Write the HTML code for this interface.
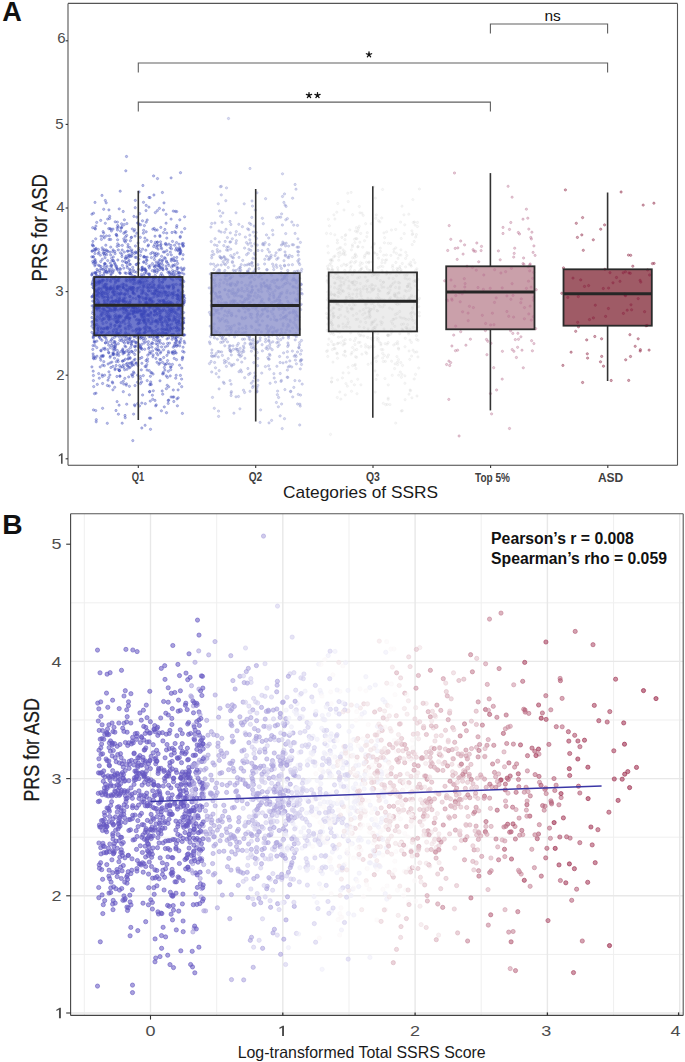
<!DOCTYPE html><html><head><meta charset="utf-8"><style>html,body{margin:0;padding:0;background:#fff;width:685px;height:1062px;overflow:hidden}svg{display:block;font-family:"Liberation Sans",sans-serif}.c0{fill:#685ac3;stroke:#685ac3}.c1{fill:#aca4de;stroke:#aca4de}.c2{fill:#d3cfee;stroke:#d3cfee}.c3{fill:#efeef9;stroke:#efeef9}.c4{fill:#fcf8f9;stroke:#fcf8f9}.c5{fill:#f1e2e6;stroke:#f1e2e6}.c6{fill:#e9cfd6;stroke:#e9cfd6}.c7{fill:#e1bfc9;stroke:#e1bfc9}.c8{fill:#dab0bd;stroke:#dab0bd}.c9{fill:#d4a4b2;stroke:#d4a4b2}.c10{fill:#cf98a8;stroke:#cf98a8}.c11{fill:#ca8d9f;stroke:#ca8d9f}.c12{fill:#c58497;stroke:#c58497}.c13{fill:#c17b8f;stroke:#c17b8f}.c14{fill:#bd7288;stroke:#bd7288}.c15{fill:#ba6a82;stroke:#ba6a82}.c16{fill:#b6637b;stroke:#b6637b}.c17{fill:#b35c75;stroke:#b35c75}.c18{fill:#b05670;stroke:#b05670}.c19{fill:#ad4f6b;stroke:#ad4f6b}.c20{fill:#aa4966;stroke:#aa4966}.c21{fill:#a84461;stroke:#a84461}.c22{fill:#a53e5c;stroke:#a53e5c}.c23{fill:#a33958;stroke:#a33958}.c24{fill:#a03454;stroke:#a03454}.c25{fill:#9e2f50;stroke:#9e2f50}.c26{fill:#9c2b4c;stroke:#9c2b4c}.c27{fill:#9a2648;stroke:#9a2648}.c28{fill:#982244;stroke:#982244}.c29{fill:#961e41;stroke:#961e41}</style></head><body><svg width="685" height="1062" viewBox="0 0 685 1062">
<rect width="685" height="1062" fill="#fff"/>
<rect x="94.2" y="277" width="88.3" height="58.3" fill="#6d77cc"/>
<rect x="211.5" y="273.1" width="88.3" height="61.9" fill="#a4a8d6"/>
<rect x="328.7" y="272.4" width="88.3" height="59" fill="#ececec"/>
<rect x="446.2" y="266.3" width="88.3" height="63" fill="#caa0aa"/>
<rect x="563.5" y="269.3" width="88.3" height="56.4" fill="#9f5b66"/>
<g fill="#3c48b9" stroke="#3c48b9" fill-opacity="0.32" stroke-opacity="0.42" stroke-width=".8">
<circle cx="171.1" cy="366.9" r="1.15"/>
<circle cx="175.7" cy="250" r="1.15"/>
<circle cx="105.5" cy="342.8" r="1.15"/>
<circle cx="134.8" cy="316.2" r="1.15"/>
<circle cx="110.2" cy="308.3" r="1.15"/>
<circle cx="119.3" cy="337.2" r="1.15"/>
<circle cx="126.1" cy="364.4" r="1.15"/>
<circle cx="150.5" cy="276.8" r="1.15"/>
<circle cx="100.7" cy="289.3" r="1.15"/>
<circle cx="178.1" cy="389.9" r="1.15"/>
<circle cx="164" cy="202.9" r="1.15"/>
<circle cx="95.9" cy="262.9" r="1.15"/>
<circle cx="93.3" cy="338" r="1.15"/>
<circle cx="153.9" cy="265.8" r="1.15"/>
<circle cx="146" cy="325.3" r="1.15"/>
<circle cx="137.4" cy="307.6" r="1.15"/>
<circle cx="152.3" cy="270.7" r="1.15"/>
<circle cx="160.8" cy="359.6" r="1.15"/>
<circle cx="159" cy="279.9" r="1.15"/>
<circle cx="179" cy="244.2" r="1.15"/>
<circle cx="129.8" cy="247.5" r="1.15"/>
<circle cx="129.9" cy="318" r="1.15"/>
<circle cx="111.4" cy="265.7" r="1.15"/>
<circle cx="93.4" cy="375.5" r="1.15"/>
<circle cx="174.4" cy="311.9" r="1.15"/>
<circle cx="120.7" cy="285.4" r="1.15"/>
<circle cx="129.3" cy="363.4" r="1.15"/>
<circle cx="158" cy="308.5" r="1.15"/>
<circle cx="117.5" cy="230" r="1.15"/>
<circle cx="120.2" cy="191.2" r="1.15"/>
<circle cx="146" cy="271.2" r="1.15"/>
<circle cx="157" cy="269" r="1.15"/>
<circle cx="157.9" cy="346.7" r="1.15"/>
<circle cx="130.1" cy="357.6" r="1.15"/>
<circle cx="145.1" cy="366.4" r="1.15"/>
<circle cx="94.8" cy="281.4" r="1.15"/>
<circle cx="167.9" cy="272.3" r="1.15"/>
<circle cx="118.9" cy="333.6" r="1.15"/>
<circle cx="95.5" cy="358.4" r="1.15"/>
<circle cx="122.7" cy="293.8" r="1.15"/>
<circle cx="106" cy="291.4" r="1.15"/>
<circle cx="111.9" cy="310.7" r="1.15"/>
<circle cx="177.8" cy="249.8" r="1.15"/>
<circle cx="157.1" cy="309" r="1.15"/>
<circle cx="131.9" cy="307.9" r="1.15"/>
<circle cx="151" cy="353.2" r="1.15"/>
<circle cx="146.2" cy="299.1" r="1.15"/>
<circle cx="117.1" cy="246.4" r="1.15"/>
<circle cx="139.1" cy="302.3" r="1.15"/>
<circle cx="119" cy="301.9" r="1.15"/>
<circle cx="94.1" cy="286.1" r="1.15"/>
<circle cx="180.7" cy="292.9" r="1.15"/>
<circle cx="140.7" cy="281.9" r="1.15"/>
<circle cx="110.8" cy="281.6" r="1.15"/>
<circle cx="142.1" cy="278.1" r="1.15"/>
<circle cx="153.5" cy="339.5" r="1.15"/>
<circle cx="114.4" cy="291.9" r="1.15"/>
<circle cx="131.6" cy="374.6" r="1.15"/>
<circle cx="99.1" cy="293.4" r="1.15"/>
<circle cx="117.8" cy="359.8" r="1.15"/>
<circle cx="135.5" cy="308.1" r="1.15"/>
<circle cx="176.3" cy="284.4" r="1.15"/>
<circle cx="183.7" cy="323" r="1.15"/>
<circle cx="122.3" cy="300.7" r="1.15"/>
<circle cx="120" cy="376.3" r="1.15"/>
<circle cx="94.2" cy="342.2" r="1.15"/>
<circle cx="91.8" cy="275.1" r="1.15"/>
<circle cx="147.7" cy="355.2" r="1.15"/>
<circle cx="173.7" cy="276.7" r="1.15"/>
<circle cx="137.8" cy="365.3" r="1.15"/>
<circle cx="151" cy="344.4" r="1.15"/>
<circle cx="133.2" cy="352.6" r="1.15"/>
<circle cx="107.3" cy="304.7" r="1.15"/>
<circle cx="183.8" cy="281.7" r="1.15"/>
<circle cx="182.6" cy="351.3" r="1.15"/>
<circle cx="126.3" cy="312.9" r="1.15"/>
<circle cx="116.3" cy="234.5" r="1.15"/>
<circle cx="152.3" cy="318.8" r="1.15"/>
<circle cx="119.8" cy="340.4" r="1.15"/>
<circle cx="168.3" cy="288.2" r="1.15"/>
<circle cx="115.8" cy="314.7" r="1.15"/>
<circle cx="115.2" cy="335.5" r="1.15"/>
<circle cx="112.7" cy="383" r="1.15"/>
<circle cx="102.5" cy="269.4" r="1.15"/>
<circle cx="140.1" cy="329.8" r="1.15"/>
<circle cx="173.1" cy="304.9" r="1.15"/>
<circle cx="123" cy="351.2" r="1.15"/>
<circle cx="96.1" cy="248.4" r="1.15"/>
<circle cx="100" cy="272.5" r="1.15"/>
<circle cx="143.6" cy="262.3" r="1.15"/>
<circle cx="113.5" cy="309.8" r="1.15"/>
<circle cx="105.4" cy="284.6" r="1.15"/>
<circle cx="104" cy="266.3" r="1.15"/>
<circle cx="113" cy="260.5" r="1.15"/>
<circle cx="101.7" cy="291.4" r="1.15"/>
<circle cx="181.8" cy="307.7" r="1.15"/>
<circle cx="97" cy="320.6" r="1.15"/>
<circle cx="176.1" cy="337.5" r="1.15"/>
<circle cx="161.6" cy="346.9" r="1.15"/>
<circle cx="109.3" cy="289.3" r="1.15"/>
<circle cx="147.8" cy="315.6" r="1.15"/>
<circle cx="123.3" cy="391.7" r="1.15"/>
<circle cx="128.2" cy="311.7" r="1.15"/>
<circle cx="125.6" cy="258.7" r="1.15"/>
<circle cx="162" cy="316.9" r="1.15"/>
<circle cx="107.4" cy="385.5" r="1.15"/>
<circle cx="160" cy="310.4" r="1.15"/>
<circle cx="110.7" cy="270.9" r="1.15"/>
<circle cx="138.8" cy="296.2" r="1.15"/>
<circle cx="182.3" cy="323.6" r="1.15"/>
<circle cx="139.1" cy="224.6" r="1.15"/>
<circle cx="96.7" cy="222.4" r="1.15"/>
<circle cx="121.1" cy="309.3" r="1.15"/>
<circle cx="144.8" cy="269.6" r="1.15"/>
<circle cx="107" cy="287.9" r="1.15"/>
<circle cx="154.9" cy="271" r="1.15"/>
<circle cx="160.5" cy="241.8" r="1.15"/>
<circle cx="166.8" cy="269.3" r="1.15"/>
<circle cx="160.1" cy="301.2" r="1.15"/>
<circle cx="97" cy="333.4" r="1.15"/>
<circle cx="126.9" cy="340.3" r="1.15"/>
<circle cx="150.9" cy="306.1" r="1.15"/>
<circle cx="167.7" cy="254.6" r="1.15"/>
<circle cx="112.5" cy="291.9" r="1.15"/>
<circle cx="183.9" cy="302.7" r="1.15"/>
<circle cx="152.9" cy="293.8" r="1.15"/>
<circle cx="183" cy="303.4" r="1.15"/>
<circle cx="138.4" cy="281.2" r="1.15"/>
<circle cx="173.7" cy="353.8" r="1.15"/>
<circle cx="153.3" cy="390.8" r="1.15"/>
<circle cx="138.8" cy="323.5" r="1.15"/>
<circle cx="153.2" cy="354.9" r="1.15"/>
<circle cx="116.3" cy="234.8" r="1.15"/>
<circle cx="133.8" cy="311.9" r="1.15"/>
<circle cx="173.8" cy="316" r="1.15"/>
<circle cx="108.9" cy="371.8" r="1.15"/>
<circle cx="143.1" cy="292.7" r="1.15"/>
<circle cx="101.7" cy="332.1" r="1.15"/>
<circle cx="126" cy="256.2" r="1.15"/>
<circle cx="177.3" cy="268.4" r="1.15"/>
<circle cx="181" cy="338.7" r="1.15"/>
<circle cx="151.8" cy="287.1" r="1.15"/>
<circle cx="107.3" cy="423.3" r="1.15"/>
<circle cx="138.2" cy="334.2" r="1.15"/>
<circle cx="94.4" cy="250.8" r="1.15"/>
<circle cx="172.6" cy="270.6" r="1.15"/>
<circle cx="146.4" cy="297.4" r="1.15"/>
<circle cx="168" cy="306.2" r="1.15"/>
<circle cx="122.4" cy="366.7" r="1.15"/>
<circle cx="164.7" cy="364.1" r="1.15"/>
<circle cx="96.2" cy="295.3" r="1.15"/>
<circle cx="94.8" cy="228.4" r="1.15"/>
<circle cx="152.7" cy="399.3" r="1.15"/>
<circle cx="147.9" cy="277.7" r="1.15"/>
<circle cx="171.1" cy="278.8" r="1.15"/>
<circle cx="152.4" cy="263.6" r="1.15"/>
<circle cx="114.7" cy="342.8" r="1.15"/>
<circle cx="176.5" cy="328" r="1.15"/>
<circle cx="167.5" cy="303" r="1.15"/>
<circle cx="128.7" cy="349.6" r="1.15"/>
<circle cx="174.2" cy="358.4" r="1.15"/>
<circle cx="167.6" cy="343.4" r="1.15"/>
<circle cx="97.3" cy="308.1" r="1.15"/>
<circle cx="110.1" cy="288.7" r="1.15"/>
<circle cx="149.9" cy="306" r="1.15"/>
<circle cx="123.1" cy="301.6" r="1.15"/>
<circle cx="141" cy="334.7" r="1.15"/>
<circle cx="126" cy="336.3" r="1.15"/>
<circle cx="161.6" cy="256.3" r="1.15"/>
<circle cx="169.2" cy="307.4" r="1.15"/>
<circle cx="153" cy="308.6" r="1.15"/>
<circle cx="129.6" cy="264.3" r="1.15"/>
<circle cx="181" cy="251.1" r="1.15"/>
<circle cx="104.1" cy="249.6" r="1.15"/>
<circle cx="106.2" cy="287.3" r="1.15"/>
<circle cx="99.4" cy="307.2" r="1.15"/>
<circle cx="168.9" cy="292.4" r="1.15"/>
<circle cx="105.1" cy="297.2" r="1.15"/>
<circle cx="165.3" cy="244.2" r="1.15"/>
<circle cx="158.3" cy="292.3" r="1.15"/>
<circle cx="156.2" cy="277.2" r="1.15"/>
<circle cx="127" cy="306.2" r="1.15"/>
<circle cx="122.3" cy="245.4" r="1.15"/>
<circle cx="162.7" cy="394.2" r="1.15"/>
<circle cx="113.3" cy="288.4" r="1.15"/>
<circle cx="131.4" cy="272.1" r="1.15"/>
<circle cx="118.9" cy="355.4" r="1.15"/>
<circle cx="123.2" cy="211.5" r="1.15"/>
<circle cx="171.3" cy="311.5" r="1.15"/>
<circle cx="135.4" cy="312" r="1.15"/>
<circle cx="139.2" cy="351.9" r="1.15"/>
<circle cx="159.8" cy="266.8" r="1.15"/>
<circle cx="96.9" cy="295.2" r="1.15"/>
<circle cx="116.8" cy="330.7" r="1.15"/>
<circle cx="169.6" cy="295.1" r="1.15"/>
<circle cx="132" cy="275.1" r="1.15"/>
<circle cx="110.1" cy="252.2" r="1.15"/>
<circle cx="97.4" cy="295.6" r="1.15"/>
<circle cx="135.1" cy="346.9" r="1.15"/>
<circle cx="101.5" cy="329.2" r="1.15"/>
<circle cx="156.2" cy="404.9" r="1.15"/>
<circle cx="133.9" cy="336.8" r="1.15"/>
<circle cx="146.2" cy="273" r="1.15"/>
<circle cx="173.7" cy="284.7" r="1.15"/>
<circle cx="103.8" cy="309.7" r="1.15"/>
<circle cx="160.3" cy="319.8" r="1.15"/>
<circle cx="135.1" cy="236.1" r="1.15"/>
<circle cx="97.7" cy="292.7" r="1.15"/>
<circle cx="159.1" cy="265.4" r="1.15"/>
<circle cx="123.2" cy="287.8" r="1.15"/>
<circle cx="164.3" cy="334.1" r="1.15"/>
<circle cx="180.2" cy="237.4" r="1.15"/>
<circle cx="93.8" cy="358.8" r="1.15"/>
<circle cx="94.9" cy="357" r="1.15"/>
<circle cx="145.9" cy="323.6" r="1.15"/>
<circle cx="148.9" cy="336.7" r="1.15"/>
<circle cx="136.7" cy="329.2" r="1.15"/>
<circle cx="169.5" cy="331.1" r="1.15"/>
<circle cx="156.2" cy="262.1" r="1.15"/>
<circle cx="152.1" cy="302.6" r="1.15"/>
<circle cx="130.9" cy="289.7" r="1.15"/>
<circle cx="162.6" cy="374" r="1.15"/>
<circle cx="158.6" cy="341.8" r="1.15"/>
<circle cx="105.1" cy="257.8" r="1.15"/>
<circle cx="110" cy="357.3" r="1.15"/>
<circle cx="150.7" cy="253.7" r="1.15"/>
<circle cx="163.5" cy="349.8" r="1.15"/>
<circle cx="174.3" cy="292" r="1.15"/>
<circle cx="115.1" cy="341.8" r="1.15"/>
<circle cx="157.1" cy="296.4" r="1.15"/>
<circle cx="131.2" cy="344.1" r="1.15"/>
<circle cx="121.5" cy="316.1" r="1.15"/>
<circle cx="125" cy="232.3" r="1.15"/>
<circle cx="165.8" cy="321.3" r="1.15"/>
<circle cx="133.9" cy="216.4" r="1.15"/>
<circle cx="161.8" cy="324.9" r="1.15"/>
<circle cx="93.3" cy="356.1" r="1.15"/>
<circle cx="153.5" cy="301.7" r="1.15"/>
<circle cx="176.1" cy="322.8" r="1.15"/>
<circle cx="184.7" cy="228.6" r="1.15"/>
<circle cx="160.5" cy="267.5" r="1.15"/>
<circle cx="180" cy="253.6" r="1.15"/>
<circle cx="144.5" cy="277.5" r="1.15"/>
<circle cx="150.1" cy="197.6" r="1.15"/>
<circle cx="176.8" cy="270.4" r="1.15"/>
<circle cx="162.6" cy="281.9" r="1.15"/>
<circle cx="180.4" cy="341" r="1.15"/>
<circle cx="148.2" cy="344.5" r="1.15"/>
<circle cx="183.8" cy="297" r="1.15"/>
<circle cx="95.5" cy="261.6" r="1.15"/>
<circle cx="144.1" cy="256.4" r="1.15"/>
<circle cx="124.9" cy="346" r="1.15"/>
<circle cx="96.8" cy="281.9" r="1.15"/>
<circle cx="111.6" cy="296.6" r="1.15"/>
<circle cx="149.3" cy="353.6" r="1.15"/>
<circle cx="94.7" cy="282.7" r="1.15"/>
<circle cx="137.6" cy="403.7" r="1.15"/>
<circle cx="120.8" cy="293.5" r="1.15"/>
<circle cx="149" cy="197.5" r="1.15"/>
<circle cx="115" cy="349.3" r="1.15"/>
<circle cx="110.1" cy="304.2" r="1.15"/>
<circle cx="114.7" cy="387.3" r="1.15"/>
<circle cx="176.1" cy="337.8" r="1.15"/>
<circle cx="108.5" cy="272.1" r="1.15"/>
<circle cx="135.5" cy="350.3" r="1.15"/>
<circle cx="106.5" cy="306.5" r="1.15"/>
<circle cx="155.9" cy="320.4" r="1.15"/>
<circle cx="178.4" cy="321.4" r="1.15"/>
<circle cx="107.4" cy="296.7" r="1.15"/>
<circle cx="122.8" cy="283.9" r="1.15"/>
<circle cx="114.9" cy="251.5" r="1.15"/>
<circle cx="142.1" cy="268.8" r="1.15"/>
<circle cx="98" cy="329.5" r="1.15"/>
<circle cx="165.7" cy="243.5" r="1.15"/>
<circle cx="166.8" cy="250.7" r="1.15"/>
<circle cx="151" cy="372.7" r="1.15"/>
<circle cx="141.7" cy="276.1" r="1.15"/>
<circle cx="109" cy="269.1" r="1.15"/>
<circle cx="126.6" cy="263" r="1.15"/>
<circle cx="147.2" cy="281.2" r="1.15"/>
<circle cx="147.5" cy="361.4" r="1.15"/>
<circle cx="119.5" cy="316.6" r="1.15"/>
<circle cx="142.6" cy="395" r="1.15"/>
<circle cx="137.4" cy="311.8" r="1.15"/>
<circle cx="184.6" cy="216.8" r="1.15"/>
<circle cx="160.6" cy="275.3" r="1.15"/>
<circle cx="120.1" cy="268.6" r="1.15"/>
<circle cx="107.9" cy="327.3" r="1.15"/>
<circle cx="112.9" cy="349.1" r="1.15"/>
<circle cx="168.4" cy="351.5" r="1.15"/>
<circle cx="178.7" cy="299.6" r="1.15"/>
<circle cx="111.4" cy="339.9" r="1.15"/>
<circle cx="136.7" cy="332.7" r="1.15"/>
<circle cx="104.4" cy="255.2" r="1.15"/>
<circle cx="150.4" cy="376.3" r="1.15"/>
<circle cx="111.9" cy="362.1" r="1.15"/>
<circle cx="131.2" cy="327.2" r="1.15"/>
<circle cx="123.9" cy="309.3" r="1.15"/>
<circle cx="162.2" cy="310.6" r="1.15"/>
<circle cx="104.3" cy="365.7" r="1.15"/>
<circle cx="139.4" cy="296.6" r="1.15"/>
<circle cx="155.7" cy="310.6" r="1.15"/>
<circle cx="127.6" cy="289.6" r="1.15"/>
<circle cx="123.5" cy="352.1" r="1.15"/>
<circle cx="93.7" cy="294.3" r="1.15"/>
<circle cx="101.8" cy="295.4" r="1.15"/>
<circle cx="107.3" cy="333.7" r="1.15"/>
<circle cx="106.8" cy="314.5" r="1.15"/>
<circle cx="146" cy="329.1" r="1.15"/>
<circle cx="147.9" cy="246" r="1.15"/>
<circle cx="132.8" cy="440.6" r="1.15"/>
<circle cx="129.2" cy="367.9" r="1.15"/>
<circle cx="181.6" cy="379.1" r="1.15"/>
<circle cx="157.4" cy="321.4" r="1.15"/>
<circle cx="173.7" cy="334.5" r="1.15"/>
<circle cx="143.9" cy="322.9" r="1.15"/>
<circle cx="130.4" cy="273.7" r="1.15"/>
<circle cx="166.3" cy="375.9" r="1.15"/>
<circle cx="148.4" cy="341.7" r="1.15"/>
<circle cx="94.2" cy="314.7" r="1.15"/>
<circle cx="182.6" cy="357.2" r="1.15"/>
<circle cx="134.2" cy="288.9" r="1.15"/>
<circle cx="148.3" cy="290.6" r="1.15"/>
<circle cx="135.2" cy="335.9" r="1.15"/>
<circle cx="141.6" cy="382" r="1.15"/>
<circle cx="126.7" cy="235.4" r="1.15"/>
<circle cx="123.9" cy="284.5" r="1.15"/>
<circle cx="166.9" cy="286.6" r="1.15"/>
<circle cx="159.5" cy="301.8" r="1.15"/>
<circle cx="164.3" cy="305.3" r="1.15"/>
<circle cx="117.4" cy="268.8" r="1.15"/>
<circle cx="160.4" cy="305.7" r="1.15"/>
<circle cx="162.4" cy="332.4" r="1.15"/>
<circle cx="183.9" cy="274.1" r="1.15"/>
<circle cx="163.9" cy="302.4" r="1.15"/>
<circle cx="130" cy="338.6" r="1.15"/>
<circle cx="139.1" cy="344.4" r="1.15"/>
<circle cx="121.9" cy="254.3" r="1.15"/>
<circle cx="94.2" cy="277.5" r="1.15"/>
<circle cx="107.7" cy="219.1" r="1.15"/>
<circle cx="150.1" cy="327.9" r="1.15"/>
<circle cx="141.3" cy="337.3" r="1.15"/>
<circle cx="123.2" cy="287.4" r="1.15"/>
<circle cx="148.5" cy="245" r="1.15"/>
<circle cx="135.1" cy="279" r="1.15"/>
<circle cx="126.8" cy="286.1" r="1.15"/>
<circle cx="137.6" cy="222.9" r="1.15"/>
<circle cx="114.6" cy="337.3" r="1.15"/>
<circle cx="135" cy="359.2" r="1.15"/>
<circle cx="141.6" cy="337.3" r="1.15"/>
<circle cx="104.5" cy="318.8" r="1.15"/>
<circle cx="118.1" cy="288.7" r="1.15"/>
<circle cx="173.8" cy="260.5" r="1.15"/>
<circle cx="146.8" cy="287.3" r="1.15"/>
<circle cx="123.8" cy="238.8" r="1.15"/>
<circle cx="94.3" cy="340.9" r="1.15"/>
<circle cx="117.4" cy="222.1" r="1.15"/>
<circle cx="102" cy="340.3" r="1.15"/>
<circle cx="179.8" cy="254.1" r="1.15"/>
<circle cx="139.3" cy="345.7" r="1.15"/>
<circle cx="96.2" cy="290.1" r="1.15"/>
<circle cx="145.1" cy="302.8" r="1.15"/>
<circle cx="144.3" cy="282.5" r="1.15"/>
<circle cx="129.3" cy="272.3" r="1.15"/>
<circle cx="147.9" cy="314.2" r="1.15"/>
<circle cx="171.9" cy="307.9" r="1.15"/>
<circle cx="108.1" cy="294.6" r="1.15"/>
<circle cx="103.8" cy="361.7" r="1.15"/>
<circle cx="150.3" cy="336.8" r="1.15"/>
<circle cx="143.3" cy="375.6" r="1.15"/>
<circle cx="165" cy="304.7" r="1.15"/>
<circle cx="159.4" cy="208.4" r="1.15"/>
<circle cx="172.9" cy="272.7" r="1.15"/>
<circle cx="175.8" cy="342.6" r="1.15"/>
<circle cx="156.9" cy="335.7" r="1.15"/>
<circle cx="126.3" cy="262.6" r="1.15"/>
<circle cx="120.2" cy="325.6" r="1.15"/>
<circle cx="102.1" cy="374.9" r="1.15"/>
<circle cx="104.8" cy="349.4" r="1.15"/>
<circle cx="174.7" cy="350.8" r="1.15"/>
<circle cx="92.8" cy="349.4" r="1.15"/>
<circle cx="162.7" cy="275.6" r="1.15"/>
<circle cx="145.9" cy="301.9" r="1.15"/>
<circle cx="115" cy="369.7" r="1.15"/>
<circle cx="97.6" cy="328.4" r="1.15"/>
<circle cx="134.8" cy="354.5" r="1.15"/>
<circle cx="163.7" cy="357.5" r="1.15"/>
<circle cx="119.3" cy="370.5" r="1.15"/>
<circle cx="95.4" cy="229" r="1.15"/>
<circle cx="129.7" cy="318.3" r="1.15"/>
<circle cx="164.5" cy="279.9" r="1.15"/>
<circle cx="142.3" cy="267.2" r="1.15"/>
<circle cx="176.2" cy="321.7" r="1.15"/>
<circle cx="130.5" cy="281.7" r="1.15"/>
<circle cx="135" cy="281.5" r="1.15"/>
<circle cx="184.1" cy="295.3" r="1.15"/>
<circle cx="157.3" cy="210.7" r="1.15"/>
<circle cx="117.1" cy="292.6" r="1.15"/>
<circle cx="180.1" cy="314.9" r="1.15"/>
<circle cx="115.9" cy="276.9" r="1.15"/>
<circle cx="92.7" cy="227.7" r="1.15"/>
<circle cx="143.9" cy="261.8" r="1.15"/>
<circle cx="118.8" cy="325.8" r="1.15"/>
<circle cx="136.3" cy="342.3" r="1.15"/>
<circle cx="115.7" cy="345.4" r="1.15"/>
<circle cx="152.5" cy="333.8" r="1.15"/>
<circle cx="138.1" cy="288.2" r="1.15"/>
<circle cx="123.8" cy="268.2" r="1.15"/>
<circle cx="145.3" cy="403.7" r="1.15"/>
<circle cx="151.2" cy="305.8" r="1.15"/>
<circle cx="168.5" cy="353" r="1.15"/>
<circle cx="143.9" cy="275.3" r="1.15"/>
<circle cx="98.4" cy="265.2" r="1.15"/>
<circle cx="145.4" cy="338.8" r="1.15"/>
<circle cx="96.7" cy="324.5" r="1.15"/>
<circle cx="134.4" cy="346.3" r="1.15"/>
<circle cx="160.7" cy="288" r="1.15"/>
<circle cx="109.9" cy="375" r="1.15"/>
<circle cx="123" cy="353.9" r="1.15"/>
<circle cx="171.7" cy="334.7" r="1.15"/>
<circle cx="112.8" cy="251.7" r="1.15"/>
<circle cx="105.3" cy="200.5" r="1.15"/>
<circle cx="157.2" cy="304.1" r="1.15"/>
<circle cx="139.9" cy="358.5" r="1.15"/>
<circle cx="125.7" cy="301.8" r="1.15"/>
<circle cx="136.3" cy="342.8" r="1.15"/>
<circle cx="126.1" cy="285" r="1.15"/>
<circle cx="113.2" cy="353.4" r="1.15"/>
<circle cx="143.6" cy="321" r="1.15"/>
<circle cx="93.4" cy="305.6" r="1.15"/>
<circle cx="143" cy="282.4" r="1.15"/>
<circle cx="115.3" cy="308.3" r="1.15"/>
<circle cx="106.1" cy="249.9" r="1.15"/>
<circle cx="149.8" cy="299.6" r="1.15"/>
<circle cx="126.4" cy="383.8" r="1.15"/>
<circle cx="115.3" cy="264.8" r="1.15"/>
<circle cx="165.2" cy="317.6" r="1.15"/>
<circle cx="128.6" cy="334.1" r="1.15"/>
<circle cx="101.4" cy="239.4" r="1.15"/>
<circle cx="104.9" cy="348.2" r="1.15"/>
<circle cx="117.9" cy="301.8" r="1.15"/>
<circle cx="134.3" cy="336" r="1.15"/>
<circle cx="157.2" cy="246.2" r="1.15"/>
<circle cx="156.6" cy="320.8" r="1.15"/>
<circle cx="119.9" cy="294.7" r="1.15"/>
<circle cx="116.1" cy="365.5" r="1.15"/>
<circle cx="176.5" cy="242.6" r="1.15"/>
<circle cx="131.3" cy="351.5" r="1.15"/>
<circle cx="122.4" cy="265.4" r="1.15"/>
<circle cx="154.6" cy="256.6" r="1.15"/>
<circle cx="108" cy="251.4" r="1.15"/>
<circle cx="95.9" cy="226.1" r="1.15"/>
<circle cx="101.3" cy="355.9" r="1.15"/>
<circle cx="92.9" cy="287.5" r="1.15"/>
<circle cx="150.4" cy="299" r="1.15"/>
<circle cx="182.7" cy="286.7" r="1.15"/>
<circle cx="128.5" cy="257.2" r="1.15"/>
<circle cx="163.9" cy="300.2" r="1.15"/>
<circle cx="143.5" cy="340.5" r="1.15"/>
<circle cx="136.9" cy="309.2" r="1.15"/>
<circle cx="166.8" cy="238.1" r="1.15"/>
<circle cx="97" cy="356.2" r="1.15"/>
<circle cx="113" cy="301.5" r="1.15"/>
<circle cx="96.8" cy="347.6" r="1.15"/>
<circle cx="93.4" cy="256.8" r="1.15"/>
<circle cx="132.7" cy="376.6" r="1.15"/>
<circle cx="144" cy="319.8" r="1.15"/>
<circle cx="173.2" cy="310.4" r="1.15"/>
<circle cx="107.9" cy="299.9" r="1.15"/>
<circle cx="143.5" cy="202.3" r="1.15"/>
<circle cx="140.3" cy="237.4" r="1.15"/>
<circle cx="156.8" cy="349.7" r="1.15"/>
<circle cx="173.3" cy="211.1" r="1.15"/>
<circle cx="152.9" cy="356.8" r="1.15"/>
<circle cx="129.4" cy="386.3" r="1.15"/>
<circle cx="147.1" cy="370.1" r="1.15"/>
<circle cx="167.5" cy="296.1" r="1.15"/>
<circle cx="99.6" cy="281.7" r="1.15"/>
<circle cx="150.3" cy="401.1" r="1.15"/>
<circle cx="118.3" cy="286" r="1.15"/>
<circle cx="141.9" cy="316.6" r="1.15"/>
<circle cx="141.5" cy="274.3" r="1.15"/>
<circle cx="151.8" cy="321.7" r="1.15"/>
<circle cx="127.1" cy="265.8" r="1.15"/>
<circle cx="110" cy="280.4" r="1.15"/>
<circle cx="102.4" cy="356" r="1.15"/>
<circle cx="125.4" cy="242.1" r="1.15"/>
<circle cx="183.2" cy="295.7" r="1.15"/>
<circle cx="179.7" cy="273.2" r="1.15"/>
<circle cx="180.3" cy="250.1" r="1.15"/>
<circle cx="149.3" cy="347.4" r="1.15"/>
<circle cx="125.6" cy="308.7" r="1.15"/>
<circle cx="155.9" cy="340.7" r="1.15"/>
<circle cx="135.9" cy="345.9" r="1.15"/>
<circle cx="98.4" cy="293.4" r="1.15"/>
<circle cx="98.3" cy="290.2" r="1.15"/>
<circle cx="110.7" cy="247.1" r="1.15"/>
<circle cx="92.5" cy="244.7" r="1.15"/>
<circle cx="137.8" cy="305.9" r="1.15"/>
<circle cx="132" cy="341.4" r="1.15"/>
<circle cx="176.7" cy="211.6" r="1.15"/>
<circle cx="125.9" cy="309.6" r="1.15"/>
<circle cx="111.3" cy="345.4" r="1.15"/>
<circle cx="162" cy="323.4" r="1.15"/>
<circle cx="112.9" cy="292.8" r="1.15"/>
<circle cx="132" cy="255.8" r="1.15"/>
<circle cx="158" cy="262.8" r="1.15"/>
<circle cx="157.9" cy="286" r="1.15"/>
<circle cx="100.7" cy="315.7" r="1.15"/>
<circle cx="94.7" cy="297.7" r="1.15"/>
<circle cx="103.4" cy="318.5" r="1.15"/>
<circle cx="111.3" cy="301.9" r="1.15"/>
<circle cx="171" cy="309.5" r="1.15"/>
<circle cx="139.1" cy="282.1" r="1.15"/>
<circle cx="168.7" cy="386.8" r="1.15"/>
<circle cx="136.3" cy="320" r="1.15"/>
<circle cx="144.4" cy="317.6" r="1.15"/>
<circle cx="114.1" cy="354.1" r="1.15"/>
<circle cx="135.5" cy="312.5" r="1.15"/>
<circle cx="126.6" cy="350.8" r="1.15"/>
<circle cx="178.4" cy="333.9" r="1.15"/>
<circle cx="175.2" cy="317.6" r="1.15"/>
<circle cx="127.8" cy="316" r="1.15"/>
<circle cx="166.5" cy="329.9" r="1.15"/>
<circle cx="113.3" cy="257" r="1.15"/>
<circle cx="138.1" cy="296.2" r="1.15"/>
<circle cx="178.2" cy="291" r="1.15"/>
<circle cx="177.8" cy="294.8" r="1.15"/>
<circle cx="117.5" cy="334" r="1.15"/>
<circle cx="152.8" cy="343.4" r="1.15"/>
<circle cx="111.7" cy="268.5" r="1.15"/>
<circle cx="169.7" cy="320.3" r="1.15"/>
<circle cx="150.7" cy="382" r="1.15"/>
<circle cx="168.2" cy="400.6" r="1.15"/>
<circle cx="176" cy="295.3" r="1.15"/>
<circle cx="139.8" cy="337" r="1.15"/>
<circle cx="95.5" cy="307.9" r="1.15"/>
<circle cx="172.2" cy="328.8" r="1.15"/>
<circle cx="182.7" cy="322.7" r="1.15"/>
<circle cx="175" cy="312.5" r="1.15"/>
<circle cx="125.4" cy="359.2" r="1.15"/>
<circle cx="131.5" cy="305.8" r="1.15"/>
<circle cx="166.6" cy="262.1" r="1.15"/>
<circle cx="149.2" cy="274.7" r="1.15"/>
<circle cx="147.2" cy="380.6" r="1.15"/>
<circle cx="141.9" cy="363.3" r="1.15"/>
<circle cx="110.2" cy="362.9" r="1.15"/>
<circle cx="114.5" cy="315.8" r="1.15"/>
<circle cx="161.3" cy="267.8" r="1.15"/>
<circle cx="164" cy="290.9" r="1.15"/>
<circle cx="123.3" cy="381.2" r="1.15"/>
<circle cx="129.6" cy="302.6" r="1.15"/>
<circle cx="163.1" cy="269.9" r="1.15"/>
<circle cx="179.8" cy="324.5" r="1.15"/>
<circle cx="146.2" cy="222.2" r="1.15"/>
<circle cx="94.9" cy="333.3" r="1.15"/>
<circle cx="158.2" cy="254" r="1.15"/>
<circle cx="106.2" cy="202.8" r="1.15"/>
<circle cx="146" cy="360.5" r="1.15"/>
<circle cx="108.5" cy="319" r="1.15"/>
<circle cx="103.4" cy="280" r="1.15"/>
<circle cx="121.1" cy="382.7" r="1.15"/>
<circle cx="182.9" cy="280.4" r="1.15"/>
<circle cx="102.5" cy="292.6" r="1.15"/>
<circle cx="166.7" cy="323.3" r="1.15"/>
<circle cx="184.1" cy="341.3" r="1.15"/>
<circle cx="176.6" cy="327.8" r="1.15"/>
<circle cx="182" cy="318.2" r="1.15"/>
<circle cx="100.8" cy="360.2" r="1.15"/>
<circle cx="180.3" cy="236.5" r="1.15"/>
<circle cx="172.3" cy="353.2" r="1.15"/>
<circle cx="103" cy="323.6" r="1.15"/>
<circle cx="166.1" cy="333.7" r="1.15"/>
<circle cx="140.4" cy="322.9" r="1.15"/>
<circle cx="119.2" cy="300.9" r="1.15"/>
<circle cx="168.6" cy="337.9" r="1.15"/>
<circle cx="156.5" cy="315.2" r="1.15"/>
<circle cx="157.2" cy="230" r="1.15"/>
<circle cx="172.2" cy="259.1" r="1.15"/>
<circle cx="179.8" cy="317.5" r="1.15"/>
<circle cx="158.3" cy="265.5" r="1.15"/>
<circle cx="112.4" cy="338.4" r="1.15"/>
<circle cx="147.7" cy="295.2" r="1.15"/>
<circle cx="170.5" cy="367.1" r="1.15"/>
<circle cx="112.9" cy="354.7" r="1.15"/>
<circle cx="127.8" cy="342.6" r="1.15"/>
<circle cx="92" cy="251.2" r="1.15"/>
<circle cx="124.9" cy="294.9" r="1.15"/>
<circle cx="92.8" cy="281.2" r="1.15"/>
<circle cx="184.6" cy="298.4" r="1.15"/>
<circle cx="131.3" cy="289" r="1.15"/>
<circle cx="117.9" cy="286.7" r="1.15"/>
<circle cx="134.4" cy="271.7" r="1.15"/>
<circle cx="149.3" cy="298" r="1.15"/>
<circle cx="131.5" cy="344.8" r="1.15"/>
<circle cx="175.7" cy="339.4" r="1.15"/>
<circle cx="170.3" cy="252.2" r="1.15"/>
<circle cx="182.2" cy="243.6" r="1.15"/>
<circle cx="118.8" cy="280.7" r="1.15"/>
<circle cx="116.9" cy="376.5" r="1.15"/>
<circle cx="160" cy="236.5" r="1.15"/>
<circle cx="132.9" cy="290.9" r="1.15"/>
<circle cx="123.1" cy="308.2" r="1.15"/>
<circle cx="157.4" cy="304.1" r="1.15"/>
<circle cx="118.4" cy="321.2" r="1.15"/>
<circle cx="154.2" cy="228.5" r="1.15"/>
<circle cx="146.2" cy="231.8" r="1.15"/>
<circle cx="131.9" cy="351.3" r="1.15"/>
<circle cx="123.8" cy="313.2" r="1.15"/>
<circle cx="113.4" cy="291.8" r="1.15"/>
<circle cx="94.2" cy="249.5" r="1.15"/>
<circle cx="95.7" cy="410.6" r="1.15"/>
<circle cx="95.2" cy="264.5" r="1.15"/>
<circle cx="172" cy="232.5" r="1.15"/>
<circle cx="161.2" cy="319.5" r="1.15"/>
<circle cx="94" cy="307.2" r="1.15"/>
<circle cx="107.2" cy="250.9" r="1.15"/>
<circle cx="106.4" cy="289" r="1.15"/>
<circle cx="166.8" cy="363.5" r="1.15"/>
<circle cx="103.1" cy="356.4" r="1.15"/>
<circle cx="100.8" cy="350.4" r="1.15"/>
<circle cx="130.2" cy="367.2" r="1.15"/>
<circle cx="154.7" cy="305.8" r="1.15"/>
<circle cx="149.7" cy="328.2" r="1.15"/>
<circle cx="166.4" cy="303.8" r="1.15"/>
<circle cx="171.7" cy="274.9" r="1.15"/>
<circle cx="121.5" cy="227.8" r="1.15"/>
<circle cx="161.6" cy="296.2" r="1.15"/>
<circle cx="181.7" cy="386.7" r="1.15"/>
<circle cx="157.7" cy="245" r="1.15"/>
<circle cx="169.4" cy="310.8" r="1.15"/>
<circle cx="171.3" cy="254.9" r="1.15"/>
<circle cx="95.1" cy="325.3" r="1.15"/>
<circle cx="164.9" cy="292.4" r="1.15"/>
<circle cx="114.4" cy="311.5" r="1.15"/>
<circle cx="107.2" cy="306.8" r="1.15"/>
<circle cx="102.7" cy="250.1" r="1.15"/>
<circle cx="138.2" cy="334.2" r="1.15"/>
<circle cx="146.1" cy="298.6" r="1.15"/>
<circle cx="183.1" cy="296.1" r="1.15"/>
<circle cx="178.8" cy="322.6" r="1.15"/>
<circle cx="117.1" cy="401.6" r="1.15"/>
<circle cx="157.5" cy="290.6" r="1.15"/>
<circle cx="150.5" cy="429.3" r="1.15"/>
<circle cx="93.2" cy="371.2" r="1.15"/>
<circle cx="177.2" cy="325.8" r="1.15"/>
<circle cx="120.1" cy="287" r="1.15"/>
<circle cx="116.9" cy="268.2" r="1.15"/>
<circle cx="183.5" cy="269.7" r="1.15"/>
<circle cx="180.8" cy="279.7" r="1.15"/>
<circle cx="160" cy="321.5" r="1.15"/>
<circle cx="120.4" cy="252.8" r="1.15"/>
<circle cx="109.9" cy="317.3" r="1.15"/>
<circle cx="91.8" cy="256.8" r="1.15"/>
<circle cx="141.8" cy="403.1" r="1.15"/>
<circle cx="173.2" cy="347.2" r="1.15"/>
<circle cx="132.8" cy="330.8" r="1.15"/>
<circle cx="181.1" cy="305.8" r="1.15"/>
<circle cx="93.5" cy="409.9" r="1.15"/>
<circle cx="142.2" cy="270.2" r="1.15"/>
<circle cx="114.3" cy="262.5" r="1.15"/>
<circle cx="118.7" cy="271.4" r="1.15"/>
<circle cx="178.3" cy="328.2" r="1.15"/>
<circle cx="155.4" cy="242.3" r="1.15"/>
<circle cx="161.6" cy="329.5" r="1.15"/>
<circle cx="107.1" cy="266.1" r="1.15"/>
<circle cx="96.4" cy="308.2" r="1.15"/>
<circle cx="112.8" cy="306.5" r="1.15"/>
<circle cx="137.4" cy="312.4" r="1.15"/>
<circle cx="114.3" cy="306.6" r="1.15"/>
<circle cx="147.2" cy="257.2" r="1.15"/>
<circle cx="138.1" cy="243" r="1.15"/>
<circle cx="183.4" cy="243.5" r="1.15"/>
<circle cx="166" cy="266.1" r="1.15"/>
<circle cx="134.4" cy="276.6" r="1.15"/>
<circle cx="123.1" cy="286" r="1.15"/>
<circle cx="111" cy="229.1" r="1.15"/>
<circle cx="167.3" cy="324.8" r="1.15"/>
<circle cx="143.8" cy="333.2" r="1.15"/>
<circle cx="169.9" cy="303.5" r="1.15"/>
<circle cx="99.3" cy="378.2" r="1.15"/>
<circle cx="159.9" cy="316" r="1.15"/>
<circle cx="103.6" cy="308.2" r="1.15"/>
<circle cx="114.3" cy="350.4" r="1.15"/>
<circle cx="138.7" cy="330.7" r="1.15"/>
<circle cx="96.1" cy="275.4" r="1.15"/>
<circle cx="149" cy="315.7" r="1.15"/>
<circle cx="147.4" cy="302.3" r="1.15"/>
<circle cx="107.7" cy="260.6" r="1.15"/>
<circle cx="109.2" cy="332.4" r="1.15"/>
<circle cx="166.9" cy="355.4" r="1.15"/>
<circle cx="178.6" cy="307.4" r="1.15"/>
<circle cx="173.4" cy="287.2" r="1.15"/>
<circle cx="151.3" cy="384.5" r="1.15"/>
<circle cx="153" cy="277.1" r="1.15"/>
<circle cx="175.1" cy="319.3" r="1.15"/>
<circle cx="150.1" cy="323.6" r="1.15"/>
<circle cx="144.1" cy="343.1" r="1.15"/>
<circle cx="104.5" cy="313.7" r="1.15"/>
<circle cx="104.9" cy="263.7" r="1.15"/>
<circle cx="99.3" cy="282.6" r="1.15"/>
<circle cx="113.8" cy="270.3" r="1.15"/>
<circle cx="153.1" cy="321.4" r="1.15"/>
<circle cx="155" cy="236.2" r="1.15"/>
<circle cx="122.2" cy="250" r="1.15"/>
<circle cx="132.4" cy="306.3" r="1.15"/>
<circle cx="96.3" cy="419.7" r="1.15"/>
<circle cx="104.8" cy="302.8" r="1.15"/>
<circle cx="142.9" cy="185.5" r="1.15"/>
<circle cx="99.1" cy="307.8" r="1.15"/>
<circle cx="158.6" cy="349.8" r="1.15"/>
<circle cx="134" cy="231.1" r="1.15"/>
<circle cx="103.2" cy="332.1" r="1.15"/>
<circle cx="149.8" cy="283.8" r="1.15"/>
<circle cx="154.5" cy="272" r="1.15"/>
<circle cx="118.3" cy="369.3" r="1.15"/>
<circle cx="143.6" cy="299.7" r="1.15"/>
<circle cx="156.3" cy="253.3" r="1.15"/>
<circle cx="102.7" cy="319.5" r="1.15"/>
<circle cx="177.6" cy="276.8" r="1.15"/>
<circle cx="129.8" cy="306.1" r="1.15"/>
<circle cx="147" cy="260.4" r="1.15"/>
<circle cx="124.2" cy="224.6" r="1.15"/>
<circle cx="108.8" cy="352.9" r="1.15"/>
<circle cx="115.7" cy="317.6" r="1.15"/>
<circle cx="163.7" cy="288" r="1.15"/>
<circle cx="163" cy="332.6" r="1.15"/>
<circle cx="96.9" cy="341.1" r="1.15"/>
<circle cx="124.9" cy="320.2" r="1.15"/>
<circle cx="118.6" cy="316.8" r="1.15"/>
<circle cx="117.9" cy="333.6" r="1.15"/>
<circle cx="133.1" cy="290.8" r="1.15"/>
<circle cx="133.3" cy="269.9" r="1.15"/>
<circle cx="94.6" cy="272.6" r="1.15"/>
<circle cx="155.2" cy="275.4" r="1.15"/>
<circle cx="103.1" cy="253.1" r="1.15"/>
<circle cx="172.4" cy="364.4" r="1.15"/>
<circle cx="97.2" cy="310" r="1.15"/>
<circle cx="178.4" cy="296.8" r="1.15"/>
<circle cx="99.2" cy="282.1" r="1.15"/>
<circle cx="104.6" cy="375.2" r="1.15"/>
<circle cx="166.1" cy="223.2" r="1.15"/>
<circle cx="118.3" cy="343.7" r="1.15"/>
<circle cx="159.9" cy="293.5" r="1.15"/>
<circle cx="181.8" cy="272.9" r="1.15"/>
<circle cx="174" cy="257.7" r="1.15"/>
<circle cx="111.3" cy="334.8" r="1.15"/>
<circle cx="107.4" cy="328.5" r="1.15"/>
<circle cx="129" cy="288.8" r="1.15"/>
<circle cx="128.7" cy="279.4" r="1.15"/>
<circle cx="111.8" cy="265.3" r="1.15"/>
<circle cx="97.4" cy="307.4" r="1.15"/>
<circle cx="172.3" cy="335.1" r="1.15"/>
<circle cx="159.7" cy="363" r="1.15"/>
<circle cx="113" cy="229.1" r="1.15"/>
<circle cx="132.4" cy="364.7" r="1.15"/>
<circle cx="92" cy="274.5" r="1.15"/>
<circle cx="163.4" cy="292.8" r="1.15"/>
<circle cx="105" cy="271.7" r="1.15"/>
<circle cx="138.1" cy="263.4" r="1.15"/>
<circle cx="183" cy="246.2" r="1.15"/>
<circle cx="133.2" cy="307.4" r="1.15"/>
<circle cx="133" cy="287.6" r="1.15"/>
<circle cx="112.9" cy="389.8" r="1.15"/>
<circle cx="118.5" cy="302.9" r="1.15"/>
<circle cx="141.8" cy="344.3" r="1.15"/>
<circle cx="154.2" cy="311.5" r="1.15"/>
<circle cx="92.3" cy="251" r="1.15"/>
<circle cx="97.7" cy="300.2" r="1.15"/>
<circle cx="176.8" cy="257.4" r="1.15"/>
<circle cx="171.4" cy="313.5" r="1.15"/>
<circle cx="153.9" cy="287.4" r="1.15"/>
<circle cx="183.3" cy="322.8" r="1.15"/>
<circle cx="125" cy="415.5" r="1.15"/>
<circle cx="116.7" cy="335.8" r="1.15"/>
<circle cx="143.2" cy="316.3" r="1.15"/>
<circle cx="111.7" cy="297.9" r="1.15"/>
<circle cx="168.4" cy="304.6" r="1.15"/>
<circle cx="126.3" cy="310.2" r="1.15"/>
<circle cx="146.2" cy="263.5" r="1.15"/>
<circle cx="159.1" cy="277.5" r="1.15"/>
<circle cx="92" cy="322" r="1.15"/>
<circle cx="115.9" cy="266.8" r="1.15"/>
<circle cx="162.2" cy="391" r="1.15"/>
<circle cx="167.5" cy="317" r="1.15"/>
<circle cx="144.1" cy="311.1" r="1.15"/>
<circle cx="176.4" cy="248" r="1.15"/>
<circle cx="170.9" cy="328" r="1.15"/>
<circle cx="115.2" cy="368.6" r="1.15"/>
<circle cx="103.7" cy="296.9" r="1.15"/>
<circle cx="111.4" cy="231" r="1.15"/>
<circle cx="129.6" cy="313.7" r="1.15"/>
<circle cx="143.8" cy="308.8" r="1.15"/>
<circle cx="176.1" cy="313.4" r="1.15"/>
<circle cx="171" cy="302.2" r="1.15"/>
<circle cx="102.2" cy="247.8" r="1.15"/>
<circle cx="171.1" cy="219.1" r="1.15"/>
<circle cx="181.5" cy="284" r="1.15"/>
<circle cx="179.4" cy="309" r="1.15"/>
<circle cx="121.6" cy="223.8" r="1.15"/>
<circle cx="149.6" cy="300.1" r="1.15"/>
<circle cx="116" cy="301.5" r="1.15"/>
<circle cx="109.1" cy="319.9" r="1.15"/>
<circle cx="173.8" cy="318.1" r="1.15"/>
<circle cx="172.8" cy="293.9" r="1.15"/>
<circle cx="97.4" cy="316.8" r="1.15"/>
<circle cx="104.5" cy="286.1" r="1.15"/>
<circle cx="107.5" cy="300.3" r="1.15"/>
<circle cx="139.9" cy="280.1" r="1.15"/>
<circle cx="101.9" cy="320.9" r="1.15"/>
<circle cx="150.7" cy="313" r="1.15"/>
<circle cx="118.7" cy="293.7" r="1.15"/>
<circle cx="104.1" cy="301.3" r="1.15"/>
<circle cx="122.7" cy="299.9" r="1.15"/>
<circle cx="103.9" cy="253.4" r="1.15"/>
<circle cx="152.6" cy="350.9" r="1.15"/>
<circle cx="166.4" cy="388.7" r="1.15"/>
<circle cx="112.8" cy="272.8" r="1.15"/>
<circle cx="148.7" cy="314.8" r="1.15"/>
<circle cx="92.6" cy="245.6" r="1.15"/>
<circle cx="115.8" cy="308" r="1.15"/>
<circle cx="116.9" cy="355.1" r="1.15"/>
<circle cx="119.2" cy="208.9" r="1.15"/>
<circle cx="139.9" cy="286.9" r="1.15"/>
<circle cx="157.8" cy="323.9" r="1.15"/>
<circle cx="172.5" cy="337" r="1.15"/>
<circle cx="133.6" cy="279.9" r="1.15"/>
<circle cx="126.2" cy="333.7" r="1.15"/>
<circle cx="104.3" cy="287.4" r="1.15"/>
<circle cx="115.1" cy="253.7" r="1.15"/>
<circle cx="146.8" cy="364.7" r="1.15"/>
<circle cx="178.6" cy="319.9" r="1.15"/>
<circle cx="133" cy="283.5" r="1.15"/>
<circle cx="181.6" cy="232.2" r="1.15"/>
<circle cx="105.2" cy="264" r="1.15"/>
<circle cx="94" cy="324.2" r="1.15"/>
<circle cx="124.3" cy="240.9" r="1.15"/>
<circle cx="165.3" cy="320" r="1.15"/>
<circle cx="134" cy="311.5" r="1.15"/>
<circle cx="142.8" cy="288" r="1.15"/>
<circle cx="128.6" cy="352.1" r="1.15"/>
<circle cx="125.8" cy="170.8" r="1.15"/>
<circle cx="99" cy="252.4" r="1.15"/>
<circle cx="114" cy="295" r="1.15"/>
<circle cx="164.2" cy="329.2" r="1.15"/>
<circle cx="157.8" cy="354.9" r="1.15"/>
<circle cx="137.3" cy="288.4" r="1.15"/>
<circle cx="175.5" cy="274.4" r="1.15"/>
<circle cx="155.3" cy="321.9" r="1.15"/>
<circle cx="102" cy="313" r="1.15"/>
<circle cx="145.6" cy="280.4" r="1.15"/>
<circle cx="128.3" cy="307.2" r="1.15"/>
<circle cx="126.2" cy="385.2" r="1.15"/>
<circle cx="101.7" cy="275.6" r="1.15"/>
<circle cx="134.8" cy="294" r="1.15"/>
<circle cx="125.1" cy="272.9" r="1.15"/>
<circle cx="136.5" cy="337.5" r="1.15"/>
<circle cx="173.8" cy="397" r="1.15"/>
<circle cx="147.5" cy="358.9" r="1.15"/>
<circle cx="161" cy="291.7" r="1.15"/>
<circle cx="166.1" cy="214.3" r="1.15"/>
<circle cx="95" cy="202.4" r="1.15"/>
<circle cx="182.9" cy="291.5" r="1.15"/>
<circle cx="181.7" cy="368.1" r="1.15"/>
<circle cx="118.3" cy="319.3" r="1.15"/>
<circle cx="143.9" cy="285.3" r="1.15"/>
<circle cx="114.1" cy="285.7" r="1.15"/>
<circle cx="123.6" cy="300.6" r="1.15"/>
<circle cx="153.7" cy="246.5" r="1.15"/>
<circle cx="156.1" cy="343.8" r="1.15"/>
<circle cx="177" cy="398.9" r="1.15"/>
<circle cx="105.4" cy="342.9" r="1.15"/>
<circle cx="128.2" cy="355.3" r="1.15"/>
<circle cx="135.2" cy="207.7" r="1.15"/>
<circle cx="160.7" cy="312.8" r="1.15"/>
<circle cx="91.9" cy="366.9" r="1.15"/>
<circle cx="114.5" cy="277.9" r="1.15"/>
<circle cx="162.1" cy="261" r="1.15"/>
<circle cx="166.1" cy="302.5" r="1.15"/>
<circle cx="116.9" cy="296.4" r="1.15"/>
<circle cx="129.1" cy="260.3" r="1.15"/>
<circle cx="162.3" cy="282.4" r="1.15"/>
<circle cx="161.4" cy="335.2" r="1.15"/>
<circle cx="130.5" cy="279.2" r="1.15"/>
<circle cx="130.3" cy="264.4" r="1.15"/>
<circle cx="106.9" cy="289.9" r="1.15"/>
<circle cx="176.8" cy="266.8" r="1.15"/>
<circle cx="153.4" cy="279.4" r="1.15"/>
<circle cx="169" cy="315.1" r="1.15"/>
<circle cx="106" cy="311.2" r="1.15"/>
<circle cx="119.3" cy="278.1" r="1.15"/>
<circle cx="166.7" cy="328.9" r="1.15"/>
<circle cx="129.7" cy="254.8" r="1.15"/>
<circle cx="132.2" cy="251.8" r="1.15"/>
<circle cx="96" cy="393.2" r="1.15"/>
<circle cx="159.2" cy="307.9" r="1.15"/>
<circle cx="157.5" cy="337.5" r="1.15"/>
<circle cx="116.2" cy="332.4" r="1.15"/>
<circle cx="135.9" cy="298.6" r="1.15"/>
<circle cx="150.9" cy="312.2" r="1.15"/>
<circle cx="130.9" cy="280.3" r="1.15"/>
<circle cx="150.5" cy="290.9" r="1.15"/>
<circle cx="98.3" cy="288.8" r="1.15"/>
<circle cx="121.9" cy="338.9" r="1.15"/>
<circle cx="139.7" cy="320" r="1.15"/>
<circle cx="151.2" cy="241.5" r="1.15"/>
<circle cx="166.5" cy="412.7" r="1.15"/>
<circle cx="155.3" cy="230.2" r="1.15"/>
<circle cx="150.2" cy="329.3" r="1.15"/>
<circle cx="98.1" cy="253.6" r="1.15"/>
<circle cx="125.2" cy="417.7" r="1.15"/>
<circle cx="138.5" cy="323.1" r="1.15"/>
<circle cx="149.3" cy="268" r="1.15"/>
<circle cx="181.6" cy="298.4" r="1.15"/>
<circle cx="158.9" cy="260.8" r="1.15"/>
<circle cx="128.2" cy="343" r="1.15"/>
<circle cx="125.7" cy="329.2" r="1.15"/>
<circle cx="100.8" cy="333.4" r="1.15"/>
<circle cx="92.4" cy="282.9" r="1.15"/>
<circle cx="154.2" cy="284.8" r="1.15"/>
<circle cx="164.6" cy="310.3" r="1.15"/>
<circle cx="177.4" cy="316.4" r="1.15"/>
<circle cx="126.5" cy="317.6" r="1.15"/>
<circle cx="92.7" cy="301.1" r="1.15"/>
<circle cx="174.7" cy="346.2" r="1.15"/>
<circle cx="133.5" cy="307.4" r="1.15"/>
<circle cx="131.2" cy="311.2" r="1.15"/>
<circle cx="93.3" cy="328.4" r="1.15"/>
<circle cx="167.7" cy="329.7" r="1.15"/>
<circle cx="130.4" cy="240.7" r="1.15"/>
<circle cx="146.5" cy="331.6" r="1.15"/>
<circle cx="169.1" cy="287" r="1.15"/>
<circle cx="160.4" cy="245.5" r="1.15"/>
<circle cx="179.2" cy="272.7" r="1.15"/>
<circle cx="114.1" cy="304.1" r="1.15"/>
<circle cx="176.7" cy="260.9" r="1.15"/>
<circle cx="100.2" cy="366.9" r="1.15"/>
<circle cx="155.9" cy="358.4" r="1.15"/>
<circle cx="161.7" cy="322.2" r="1.15"/>
<circle cx="141.2" cy="314.5" r="1.15"/>
<circle cx="115.1" cy="309.1" r="1.15"/>
<circle cx="138.3" cy="223.2" r="1.15"/>
<circle cx="126.1" cy="231.6" r="1.15"/>
<circle cx="166.8" cy="306.6" r="1.15"/>
<circle cx="106.9" cy="293.8" r="1.15"/>
<circle cx="115.6" cy="344.4" r="1.15"/>
<circle cx="156.2" cy="291.1" r="1.15"/>
<circle cx="127.2" cy="363.3" r="1.15"/>
<circle cx="169" cy="244.1" r="1.15"/>
<circle cx="144.7" cy="327.5" r="1.15"/>
<circle cx="106.8" cy="280.7" r="1.15"/>
<circle cx="116.3" cy="361.7" r="1.15"/>
<circle cx="154.7" cy="244.5" r="1.15"/>
<circle cx="93.6" cy="278.4" r="1.15"/>
<circle cx="124.4" cy="219.8" r="1.15"/>
<circle cx="114.5" cy="302" r="1.15"/>
<circle cx="180.4" cy="375.4" r="1.15"/>
<circle cx="100.6" cy="339" r="1.15"/>
<circle cx="159.8" cy="359.5" r="1.15"/>
<circle cx="103.4" cy="236.3" r="1.15"/>
<circle cx="113" cy="332.1" r="1.15"/>
<circle cx="174.5" cy="337.7" r="1.15"/>
<circle cx="107.3" cy="279.1" r="1.15"/>
<circle cx="145.5" cy="293.4" r="1.15"/>
<circle cx="139.2" cy="283.5" r="1.15"/>
<circle cx="146.5" cy="326.8" r="1.15"/>
<circle cx="149.5" cy="391.8" r="1.15"/>
<circle cx="108.1" cy="364" r="1.15"/>
<circle cx="155" cy="400.4" r="1.15"/>
<circle cx="179.9" cy="249.3" r="1.15"/>
<circle cx="168.9" cy="265.4" r="1.15"/>
<circle cx="92.9" cy="321.2" r="1.15"/>
<circle cx="154.8" cy="277.8" r="1.15"/>
<circle cx="97.1" cy="275.7" r="1.15"/>
<circle cx="140.5" cy="277.3" r="1.15"/>
<circle cx="159.5" cy="281.8" r="1.15"/>
<circle cx="100.8" cy="266.5" r="1.15"/>
<circle cx="168.5" cy="301.4" r="1.15"/>
<circle cx="173.8" cy="401.5" r="1.15"/>
<circle cx="145.1" cy="425.3" r="1.15"/>
<circle cx="113.1" cy="249.9" r="1.15"/>
<circle cx="111.6" cy="279" r="1.15"/>
<circle cx="118.4" cy="414.2" r="1.15"/>
<circle cx="107.9" cy="297.3" r="1.15"/>
<circle cx="180.1" cy="343.1" r="1.15"/>
<circle cx="114.8" cy="328.8" r="1.15"/>
<circle cx="150.6" cy="418.2" r="1.15"/>
<circle cx="112.6" cy="271.4" r="1.15"/>
<circle cx="93.3" cy="308.6" r="1.15"/>
<circle cx="117.1" cy="269.4" r="1.15"/>
<circle cx="146" cy="257.6" r="1.15"/>
<circle cx="161.7" cy="248.8" r="1.15"/>
<circle cx="136.8" cy="233.2" r="1.15"/>
<circle cx="103.5" cy="292.2" r="1.15"/>
<circle cx="102.2" cy="295.5" r="1.15"/>
<circle cx="144.9" cy="332.7" r="1.15"/>
<circle cx="115.6" cy="281.9" r="1.15"/>
<circle cx="141" cy="315.3" r="1.15"/>
<circle cx="110.4" cy="356.1" r="1.15"/>
<circle cx="136.1" cy="252.6" r="1.15"/>
<circle cx="129.6" cy="273.8" r="1.15"/>
<circle cx="96.2" cy="421.8" r="1.15"/>
<circle cx="109.3" cy="386.1" r="1.15"/>
<circle cx="159.9" cy="314.4" r="1.15"/>
<circle cx="130.6" cy="363.3" r="1.15"/>
<circle cx="127.5" cy="251.2" r="1.15"/>
<circle cx="153.9" cy="296.7" r="1.15"/>
<circle cx="117" cy="279.8" r="1.15"/>
<circle cx="158.7" cy="263.6" r="1.15"/>
<circle cx="93.6" cy="246" r="1.15"/>
<circle cx="108.8" cy="316.5" r="1.15"/>
<circle cx="170.4" cy="277.1" r="1.15"/>
<circle cx="151.9" cy="293.3" r="1.15"/>
<circle cx="143" cy="269.4" r="1.15"/>
<circle cx="93.4" cy="280" r="1.15"/>
<circle cx="157.4" cy="242" r="1.15"/>
<circle cx="127.3" cy="280.8" r="1.15"/>
<circle cx="94.9" cy="325.2" r="1.15"/>
<circle cx="96.6" cy="299" r="1.15"/>
<circle cx="93.1" cy="353.9" r="1.15"/>
<circle cx="125.8" cy="290.2" r="1.15"/>
<circle cx="144.9" cy="238.1" r="1.15"/>
<circle cx="135.6" cy="330.7" r="1.15"/>
<circle cx="140.4" cy="376.5" r="1.15"/>
<circle cx="149.9" cy="307.7" r="1.15"/>
<circle cx="120.2" cy="326.3" r="1.15"/>
<circle cx="147.4" cy="304.3" r="1.15"/>
<circle cx="120.8" cy="330.1" r="1.15"/>
<circle cx="115.7" cy="300.8" r="1.15"/>
<circle cx="103.1" cy="348.7" r="1.15"/>
<circle cx="101" cy="236.2" r="1.15"/>
<circle cx="142" cy="314.1" r="1.15"/>
<circle cx="153.2" cy="281.7" r="1.15"/>
<circle cx="109.3" cy="270.9" r="1.15"/>
<circle cx="133.8" cy="310.9" r="1.15"/>
<circle cx="159.7" cy="284.3" r="1.15"/>
<circle cx="127.6" cy="315" r="1.15"/>
<circle cx="151.7" cy="323.7" r="1.15"/>
<circle cx="157.4" cy="313.9" r="1.15"/>
<circle cx="101.6" cy="282.8" r="1.15"/>
<circle cx="182.2" cy="359.6" r="1.15"/>
<circle cx="163.4" cy="343.8" r="1.15"/>
<circle cx="172.2" cy="339.3" r="1.15"/>
<circle cx="104.2" cy="328.9" r="1.15"/>
<circle cx="132.1" cy="253.5" r="1.15"/>
<circle cx="156" cy="305.5" r="1.15"/>
<circle cx="115.7" cy="317.5" r="1.15"/>
<circle cx="102.7" cy="297.8" r="1.15"/>
<circle cx="164.5" cy="257.7" r="1.15"/>
<circle cx="178.2" cy="336.8" r="1.15"/>
<circle cx="102.3" cy="259.3" r="1.15"/>
<circle cx="177.4" cy="405.8" r="1.15"/>
<circle cx="152" cy="342.7" r="1.15"/>
<circle cx="110.7" cy="239.5" r="1.15"/>
<circle cx="116.9" cy="235.9" r="1.15"/>
<circle cx="167.8" cy="295.3" r="1.15"/>
<circle cx="157.6" cy="322.2" r="1.15"/>
<circle cx="106.1" cy="267.6" r="1.15"/>
<circle cx="148.9" cy="321.4" r="1.15"/>
<circle cx="106.4" cy="235.9" r="1.15"/>
<circle cx="140.9" cy="251.7" r="1.15"/>
<circle cx="130.3" cy="269.8" r="1.15"/>
<circle cx="124.9" cy="340.1" r="1.15"/>
<circle cx="111.8" cy="260.8" r="1.15"/>
<circle cx="142.4" cy="314.1" r="1.15"/>
<circle cx="181.8" cy="313.3" r="1.15"/>
<circle cx="144.6" cy="321.5" r="1.15"/>
<circle cx="123.4" cy="308.2" r="1.15"/>
<circle cx="101.7" cy="281.1" r="1.15"/>
<circle cx="173.5" cy="265.9" r="1.15"/>
<circle cx="99.6" cy="265.8" r="1.15"/>
<circle cx="127.8" cy="317.6" r="1.15"/>
<circle cx="135.5" cy="251.9" r="1.15"/>
<circle cx="98.1" cy="331.4" r="1.15"/>
<circle cx="126.3" cy="310.9" r="1.15"/>
<circle cx="156.6" cy="353.1" r="1.15"/>
<circle cx="98.4" cy="249.4" r="1.15"/>
<circle cx="127.3" cy="290.8" r="1.15"/>
<circle cx="92.2" cy="296.4" r="1.15"/>
<circle cx="128.7" cy="307.2" r="1.15"/>
<circle cx="124.8" cy="261.7" r="1.15"/>
<circle cx="177.3" cy="323.7" r="1.15"/>
<circle cx="92.8" cy="284.4" r="1.15"/>
<circle cx="139.1" cy="191.9" r="1.15"/>
<circle cx="143.9" cy="308" r="1.15"/>
<circle cx="140.6" cy="329" r="1.15"/>
<circle cx="179.7" cy="345.9" r="1.15"/>
<circle cx="158.4" cy="266.1" r="1.15"/>
<circle cx="151.9" cy="298.6" r="1.15"/>
<circle cx="97.1" cy="334.4" r="1.15"/>
<circle cx="106" cy="337.9" r="1.15"/>
<circle cx="158.5" cy="300.2" r="1.15"/>
<circle cx="174.3" cy="345.2" r="1.15"/>
<circle cx="108.9" cy="209.9" r="1.15"/>
<circle cx="148.7" cy="309.9" r="1.15"/>
<circle cx="178.3" cy="309.3" r="1.15"/>
<circle cx="116.2" cy="305.5" r="1.15"/>
<circle cx="93.4" cy="380.6" r="1.15"/>
<circle cx="134.1" cy="364.8" r="1.15"/>
<circle cx="120.5" cy="317.3" r="1.15"/>
<circle cx="125" cy="302.5" r="1.15"/>
<circle cx="103.3" cy="355.5" r="1.15"/>
<circle cx="160.8" cy="227.4" r="1.15"/>
<circle cx="100.1" cy="281.5" r="1.15"/>
<circle cx="166.7" cy="244.9" r="1.15"/>
<circle cx="145.8" cy="250.2" r="1.15"/>
<circle cx="108.9" cy="311.2" r="1.15"/>
<circle cx="153.9" cy="195" r="1.15"/>
<circle cx="92.9" cy="296" r="1.15"/>
<circle cx="179.4" cy="383.7" r="1.15"/>
<circle cx="168.2" cy="403.4" r="1.15"/>
<circle cx="180.5" cy="301.2" r="1.15"/>
<circle cx="93.3" cy="263.3" r="1.15"/>
<circle cx="108.5" cy="298.3" r="1.15"/>
<circle cx="176.8" cy="225.6" r="1.15"/>
<circle cx="108.9" cy="314.4" r="1.15"/>
<circle cx="134.5" cy="276.7" r="1.15"/>
<circle cx="103.5" cy="269.2" r="1.15"/>
<circle cx="176.6" cy="346.3" r="1.15"/>
<circle cx="123.1" cy="287.9" r="1.15"/>
<circle cx="150.6" cy="285.4" r="1.15"/>
<circle cx="94.9" cy="253.6" r="1.15"/>
<circle cx="139.1" cy="248.5" r="1.15"/>
<circle cx="165.3" cy="258.4" r="1.15"/>
<circle cx="113.3" cy="334.6" r="1.15"/>
<circle cx="120.5" cy="269.4" r="1.15"/>
<circle cx="106.7" cy="254.7" r="1.15"/>
<circle cx="139.1" cy="299.9" r="1.15"/>
<circle cx="101.1" cy="268.7" r="1.15"/>
<circle cx="181.1" cy="267.9" r="1.15"/>
<circle cx="118.3" cy="249.9" r="1.15"/>
<circle cx="133" cy="298.2" r="1.15"/>
<circle cx="117.8" cy="280.8" r="1.15"/>
<circle cx="133.1" cy="293" r="1.15"/>
<circle cx="119.3" cy="298.7" r="1.15"/>
<circle cx="183.3" cy="328.4" r="1.15"/>
<circle cx="117.6" cy="316.2" r="1.15"/>
<circle cx="117.3" cy="350.5" r="1.15"/>
<circle cx="176.7" cy="310.3" r="1.15"/>
<circle cx="169.2" cy="271.8" r="1.15"/>
<circle cx="111" cy="274.9" r="1.15"/>
<circle cx="162.6" cy="269.3" r="1.15"/>
<circle cx="107.9" cy="306.7" r="1.15"/>
<circle cx="92.9" cy="241.4" r="1.15"/>
<circle cx="167.8" cy="321.8" r="1.15"/>
<circle cx="166.5" cy="268.6" r="1.15"/>
<circle cx="134.6" cy="283.8" r="1.15"/>
<circle cx="157.7" cy="334.4" r="1.15"/>
<circle cx="125.6" cy="332.6" r="1.15"/>
<circle cx="97" cy="269.4" r="1.15"/>
<circle cx="130.5" cy="300.3" r="1.15"/>
<circle cx="155.9" cy="290.1" r="1.15"/>
<circle cx="163.8" cy="277.3" r="1.15"/>
<circle cx="129.6" cy="296.6" r="1.15"/>
<circle cx="182.1" cy="269.8" r="1.15"/>
<circle cx="138.8" cy="327.9" r="1.15"/>
<circle cx="110.4" cy="309.4" r="1.15"/>
<circle cx="98.2" cy="282.4" r="1.15"/>
<circle cx="93.3" cy="337.2" r="1.15"/>
<circle cx="150" cy="303.1" r="1.15"/>
<circle cx="104.8" cy="309.8" r="1.15"/>
<circle cx="139.1" cy="297" r="1.15"/>
<circle cx="124.8" cy="378.4" r="1.15"/>
<circle cx="140.6" cy="224.7" r="1.15"/>
<circle cx="173" cy="305.5" r="1.15"/>
<circle cx="164.9" cy="277.8" r="1.15"/>
<circle cx="113.5" cy="346.6" r="1.15"/>
<circle cx="130.1" cy="358.4" r="1.15"/>
<circle cx="149.6" cy="300.5" r="1.15"/>
<circle cx="143.8" cy="315.6" r="1.15"/>
<circle cx="126.3" cy="273.4" r="1.15"/>
<circle cx="123.3" cy="341.7" r="1.15"/>
<circle cx="157.6" cy="344.4" r="1.15"/>
<circle cx="148" cy="287.1" r="1.15"/>
<circle cx="97.4" cy="271.2" r="1.15"/>
<circle cx="92.7" cy="261.5" r="1.15"/>
<circle cx="146.5" cy="302.9" r="1.15"/>
<circle cx="120.5" cy="290.2" r="1.15"/>
<circle cx="121.7" cy="336.2" r="1.15"/>
<circle cx="161" cy="244.4" r="1.15"/>
<circle cx="180.2" cy="252.1" r="1.15"/>
<circle cx="134.5" cy="253.5" r="1.15"/>
<circle cx="168.3" cy="371.3" r="1.15"/>
<circle cx="177.6" cy="263.5" r="1.15"/>
<circle cx="156.5" cy="333.4" r="1.15"/>
<circle cx="180.7" cy="280.3" r="1.15"/>
<circle cx="115.3" cy="283.1" r="1.15"/>
<circle cx="179.5" cy="248.8" r="1.15"/>
<circle cx="139" cy="310.1" r="1.15"/>
<circle cx="119.4" cy="316.7" r="1.15"/>
<circle cx="94.8" cy="345.6" r="1.15"/>
<circle cx="117.1" cy="353.4" r="1.15"/>
<circle cx="169.4" cy="276.7" r="1.15"/>
<circle cx="114.1" cy="341.4" r="1.15"/>
<circle cx="104.2" cy="272.9" r="1.15"/>
<circle cx="99.8" cy="318.6" r="1.15"/>
<circle cx="98.4" cy="326.7" r="1.15"/>
<circle cx="94.8" cy="260.5" r="1.15"/>
<circle cx="162.7" cy="264.9" r="1.15"/>
<circle cx="108.7" cy="345.2" r="1.15"/>
<circle cx="116.1" cy="309.6" r="1.15"/>
<circle cx="184.1" cy="302.7" r="1.15"/>
<circle cx="130.1" cy="273.5" r="1.15"/>
<circle cx="138.1" cy="334.3" r="1.15"/>
<circle cx="129.2" cy="320.5" r="1.15"/>
<circle cx="134" cy="307.4" r="1.15"/>
<circle cx="156.8" cy="272.4" r="1.15"/>
<circle cx="114.9" cy="263.7" r="1.15"/>
<circle cx="182.2" cy="326" r="1.15"/>
<circle cx="122.1" cy="226.4" r="1.15"/>
<circle cx="105.1" cy="284.1" r="1.15"/>
<circle cx="124.2" cy="337.1" r="1.15"/>
<circle cx="141.3" cy="369.9" r="1.15"/>
<circle cx="171.6" cy="324.2" r="1.15"/>
<circle cx="134.9" cy="405.8" r="1.15"/>
<circle cx="174" cy="294.7" r="1.15"/>
<circle cx="113.6" cy="278.5" r="1.15"/>
<circle cx="179.4" cy="247.6" r="1.15"/>
<circle cx="126" cy="281.1" r="1.15"/>
<circle cx="128.7" cy="376.9" r="1.15"/>
<circle cx="154.1" cy="315" r="1.15"/>
<circle cx="178.2" cy="272.5" r="1.15"/>
<circle cx="171.1" cy="397" r="1.15"/>
<circle cx="140.4" cy="338.5" r="1.15"/>
<circle cx="99.8" cy="275.7" r="1.15"/>
<circle cx="161.5" cy="300.4" r="1.15"/>
<circle cx="173.3" cy="390" r="1.15"/>
<circle cx="130.3" cy="324.8" r="1.15"/>
<circle cx="98.6" cy="301.9" r="1.15"/>
<circle cx="155.3" cy="212.6" r="1.15"/>
<circle cx="117.5" cy="321.9" r="1.15"/>
<circle cx="95" cy="342.2" r="1.15"/>
<circle cx="159.3" cy="292.2" r="1.15"/>
<circle cx="148.2" cy="288.3" r="1.15"/>
<circle cx="133.4" cy="278.1" r="1.15"/>
<circle cx="147.1" cy="240.2" r="1.15"/>
<circle cx="111.5" cy="305.6" r="1.15"/>
<circle cx="157" cy="362.3" r="1.15"/>
<circle cx="124.3" cy="300.9" r="1.15"/>
<circle cx="109.9" cy="302" r="1.15"/>
<circle cx="174.8" cy="260.7" r="1.15"/>
<circle cx="116.5" cy="266.2" r="1.15"/>
<circle cx="161" cy="334.6" r="1.15"/>
<circle cx="129.5" cy="269.3" r="1.15"/>
<circle cx="171.3" cy="259.2" r="1.15"/>
<circle cx="162.6" cy="310.8" r="1.15"/>
<circle cx="100.7" cy="261.5" r="1.15"/>
<circle cx="158" cy="295.4" r="1.15"/>
<circle cx="177.8" cy="294.9" r="1.15"/>
<circle cx="173.9" cy="309" r="1.15"/>
<circle cx="127.4" cy="267.7" r="1.15"/>
<circle cx="171.1" cy="177.9" r="1.15"/>
<circle cx="100.6" cy="292.7" r="1.15"/>
<circle cx="176.2" cy="353" r="1.15"/>
<circle cx="183.6" cy="312.6" r="1.15"/>
<circle cx="125.2" cy="327.8" r="1.15"/>
<circle cx="157.6" cy="288.5" r="1.15"/>
<circle cx="120.2" cy="308.6" r="1.15"/>
<circle cx="162.4" cy="192.5" r="1.15"/>
<circle cx="99.5" cy="270.2" r="1.15"/>
<circle cx="115.2" cy="221.8" r="1.15"/>
<circle cx="165.2" cy="333.2" r="1.15"/>
<circle cx="145.6" cy="311.7" r="1.15"/>
<circle cx="93.5" cy="213.2" r="1.15"/>
<circle cx="176.2" cy="375.3" r="1.15"/>
<circle cx="178.9" cy="296.4" r="1.15"/>
<circle cx="124.7" cy="369.8" r="1.15"/>
<circle cx="109.3" cy="235.8" r="1.15"/>
<circle cx="169.4" cy="364" r="1.15"/>
<circle cx="107.5" cy="315.8" r="1.15"/>
<circle cx="145.8" cy="310.4" r="1.15"/>
<circle cx="170.2" cy="375.9" r="1.15"/>
<circle cx="102" cy="195.4" r="1.15"/>
<circle cx="171.5" cy="310" r="1.15"/>
<circle cx="120.6" cy="231.2" r="1.15"/>
<circle cx="167.5" cy="332.9" r="1.15"/>
<circle cx="112.9" cy="366.4" r="1.15"/>
<circle cx="133.3" cy="293.4" r="1.15"/>
<circle cx="146.4" cy="294.6" r="1.15"/>
<circle cx="153.6" cy="175.9" r="1.15"/>
<circle cx="140.7" cy="348.7" r="1.15"/>
<circle cx="149.3" cy="370.7" r="1.15"/>
<circle cx="115.9" cy="333.6" r="1.15"/>
<circle cx="112.9" cy="289.7" r="1.15"/>
<circle cx="176.7" cy="278.4" r="1.15"/>
<circle cx="96.3" cy="335.4" r="1.15"/>
<circle cx="183.9" cy="318.1" r="1.15"/>
<circle cx="162.9" cy="279.3" r="1.15"/>
<circle cx="156.5" cy="255.7" r="1.15"/>
<circle cx="128.9" cy="328.9" r="1.15"/>
<circle cx="141.9" cy="297.4" r="1.15"/>
<circle cx="122.2" cy="423.2" r="1.15"/>
<circle cx="177.6" cy="345.3" r="1.15"/>
<circle cx="96.6" cy="284.6" r="1.15"/>
<circle cx="182.3" cy="303.8" r="1.15"/>
<circle cx="172.2" cy="311.3" r="1.15"/>
<circle cx="143.4" cy="233.2" r="1.15"/>
<circle cx="166.4" cy="315.8" r="1.15"/>
<circle cx="101.1" cy="350.9" r="1.15"/>
<circle cx="141.6" cy="294.2" r="1.15"/>
<circle cx="155" cy="294.3" r="1.15"/>
<circle cx="160.3" cy="353.1" r="1.15"/>
<circle cx="160.1" cy="259.7" r="1.15"/>
<circle cx="152.8" cy="229.2" r="1.15"/>
<circle cx="117.1" cy="328.9" r="1.15"/>
<circle cx="110.5" cy="341.3" r="1.15"/>
<circle cx="148.5" cy="306.9" r="1.15"/>
<circle cx="95.6" cy="249.1" r="1.15"/>
<circle cx="94.1" cy="327.8" r="1.15"/>
<circle cx="105.3" cy="335" r="1.15"/>
<circle cx="107.5" cy="329" r="1.15"/>
<circle cx="120.9" cy="292.8" r="1.15"/>
<circle cx="127.7" cy="294" r="1.15"/>
<circle cx="140.4" cy="310.7" r="1.15"/>
<circle cx="128" cy="251" r="1.15"/>
<circle cx="146.2" cy="205.4" r="1.15"/>
<circle cx="182.8" cy="328.4" r="1.15"/>
<circle cx="125.3" cy="258" r="1.15"/>
<circle cx="142.9" cy="291.4" r="1.15"/>
<circle cx="180.5" cy="172.7" r="1.15"/>
<circle cx="130.2" cy="341.5" r="1.15"/>
<circle cx="125.8" cy="318.2" r="1.15"/>
<circle cx="146.1" cy="298.6" r="1.15"/>
<circle cx="179.6" cy="365.2" r="1.15"/>
<circle cx="107.3" cy="312.3" r="1.15"/>
<circle cx="136.4" cy="272.2" r="1.15"/>
<circle cx="128.1" cy="366.1" r="1.15"/>
<circle cx="139.7" cy="297.6" r="1.15"/>
<circle cx="117.6" cy="225.5" r="1.15"/>
<circle cx="158.1" cy="329.2" r="1.15"/>
<circle cx="179.1" cy="342.3" r="1.15"/>
<circle cx="182.4" cy="413.4" r="1.15"/>
<circle cx="108.9" cy="308" r="1.15"/>
<circle cx="153.1" cy="374.1" r="1.15"/>
<circle cx="133.1" cy="279" r="1.15"/>
<circle cx="174.8" cy="231.7" r="1.15"/>
<circle cx="94.1" cy="279" r="1.15"/>
<circle cx="126.5" cy="337.7" r="1.15"/>
<circle cx="174.1" cy="274.8" r="1.15"/>
<circle cx="125.1" cy="323.8" r="1.15"/>
<circle cx="124.9" cy="352.4" r="1.15"/>
<circle cx="167.7" cy="325.1" r="1.15"/>
<circle cx="141.7" cy="292.9" r="1.15"/>
<circle cx="137.5" cy="319.2" r="1.15"/>
<circle cx="115.2" cy="280.4" r="1.15"/>
<circle cx="163.4" cy="210" r="1.15"/>
<circle cx="135.6" cy="276.7" r="1.15"/>
<circle cx="146" cy="270.5" r="1.15"/>
<circle cx="91.9" cy="332.4" r="1.15"/>
<circle cx="119.1" cy="245.5" r="1.15"/>
<circle cx="117.1" cy="288.1" r="1.15"/>
<circle cx="154.4" cy="259.5" r="1.15"/>
<circle cx="158.1" cy="337.3" r="1.15"/>
<circle cx="125.3" cy="293.3" r="1.15"/>
<circle cx="139.5" cy="405.9" r="1.15"/>
<circle cx="158.8" cy="319.1" r="1.15"/>
<circle cx="106.5" cy="340.3" r="1.15"/>
<circle cx="140.6" cy="347.4" r="1.15"/>
<circle cx="121" cy="228.2" r="1.15"/>
<circle cx="119.4" cy="370.5" r="1.15"/>
<circle cx="118.3" cy="310.2" r="1.15"/>
<circle cx="169.1" cy="309.9" r="1.15"/>
<circle cx="103.2" cy="280.7" r="1.15"/>
<circle cx="162.8" cy="259.9" r="1.15"/>
<circle cx="98.7" cy="373.6" r="1.15"/>
<circle cx="148.2" cy="327.4" r="1.15"/>
<circle cx="153.7" cy="334.5" r="1.15"/>
<circle cx="111" cy="273.6" r="1.15"/>
<circle cx="138.6" cy="263.2" r="1.15"/>
<circle cx="163.7" cy="321.8" r="1.15"/>
<circle cx="174.3" cy="327.6" r="1.15"/>
<circle cx="141.3" cy="348.1" r="1.15"/>
<circle cx="99.2" cy="288.2" r="1.15"/>
<circle cx="103.1" cy="231.6" r="1.15"/>
<circle cx="93.5" cy="287.7" r="1.15"/>
<circle cx="173.6" cy="334.8" r="1.15"/>
<circle cx="159.9" cy="340.4" r="1.15"/>
<circle cx="170.1" cy="335.2" r="1.15"/>
<circle cx="119.8" cy="376" r="1.15"/>
<circle cx="132.3" cy="228.9" r="1.15"/>
<circle cx="112.3" cy="301.1" r="1.15"/>
<circle cx="183.2" cy="318.7" r="1.15"/>
<circle cx="148.9" cy="207.1" r="1.15"/>
<circle cx="166.6" cy="294.7" r="1.15"/>
<circle cx="117.6" cy="239.8" r="1.15"/>
<circle cx="166.3" cy="292.6" r="1.15"/>
<circle cx="130.9" cy="256.5" r="1.15"/>
<circle cx="94.1" cy="301.3" r="1.15"/>
<circle cx="139.8" cy="320.4" r="1.15"/>
<circle cx="110.9" cy="286.6" r="1.15"/>
<circle cx="120.1" cy="273.3" r="1.15"/>
<circle cx="143.7" cy="257.1" r="1.15"/>
<circle cx="159.1" cy="295.7" r="1.15"/>
<circle cx="102" cy="315.3" r="1.15"/>
<circle cx="123.2" cy="320.6" r="1.15"/>
<circle cx="148.7" cy="291.1" r="1.15"/>
<circle cx="114.6" cy="325.7" r="1.15"/>
<circle cx="110.7" cy="318.7" r="1.15"/>
<circle cx="98.9" cy="280.9" r="1.15"/>
<circle cx="179.5" cy="279" r="1.15"/>
<circle cx="151.9" cy="282.6" r="1.15"/>
<circle cx="99.1" cy="337" r="1.15"/>
<circle cx="120.8" cy="367.2" r="1.15"/>
<circle cx="133" cy="292.6" r="1.15"/>
<circle cx="117.2" cy="299.5" r="1.15"/>
<circle cx="138.7" cy="321" r="1.15"/>
<circle cx="181.1" cy="295.5" r="1.15"/>
<circle cx="142.1" cy="267.6" r="1.15"/>
<circle cx="92.6" cy="313.3" r="1.15"/>
<circle cx="133.3" cy="287.2" r="1.15"/>
<circle cx="115.3" cy="347.1" r="1.15"/>
<circle cx="101.2" cy="314.1" r="1.15"/>
<circle cx="133.9" cy="340.7" r="1.15"/>
<circle cx="164.3" cy="367.5" r="1.15"/>
<circle cx="159.5" cy="285.7" r="1.15"/>
<circle cx="141.8" cy="428" r="1.15"/>
<circle cx="179" cy="307.3" r="1.15"/>
<circle cx="157.9" cy="270.8" r="1.15"/>
<circle cx="173.6" cy="287.3" r="1.15"/>
<circle cx="133.4" cy="372" r="1.15"/>
<circle cx="101.2" cy="294.2" r="1.15"/>
<circle cx="150.3" cy="384.3" r="1.15"/>
<circle cx="169.5" cy="343.2" r="1.15"/>
<circle cx="157.2" cy="242.5" r="1.15"/>
<circle cx="125.3" cy="297.8" r="1.15"/>
<circle cx="105.5" cy="253.6" r="1.15"/>
<circle cx="175.2" cy="352.5" r="1.15"/>
<circle cx="152.4" cy="395.2" r="1.15"/>
<circle cx="99.5" cy="337.4" r="1.15"/>
<circle cx="158.1" cy="249.1" r="1.15"/>
<circle cx="174.9" cy="264.7" r="1.15"/>
<circle cx="111.6" cy="258.3" r="1.15"/>
<circle cx="137.4" cy="311.2" r="1.15"/>
<circle cx="114.1" cy="308.7" r="1.15"/>
<circle cx="157" cy="313.5" r="1.15"/>
<circle cx="157.5" cy="178.6" r="1.15"/>
<circle cx="119.9" cy="300.9" r="1.15"/>
<circle cx="117.2" cy="227.9" r="1.15"/>
<circle cx="139.2" cy="312.3" r="1.15"/>
<circle cx="182.4" cy="244.6" r="1.15"/>
<circle cx="149.8" cy="351.7" r="1.15"/>
<circle cx="155.9" cy="326.4" r="1.15"/>
<circle cx="94.2" cy="289" r="1.15"/>
<circle cx="136.4" cy="329.4" r="1.15"/>
<circle cx="117" cy="322.3" r="1.15"/>
<circle cx="92.9" cy="311.4" r="1.15"/>
<circle cx="100.9" cy="327.9" r="1.15"/>
<circle cx="125.5" cy="236.8" r="1.15"/>
<circle cx="128.4" cy="255.1" r="1.15"/>
<circle cx="102.6" cy="365.2" r="1.15"/>
<circle cx="134.7" cy="229.7" r="1.15"/>
<circle cx="161.5" cy="305.9" r="1.15"/>
<circle cx="136.2" cy="305.5" r="1.15"/>
<circle cx="123.4" cy="311.4" r="1.15"/>
<circle cx="110.7" cy="266.1" r="1.15"/>
<circle cx="95.3" cy="273.2" r="1.15"/>
<circle cx="166.8" cy="326.9" r="1.15"/>
<circle cx="164.4" cy="301.9" r="1.15"/>
<circle cx="122.8" cy="361" r="1.15"/>
<circle cx="105.3" cy="223.3" r="1.15"/>
<circle cx="176.8" cy="341.1" r="1.15"/>
<circle cx="108" cy="342.6" r="1.15"/>
<circle cx="183.5" cy="335.2" r="1.15"/>
<circle cx="143.7" cy="297.9" r="1.15"/>
<circle cx="106.4" cy="271.3" r="1.15"/>
<circle cx="147.1" cy="319.3" r="1.15"/>
<circle cx="170.2" cy="302.7" r="1.15"/>
<circle cx="128.6" cy="318.6" r="1.15"/>
<circle cx="156.3" cy="247.7" r="1.15"/>
<circle cx="162" cy="293.8" r="1.15"/>
<circle cx="108.8" cy="377.6" r="1.15"/>
<circle cx="109.1" cy="239.5" r="1.15"/>
<circle cx="107" cy="289.1" r="1.15"/>
<circle cx="179.8" cy="219.8" r="1.15"/>
<circle cx="179" cy="330.3" r="1.15"/>
<circle cx="110.8" cy="325.2" r="1.15"/>
<circle cx="166.4" cy="311.2" r="1.15"/>
<circle cx="165.3" cy="364.8" r="1.15"/>
<circle cx="96.1" cy="319.7" r="1.15"/>
<circle cx="171.5" cy="248.8" r="1.15"/>
<circle cx="95.9" cy="273" r="1.15"/>
<circle cx="102.6" cy="408.3" r="1.15"/>
<circle cx="161.1" cy="247.4" r="1.15"/>
<circle cx="110.9" cy="287.8" r="1.15"/>
<circle cx="162.8" cy="267.8" r="1.15"/>
<circle cx="117.4" cy="301.6" r="1.15"/>
<circle cx="164.9" cy="295.1" r="1.15"/>
<circle cx="163.1" cy="300.9" r="1.15"/>
<circle cx="151.9" cy="301.2" r="1.15"/>
<circle cx="148.6" cy="348.5" r="1.15"/>
<circle cx="127" cy="258" r="1.15"/>
<circle cx="156.5" cy="293.9" r="1.15"/>
<circle cx="117" cy="286.6" r="1.15"/>
<circle cx="155.2" cy="288.3" r="1.15"/>
<circle cx="160.2" cy="316.7" r="1.15"/>
<circle cx="153.9" cy="306" r="1.15"/>
<circle cx="118.2" cy="361.6" r="1.15"/>
<circle cx="165.8" cy="292" r="1.15"/>
<circle cx="128" cy="291.3" r="1.15"/>
<circle cx="128.5" cy="313.9" r="1.15"/>
<circle cx="175.7" cy="378.2" r="1.15"/>
<circle cx="105.8" cy="245.2" r="1.15"/>
<circle cx="100.1" cy="310.9" r="1.15"/>
<circle cx="112.1" cy="304.3" r="1.15"/>
<circle cx="134.5" cy="316.9" r="1.15"/>
<circle cx="179.3" cy="329.3" r="1.15"/>
<circle cx="172.6" cy="321" r="1.15"/>
<circle cx="173" cy="351.8" r="1.15"/>
<circle cx="162.1" cy="328.8" r="1.15"/>
<circle cx="139.7" cy="213.6" r="1.15"/>
<circle cx="163.4" cy="252" r="1.15"/>
<circle cx="109.7" cy="216.3" r="1.15"/>
<circle cx="152.1" cy="330.4" r="1.15"/>
<circle cx="135" cy="385.6" r="1.15"/>
<circle cx="132" cy="362.7" r="1.15"/>
<circle cx="149.5" cy="418.1" r="1.15"/>
<circle cx="129.5" cy="256.2" r="1.15"/>
<circle cx="95.8" cy="250" r="1.15"/>
<circle cx="177.3" cy="298.7" r="1.15"/>
<circle cx="131" cy="286.9" r="1.15"/>
<circle cx="152.3" cy="287.3" r="1.15"/>
<circle cx="99.1" cy="308.4" r="1.15"/>
<circle cx="106.3" cy="271.6" r="1.15"/>
<circle cx="130.6" cy="347.5" r="1.15"/>
<circle cx="121.7" cy="322.6" r="1.15"/>
<circle cx="135.6" cy="309.8" r="1.15"/>
<circle cx="167.5" cy="377.4" r="1.15"/>
<circle cx="152" cy="347.2" r="1.15"/>
<circle cx="92.1" cy="284.4" r="1.15"/>
<circle cx="101.9" cy="288.3" r="1.15"/>
<circle cx="161.4" cy="410.8" r="1.15"/>
<circle cx="167.9" cy="263.5" r="1.15"/>
<circle cx="113.5" cy="288.1" r="1.15"/>
<circle cx="154.5" cy="269.9" r="1.15"/>
<circle cx="155.7" cy="306.2" r="1.15"/>
<circle cx="146.6" cy="277.8" r="1.15"/>
<circle cx="176.5" cy="359.7" r="1.15"/>
<circle cx="133.4" cy="312.7" r="1.15"/>
<circle cx="107.8" cy="349.7" r="1.15"/>
<circle cx="129.1" cy="325.9" r="1.15"/>
<circle cx="152.4" cy="252.4" r="1.15"/>
<circle cx="163.6" cy="232.6" r="1.15"/>
<circle cx="127.3" cy="301.9" r="1.15"/>
<circle cx="119.9" cy="322.6" r="1.15"/>
<circle cx="138.6" cy="269.4" r="1.15"/>
<circle cx="95.2" cy="283.4" r="1.15"/>
<circle cx="147.2" cy="220" r="1.15"/>
<circle cx="180" cy="276" r="1.15"/>
<circle cx="119.1" cy="405.2" r="1.15"/>
<circle cx="163.7" cy="300.8" r="1.15"/>
<circle cx="168.5" cy="317.4" r="1.15"/>
<circle cx="128.6" cy="338.4" r="1.15"/>
<circle cx="181.9" cy="297.5" r="1.15"/>
<circle cx="184.6" cy="300.9" r="1.15"/>
<circle cx="94.3" cy="318.8" r="1.15"/>
<circle cx="104.3" cy="237.9" r="1.15"/>
<circle cx="104.3" cy="287.1" r="1.15"/>
<circle cx="169.3" cy="285.8" r="1.15"/>
<circle cx="130.2" cy="296.5" r="1.15"/>
<circle cx="138.7" cy="250.4" r="1.15"/>
<circle cx="160.9" cy="351.8" r="1.15"/>
<circle cx="130.3" cy="250.8" r="1.15"/>
<circle cx="132.9" cy="313.7" r="1.15"/>
<circle cx="95.7" cy="238.8" r="1.15"/>
<circle cx="144.6" cy="241.6" r="1.15"/>
<circle cx="140.1" cy="281.7" r="1.15"/>
<circle cx="128.8" cy="323.1" r="1.15"/>
<circle cx="97.3" cy="291.1" r="1.15"/>
<circle cx="162.6" cy="288" r="1.15"/>
<circle cx="146.1" cy="366.8" r="1.15"/>
<circle cx="141.8" cy="317.5" r="1.15"/>
<circle cx="94.1" cy="333.7" r="1.15"/>
<circle cx="117.7" cy="243.8" r="1.15"/>
<circle cx="164.9" cy="229.5" r="1.15"/>
<circle cx="184.7" cy="334.9" r="1.15"/>
<circle cx="91.9" cy="326.2" r="1.15"/>
<circle cx="167.6" cy="360.6" r="1.15"/>
<circle cx="95.8" cy="292" r="1.15"/>
<circle cx="184.1" cy="268.2" r="1.15"/>
<circle cx="144.4" cy="225.6" r="1.15"/>
<circle cx="128" cy="359.1" r="1.15"/>
<circle cx="110.2" cy="263.1" r="1.15"/>
<circle cx="115" cy="309.9" r="1.15"/>
<circle cx="166.8" cy="334.6" r="1.15"/>
<circle cx="144.4" cy="318.5" r="1.15"/>
<circle cx="144.4" cy="336.6" r="1.15"/>
<circle cx="106.7" cy="284.1" r="1.15"/>
<circle cx="172.5" cy="303.5" r="1.15"/>
<circle cx="124.3" cy="252.1" r="1.15"/>
<circle cx="128" cy="326.5" r="1.15"/>
<circle cx="149.8" cy="384.7" r="1.15"/>
<circle cx="114" cy="346.6" r="1.15"/>
<circle cx="117.1" cy="288.8" r="1.15"/>
<circle cx="124" cy="367.6" r="1.15"/>
<circle cx="93.3" cy="336.2" r="1.15"/>
<circle cx="133.5" cy="280.5" r="1.15"/>
<circle cx="136.3" cy="363.2" r="1.15"/>
<circle cx="171.5" cy="267.2" r="1.15"/>
<circle cx="110.6" cy="289.1" r="1.15"/>
<circle cx="170.3" cy="329.1" r="1.15"/>
<circle cx="156.7" cy="305.7" r="1.15"/>
<circle cx="115.2" cy="325.4" r="1.15"/>
<circle cx="155.6" cy="321" r="1.15"/>
<circle cx="162.2" cy="318" r="1.15"/>
<circle cx="98.9" cy="303.1" r="1.15"/>
<circle cx="123" cy="307.8" r="1.15"/>
<circle cx="103.4" cy="336.1" r="1.15"/>
<circle cx="140.3" cy="346.4" r="1.15"/>
<circle cx="91.9" cy="214.2" r="1.15"/>
<circle cx="121" cy="351.6" r="1.15"/>
<circle cx="159.6" cy="310.5" r="1.15"/>
<circle cx="164.7" cy="252" r="1.15"/>
<circle cx="166.4" cy="261" r="1.15"/>
<circle cx="95.4" cy="335.4" r="1.15"/>
<circle cx="136.8" cy="217.1" r="1.15"/>
<circle cx="176.6" cy="227.4" r="1.15"/>
<circle cx="125.5" cy="317.6" r="1.15"/>
<circle cx="141.8" cy="357.5" r="1.15"/>
<circle cx="99.3" cy="276.6" r="1.15"/>
<circle cx="103" cy="311.8" r="1.15"/>
<circle cx="150.8" cy="316.6" r="1.15"/>
<circle cx="167" cy="339" r="1.15"/>
<circle cx="145.1" cy="329.9" r="1.15"/>
<circle cx="99.1" cy="296.9" r="1.15"/>
<circle cx="155.9" cy="265" r="1.15"/>
<circle cx="94.5" cy="393.7" r="1.15"/>
<circle cx="164.3" cy="406.9" r="1.15"/>
<circle cx="94" cy="262.2" r="1.15"/>
<circle cx="121.5" cy="340.6" r="1.15"/>
<circle cx="149.4" cy="274" r="1.15"/>
<circle cx="179.2" cy="299.3" r="1.15"/>
<circle cx="131.8" cy="249.9" r="1.15"/>
<circle cx="136.1" cy="264.6" r="1.15"/>
<circle cx="170.4" cy="316" r="1.15"/>
<circle cx="154.4" cy="310.9" r="1.15"/>
<circle cx="178.3" cy="290.1" r="1.15"/>
<circle cx="174.6" cy="271.7" r="1.15"/>
<circle cx="148.9" cy="331.1" r="1.15"/>
<circle cx="170.7" cy="369.7" r="1.15"/>
<circle cx="124.1" cy="299.5" r="1.15"/>
<circle cx="92.1" cy="305.9" r="1.15"/>
<circle cx="139.5" cy="310.7" r="1.15"/>
<circle cx="183.1" cy="347.2" r="1.15"/>
<circle cx="118.4" cy="277.7" r="1.15"/>
<circle cx="140.5" cy="378.8" r="1.15"/>
<circle cx="169.7" cy="324.9" r="1.15"/>
<circle cx="170.1" cy="247.9" r="1.15"/>
<circle cx="172" cy="352.1" r="1.15"/>
<circle cx="166.7" cy="285.9" r="1.15"/>
<circle cx="146.6" cy="284.3" r="1.15"/>
<circle cx="94.8" cy="285.4" r="1.15"/>
<circle cx="102.5" cy="376.5" r="1.15"/>
<circle cx="146.3" cy="260.1" r="1.15"/>
<circle cx="119.8" cy="297.6" r="1.15"/>
<circle cx="141" cy="282.4" r="1.15"/>
<circle cx="143.2" cy="290.5" r="1.15"/>
<circle cx="151.9" cy="301.1" r="1.15"/>
<circle cx="178" cy="250.8" r="1.15"/>
<circle cx="172.5" cy="241.4" r="1.15"/>
<circle cx="97.3" cy="384.4" r="1.15"/>
<circle cx="130.3" cy="337.5" r="1.15"/>
<circle cx="140.7" cy="311" r="1.15"/>
<circle cx="178.2" cy="397.8" r="1.15"/>
<circle cx="126.2" cy="240.2" r="1.15"/>
<circle cx="104.8" cy="337.2" r="1.15"/>
<circle cx="126.1" cy="279.2" r="1.15"/>
<circle cx="115.4" cy="294.2" r="1.15"/>
<circle cx="143.4" cy="313" r="1.15"/>
<circle cx="138.8" cy="347.3" r="1.15"/>
<circle cx="168.1" cy="319.3" r="1.15"/>
<circle cx="119.6" cy="299.6" r="1.15"/>
<circle cx="159.7" cy="269.5" r="1.15"/>
<circle cx="169.7" cy="312.4" r="1.15"/>
<circle cx="115.8" cy="320.7" r="1.15"/>
<circle cx="141.3" cy="314.2" r="1.15"/>
<circle cx="127.9" cy="247" r="1.15"/>
<circle cx="154.5" cy="290.9" r="1.15"/>
<circle cx="139.9" cy="332.7" r="1.15"/>
<circle cx="182.5" cy="358.1" r="1.15"/>
<circle cx="179" cy="321.3" r="1.15"/>
<circle cx="124.5" cy="343" r="1.15"/>
<circle cx="123.4" cy="321.7" r="1.15"/>
<circle cx="128" cy="244.6" r="1.15"/>
<circle cx="161.4" cy="273.5" r="1.15"/>
<circle cx="154.4" cy="293.6" r="1.15"/>
<circle cx="143.5" cy="285.9" r="1.15"/>
<circle cx="110" cy="228.7" r="1.15"/>
<circle cx="112.9" cy="352.8" r="1.15"/>
<circle cx="141.4" cy="284.2" r="1.15"/>
<circle cx="155.4" cy="312.3" r="1.15"/>
<circle cx="182.2" cy="297.4" r="1.15"/>
<circle cx="115.4" cy="300.3" r="1.15"/>
<circle cx="108.6" cy="317.2" r="1.15"/>
<circle cx="172.9" cy="280" r="1.15"/>
<circle cx="172.8" cy="397.1" r="1.15"/>
<circle cx="137" cy="291" r="1.15"/>
<circle cx="169.6" cy="274.1" r="1.15"/>
<circle cx="176.7" cy="344.8" r="1.15"/>
<circle cx="167.6" cy="345.8" r="1.15"/>
<circle cx="142.5" cy="220.8" r="1.15"/>
<circle cx="135.2" cy="342.3" r="1.15"/>
<circle cx="173.8" cy="319.8" r="1.15"/>
<circle cx="152.3" cy="336.9" r="1.15"/>
<circle cx="164.6" cy="329.9" r="1.15"/>
<circle cx="120.5" cy="332.5" r="1.15"/>
<circle cx="129.4" cy="394.8" r="1.15"/>
<circle cx="135.3" cy="200.4" r="1.15"/>
<circle cx="183.9" cy="334.9" r="1.15"/>
<circle cx="118.7" cy="287.1" r="1.15"/>
<circle cx="143.9" cy="307" r="1.15"/>
<circle cx="174.6" cy="245.2" r="1.15"/>
<circle cx="178.1" cy="273.6" r="1.15"/>
<circle cx="154.9" cy="254.7" r="1.15"/>
<circle cx="154.3" cy="253.1" r="1.15"/>
<circle cx="132.7" cy="267.3" r="1.15"/>
<circle cx="140.5" cy="302.1" r="1.15"/>
<circle cx="160.1" cy="264.2" r="1.15"/>
<circle cx="163.2" cy="372.4" r="1.15"/>
<circle cx="172.8" cy="265.2" r="1.15"/>
<circle cx="92.3" cy="273.3" r="1.15"/>
<circle cx="115.1" cy="290.5" r="1.15"/>
<circle cx="122.3" cy="361.2" r="1.15"/>
<circle cx="135.4" cy="246" r="1.15"/>
<circle cx="144.7" cy="332.7" r="1.15"/>
<circle cx="149.2" cy="276.6" r="1.15"/>
<circle cx="102.6" cy="383.5" r="1.15"/>
<circle cx="107.8" cy="311.4" r="1.15"/>
<circle cx="151.7" cy="331.6" r="1.15"/>
<circle cx="154.1" cy="337.3" r="1.15"/>
<circle cx="101.7" cy="332.4" r="1.15"/>
<circle cx="118.3" cy="226.9" r="1.15"/>
<circle cx="183.3" cy="305.2" r="1.15"/>
<circle cx="173.2" cy="289" r="1.15"/>
<circle cx="175.3" cy="211.4" r="1.15"/>
<circle cx="119.6" cy="365.6" r="1.15"/>
<circle cx="131.2" cy="237.6" r="1.15"/>
<circle cx="142.6" cy="319.8" r="1.15"/>
<circle cx="176.8" cy="330.9" r="1.15"/>
<circle cx="116.2" cy="321.5" r="1.15"/>
<circle cx="112.3" cy="382" r="1.15"/>
<circle cx="164.9" cy="370.1" r="1.15"/>
<circle cx="123.9" cy="352.8" r="1.15"/>
<circle cx="105.7" cy="328.1" r="1.15"/>
<circle cx="120" cy="273" r="1.15"/>
<circle cx="93.2" cy="256.9" r="1.15"/>
<circle cx="175.9" cy="319.8" r="1.15"/>
<circle cx="132.8" cy="287.8" r="1.15"/>
<circle cx="172.1" cy="285.1" r="1.15"/>
<circle cx="168.5" cy="313.8" r="1.15"/>
<circle cx="119" cy="294.1" r="1.15"/>
<circle cx="139.4" cy="329.4" r="1.15"/>
<circle cx="102.1" cy="279.9" r="1.15"/>
<circle cx="143.8" cy="313.7" r="1.15"/>
<circle cx="130.1" cy="302.3" r="1.15"/>
<circle cx="172.4" cy="292.9" r="1.15"/>
<circle cx="172.7" cy="297.7" r="1.15"/>
<circle cx="172" cy="334.9" r="1.15"/>
<circle cx="131.8" cy="362.3" r="1.15"/>
<circle cx="149.9" cy="306.9" r="1.15"/>
<circle cx="103.6" cy="328.5" r="1.15"/>
<circle cx="169.6" cy="327" r="1.15"/>
<circle cx="96.9" cy="308.6" r="1.15"/>
<circle cx="124.2" cy="334.8" r="1.15"/>
<circle cx="180" cy="284.7" r="1.15"/>
<circle cx="169" cy="286.8" r="1.15"/>
<circle cx="175" cy="343" r="1.15"/>
<circle cx="108.8" cy="288.2" r="1.15"/>
<circle cx="93" cy="345.6" r="1.15"/>
<circle cx="106.9" cy="272.9" r="1.15"/>
<circle cx="152.7" cy="277.4" r="1.15"/>
<circle cx="160.8" cy="304.7" r="1.15"/>
<circle cx="150.2" cy="265.7" r="1.15"/>
<circle cx="117.8" cy="260" r="1.15"/>
<circle cx="153.7" cy="285" r="1.15"/>
<circle cx="140.4" cy="383.6" r="1.15"/>
<circle cx="177.2" cy="298.6" r="1.15"/>
<circle cx="172.8" cy="295.6" r="1.15"/>
<circle cx="145" cy="269.4" r="1.15"/>
<circle cx="165.3" cy="346.9" r="1.15"/>
<circle cx="148.4" cy="273.9" r="1.15"/>
<circle cx="125.4" cy="289.1" r="1.15"/>
<circle cx="144.1" cy="286.8" r="1.15"/>
<circle cx="93.4" cy="358" r="1.15"/>
<circle cx="145.8" cy="341.8" r="1.15"/>
<circle cx="140.4" cy="255.5" r="1.15"/>
<circle cx="144.9" cy="268.7" r="1.15"/>
<circle cx="139.5" cy="308.1" r="1.15"/>
<circle cx="136.4" cy="257.5" r="1.15"/>
<circle cx="154.2" cy="293.1" r="1.15"/>
<circle cx="116.5" cy="322.5" r="1.15"/>
<circle cx="151.8" cy="372.8" r="1.15"/>
<circle cx="113.5" cy="260.7" r="1.15"/>
<circle cx="155.3" cy="310.7" r="1.15"/>
<circle cx="114.1" cy="294.5" r="1.15"/>
<circle cx="137.5" cy="382.3" r="1.15"/>
<circle cx="143.8" cy="328.1" r="1.15"/>
<circle cx="108.6" cy="291.9" r="1.15"/>
<circle cx="119.5" cy="315.4" r="1.15"/>
<circle cx="156.2" cy="336.5" r="1.15"/>
<circle cx="118.6" cy="352.8" r="1.15"/>
<circle cx="177.1" cy="295.8" r="1.15"/>
<circle cx="148.1" cy="320.7" r="1.15"/>
<circle cx="169.8" cy="319.5" r="1.15"/>
<circle cx="92" cy="317.5" r="1.15"/>
<circle cx="139" cy="332.9" r="1.15"/>
<circle cx="169" cy="319.2" r="1.15"/>
<circle cx="154.2" cy="331.5" r="1.15"/>
<circle cx="97.6" cy="303.8" r="1.15"/>
<circle cx="158.9" cy="364.3" r="1.15"/>
<circle cx="108.6" cy="352.4" r="1.15"/>
<circle cx="104.2" cy="303.9" r="1.15"/>
<circle cx="159.3" cy="312.2" r="1.15"/>
<circle cx="166.3" cy="298.4" r="1.15"/>
<circle cx="109.6" cy="218.5" r="1.15"/>
<circle cx="95.6" cy="272.9" r="1.15"/>
<circle cx="121.9" cy="256.5" r="1.15"/>
<circle cx="159" cy="287.2" r="1.15"/>
<circle cx="131.4" cy="310.3" r="1.15"/>
<circle cx="129.3" cy="339.5" r="1.15"/>
<circle cx="167.2" cy="385.3" r="1.15"/>
<circle cx="127.6" cy="366.1" r="1.15"/>
<circle cx="155.7" cy="405.9" r="1.15"/>
<circle cx="129.2" cy="353.5" r="1.15"/>
<circle cx="163.5" cy="373.6" r="1.15"/>
<circle cx="125.8" cy="346.9" r="1.15"/>
<circle cx="117.4" cy="306.1" r="1.15"/>
<circle cx="146.2" cy="322.8" r="1.15"/>
<circle cx="154.5" cy="267.1" r="1.15"/>
<circle cx="155.5" cy="266.4" r="1.15"/>
<circle cx="122.5" cy="261.2" r="1.15"/>
<circle cx="178.3" cy="268.2" r="1.15"/>
<circle cx="171.2" cy="293.7" r="1.15"/>
<circle cx="107" cy="327.3" r="1.15"/>
<circle cx="103.1" cy="285.7" r="1.15"/>
<circle cx="126.8" cy="315.9" r="1.15"/>
<circle cx="151.1" cy="313.8" r="1.15"/>
<circle cx="129.4" cy="287.5" r="1.15"/>
<circle cx="184.1" cy="352.2" r="1.15"/>
<circle cx="137.6" cy="375.2" r="1.15"/>
<circle cx="155.5" cy="291.2" r="1.15"/>
<circle cx="108.7" cy="228.6" r="1.15"/>
<circle cx="144.5" cy="256.9" r="1.15"/>
<circle cx="132.1" cy="365.5" r="1.15"/>
<circle cx="159.4" cy="332.9" r="1.15"/>
<circle cx="126.7" cy="404.2" r="1.15"/>
<circle cx="131.9" cy="342.2" r="1.15"/>
<circle cx="126.9" cy="223.6" r="1.15"/>
<circle cx="159.8" cy="235.6" r="1.15"/>
<circle cx="155.8" cy="348.8" r="1.15"/>
<circle cx="117.7" cy="318.9" r="1.15"/>
<circle cx="157.9" cy="340.5" r="1.15"/>
<circle cx="136" cy="363" r="1.15"/>
<circle cx="146" cy="315.6" r="1.15"/>
<circle cx="113.7" cy="319.2" r="1.15"/>
<circle cx="112.8" cy="301" r="1.15"/>
<circle cx="103.9" cy="293.8" r="1.15"/>
<circle cx="103.7" cy="275" r="1.15"/>
<circle cx="183.5" cy="245.9" r="1.15"/>
<circle cx="163.7" cy="308.4" r="1.15"/>
<circle cx="177.6" cy="314" r="1.15"/>
<circle cx="156.4" cy="304.7" r="1.15"/>
<circle cx="162.4" cy="285.9" r="1.15"/>
<circle cx="110.5" cy="310.7" r="1.15"/>
<circle cx="110.3" cy="347.6" r="1.15"/>
<circle cx="110.5" cy="327.4" r="1.15"/>
<circle cx="144.5" cy="273.2" r="1.15"/>
<circle cx="144.7" cy="349.3" r="1.15"/>
<circle cx="105.5" cy="270" r="1.15"/>
<circle cx="123.3" cy="365" r="1.15"/>
<circle cx="165.6" cy="278.8" r="1.15"/>
<circle cx="142.6" cy="279.6" r="1.15"/>
<circle cx="130" cy="314.1" r="1.15"/>
<circle cx="179.1" cy="306" r="1.15"/>
<circle cx="154.2" cy="315" r="1.15"/>
<circle cx="175.9" cy="232.7" r="1.15"/>
<circle cx="92.7" cy="323.9" r="1.15"/>
<circle cx="162.4" cy="336.4" r="1.15"/>
<circle cx="131.6" cy="288.8" r="1.15"/>
<circle cx="135.2" cy="257.3" r="1.15"/>
<circle cx="95.1" cy="290.6" r="1.15"/>
<circle cx="141.7" cy="311.3" r="1.15"/>
<circle cx="171.3" cy="261" r="1.15"/>
<circle cx="156.7" cy="337.7" r="1.15"/>
<circle cx="143.1" cy="338.5" r="1.15"/>
<circle cx="114.5" cy="358.2" r="1.15"/>
<circle cx="137.7" cy="253" r="1.15"/>
<circle cx="168.7" cy="400.1" r="1.15"/>
<circle cx="124" cy="360.4" r="1.15"/>
<circle cx="124.8" cy="294.4" r="1.15"/>
<circle cx="116.9" cy="287.4" r="1.15"/>
<circle cx="143.6" cy="230.3" r="1.15"/>
<circle cx="106.5" cy="286.7" r="1.15"/>
<circle cx="162.8" cy="326.3" r="1.15"/>
<circle cx="171" cy="245.5" r="1.15"/>
<circle cx="138.9" cy="259.2" r="1.15"/>
<circle cx="100.3" cy="255.2" r="1.15"/>
<circle cx="182.6" cy="259.1" r="1.15"/>
<circle cx="137.2" cy="283.1" r="1.15"/>
<circle cx="110.9" cy="367.5" r="1.15"/>
<circle cx="158.3" cy="350.3" r="1.15"/>
<circle cx="100.7" cy="220.4" r="1.15"/>
<circle cx="163.3" cy="303.2" r="1.15"/>
<circle cx="123.7" cy="384" r="1.15"/>
<circle cx="107" cy="302.7" r="1.15"/>
<circle cx="104.5" cy="263.7" r="1.15"/>
<circle cx="130.8" cy="288.1" r="1.15"/>
<circle cx="128.4" cy="304.5" r="1.15"/>
<circle cx="134.5" cy="404.8" r="1.15"/>
<circle cx="177.4" cy="302.5" r="1.15"/>
<circle cx="181.3" cy="311" r="1.15"/>
<circle cx="166.7" cy="233.1" r="1.15"/>
<circle cx="127.5" cy="305" r="1.15"/>
<circle cx="156.1" cy="307.4" r="1.15"/>
<circle cx="137.7" cy="324.1" r="1.15"/>
<circle cx="133.7" cy="310.4" r="1.15"/>
<circle cx="105.4" cy="293.5" r="1.15"/>
<circle cx="119" cy="327.2" r="1.15"/>
<circle cx="184.7" cy="343.1" r="1.15"/>
<circle cx="128.4" cy="358.4" r="1.15"/>
<circle cx="104.5" cy="300.2" r="1.15"/>
<circle cx="144.9" cy="320.5" r="1.15"/>
<circle cx="149.2" cy="319" r="1.15"/>
<circle cx="119.5" cy="370.5" r="1.15"/>
<circle cx="176.3" cy="340.1" r="1.15"/>
<circle cx="93.7" cy="386.6" r="1.15"/>
<circle cx="136.6" cy="264.4" r="1.15"/>
<circle cx="183.1" cy="254.7" r="1.15"/>
<circle cx="150" cy="287.9" r="1.15"/>
<circle cx="142.8" cy="310.3" r="1.15"/>
<circle cx="182.3" cy="285.4" r="1.15"/>
<circle cx="127" cy="369.3" r="1.15"/>
<circle cx="162.5" cy="362.4" r="1.15"/>
<circle cx="110.7" cy="255" r="1.15"/>
<circle cx="122.4" cy="350.1" r="1.15"/>
<circle cx="133.6" cy="307.8" r="1.15"/>
<circle cx="93.6" cy="334.4" r="1.15"/>
<circle cx="116" cy="410.5" r="1.15"/>
<circle cx="118.2" cy="334.6" r="1.15"/>
<circle cx="141.7" cy="270.2" r="1.15"/>
<circle cx="142.6" cy="249.2" r="1.15"/>
<circle cx="133.6" cy="414.1" r="1.15"/>
<circle cx="134.1" cy="373.1" r="1.15"/>
<circle cx="156.4" cy="330.5" r="1.15"/>
<circle cx="161.6" cy="262.8" r="1.15"/>
<circle cx="180.6" cy="253" r="1.15"/>
<circle cx="131.5" cy="237.3" r="1.15"/>
<circle cx="103.7" cy="233.1" r="1.15"/>
<circle cx="110.7" cy="323.8" r="1.15"/>
<circle cx="115.1" cy="348.1" r="1.15"/>
<circle cx="94.8" cy="265.8" r="1.15"/>
<circle cx="106.5" cy="316.5" r="1.15"/>
<circle cx="146.7" cy="304.2" r="1.15"/>
<circle cx="183.5" cy="320.9" r="1.15"/>
<circle cx="106.4" cy="322.4" r="1.15"/>
<circle cx="148.7" cy="266.2" r="1.15"/>
<circle cx="122.9" cy="349" r="1.15"/>
<circle cx="160" cy="380.8" r="1.15"/>
<circle cx="99.4" cy="335.7" r="1.15"/>
<circle cx="123" cy="301.3" r="1.15"/>
<circle cx="160" cy="318.9" r="1.15"/>
<circle cx="144.5" cy="311.8" r="1.15"/>
<circle cx="149.8" cy="391.5" r="1.15"/>
<circle cx="112.3" cy="343.6" r="1.15"/>
<circle cx="95.1" cy="259.5" r="1.15"/>
<circle cx="144.8" cy="313.3" r="1.15"/>
<circle cx="158.2" cy="335.3" r="1.15"/>
<circle cx="151.4" cy="257.6" r="1.15"/>
<circle cx="113.4" cy="330.4" r="1.15"/>
<circle cx="171.9" cy="273.8" r="1.15"/>
<circle cx="91.9" cy="297" r="1.15"/>
<circle cx="110.7" cy="288.9" r="1.15"/>
<circle cx="128.5" cy="261.7" r="1.15"/>
<circle cx="103.7" cy="209.3" r="1.15"/>
<circle cx="104.8" cy="251.5" r="1.15"/>
<circle cx="160.5" cy="343.1" r="1.15"/>
<circle cx="113.3" cy="354.5" r="1.15"/>
<circle cx="143.7" cy="320.6" r="1.15"/>
<circle cx="132.9" cy="314.1" r="1.15"/>
<circle cx="178.9" cy="276.6" r="1.15"/>
<circle cx="158.2" cy="305.4" r="1.15"/>
<circle cx="123.7" cy="298.1" r="1.15"/>
<circle cx="108" cy="380.2" r="1.15"/>
<circle cx="102.3" cy="308.9" r="1.15"/>
<circle cx="99" cy="283.9" r="1.15"/>
<circle cx="123.8" cy="233.3" r="1.15"/>
<circle cx="169.9" cy="272.8" r="1.15"/>
<circle cx="95.3" cy="302.8" r="1.15"/>
<circle cx="100.3" cy="357.9" r="1.15"/>
<circle cx="125.3" cy="307.2" r="1.15"/>
<circle cx="134.8" cy="306.7" r="1.15"/>
<circle cx="166.7" cy="313" r="1.15"/>
<circle cx="183.5" cy="300.2" r="1.15"/>
<circle cx="148.6" cy="285.1" r="1.15"/>
<circle cx="110.4" cy="287.7" r="1.15"/>
<circle cx="146" cy="210.6" r="1.15"/>
<circle cx="142.1" cy="349.3" r="1.15"/>
<circle cx="132.5" cy="374.9" r="1.15"/>
<circle cx="140.9" cy="290.2" r="1.15"/>
<circle cx="133.9" cy="360.3" r="1.15"/>
<circle cx="110.4" cy="316.2" r="1.15"/>
</g>
<g fill="#8c92ce" stroke="#8c92ce" fill-opacity="0.32" stroke-opacity="0.42" stroke-width=".8">
<circle cx="285.6" cy="283.5" r="1.15"/>
<circle cx="299.5" cy="345.1" r="1.15"/>
<circle cx="268.7" cy="238" r="1.15"/>
<circle cx="254.4" cy="272.9" r="1.15"/>
<circle cx="267.7" cy="349.3" r="1.15"/>
<circle cx="211.7" cy="257.8" r="1.15"/>
<circle cx="222.5" cy="318.7" r="1.15"/>
<circle cx="284.6" cy="277.8" r="1.15"/>
<circle cx="248.8" cy="285.3" r="1.15"/>
<circle cx="260.2" cy="275.7" r="1.15"/>
<circle cx="285.7" cy="233.6" r="1.15"/>
<circle cx="220.4" cy="186.7" r="1.15"/>
<circle cx="230.5" cy="283.7" r="1.15"/>
<circle cx="240" cy="295.9" r="1.15"/>
<circle cx="279.8" cy="303.1" r="1.15"/>
<circle cx="294.5" cy="280" r="1.15"/>
<circle cx="227.3" cy="273.4" r="1.15"/>
<circle cx="300.7" cy="360.5" r="1.15"/>
<circle cx="254.3" cy="296" r="1.15"/>
<circle cx="221.3" cy="194.9" r="1.15"/>
<circle cx="241.2" cy="264.7" r="1.15"/>
<circle cx="228" cy="250.3" r="1.15"/>
<circle cx="250.2" cy="302.1" r="1.15"/>
<circle cx="225.8" cy="200.7" r="1.15"/>
<circle cx="248" cy="272.6" r="1.15"/>
<circle cx="250" cy="314" r="1.15"/>
<circle cx="228" cy="333.9" r="1.15"/>
<circle cx="230.7" cy="277.8" r="1.15"/>
<circle cx="262.4" cy="218.3" r="1.15"/>
<circle cx="286.7" cy="329.8" r="1.15"/>
<circle cx="279.3" cy="344.8" r="1.15"/>
<circle cx="300.2" cy="406.1" r="1.15"/>
<circle cx="239.9" cy="267.4" r="1.15"/>
<circle cx="272.2" cy="349.7" r="1.15"/>
<circle cx="279.8" cy="334.2" r="1.15"/>
<circle cx="233.4" cy="349.4" r="1.15"/>
<circle cx="253.2" cy="341.3" r="1.15"/>
<circle cx="244.7" cy="265.2" r="1.15"/>
<circle cx="210.5" cy="336.6" r="1.15"/>
<circle cx="233.1" cy="293.7" r="1.15"/>
<circle cx="268.4" cy="335" r="1.15"/>
<circle cx="242.3" cy="318.6" r="1.15"/>
<circle cx="239.8" cy="271.5" r="1.15"/>
<circle cx="216.9" cy="271.9" r="1.15"/>
<circle cx="241.5" cy="355.6" r="1.15"/>
<circle cx="211.4" cy="300.9" r="1.15"/>
<circle cx="237.2" cy="345.5" r="1.15"/>
<circle cx="273.8" cy="269.6" r="1.15"/>
<circle cx="268.6" cy="330.8" r="1.15"/>
<circle cx="288.4" cy="345.1" r="1.15"/>
<circle cx="249.9" cy="264.5" r="1.15"/>
<circle cx="246.1" cy="328.6" r="1.15"/>
<circle cx="260" cy="296.8" r="1.15"/>
<circle cx="218.6" cy="269.9" r="1.15"/>
<circle cx="213.2" cy="327.5" r="1.15"/>
<circle cx="245.9" cy="317.6" r="1.15"/>
<circle cx="251.3" cy="275.4" r="1.15"/>
<circle cx="265.6" cy="198.7" r="1.15"/>
<circle cx="226.7" cy="275.7" r="1.15"/>
<circle cx="249.3" cy="269" r="1.15"/>
<circle cx="232.7" cy="301.6" r="1.15"/>
<circle cx="282.3" cy="304.8" r="1.15"/>
<circle cx="239.6" cy="234.3" r="1.15"/>
<circle cx="268.9" cy="337.1" r="1.15"/>
<circle cx="279.7" cy="335.3" r="1.15"/>
<circle cx="235.6" cy="234.9" r="1.15"/>
<circle cx="222" cy="338.8" r="1.15"/>
<circle cx="224.4" cy="360.5" r="1.15"/>
<circle cx="297.4" cy="280.9" r="1.15"/>
<circle cx="224.2" cy="257" r="1.15"/>
<circle cx="291.8" cy="222" r="1.15"/>
<circle cx="252" cy="201" r="1.15"/>
<circle cx="278.4" cy="406.8" r="1.15"/>
<circle cx="293.6" cy="311.9" r="1.15"/>
<circle cx="283.8" cy="317.5" r="1.15"/>
<circle cx="235.6" cy="285.6" r="1.15"/>
<circle cx="257.8" cy="342" r="1.15"/>
<circle cx="280.1" cy="300.9" r="1.15"/>
<circle cx="224.9" cy="289.7" r="1.15"/>
<circle cx="269.6" cy="293.6" r="1.15"/>
<circle cx="227.5" cy="341.9" r="1.15"/>
<circle cx="212.7" cy="291.6" r="1.15"/>
<circle cx="287.9" cy="343" r="1.15"/>
<circle cx="209.5" cy="342" r="1.15"/>
<circle cx="295.4" cy="314.6" r="1.15"/>
<circle cx="234" cy="265.8" r="1.15"/>
<circle cx="231.1" cy="395.5" r="1.15"/>
<circle cx="288.6" cy="305.6" r="1.15"/>
<circle cx="232.3" cy="238.8" r="1.15"/>
<circle cx="248.1" cy="295.6" r="1.15"/>
<circle cx="251.9" cy="327.6" r="1.15"/>
<circle cx="231" cy="291.1" r="1.15"/>
<circle cx="248.8" cy="229.7" r="1.15"/>
<circle cx="238.6" cy="310.6" r="1.15"/>
<circle cx="276.8" cy="335.5" r="1.15"/>
<circle cx="240.3" cy="267.6" r="1.15"/>
<circle cx="280.6" cy="315.3" r="1.15"/>
<circle cx="264.8" cy="335.5" r="1.15"/>
<circle cx="217.7" cy="265" r="1.15"/>
<circle cx="222.6" cy="342.2" r="1.15"/>
<circle cx="241.9" cy="317.3" r="1.15"/>
<circle cx="225.2" cy="241.5" r="1.15"/>
<circle cx="273.7" cy="296.3" r="1.15"/>
<circle cx="262.7" cy="244.5" r="1.15"/>
<circle cx="253.2" cy="386.1" r="1.15"/>
<circle cx="250.1" cy="373.3" r="1.15"/>
<circle cx="295.2" cy="339.9" r="1.15"/>
<circle cx="285.8" cy="309.8" r="1.15"/>
<circle cx="244.6" cy="392.5" r="1.15"/>
<circle cx="280.1" cy="293.7" r="1.15"/>
<circle cx="281.4" cy="329.3" r="1.15"/>
<circle cx="292.5" cy="328.1" r="1.15"/>
<circle cx="271.6" cy="302.7" r="1.15"/>
<circle cx="296.9" cy="316" r="1.15"/>
<circle cx="295.4" cy="360.1" r="1.15"/>
<circle cx="211.6" cy="315.1" r="1.15"/>
<circle cx="301.7" cy="359.8" r="1.15"/>
<circle cx="236" cy="243.3" r="1.15"/>
<circle cx="267.6" cy="325.8" r="1.15"/>
<circle cx="285.4" cy="316.7" r="1.15"/>
<circle cx="293.2" cy="335" r="1.15"/>
<circle cx="226.7" cy="303.2" r="1.15"/>
<circle cx="215.6" cy="293.7" r="1.15"/>
<circle cx="215.6" cy="310.6" r="1.15"/>
<circle cx="211.7" cy="353" r="1.15"/>
<circle cx="276.1" cy="252.8" r="1.15"/>
<circle cx="239.7" cy="305.7" r="1.15"/>
<circle cx="257.1" cy="391.7" r="1.15"/>
<circle cx="239.9" cy="408.8" r="1.15"/>
<circle cx="218.3" cy="357" r="1.15"/>
<circle cx="269.2" cy="359.2" r="1.15"/>
<circle cx="223.4" cy="382.2" r="1.15"/>
<circle cx="211.9" cy="349.9" r="1.15"/>
<circle cx="258.1" cy="289.9" r="1.15"/>
<circle cx="298.6" cy="247.2" r="1.15"/>
<circle cx="273.8" cy="294.7" r="1.15"/>
<circle cx="232.9" cy="289.5" r="1.15"/>
<circle cx="269.4" cy="252" r="1.15"/>
<circle cx="218.3" cy="203.8" r="1.15"/>
<circle cx="285" cy="251.9" r="1.15"/>
<circle cx="258.6" cy="277.1" r="1.15"/>
<circle cx="267.5" cy="311.3" r="1.15"/>
<circle cx="287.4" cy="351.7" r="1.15"/>
<circle cx="299.1" cy="285.3" r="1.15"/>
<circle cx="280.5" cy="249.5" r="1.15"/>
<circle cx="228.9" cy="290.5" r="1.15"/>
<circle cx="277.7" cy="330.1" r="1.15"/>
<circle cx="249.6" cy="277.8" r="1.15"/>
<circle cx="264.9" cy="309" r="1.15"/>
<circle cx="243.9" cy="332.8" r="1.15"/>
<circle cx="292.7" cy="396.9" r="1.15"/>
<circle cx="220.4" cy="279.9" r="1.15"/>
<circle cx="295.6" cy="335.8" r="1.15"/>
<circle cx="220" cy="251.2" r="1.15"/>
<circle cx="211.4" cy="334.5" r="1.15"/>
<circle cx="261.1" cy="301.1" r="1.15"/>
<circle cx="276.3" cy="331.1" r="1.15"/>
<circle cx="249.4" cy="223.2" r="1.15"/>
<circle cx="230.6" cy="241.8" r="1.15"/>
<circle cx="274.8" cy="305.3" r="1.15"/>
<circle cx="256.5" cy="238.4" r="1.15"/>
<circle cx="253.8" cy="362.6" r="1.15"/>
<circle cx="262.1" cy="274.4" r="1.15"/>
<circle cx="231.4" cy="330.5" r="1.15"/>
<circle cx="225.1" cy="311" r="1.15"/>
<circle cx="267" cy="326" r="1.15"/>
<circle cx="252.1" cy="277" r="1.15"/>
<circle cx="257" cy="387.7" r="1.15"/>
<circle cx="245.9" cy="326.1" r="1.15"/>
<circle cx="236.4" cy="240.7" r="1.15"/>
<circle cx="260.6" cy="409.9" r="1.15"/>
<circle cx="251.6" cy="314.3" r="1.15"/>
<circle cx="265.4" cy="366.6" r="1.15"/>
<circle cx="282.2" cy="428.6" r="1.15"/>
<circle cx="266.9" cy="285.9" r="1.15"/>
<circle cx="287.3" cy="326.8" r="1.15"/>
<circle cx="257.3" cy="245.1" r="1.15"/>
<circle cx="277.6" cy="391.1" r="1.15"/>
<circle cx="252.1" cy="286.8" r="1.15"/>
<circle cx="272.5" cy="230.3" r="1.15"/>
<circle cx="256.8" cy="390.3" r="1.15"/>
<circle cx="210.3" cy="274" r="1.15"/>
<circle cx="301.2" cy="271.6" r="1.15"/>
<circle cx="281.2" cy="294.2" r="1.15"/>
<circle cx="215.1" cy="238.7" r="1.15"/>
<circle cx="219.7" cy="272.3" r="1.15"/>
<circle cx="296.4" cy="336.7" r="1.15"/>
<circle cx="244.5" cy="339.2" r="1.15"/>
<circle cx="273.3" cy="309.7" r="1.15"/>
<circle cx="242.4" cy="226.7" r="1.15"/>
<circle cx="279.1" cy="309.4" r="1.15"/>
<circle cx="232.4" cy="261.6" r="1.15"/>
<circle cx="262.1" cy="309.7" r="1.15"/>
<circle cx="287.2" cy="273.8" r="1.15"/>
<circle cx="211.7" cy="277.9" r="1.15"/>
<circle cx="223.8" cy="245.6" r="1.15"/>
<circle cx="251.8" cy="217.4" r="1.15"/>
<circle cx="288.9" cy="325.8" r="1.15"/>
<circle cx="215.2" cy="356" r="1.15"/>
<circle cx="296" cy="306.1" r="1.15"/>
<circle cx="233.7" cy="304" r="1.15"/>
<circle cx="224.9" cy="289.8" r="1.15"/>
<circle cx="211.8" cy="255.4" r="1.15"/>
<circle cx="290.3" cy="321.6" r="1.15"/>
<circle cx="274" cy="301.7" r="1.15"/>
<circle cx="287.8" cy="301.2" r="1.15"/>
<circle cx="226.6" cy="250.1" r="1.15"/>
<circle cx="255.9" cy="321.6" r="1.15"/>
<circle cx="217.1" cy="245.6" r="1.15"/>
<circle cx="219.5" cy="210.9" r="1.15"/>
<circle cx="257.8" cy="311.5" r="1.15"/>
<circle cx="272.9" cy="234.7" r="1.15"/>
<circle cx="240.1" cy="275.3" r="1.15"/>
<circle cx="217.9" cy="303.8" r="1.15"/>
<circle cx="286.1" cy="206.4" r="1.15"/>
<circle cx="300.4" cy="242.4" r="1.15"/>
<circle cx="210.5" cy="314.7" r="1.15"/>
<circle cx="243.6" cy="273.7" r="1.15"/>
<circle cx="268.6" cy="331.4" r="1.15"/>
<circle cx="301.5" cy="364.5" r="1.15"/>
<circle cx="258" cy="250.5" r="1.15"/>
<circle cx="262.2" cy="299.3" r="1.15"/>
<circle cx="222.1" cy="222.3" r="1.15"/>
<circle cx="261.8" cy="291.8" r="1.15"/>
<circle cx="219.4" cy="286.4" r="1.15"/>
<circle cx="301.3" cy="304.3" r="1.15"/>
<circle cx="298.3" cy="291.3" r="1.15"/>
<circle cx="221.4" cy="336.1" r="1.15"/>
<circle cx="218.1" cy="310" r="1.15"/>
<circle cx="299.5" cy="380.8" r="1.15"/>
<circle cx="231.1" cy="384.2" r="1.15"/>
<circle cx="229.2" cy="363.3" r="1.15"/>
<circle cx="270.2" cy="328.8" r="1.15"/>
<circle cx="281.8" cy="303.9" r="1.15"/>
<circle cx="288.5" cy="308.3" r="1.15"/>
<circle cx="281.4" cy="245" r="1.15"/>
<circle cx="295.1" cy="184.5" r="1.15"/>
<circle cx="233.9" cy="413.2" r="1.15"/>
<circle cx="256.1" cy="232.4" r="1.15"/>
<circle cx="292.2" cy="256.5" r="1.15"/>
<circle cx="296.8" cy="327.3" r="1.15"/>
<circle cx="290.4" cy="293.3" r="1.15"/>
<circle cx="231.4" cy="391.6" r="1.15"/>
<circle cx="295.3" cy="311.3" r="1.15"/>
<circle cx="210.9" cy="227.1" r="1.15"/>
<circle cx="212.6" cy="356.5" r="1.15"/>
<circle cx="211.8" cy="328.9" r="1.15"/>
<circle cx="242" cy="296.3" r="1.15"/>
<circle cx="213.9" cy="269.6" r="1.15"/>
<circle cx="221.6" cy="299.1" r="1.15"/>
<circle cx="283.1" cy="325.9" r="1.15"/>
<circle cx="247.5" cy="270.9" r="1.15"/>
<circle cx="230.7" cy="328.5" r="1.15"/>
<circle cx="296" cy="189.2" r="1.15"/>
<circle cx="286.2" cy="243.2" r="1.15"/>
<circle cx="217.3" cy="296.3" r="1.15"/>
<circle cx="265.7" cy="339.1" r="1.15"/>
<circle cx="273.8" cy="327.9" r="1.15"/>
<circle cx="288.6" cy="335.8" r="1.15"/>
<circle cx="299.2" cy="317.2" r="1.15"/>
<circle cx="237.4" cy="281.8" r="1.15"/>
<circle cx="241.7" cy="362.1" r="1.15"/>
<circle cx="297.9" cy="294.1" r="1.15"/>
<circle cx="234.3" cy="301.5" r="1.15"/>
<circle cx="287.7" cy="346.5" r="1.15"/>
<circle cx="282.8" cy="242.1" r="1.15"/>
<circle cx="254.5" cy="279.6" r="1.15"/>
<circle cx="293" cy="287.1" r="1.15"/>
<circle cx="266.7" cy="328.7" r="1.15"/>
<circle cx="249.3" cy="336.5" r="1.15"/>
<circle cx="277.2" cy="300.5" r="1.15"/>
<circle cx="219.2" cy="370.6" r="1.15"/>
<circle cx="261.1" cy="285.7" r="1.15"/>
<circle cx="222.4" cy="355.4" r="1.15"/>
<circle cx="226.2" cy="303.6" r="1.15"/>
<circle cx="294.3" cy="271.7" r="1.15"/>
<circle cx="231.7" cy="315.2" r="1.15"/>
<circle cx="235.3" cy="333" r="1.15"/>
<circle cx="283.1" cy="337.9" r="1.15"/>
<circle cx="299.5" cy="296.5" r="1.15"/>
<circle cx="295.4" cy="355.1" r="1.15"/>
<circle cx="292.6" cy="305.7" r="1.15"/>
<circle cx="221.4" cy="258.3" r="1.15"/>
<circle cx="250" cy="391.3" r="1.15"/>
<circle cx="301.5" cy="340.5" r="1.15"/>
<circle cx="267.6" cy="291.1" r="1.15"/>
<circle cx="255.5" cy="355.6" r="1.15"/>
<circle cx="257.3" cy="352.5" r="1.15"/>
<circle cx="300.4" cy="361.3" r="1.15"/>
<circle cx="257.9" cy="264.7" r="1.15"/>
<circle cx="297.6" cy="404" r="1.15"/>
<circle cx="229" cy="310.7" r="1.15"/>
<circle cx="257.6" cy="314.6" r="1.15"/>
<circle cx="215.1" cy="304.7" r="1.15"/>
<circle cx="278.3" cy="341.9" r="1.15"/>
<circle cx="243.2" cy="302.2" r="1.15"/>
<circle cx="258.6" cy="329.9" r="1.15"/>
<circle cx="230.4" cy="345.8" r="1.15"/>
<circle cx="221.3" cy="186.4" r="1.15"/>
<circle cx="299.1" cy="259.3" r="1.15"/>
<circle cx="296.2" cy="356.5" r="1.15"/>
<circle cx="217.3" cy="339.1" r="1.15"/>
<circle cx="214.8" cy="286.2" r="1.15"/>
<circle cx="249.8" cy="239.8" r="1.15"/>
<circle cx="286.7" cy="315.4" r="1.15"/>
<circle cx="294.8" cy="273.4" r="1.15"/>
<circle cx="279.3" cy="297" r="1.15"/>
<circle cx="298.6" cy="251.9" r="1.15"/>
<circle cx="289.9" cy="331.2" r="1.15"/>
<circle cx="257.5" cy="341.8" r="1.15"/>
<circle cx="301.4" cy="293.3" r="1.15"/>
<circle cx="231.8" cy="293.4" r="1.15"/>
<circle cx="291.6" cy="303.9" r="1.15"/>
<circle cx="248.9" cy="249.3" r="1.15"/>
<circle cx="270.5" cy="273.8" r="1.15"/>
<circle cx="296.5" cy="300.7" r="1.15"/>
<circle cx="301" cy="359.8" r="1.15"/>
<circle cx="286.4" cy="273.9" r="1.15"/>
<circle cx="280.3" cy="265.8" r="1.15"/>
<circle cx="229.2" cy="335.3" r="1.15"/>
<circle cx="249.1" cy="309.4" r="1.15"/>
<circle cx="240.3" cy="356.6" r="1.15"/>
<circle cx="244.6" cy="299.8" r="1.15"/>
<circle cx="231.5" cy="315.6" r="1.15"/>
<circle cx="293.8" cy="387.4" r="1.15"/>
<circle cx="211.3" cy="305.2" r="1.15"/>
<circle cx="276.6" cy="320.5" r="1.15"/>
<circle cx="262.4" cy="320.9" r="1.15"/>
<circle cx="232.3" cy="257.2" r="1.15"/>
<circle cx="214.5" cy="282.8" r="1.15"/>
<circle cx="225.5" cy="264.7" r="1.15"/>
<circle cx="299" cy="319.9" r="1.15"/>
<circle cx="246.5" cy="242.6" r="1.15"/>
<circle cx="260" cy="340.3" r="1.15"/>
<circle cx="254.7" cy="270.8" r="1.15"/>
<circle cx="273.9" cy="373.7" r="1.15"/>
<circle cx="248.3" cy="294.6" r="1.15"/>
<circle cx="219.6" cy="351.8" r="1.15"/>
<circle cx="241.5" cy="371.8" r="1.15"/>
<circle cx="217.9" cy="273.8" r="1.15"/>
<circle cx="234.6" cy="295.9" r="1.15"/>
<circle cx="271.8" cy="281.6" r="1.15"/>
<circle cx="288.7" cy="302.9" r="1.15"/>
<circle cx="233.9" cy="292.3" r="1.15"/>
<circle cx="254.6" cy="306.2" r="1.15"/>
<circle cx="245.1" cy="312" r="1.15"/>
<circle cx="295.5" cy="299" r="1.15"/>
<circle cx="292.6" cy="198.2" r="1.15"/>
<circle cx="262.4" cy="350.9" r="1.15"/>
<circle cx="280.2" cy="373.5" r="1.15"/>
<circle cx="277.9" cy="346.6" r="1.15"/>
<circle cx="282.6" cy="334.9" r="1.15"/>
<circle cx="282.5" cy="279.1" r="1.15"/>
<circle cx="237.2" cy="252.8" r="1.15"/>
<circle cx="262.1" cy="250.6" r="1.15"/>
<circle cx="289.2" cy="313.2" r="1.15"/>
<circle cx="266.7" cy="269.7" r="1.15"/>
<circle cx="278.7" cy="217.1" r="1.15"/>
<circle cx="223.4" cy="272.9" r="1.15"/>
<circle cx="219.3" cy="242" r="1.15"/>
<circle cx="267.2" cy="346.7" r="1.15"/>
<circle cx="297.8" cy="260.9" r="1.15"/>
<circle cx="292.4" cy="264.7" r="1.15"/>
<circle cx="244.9" cy="358.3" r="1.15"/>
<circle cx="253.1" cy="300" r="1.15"/>
<circle cx="288.1" cy="273" r="1.15"/>
<circle cx="270.4" cy="342.9" r="1.15"/>
<circle cx="227.9" cy="260" r="1.15"/>
<circle cx="223.9" cy="256.8" r="1.15"/>
<circle cx="212.7" cy="287.9" r="1.15"/>
<circle cx="222.6" cy="306.9" r="1.15"/>
<circle cx="267.6" cy="310.8" r="1.15"/>
<circle cx="300.8" cy="284.6" r="1.15"/>
<circle cx="278.8" cy="250" r="1.15"/>
<circle cx="231.6" cy="364.8" r="1.15"/>
<circle cx="211.2" cy="293.4" r="1.15"/>
<circle cx="287.2" cy="290.7" r="1.15"/>
<circle cx="299.6" cy="342.6" r="1.15"/>
<circle cx="286.2" cy="362.1" r="1.15"/>
<circle cx="292.9" cy="312.8" r="1.15"/>
<circle cx="230" cy="380.6" r="1.15"/>
<circle cx="293.8" cy="292.7" r="1.15"/>
<circle cx="268" cy="316.2" r="1.15"/>
<circle cx="269.4" cy="354.3" r="1.15"/>
<circle cx="248.8" cy="302.9" r="1.15"/>
<circle cx="256.4" cy="342.9" r="1.15"/>
<circle cx="249.4" cy="337.1" r="1.15"/>
<circle cx="267.9" cy="249.4" r="1.15"/>
<circle cx="280.7" cy="339.7" r="1.15"/>
<circle cx="260.1" cy="422.4" r="1.15"/>
<circle cx="252.4" cy="290.2" r="1.15"/>
<circle cx="241.9" cy="352.5" r="1.15"/>
<circle cx="224.8" cy="345.8" r="1.15"/>
<circle cx="230.3" cy="232.9" r="1.15"/>
<circle cx="252.7" cy="307.8" r="1.15"/>
<circle cx="273.5" cy="266.6" r="1.15"/>
<circle cx="300.3" cy="368.9" r="1.15"/>
<circle cx="283.6" cy="352.9" r="1.15"/>
<circle cx="251.1" cy="343.6" r="1.15"/>
<circle cx="248.2" cy="271.5" r="1.15"/>
<circle cx="288.5" cy="336.2" r="1.15"/>
<circle cx="277.4" cy="394.7" r="1.15"/>
<circle cx="287.7" cy="270.5" r="1.15"/>
<circle cx="298.9" cy="329.7" r="1.15"/>
<circle cx="240.2" cy="301.4" r="1.15"/>
<circle cx="240.8" cy="270.2" r="1.15"/>
<circle cx="285.1" cy="205.1" r="1.15"/>
<circle cx="278.5" cy="307.2" r="1.15"/>
<circle cx="253.3" cy="232.1" r="1.15"/>
<circle cx="269.6" cy="369.2" r="1.15"/>
<circle cx="273.9" cy="297.8" r="1.15"/>
<circle cx="237.7" cy="291.5" r="1.15"/>
<circle cx="214.3" cy="408.3" r="1.15"/>
<circle cx="251.4" cy="351.2" r="1.15"/>
<circle cx="253.1" cy="339.3" r="1.15"/>
<circle cx="287.6" cy="282.6" r="1.15"/>
<circle cx="218.6" cy="328.3" r="1.15"/>
<circle cx="260" cy="325" r="1.15"/>
<circle cx="234.6" cy="337" r="1.15"/>
<circle cx="234.6" cy="284.3" r="1.15"/>
<circle cx="243.6" cy="308.3" r="1.15"/>
<circle cx="221.3" cy="309" r="1.15"/>
<circle cx="285.4" cy="316.3" r="1.15"/>
<circle cx="279" cy="273.6" r="1.15"/>
<circle cx="214.4" cy="337.9" r="1.15"/>
<circle cx="244.7" cy="306.1" r="1.15"/>
<circle cx="278.8" cy="304" r="1.15"/>
<circle cx="294.9" cy="287" r="1.15"/>
<circle cx="288.7" cy="257.7" r="1.15"/>
<circle cx="278.7" cy="288.2" r="1.15"/>
<circle cx="257.6" cy="365.7" r="1.15"/>
<circle cx="220.4" cy="257.5" r="1.15"/>
<circle cx="297.2" cy="247.2" r="1.15"/>
<circle cx="248" cy="244.3" r="1.15"/>
<circle cx="251.9" cy="262.7" r="1.15"/>
<circle cx="248.6" cy="374.5" r="1.15"/>
<circle cx="284" cy="307.9" r="1.15"/>
<circle cx="284.5" cy="265.3" r="1.15"/>
<circle cx="210.7" cy="264" r="1.15"/>
<circle cx="265.9" cy="305.9" r="1.15"/>
<circle cx="270.1" cy="295.4" r="1.15"/>
<circle cx="243.8" cy="351.7" r="1.15"/>
<circle cx="264.1" cy="282.7" r="1.15"/>
<circle cx="236" cy="396.8" r="1.15"/>
<circle cx="239.3" cy="311.1" r="1.15"/>
<circle cx="219.8" cy="256.5" r="1.15"/>
<circle cx="211.5" cy="356" r="1.15"/>
<circle cx="229.9" cy="242.1" r="1.15"/>
<circle cx="255.3" cy="210.1" r="1.15"/>
<circle cx="241.2" cy="276.4" r="1.15"/>
<circle cx="239.7" cy="324.3" r="1.15"/>
<circle cx="293.7" cy="322.6" r="1.15"/>
<circle cx="214" cy="355.9" r="1.15"/>
<circle cx="215.5" cy="266.5" r="1.15"/>
<circle cx="230.9" cy="351.3" r="1.15"/>
<circle cx="258.8" cy="291.4" r="1.15"/>
<circle cx="229.8" cy="350.5" r="1.15"/>
<circle cx="281.6" cy="275.2" r="1.15"/>
<circle cx="209.5" cy="363.6" r="1.15"/>
<circle cx="244.1" cy="305.7" r="1.15"/>
<circle cx="231" cy="333.3" r="1.15"/>
<circle cx="248.3" cy="253.2" r="1.15"/>
<circle cx="244.6" cy="318.6" r="1.15"/>
<circle cx="256.2" cy="307.6" r="1.15"/>
<circle cx="244.6" cy="248.1" r="1.15"/>
<circle cx="239.5" cy="351.5" r="1.15"/>
<circle cx="267.8" cy="357.5" r="1.15"/>
<circle cx="233.4" cy="303.5" r="1.15"/>
<circle cx="244" cy="347.9" r="1.15"/>
<circle cx="263.3" cy="223.7" r="1.15"/>
<circle cx="299.3" cy="294.5" r="1.15"/>
<circle cx="301" cy="289.4" r="1.15"/>
<circle cx="250.5" cy="316.4" r="1.15"/>
<circle cx="265.2" cy="242.7" r="1.15"/>
<circle cx="267.8" cy="307" r="1.15"/>
<circle cx="300.5" cy="395.1" r="1.15"/>
<circle cx="230.8" cy="351.5" r="1.15"/>
<circle cx="221.1" cy="303" r="1.15"/>
<circle cx="293.5" cy="244.8" r="1.15"/>
<circle cx="276" cy="286.2" r="1.15"/>
<circle cx="229.9" cy="285" r="1.15"/>
<circle cx="251.9" cy="286.7" r="1.15"/>
<circle cx="244.9" cy="343.3" r="1.15"/>
<circle cx="257.1" cy="332.6" r="1.15"/>
<circle cx="230.8" cy="301.2" r="1.15"/>
<circle cx="296.4" cy="363.8" r="1.15"/>
<circle cx="297.2" cy="300.4" r="1.15"/>
<circle cx="234.5" cy="271.3" r="1.15"/>
<circle cx="218.5" cy="411.1" r="1.15"/>
<circle cx="296.2" cy="312.6" r="1.15"/>
<circle cx="261.6" cy="314.8" r="1.15"/>
<circle cx="256.7" cy="297.8" r="1.15"/>
<circle cx="230" cy="221.5" r="1.15"/>
<circle cx="289.7" cy="366.1" r="1.15"/>
<circle cx="222.8" cy="212.9" r="1.15"/>
<circle cx="298.2" cy="270.9" r="1.15"/>
<circle cx="226.5" cy="187.9" r="1.15"/>
<circle cx="258.1" cy="319.6" r="1.15"/>
<circle cx="231.1" cy="285.5" r="1.15"/>
<circle cx="221.9" cy="307.9" r="1.15"/>
<circle cx="225.1" cy="279" r="1.15"/>
<circle cx="238.4" cy="343.5" r="1.15"/>
<circle cx="277.6" cy="338.6" r="1.15"/>
<circle cx="262.8" cy="310.3" r="1.15"/>
<circle cx="246.9" cy="272.9" r="1.15"/>
<circle cx="224.5" cy="362.9" r="1.15"/>
<circle cx="251.8" cy="318.1" r="1.15"/>
<circle cx="217.3" cy="331.6" r="1.15"/>
<circle cx="270.9" cy="289.2" r="1.15"/>
<circle cx="299.7" cy="264.5" r="1.15"/>
<circle cx="239" cy="371.7" r="1.15"/>
<circle cx="237.6" cy="349.5" r="1.15"/>
<circle cx="286.5" cy="319.2" r="1.15"/>
<circle cx="230.4" cy="349.9" r="1.15"/>
<circle cx="227.4" cy="237.6" r="1.15"/>
<circle cx="293.7" cy="225.1" r="1.15"/>
<circle cx="281.4" cy="268.5" r="1.15"/>
<circle cx="293.6" cy="279.5" r="1.15"/>
<circle cx="239.3" cy="354.5" r="1.15"/>
<circle cx="299" cy="348" r="1.15"/>
<circle cx="301.1" cy="284" r="1.15"/>
<circle cx="266.5" cy="234.9" r="1.15"/>
<circle cx="290" cy="320" r="1.15"/>
<circle cx="247.3" cy="290.5" r="1.15"/>
<circle cx="226" cy="229.3" r="1.15"/>
<circle cx="211.7" cy="223.5" r="1.15"/>
<circle cx="243" cy="350.2" r="1.15"/>
<circle cx="228.7" cy="291.1" r="1.15"/>
<circle cx="255.3" cy="269.2" r="1.15"/>
<circle cx="258" cy="380.3" r="1.15"/>
<circle cx="226.6" cy="326.2" r="1.15"/>
<circle cx="257.9" cy="295.4" r="1.15"/>
<circle cx="238.9" cy="328.7" r="1.15"/>
<circle cx="276.6" cy="280.2" r="1.15"/>
<circle cx="227.9" cy="322.3" r="1.15"/>
<circle cx="302.2" cy="384.1" r="1.15"/>
<circle cx="283" cy="362.9" r="1.15"/>
<circle cx="281.6" cy="404" r="1.15"/>
<circle cx="288.3" cy="367" r="1.15"/>
<circle cx="229.5" cy="278.9" r="1.15"/>
<circle cx="286.7" cy="292.7" r="1.15"/>
<circle cx="296.3" cy="282.8" r="1.15"/>
<circle cx="288.6" cy="246.1" r="1.15"/>
<circle cx="268.6" cy="359.1" r="1.15"/>
<circle cx="229.2" cy="329" r="1.15"/>
<circle cx="279.6" cy="300.3" r="1.15"/>
<circle cx="247.7" cy="228.8" r="1.15"/>
<circle cx="236.3" cy="293.1" r="1.15"/>
<circle cx="227.6" cy="312.5" r="1.15"/>
<circle cx="272.7" cy="292.4" r="1.15"/>
<circle cx="253.2" cy="348.2" r="1.15"/>
<circle cx="212.5" cy="397.4" r="1.15"/>
<circle cx="284.1" cy="284.4" r="1.15"/>
<circle cx="210.2" cy="326.2" r="1.15"/>
<circle cx="265.3" cy="285.8" r="1.15"/>
<circle cx="226.3" cy="361.5" r="1.15"/>
<circle cx="266" cy="348.3" r="1.15"/>
<circle cx="296.6" cy="271.4" r="1.15"/>
<circle cx="241.7" cy="297.1" r="1.15"/>
<circle cx="251.9" cy="262.8" r="1.15"/>
<circle cx="222.5" cy="337.8" r="1.15"/>
<circle cx="263.9" cy="303.2" r="1.15"/>
<circle cx="246.3" cy="274.6" r="1.15"/>
<circle cx="288.6" cy="264.9" r="1.15"/>
<circle cx="273.5" cy="308.6" r="1.15"/>
<circle cx="255.3" cy="293.1" r="1.15"/>
<circle cx="293.4" cy="310.5" r="1.15"/>
<circle cx="231.8" cy="313.3" r="1.15"/>
<circle cx="255.8" cy="309.2" r="1.15"/>
<circle cx="266.9" cy="285.6" r="1.15"/>
<circle cx="247.9" cy="368.5" r="1.15"/>
<circle cx="281.8" cy="308.7" r="1.15"/>
<circle cx="300.5" cy="354.2" r="1.15"/>
<circle cx="256.9" cy="306.6" r="1.15"/>
<circle cx="270.8" cy="319.3" r="1.15"/>
<circle cx="247.1" cy="299.7" r="1.15"/>
<circle cx="295.2" cy="319.8" r="1.15"/>
<circle cx="224.4" cy="315.4" r="1.15"/>
<circle cx="254.9" cy="372.9" r="1.15"/>
<circle cx="269.2" cy="244.6" r="1.15"/>
<circle cx="211.7" cy="372" r="1.15"/>
<circle cx="238.5" cy="396.5" r="1.15"/>
<circle cx="215.2" cy="293.4" r="1.15"/>
<circle cx="241.7" cy="282.5" r="1.15"/>
<circle cx="262.8" cy="313.8" r="1.15"/>
<circle cx="258.9" cy="325" r="1.15"/>
<circle cx="280.1" cy="362.5" r="1.15"/>
<circle cx="238.8" cy="224.3" r="1.15"/>
<circle cx="219.1" cy="388.9" r="1.15"/>
<circle cx="283.9" cy="202.4" r="1.15"/>
<circle cx="251.3" cy="383.2" r="1.15"/>
<circle cx="287.4" cy="357.2" r="1.15"/>
<circle cx="224.8" cy="321.3" r="1.15"/>
<circle cx="214.9" cy="330.7" r="1.15"/>
<circle cx="277.2" cy="287.5" r="1.15"/>
<circle cx="255.9" cy="349.5" r="1.15"/>
<circle cx="251.2" cy="326.1" r="1.15"/>
<circle cx="270.1" cy="383.3" r="1.15"/>
<circle cx="271.2" cy="255.3" r="1.15"/>
<circle cx="283.1" cy="323.8" r="1.15"/>
<circle cx="262.1" cy="344.7" r="1.15"/>
<circle cx="246.6" cy="308.6" r="1.15"/>
<circle cx="228.3" cy="267.5" r="1.15"/>
<circle cx="251.2" cy="292.3" r="1.15"/>
<circle cx="272.8" cy="341.8" r="1.15"/>
<circle cx="218.5" cy="301.6" r="1.15"/>
<circle cx="282" cy="292.7" r="1.15"/>
<circle cx="269" cy="288.7" r="1.15"/>
<circle cx="257.3" cy="322.1" r="1.15"/>
<circle cx="232.5" cy="276.3" r="1.15"/>
<circle cx="257.7" cy="358.5" r="1.15"/>
<circle cx="234" cy="301.5" r="1.15"/>
<circle cx="250.4" cy="344.7" r="1.15"/>
<circle cx="278.1" cy="304.1" r="1.15"/>
<circle cx="241.8" cy="333.7" r="1.15"/>
<circle cx="285.2" cy="275.3" r="1.15"/>
<circle cx="295.7" cy="325" r="1.15"/>
<circle cx="297.7" cy="251.5" r="1.15"/>
<circle cx="236.8" cy="349.3" r="1.15"/>
<circle cx="225.9" cy="258.8" r="1.15"/>
<circle cx="269.6" cy="345.3" r="1.15"/>
<circle cx="271.6" cy="420.4" r="1.15"/>
<circle cx="297.5" cy="352" r="1.15"/>
<circle cx="284.6" cy="265.9" r="1.15"/>
<circle cx="220.3" cy="296.7" r="1.15"/>
<circle cx="219.6" cy="283.6" r="1.15"/>
<circle cx="214.2" cy="324" r="1.15"/>
<circle cx="238.6" cy="290.3" r="1.15"/>
<circle cx="221.6" cy="351.9" r="1.15"/>
<circle cx="254.1" cy="226.1" r="1.15"/>
<circle cx="224.6" cy="232.3" r="1.15"/>
<circle cx="301.3" cy="284.6" r="1.15"/>
<circle cx="261.4" cy="332" r="1.15"/>
<circle cx="272.3" cy="335.1" r="1.15"/>
<circle cx="287" cy="276.3" r="1.15"/>
<circle cx="296.6" cy="288.2" r="1.15"/>
<circle cx="243.4" cy="346.1" r="1.15"/>
<circle cx="233.3" cy="270.2" r="1.15"/>
<circle cx="272.6" cy="264.1" r="1.15"/>
<circle cx="230.6" cy="278" r="1.15"/>
<circle cx="270.1" cy="285.2" r="1.15"/>
<circle cx="219.5" cy="292.3" r="1.15"/>
<circle cx="242.1" cy="302.9" r="1.15"/>
<circle cx="267.5" cy="316.7" r="1.15"/>
<circle cx="274.7" cy="330.8" r="1.15"/>
<circle cx="285.6" cy="245.9" r="1.15"/>
<circle cx="216.2" cy="373.7" r="1.15"/>
<circle cx="219.8" cy="297.1" r="1.15"/>
<circle cx="298.8" cy="262.8" r="1.15"/>
<circle cx="282.5" cy="196.5" r="1.15"/>
<circle cx="218.2" cy="318" r="1.15"/>
<circle cx="297.9" cy="238.8" r="1.15"/>
<circle cx="250.4" cy="243" r="1.15"/>
<circle cx="233.4" cy="257.8" r="1.15"/>
<circle cx="220.6" cy="216.2" r="1.15"/>
<circle cx="218.8" cy="377.1" r="1.15"/>
<circle cx="298.2" cy="255.2" r="1.15"/>
<circle cx="254.5" cy="304.6" r="1.15"/>
<circle cx="286.8" cy="279.5" r="1.15"/>
<circle cx="260.4" cy="305.9" r="1.15"/>
<circle cx="288.5" cy="338.1" r="1.15"/>
<circle cx="257.9" cy="385.4" r="1.15"/>
<circle cx="292.3" cy="280.2" r="1.15"/>
<circle cx="216.5" cy="310.6" r="1.15"/>
<circle cx="289.8" cy="360.9" r="1.15"/>
<circle cx="226.6" cy="305.7" r="1.15"/>
<circle cx="292.4" cy="351.1" r="1.15"/>
<circle cx="224.2" cy="340.6" r="1.15"/>
<circle cx="251.3" cy="292.2" r="1.15"/>
<circle cx="247" cy="264.9" r="1.15"/>
<circle cx="243.5" cy="390.2" r="1.15"/>
<circle cx="235.1" cy="305.2" r="1.15"/>
<circle cx="229.9" cy="273.9" r="1.15"/>
<circle cx="237.6" cy="359.9" r="1.15"/>
<circle cx="260.3" cy="316.4" r="1.15"/>
<circle cx="279.5" cy="287.4" r="1.15"/>
<circle cx="276.7" cy="259.3" r="1.15"/>
<circle cx="270" cy="355.3" r="1.15"/>
<circle cx="244.7" cy="377.7" r="1.15"/>
<circle cx="236.1" cy="331.6" r="1.15"/>
<circle cx="229.1" cy="326.5" r="1.15"/>
<circle cx="249.7" cy="304.9" r="1.15"/>
<circle cx="298.4" cy="301.3" r="1.15"/>
<circle cx="231.1" cy="392.9" r="1.15"/>
<circle cx="224.9" cy="270.5" r="1.15"/>
<circle cx="281.4" cy="380.5" r="1.15"/>
<circle cx="209.2" cy="287.9" r="1.15"/>
<circle cx="227.1" cy="280.7" r="1.15"/>
<circle cx="236.7" cy="284.6" r="1.15"/>
<circle cx="252.2" cy="290" r="1.15"/>
<circle cx="268.2" cy="287.5" r="1.15"/>
<circle cx="268.9" cy="340.3" r="1.15"/>
<circle cx="220.7" cy="342.4" r="1.15"/>
<circle cx="252.5" cy="206.1" r="1.15"/>
<circle cx="219" cy="231" r="1.15"/>
<circle cx="211.2" cy="241.6" r="1.15"/>
<circle cx="252.4" cy="265.7" r="1.15"/>
<circle cx="287.2" cy="377.2" r="1.15"/>
<circle cx="280.7" cy="217.2" r="1.15"/>
<circle cx="272.8" cy="313.9" r="1.15"/>
<circle cx="216.1" cy="305.1" r="1.15"/>
<circle cx="258.8" cy="268.5" r="1.15"/>
<circle cx="237.5" cy="335" r="1.15"/>
<circle cx="263" cy="243.4" r="1.15"/>
<circle cx="280.2" cy="415.8" r="1.15"/>
<circle cx="226.8" cy="247.3" r="1.15"/>
<circle cx="273.7" cy="280.2" r="1.15"/>
<circle cx="210.1" cy="343.7" r="1.15"/>
<circle cx="221.2" cy="265" r="1.15"/>
<circle cx="250.8" cy="250.4" r="1.15"/>
<circle cx="276.8" cy="267.3" r="1.15"/>
<circle cx="284" cy="260.7" r="1.15"/>
<circle cx="227.3" cy="315.9" r="1.15"/>
<circle cx="275.1" cy="255.6" r="1.15"/>
<circle cx="289.6" cy="255.5" r="1.15"/>
<circle cx="264" cy="244.9" r="1.15"/>
<circle cx="264.5" cy="273.8" r="1.15"/>
<circle cx="275.5" cy="382.1" r="1.15"/>
<circle cx="267" cy="280.2" r="1.15"/>
<circle cx="268.6" cy="365.8" r="1.15"/>
<circle cx="268.6" cy="341.1" r="1.15"/>
<circle cx="271.1" cy="311.6" r="1.15"/>
<circle cx="269.1" cy="298.1" r="1.15"/>
<circle cx="220.6" cy="319.9" r="1.15"/>
<circle cx="244.4" cy="291.4" r="1.15"/>
<circle cx="250.3" cy="283.1" r="1.15"/>
<circle cx="299.9" cy="298.5" r="1.15"/>
<circle cx="259.7" cy="303.7" r="1.15"/>
<circle cx="211.9" cy="291.2" r="1.15"/>
<circle cx="215.6" cy="275.6" r="1.15"/>
<circle cx="301.4" cy="350.6" r="1.15"/>
<circle cx="287.8" cy="377.4" r="1.15"/>
<circle cx="264.8" cy="259.3" r="1.15"/>
<circle cx="225.7" cy="302.6" r="1.15"/>
<circle cx="218.6" cy="416.4" r="1.15"/>
<circle cx="287.8" cy="257.2" r="1.15"/>
<circle cx="266.5" cy="256.1" r="1.15"/>
<circle cx="298.3" cy="394.4" r="1.15"/>
<circle cx="233.8" cy="364.4" r="1.15"/>
<circle cx="295.9" cy="333.6" r="1.15"/>
<circle cx="276.9" cy="366.3" r="1.15"/>
<circle cx="249.1" cy="339" r="1.15"/>
<circle cx="283.1" cy="312.7" r="1.15"/>
<circle cx="224.3" cy="263.8" r="1.15"/>
<circle cx="299.7" cy="425" r="1.15"/>
<circle cx="234.9" cy="305.4" r="1.15"/>
<circle cx="255.3" cy="258.7" r="1.15"/>
<circle cx="269" cy="422.9" r="1.15"/>
<circle cx="227.4" cy="294.4" r="1.15"/>
<circle cx="290.3" cy="312.3" r="1.15"/>
<circle cx="247.2" cy="335.6" r="1.15"/>
<circle cx="260" cy="273.3" r="1.15"/>
<circle cx="228.3" cy="246.9" r="1.15"/>
<circle cx="269.3" cy="257.1" r="1.15"/>
<circle cx="236" cy="212.8" r="1.15"/>
<circle cx="265.5" cy="341.7" r="1.15"/>
<circle cx="299.9" cy="404.2" r="1.15"/>
<circle cx="285.3" cy="332.8" r="1.15"/>
<circle cx="269.5" cy="300.2" r="1.15"/>
<circle cx="254.3" cy="253.3" r="1.15"/>
<circle cx="237.9" cy="282.6" r="1.15"/>
<circle cx="219.7" cy="335.7" r="1.15"/>
<circle cx="284.1" cy="243.7" r="1.15"/>
<circle cx="292.9" cy="286.3" r="1.15"/>
<circle cx="279.5" cy="296.4" r="1.15"/>
<circle cx="274.2" cy="316.6" r="1.15"/>
<circle cx="268" cy="288.1" r="1.15"/>
<circle cx="295.4" cy="280.2" r="1.15"/>
<circle cx="246.8" cy="305.7" r="1.15"/>
<circle cx="284.5" cy="418.7" r="1.15"/>
<circle cx="270.2" cy="348" r="1.15"/>
<circle cx="282.5" cy="286.5" r="1.15"/>
<circle cx="295.1" cy="233.4" r="1.15"/>
<circle cx="212.5" cy="251.5" r="1.15"/>
<circle cx="246.6" cy="254.7" r="1.15"/>
<circle cx="282.4" cy="225" r="1.15"/>
<circle cx="229.2" cy="274.3" r="1.15"/>
<circle cx="254.8" cy="243.8" r="1.15"/>
<circle cx="221.4" cy="257.9" r="1.15"/>
<circle cx="302.2" cy="294" r="1.15"/>
<circle cx="254" cy="346.7" r="1.15"/>
<circle cx="281" cy="381.4" r="1.15"/>
<circle cx="227.1" cy="284.2" r="1.15"/>
<circle cx="214.6" cy="362.5" r="1.15"/>
<circle cx="300.7" cy="309.6" r="1.15"/>
<circle cx="236" cy="270.4" r="1.15"/>
<circle cx="260.2" cy="337.8" r="1.15"/>
<circle cx="223.1" cy="261.7" r="1.15"/>
<circle cx="275.6" cy="301" r="1.15"/>
<circle cx="229.4" cy="345.8" r="1.15"/>
<circle cx="284.6" cy="276.7" r="1.15"/>
<circle cx="219.6" cy="270.1" r="1.15"/>
<circle cx="231.6" cy="326.6" r="1.15"/>
<circle cx="281.6" cy="280.1" r="1.15"/>
<circle cx="279.6" cy="356.5" r="1.15"/>
<circle cx="217.9" cy="297.9" r="1.15"/>
<circle cx="238.2" cy="289.3" r="1.15"/>
<circle cx="218.1" cy="351.5" r="1.15"/>
<circle cx="249.1" cy="298.4" r="1.15"/>
<circle cx="249.8" cy="235.2" r="1.15"/>
<circle cx="213.3" cy="333.1" r="1.15"/>
<circle cx="294.2" cy="356.2" r="1.15"/>
<circle cx="240.7" cy="370" r="1.15"/>
<circle cx="242.5" cy="339.3" r="1.15"/>
<circle cx="238.7" cy="354.8" r="1.15"/>
<circle cx="294.9" cy="380.6" r="1.15"/>
<circle cx="298.7" cy="297.9" r="1.15"/>
<circle cx="269.9" cy="287.1" r="1.15"/>
<circle cx="229.2" cy="348.2" r="1.15"/>
<circle cx="268.9" cy="299.4" r="1.15"/>
<circle cx="252.9" cy="258.3" r="1.15"/>
<circle cx="216.1" cy="285.2" r="1.15"/>
<circle cx="300.3" cy="293.2" r="1.15"/>
<circle cx="267.2" cy="269.8" r="1.15"/>
<circle cx="216.2" cy="332.5" r="1.15"/>
<circle cx="225.1" cy="259.7" r="1.15"/>
<circle cx="281.6" cy="213.9" r="1.15"/>
<circle cx="276.7" cy="332.1" r="1.15"/>
<circle cx="284.9" cy="389.6" r="1.15"/>
<circle cx="214.3" cy="335.4" r="1.15"/>
<circle cx="240.2" cy="348.3" r="1.15"/>
<circle cx="275.1" cy="290.7" r="1.15"/>
<circle cx="282.8" cy="244.1" r="1.15"/>
<circle cx="219.5" cy="274.1" r="1.15"/>
<circle cx="285.8" cy="219.8" r="1.15"/>
<circle cx="262" cy="279.1" r="1.15"/>
<circle cx="220.1" cy="296.5" r="1.15"/>
<circle cx="290.8" cy="391.3" r="1.15"/>
<circle cx="250.9" cy="281.9" r="1.15"/>
<circle cx="255.6" cy="330" r="1.15"/>
<circle cx="234.3" cy="325.2" r="1.15"/>
<circle cx="229.5" cy="312.8" r="1.15"/>
<circle cx="250.9" cy="224.4" r="1.15"/>
<circle cx="268.5" cy="259.4" r="1.15"/>
<circle cx="214.1" cy="298.9" r="1.15"/>
<circle cx="291.7" cy="366.9" r="1.15"/>
<circle cx="277" cy="320" r="1.15"/>
<circle cx="216.2" cy="312.4" r="1.15"/>
<circle cx="269.4" cy="259.1" r="1.15"/>
<circle cx="294.1" cy="274.4" r="1.15"/>
<circle cx="225.6" cy="275.4" r="1.15"/>
<circle cx="252.6" cy="344.2" r="1.15"/>
<circle cx="230.7" cy="255.6" r="1.15"/>
<circle cx="282.5" cy="173.8" r="1.15"/>
<circle cx="231.7" cy="365.8" r="1.15"/>
<circle cx="235.8" cy="348.9" r="1.15"/>
<circle cx="286.5" cy="297.5" r="1.15"/>
<circle cx="285.6" cy="254.9" r="1.15"/>
<circle cx="260.9" cy="288.7" r="1.15"/>
<circle cx="249.6" cy="296.1" r="1.15"/>
<circle cx="236.3" cy="231.6" r="1.15"/>
<circle cx="237.9" cy="351.5" r="1.15"/>
<circle cx="278.6" cy="397.5" r="1.15"/>
<circle cx="261.7" cy="373.1" r="1.15"/>
<circle cx="213.5" cy="264.2" r="1.15"/>
<circle cx="271" cy="257.4" r="1.15"/>
<circle cx="226.4" cy="320.4" r="1.15"/>
<circle cx="287.4" cy="370.1" r="1.15"/>
<circle cx="250" cy="343.6" r="1.15"/>
<circle cx="245.5" cy="285.3" r="1.15"/>
<circle cx="278.1" cy="258" r="1.15"/>
<circle cx="273.2" cy="332.9" r="1.15"/>
<circle cx="276.8" cy="342.8" r="1.15"/>
<circle cx="298.8" cy="347.4" r="1.15"/>
<circle cx="220.1" cy="333.1" r="1.15"/>
<circle cx="218.4" cy="273.3" r="1.15"/>
<circle cx="216.2" cy="296.1" r="1.15"/>
<circle cx="241.9" cy="288.2" r="1.15"/>
<circle cx="298.2" cy="300.2" r="1.15"/>
<circle cx="250.8" cy="296" r="1.15"/>
<circle cx="226.4" cy="366.4" r="1.15"/>
<circle cx="231.3" cy="355" r="1.15"/>
<circle cx="212.9" cy="289" r="1.15"/>
<circle cx="261.8" cy="286.4" r="1.15"/>
<circle cx="234.3" cy="254.4" r="1.15"/>
<circle cx="213.7" cy="308.6" r="1.15"/>
<circle cx="233" cy="345.8" r="1.15"/>
<circle cx="213.9" cy="314.4" r="1.15"/>
<circle cx="236.2" cy="316.2" r="1.15"/>
<circle cx="277.6" cy="279.7" r="1.15"/>
<circle cx="209.5" cy="312.4" r="1.15"/>
<circle cx="212.8" cy="280.1" r="1.15"/>
<circle cx="283.7" cy="278.4" r="1.15"/>
<circle cx="299.6" cy="278.4" r="1.15"/>
<circle cx="225.2" cy="275.8" r="1.15"/>
<circle cx="255.3" cy="349.4" r="1.15"/>
<circle cx="230.7" cy="249.2" r="1.15"/>
<circle cx="230.9" cy="224.5" r="1.15"/>
<circle cx="227.4" cy="262.3" r="1.15"/>
<circle cx="297.5" cy="225.4" r="1.15"/>
<circle cx="214.5" cy="279.7" r="1.15"/>
<circle cx="288" cy="324.4" r="1.15"/>
<circle cx="248.8" cy="273.5" r="1.15"/>
<circle cx="233.2" cy="300.1" r="1.15"/>
<circle cx="237.3" cy="304.1" r="1.15"/>
<circle cx="214.9" cy="223" r="1.15"/>
<circle cx="225.9" cy="339.1" r="1.15"/>
<circle cx="214.6" cy="244.9" r="1.15"/>
<circle cx="238.8" cy="323.6" r="1.15"/>
<circle cx="274.2" cy="378" r="1.15"/>
<circle cx="232.5" cy="262.6" r="1.15"/>
<circle cx="212.7" cy="291.5" r="1.15"/>
<circle cx="256.1" cy="286.1" r="1.15"/>
<circle cx="290.1" cy="284" r="1.15"/>
<circle cx="292.3" cy="244.7" r="1.15"/>
<circle cx="293.7" cy="278" r="1.15"/>
<circle cx="277.3" cy="306.3" r="1.15"/>
<circle cx="247.8" cy="298.3" r="1.15"/>
<circle cx="281.1" cy="272.7" r="1.15"/>
<circle cx="280.7" cy="319.1" r="1.15"/>
<circle cx="271.8" cy="275.2" r="1.15"/>
<circle cx="252.6" cy="387.5" r="1.15"/>
<circle cx="245.5" cy="298.7" r="1.15"/>
<circle cx="235.3" cy="294" r="1.15"/>
<circle cx="242.7" cy="260.4" r="1.15"/>
<circle cx="255.9" cy="343.4" r="1.15"/>
<circle cx="231" cy="302.8" r="1.15"/>
<circle cx="252.8" cy="272.3" r="1.15"/>
<circle cx="230.5" cy="284.7" r="1.15"/>
<circle cx="276.2" cy="264.9" r="1.15"/>
<circle cx="283.1" cy="317.9" r="1.15"/>
<circle cx="284.5" cy="193.9" r="1.15"/>
<circle cx="236.8" cy="303.5" r="1.15"/>
<circle cx="238.5" cy="304.2" r="1.15"/>
<circle cx="265" cy="286.5" r="1.15"/>
<circle cx="216.2" cy="353.6" r="1.15"/>
<circle cx="250.5" cy="340.2" r="1.15"/>
<circle cx="248.4" cy="310.4" r="1.15"/>
<circle cx="238.6" cy="331.7" r="1.15"/>
<circle cx="217.3" cy="249.6" r="1.15"/>
<circle cx="294.8" cy="317.8" r="1.15"/>
<circle cx="257" cy="192.8" r="1.15"/>
<circle cx="274.5" cy="282.9" r="1.15"/>
<circle cx="299.6" cy="329.1" r="1.15"/>
<circle cx="247.1" cy="288.3" r="1.15"/>
<circle cx="264.6" cy="264" r="1.15"/>
<circle cx="237.4" cy="295.9" r="1.15"/>
<circle cx="284.5" cy="276.1" r="1.15"/>
<circle cx="242.7" cy="306.9" r="1.15"/>
<circle cx="281.6" cy="332.6" r="1.15"/>
<circle cx="261.8" cy="301.6" r="1.15"/>
<circle cx="276.6" cy="217.6" r="1.15"/>
<circle cx="297.1" cy="315.9" r="1.15"/>
<circle cx="235.3" cy="300.8" r="1.15"/>
<circle cx="215.5" cy="367.8" r="1.15"/>
<circle cx="242.5" cy="328.2" r="1.15"/>
<circle cx="263.9" cy="283.5" r="1.15"/>
<circle cx="257.3" cy="314.4" r="1.15"/>
<circle cx="251.7" cy="246.1" r="1.15"/>
<circle cx="255" cy="254.7" r="1.15"/>
<circle cx="274.7" cy="319.7" r="1.15"/>
<circle cx="229.9" cy="304.2" r="1.15"/>
<circle cx="301.7" cy="269.3" r="1.15"/>
<circle cx="232.1" cy="283.1" r="1.15"/>
<circle cx="219" cy="313.4" r="1.15"/>
<circle cx="224.2" cy="383.4" r="1.15"/>
<circle cx="245.4" cy="237.1" r="1.15"/>
<circle cx="277.7" cy="298.6" r="1.15"/>
<circle cx="219.5" cy="292.1" r="1.15"/>
<circle cx="272.2" cy="332.1" r="1.15"/>
<circle cx="221.1" cy="232.1" r="1.15"/>
<circle cx="300.4" cy="304.8" r="1.15"/>
<circle cx="249.4" cy="291.8" r="1.15"/>
<circle cx="290.5" cy="391.6" r="1.15"/>
<circle cx="219.6" cy="321.1" r="1.15"/>
<circle cx="223.8" cy="303" r="1.15"/>
<circle cx="223.8" cy="282.7" r="1.15"/>
<circle cx="238.5" cy="269.2" r="1.15"/>
<circle cx="284.2" cy="309.8" r="1.15"/>
<circle cx="213.8" cy="254.3" r="1.15"/>
<circle cx="211.6" cy="306.7" r="1.15"/>
<circle cx="265.3" cy="308.8" r="1.15"/>
<circle cx="244.6" cy="301.6" r="1.15"/>
<circle cx="254.4" cy="377.7" r="1.15"/>
<circle cx="276.4" cy="402.5" r="1.15"/>
<circle cx="287.4" cy="218.6" r="1.15"/>
<circle cx="253" cy="381.2" r="1.15"/>
<circle cx="226.6" cy="330" r="1.15"/>
<circle cx="243.7" cy="276" r="1.15"/>
<circle cx="267.3" cy="333.1" r="1.15"/>
<circle cx="217.5" cy="252.1" r="1.15"/>
<circle cx="256.4" cy="392.1" r="1.15"/>
<circle cx="228.8" cy="297" r="1.15"/>
<circle cx="255.5" cy="275" r="1.15"/>
<circle cx="244.2" cy="203.8" r="1.15"/>
<circle cx="255.1" cy="236.2" r="1.15"/>
<circle cx="223.4" cy="336.2" r="1.15"/>
<circle cx="248.8" cy="264" r="1.15"/>
<circle cx="241.7" cy="290.6" r="1.15"/>
<circle cx="228.2" cy="358.6" r="1.15"/>
<circle cx="271.6" cy="326.9" r="1.15"/>
<circle cx="285.3" cy="255.8" r="1.15"/>
<circle cx="256.9" cy="317.1" r="1.15"/>
<circle cx="251.4" cy="347.4" r="1.15"/>
<circle cx="246" cy="332.5" r="1.15"/>
<circle cx="211.1" cy="361.5" r="1.15"/>
<circle cx="255.3" cy="375.9" r="1.15"/>
<circle cx="298.8" cy="287.8" r="1.15"/>
<circle cx="260.9" cy="283.7" r="1.15"/>
<circle cx="239" cy="257.4" r="1.15"/>
</g>
<g fill="#c8c8c8" stroke="#c8c8c8" fill-opacity="0.15" stroke-opacity="0.2" stroke-width=".8">
<circle cx="383.4" cy="361.5" r="1.15"/>
<circle cx="351.2" cy="266.1" r="1.15"/>
<circle cx="414.3" cy="275" r="1.15"/>
<circle cx="398.1" cy="258.3" r="1.15"/>
<circle cx="413.4" cy="222.5" r="1.15"/>
<circle cx="399.3" cy="303.8" r="1.15"/>
<circle cx="397.7" cy="343.9" r="1.15"/>
<circle cx="337.7" cy="288.9" r="1.15"/>
<circle cx="375.3" cy="327.4" r="1.15"/>
<circle cx="416.8" cy="282" r="1.15"/>
<circle cx="331.9" cy="266.4" r="1.15"/>
<circle cx="360.2" cy="293.9" r="1.15"/>
<circle cx="390.2" cy="273.6" r="1.15"/>
<circle cx="390.5" cy="297.7" r="1.15"/>
<circle cx="409.5" cy="286.6" r="1.15"/>
<circle cx="368.9" cy="348" r="1.15"/>
<circle cx="415.1" cy="225.1" r="1.15"/>
<circle cx="349.9" cy="327.5" r="1.15"/>
<circle cx="334.2" cy="316.3" r="1.15"/>
<circle cx="407.1" cy="329.3" r="1.15"/>
<circle cx="371.1" cy="309.5" r="1.15"/>
<circle cx="338.3" cy="317.4" r="1.15"/>
<circle cx="360.9" cy="384.8" r="1.15"/>
<circle cx="355.5" cy="231.2" r="1.15"/>
<circle cx="398.4" cy="282.5" r="1.15"/>
<circle cx="369.2" cy="311" r="1.15"/>
<circle cx="327.5" cy="299.9" r="1.15"/>
<circle cx="343.5" cy="254.3" r="1.15"/>
<circle cx="395.9" cy="262.5" r="1.15"/>
<circle cx="365.7" cy="285.9" r="1.15"/>
<circle cx="386.6" cy="259.9" r="1.15"/>
<circle cx="402.2" cy="410.6" r="1.15"/>
<circle cx="372.2" cy="262.1" r="1.15"/>
<circle cx="370.6" cy="309.3" r="1.15"/>
<circle cx="332.6" cy="332.8" r="1.15"/>
<circle cx="355" cy="344.6" r="1.15"/>
<circle cx="396.7" cy="296.6" r="1.15"/>
<circle cx="392.3" cy="375.3" r="1.15"/>
<circle cx="407.8" cy="286.1" r="1.15"/>
<circle cx="408.6" cy="334.1" r="1.15"/>
<circle cx="367.4" cy="269.1" r="1.15"/>
<circle cx="401.4" cy="377.3" r="1.15"/>
<circle cx="409.8" cy="283.9" r="1.15"/>
<circle cx="412.9" cy="320.4" r="1.15"/>
<circle cx="414.7" cy="352.2" r="1.15"/>
<circle cx="340.7" cy="247.6" r="1.15"/>
<circle cx="368.8" cy="253.7" r="1.15"/>
<circle cx="360" cy="342.3" r="1.15"/>
<circle cx="362.7" cy="314.7" r="1.15"/>
<circle cx="401.2" cy="238.5" r="1.15"/>
<circle cx="346.5" cy="297.7" r="1.15"/>
<circle cx="409.9" cy="329.3" r="1.15"/>
<circle cx="344.1" cy="343.6" r="1.15"/>
<circle cx="363.8" cy="336" r="1.15"/>
<circle cx="333.6" cy="277.5" r="1.15"/>
<circle cx="415" cy="262.7" r="1.15"/>
<circle cx="406" cy="319.3" r="1.15"/>
<circle cx="334.1" cy="348.3" r="1.15"/>
<circle cx="405.3" cy="338.3" r="1.15"/>
<circle cx="331.5" cy="382" r="1.15"/>
<circle cx="343.9" cy="284.2" r="1.15"/>
<circle cx="384.4" cy="304.9" r="1.15"/>
<circle cx="364.5" cy="257.5" r="1.15"/>
<circle cx="359.3" cy="206.5" r="1.15"/>
<circle cx="327.8" cy="246.2" r="1.15"/>
<circle cx="365.8" cy="322.5" r="1.15"/>
<circle cx="356" cy="319.5" r="1.15"/>
<circle cx="333" cy="362.1" r="1.15"/>
<circle cx="417" cy="396" r="1.15"/>
<circle cx="371.3" cy="223.7" r="1.15"/>
<circle cx="378" cy="294.5" r="1.15"/>
<circle cx="348.7" cy="372.8" r="1.15"/>
<circle cx="327.4" cy="276" r="1.15"/>
<circle cx="388.2" cy="398.1" r="1.15"/>
<circle cx="411.8" cy="316.4" r="1.15"/>
<circle cx="413.8" cy="302.1" r="1.15"/>
<circle cx="387.9" cy="335.5" r="1.15"/>
<circle cx="402.8" cy="330.2" r="1.15"/>
<circle cx="387.1" cy="273.2" r="1.15"/>
<circle cx="402.8" cy="330.6" r="1.15"/>
<circle cx="354.5" cy="257.7" r="1.15"/>
<circle cx="347.4" cy="386.2" r="1.15"/>
<circle cx="338.6" cy="325.7" r="1.15"/>
<circle cx="383.9" cy="232.9" r="1.15"/>
<circle cx="352" cy="352.5" r="1.15"/>
<circle cx="416.8" cy="351.9" r="1.15"/>
<circle cx="417.3" cy="307" r="1.15"/>
<circle cx="407" cy="328" r="1.15"/>
<circle cx="409.7" cy="297.5" r="1.15"/>
<circle cx="343.9" cy="264.2" r="1.15"/>
<circle cx="360.3" cy="283.5" r="1.15"/>
<circle cx="408.4" cy="299" r="1.15"/>
<circle cx="331.9" cy="325.4" r="1.15"/>
<circle cx="403.6" cy="298.7" r="1.15"/>
<circle cx="337.6" cy="267.7" r="1.15"/>
<circle cx="370.8" cy="346.7" r="1.15"/>
<circle cx="338.5" cy="326.7" r="1.15"/>
<circle cx="356.6" cy="357.3" r="1.15"/>
<circle cx="389.5" cy="308.1" r="1.15"/>
<circle cx="392.9" cy="300.8" r="1.15"/>
<circle cx="411.3" cy="331.7" r="1.15"/>
<circle cx="377.8" cy="356" r="1.15"/>
<circle cx="343.3" cy="340.9" r="1.15"/>
<circle cx="393.1" cy="278.6" r="1.15"/>
<circle cx="391.9" cy="332.1" r="1.15"/>
<circle cx="354.6" cy="270.6" r="1.15"/>
<circle cx="399.8" cy="333.8" r="1.15"/>
<circle cx="418.1" cy="340.3" r="1.15"/>
<circle cx="348.7" cy="272.7" r="1.15"/>
<circle cx="379.3" cy="341.8" r="1.15"/>
<circle cx="333.7" cy="256.9" r="1.15"/>
<circle cx="383.3" cy="403.3" r="1.15"/>
<circle cx="341.6" cy="306.4" r="1.15"/>
<circle cx="372.3" cy="330.1" r="1.15"/>
<circle cx="403.7" cy="324" r="1.15"/>
<circle cx="334.2" cy="295" r="1.15"/>
<circle cx="357" cy="393.7" r="1.15"/>
<circle cx="362" cy="213.1" r="1.15"/>
<circle cx="345.7" cy="325.7" r="1.15"/>
<circle cx="375.4" cy="198.1" r="1.15"/>
<circle cx="401" cy="269.7" r="1.15"/>
<circle cx="415.4" cy="296.6" r="1.15"/>
<circle cx="415.5" cy="374.4" r="1.15"/>
<circle cx="349.8" cy="229.9" r="1.15"/>
<circle cx="338.3" cy="276.7" r="1.15"/>
<circle cx="374.8" cy="252.9" r="1.15"/>
<circle cx="401.9" cy="374.3" r="1.15"/>
<circle cx="346" cy="383.6" r="1.15"/>
<circle cx="331.5" cy="323" r="1.15"/>
<circle cx="351.6" cy="282.4" r="1.15"/>
<circle cx="332.1" cy="270.6" r="1.15"/>
<circle cx="344.8" cy="251.7" r="1.15"/>
<circle cx="328.2" cy="344.6" r="1.15"/>
<circle cx="402.5" cy="365.4" r="1.15"/>
<circle cx="368.5" cy="272.9" r="1.15"/>
<circle cx="413" cy="350.2" r="1.15"/>
<circle cx="368.9" cy="308.2" r="1.15"/>
<circle cx="352.6" cy="214.7" r="1.15"/>
<circle cx="381.3" cy="324.4" r="1.15"/>
<circle cx="349.9" cy="288.8" r="1.15"/>
<circle cx="396.4" cy="293.8" r="1.15"/>
<circle cx="353.7" cy="305.1" r="1.15"/>
<circle cx="411" cy="288.3" r="1.15"/>
<circle cx="328.1" cy="282.9" r="1.15"/>
<circle cx="352.8" cy="302.4" r="1.15"/>
<circle cx="384.6" cy="237.7" r="1.15"/>
<circle cx="330.8" cy="263.2" r="1.15"/>
<circle cx="356.8" cy="349.5" r="1.15"/>
<circle cx="364.5" cy="240.7" r="1.15"/>
<circle cx="419.5" cy="298.5" r="1.15"/>
<circle cx="412.7" cy="311.9" r="1.15"/>
<circle cx="328.9" cy="339" r="1.15"/>
<circle cx="350.2" cy="270.4" r="1.15"/>
<circle cx="374.3" cy="306.4" r="1.15"/>
<circle cx="416.5" cy="339.4" r="1.15"/>
<circle cx="397.5" cy="341.7" r="1.15"/>
<circle cx="355.4" cy="254.2" r="1.15"/>
<circle cx="347.6" cy="318.9" r="1.15"/>
<circle cx="371.8" cy="322.1" r="1.15"/>
<circle cx="347.8" cy="193.2" r="1.15"/>
<circle cx="360.2" cy="289.2" r="1.15"/>
<circle cx="378.4" cy="275.2" r="1.15"/>
<circle cx="397.8" cy="298.2" r="1.15"/>
<circle cx="339" cy="305.1" r="1.15"/>
<circle cx="405" cy="346.7" r="1.15"/>
<circle cx="386.9" cy="272.7" r="1.15"/>
<circle cx="406.4" cy="291.3" r="1.15"/>
<circle cx="377.2" cy="339.9" r="1.15"/>
<circle cx="351.6" cy="308" r="1.15"/>
<circle cx="359.3" cy="226.3" r="1.15"/>
<circle cx="379.8" cy="291.1" r="1.15"/>
<circle cx="397" cy="301.2" r="1.15"/>
<circle cx="337.3" cy="331.4" r="1.15"/>
<circle cx="401.9" cy="328.9" r="1.15"/>
<circle cx="345.7" cy="279.8" r="1.15"/>
<circle cx="341.5" cy="265.8" r="1.15"/>
<circle cx="331.1" cy="294.7" r="1.15"/>
<circle cx="362.3" cy="263.4" r="1.15"/>
<circle cx="345.3" cy="339.7" r="1.15"/>
<circle cx="374.2" cy="321.3" r="1.15"/>
<circle cx="371.5" cy="288.2" r="1.15"/>
<circle cx="328.3" cy="252.8" r="1.15"/>
<circle cx="327.8" cy="324.1" r="1.15"/>
<circle cx="369.1" cy="261.9" r="1.15"/>
<circle cx="327.5" cy="350.6" r="1.15"/>
<circle cx="399.2" cy="255" r="1.15"/>
<circle cx="357.8" cy="247" r="1.15"/>
<circle cx="383.1" cy="317.3" r="1.15"/>
<circle cx="387.9" cy="288.1" r="1.15"/>
<circle cx="369.6" cy="270.7" r="1.15"/>
<circle cx="374.4" cy="332.6" r="1.15"/>
<circle cx="331.4" cy="320.6" r="1.15"/>
<circle cx="373" cy="322" r="1.15"/>
<circle cx="407.2" cy="279.1" r="1.15"/>
<circle cx="350" cy="262.8" r="1.15"/>
<circle cx="358.4" cy="342.6" r="1.15"/>
<circle cx="333.7" cy="334.6" r="1.15"/>
<circle cx="374" cy="274.6" r="1.15"/>
<circle cx="327.1" cy="330.4" r="1.15"/>
<circle cx="359.9" cy="311.1" r="1.15"/>
<circle cx="405.6" cy="266.9" r="1.15"/>
<circle cx="330.6" cy="300.2" r="1.15"/>
<circle cx="338.8" cy="256.6" r="1.15"/>
<circle cx="376.5" cy="298" r="1.15"/>
<circle cx="412.6" cy="307.2" r="1.15"/>
<circle cx="390.8" cy="334.2" r="1.15"/>
<circle cx="340.8" cy="399.1" r="1.15"/>
<circle cx="394" cy="319.1" r="1.15"/>
<circle cx="331.6" cy="381.8" r="1.15"/>
<circle cx="378.3" cy="267.6" r="1.15"/>
<circle cx="332.1" cy="269.1" r="1.15"/>
<circle cx="352.2" cy="282.4" r="1.15"/>
<circle cx="374.1" cy="253" r="1.15"/>
<circle cx="344" cy="210" r="1.15"/>
<circle cx="331.8" cy="378.1" r="1.15"/>
<circle cx="328" cy="308" r="1.15"/>
<circle cx="382.9" cy="266.6" r="1.15"/>
<circle cx="419.2" cy="312.4" r="1.15"/>
<circle cx="382.7" cy="307.1" r="1.15"/>
<circle cx="377.2" cy="254.5" r="1.15"/>
<circle cx="417.9" cy="279.4" r="1.15"/>
<circle cx="397.5" cy="362.2" r="1.15"/>
<circle cx="355.9" cy="238.6" r="1.15"/>
<circle cx="377.1" cy="337.6" r="1.15"/>
<circle cx="338.8" cy="292.3" r="1.15"/>
<circle cx="365.3" cy="277.1" r="1.15"/>
<circle cx="398.7" cy="375.2" r="1.15"/>
<circle cx="356.4" cy="227.7" r="1.15"/>
<circle cx="376" cy="272.8" r="1.15"/>
<circle cx="372.4" cy="285.1" r="1.15"/>
<circle cx="350.5" cy="267.6" r="1.15"/>
<circle cx="369.8" cy="312" r="1.15"/>
<circle cx="359.2" cy="271.3" r="1.15"/>
<circle cx="329.3" cy="273.7" r="1.15"/>
<circle cx="337.3" cy="397.5" r="1.15"/>
<circle cx="351.1" cy="354.2" r="1.15"/>
<circle cx="332.4" cy="260.9" r="1.15"/>
<circle cx="352.6" cy="347.5" r="1.15"/>
<circle cx="343" cy="278.2" r="1.15"/>
<circle cx="363.3" cy="309.6" r="1.15"/>
<circle cx="415.7" cy="270.4" r="1.15"/>
<circle cx="357.7" cy="379.3" r="1.15"/>
<circle cx="338.3" cy="296.7" r="1.15"/>
<circle cx="344.8" cy="301.6" r="1.15"/>
<circle cx="339.2" cy="289.8" r="1.15"/>
<circle cx="360.7" cy="291.8" r="1.15"/>
<circle cx="409.6" cy="298.7" r="1.15"/>
<circle cx="375.3" cy="285.9" r="1.15"/>
<circle cx="327" cy="281.1" r="1.15"/>
<circle cx="359.3" cy="326.7" r="1.15"/>
<circle cx="345" cy="239.6" r="1.15"/>
<circle cx="371.8" cy="301.4" r="1.15"/>
<circle cx="332.7" cy="328.6" r="1.15"/>
<circle cx="399.4" cy="273.1" r="1.15"/>
<circle cx="355" cy="365.4" r="1.15"/>
<circle cx="364.6" cy="255.7" r="1.15"/>
<circle cx="338.5" cy="317.6" r="1.15"/>
<circle cx="384.2" cy="300" r="1.15"/>
<circle cx="373.9" cy="301.4" r="1.15"/>
<circle cx="352.9" cy="282.3" r="1.15"/>
<circle cx="418" cy="331.2" r="1.15"/>
<circle cx="392.6" cy="323.8" r="1.15"/>
<circle cx="340.6" cy="288.3" r="1.15"/>
<circle cx="368.3" cy="330.8" r="1.15"/>
<circle cx="380.1" cy="306.5" r="1.15"/>
<circle cx="347.2" cy="310.7" r="1.15"/>
<circle cx="415.9" cy="320.6" r="1.15"/>
<circle cx="416.4" cy="335.6" r="1.15"/>
<circle cx="331.5" cy="341.6" r="1.15"/>
<circle cx="342.9" cy="323.9" r="1.15"/>
<circle cx="337.5" cy="358.3" r="1.15"/>
<circle cx="388.5" cy="355" r="1.15"/>
<circle cx="419.4" cy="189" r="1.15"/>
<circle cx="337.3" cy="304.1" r="1.15"/>
<circle cx="392.7" cy="265.4" r="1.15"/>
<circle cx="399" cy="292.6" r="1.15"/>
<circle cx="336.7" cy="273.5" r="1.15"/>
<circle cx="332.3" cy="299.1" r="1.15"/>
<circle cx="355.9" cy="261.4" r="1.15"/>
<circle cx="349.3" cy="295.6" r="1.15"/>
<circle cx="327.7" cy="292" r="1.15"/>
<circle cx="397" cy="356.6" r="1.15"/>
<circle cx="410.8" cy="262.2" r="1.15"/>
<circle cx="411.3" cy="312.8" r="1.15"/>
<circle cx="349.4" cy="305.1" r="1.15"/>
<circle cx="390.5" cy="286.2" r="1.15"/>
<circle cx="398.7" cy="293.2" r="1.15"/>
<circle cx="397.5" cy="304.5" r="1.15"/>
<circle cx="351.4" cy="249.9" r="1.15"/>
<circle cx="372.8" cy="340.6" r="1.15"/>
<circle cx="410.1" cy="390" r="1.15"/>
<circle cx="400" cy="317.1" r="1.15"/>
<circle cx="388.2" cy="399.4" r="1.15"/>
<circle cx="330" cy="311.3" r="1.15"/>
<circle cx="394" cy="249.3" r="1.15"/>
<circle cx="341.9" cy="237.4" r="1.15"/>
<circle cx="382.9" cy="349.7" r="1.15"/>
<circle cx="407.1" cy="286.4" r="1.15"/>
<circle cx="343.4" cy="354.9" r="1.15"/>
<circle cx="367.1" cy="289" r="1.15"/>
<circle cx="374" cy="244.2" r="1.15"/>
<circle cx="391.4" cy="329.3" r="1.15"/>
<circle cx="415.7" cy="237.1" r="1.15"/>
<circle cx="341.8" cy="290.9" r="1.15"/>
<circle cx="382.6" cy="189.5" r="1.15"/>
<circle cx="413.1" cy="327.5" r="1.15"/>
<circle cx="350.2" cy="339.6" r="1.15"/>
<circle cx="352.4" cy="244.9" r="1.15"/>
<circle cx="366.5" cy="262.3" r="1.15"/>
<circle cx="376.1" cy="275.1" r="1.15"/>
<circle cx="358.6" cy="333.6" r="1.15"/>
<circle cx="394.5" cy="293.7" r="1.15"/>
<circle cx="331" cy="322.5" r="1.15"/>
<circle cx="330.7" cy="233.7" r="1.15"/>
<circle cx="365.7" cy="272.6" r="1.15"/>
<circle cx="364" cy="327.7" r="1.15"/>
<circle cx="388.2" cy="334.8" r="1.15"/>
<circle cx="385.4" cy="361.4" r="1.15"/>
<circle cx="401.5" cy="324.4" r="1.15"/>
<circle cx="382" cy="299.6" r="1.15"/>
<circle cx="367.8" cy="280.5" r="1.15"/>
<circle cx="367" cy="252.4" r="1.15"/>
<circle cx="328.5" cy="319" r="1.15"/>
<circle cx="345.3" cy="244.3" r="1.15"/>
<circle cx="354.4" cy="384.8" r="1.15"/>
<circle cx="368.9" cy="302" r="1.15"/>
<circle cx="338" cy="270.1" r="1.15"/>
<circle cx="393" cy="319.5" r="1.15"/>
<circle cx="395.6" cy="287.5" r="1.15"/>
<circle cx="360.5" cy="262.6" r="1.15"/>
<circle cx="391.3" cy="321.5" r="1.15"/>
<circle cx="399.3" cy="288.7" r="1.15"/>
<circle cx="400.9" cy="249.8" r="1.15"/>
<circle cx="335.1" cy="348.8" r="1.15"/>
<circle cx="337.5" cy="249.3" r="1.15"/>
<circle cx="417.8" cy="302.5" r="1.15"/>
<circle cx="398.5" cy="359.6" r="1.15"/>
<circle cx="349" cy="281" r="1.15"/>
<circle cx="361.9" cy="268.1" r="1.15"/>
<circle cx="365" cy="304.4" r="1.15"/>
<circle cx="341.1" cy="281.9" r="1.15"/>
<circle cx="406.5" cy="275.6" r="1.15"/>
<circle cx="387.7" cy="293.6" r="1.15"/>
<circle cx="372.3" cy="290.5" r="1.15"/>
<circle cx="382.4" cy="259.9" r="1.15"/>
<circle cx="385" cy="262.8" r="1.15"/>
<circle cx="404.2" cy="296.2" r="1.15"/>
<circle cx="377.4" cy="375.2" r="1.15"/>
<circle cx="409.1" cy="351" r="1.15"/>
<circle cx="348.2" cy="312.2" r="1.15"/>
<circle cx="358.2" cy="246.5" r="1.15"/>
<circle cx="386.1" cy="274.2" r="1.15"/>
<circle cx="328.4" cy="219.3" r="1.15"/>
<circle cx="396.4" cy="275.6" r="1.15"/>
<circle cx="359.6" cy="277.3" r="1.15"/>
<circle cx="351.7" cy="309.3" r="1.15"/>
<circle cx="337.4" cy="242.8" r="1.15"/>
<circle cx="337.3" cy="353.7" r="1.15"/>
<circle cx="380.3" cy="280.6" r="1.15"/>
<circle cx="373.8" cy="301.5" r="1.15"/>
<circle cx="396.1" cy="318.1" r="1.15"/>
<circle cx="345.2" cy="254.7" r="1.15"/>
<circle cx="400" cy="266.4" r="1.15"/>
<circle cx="357.7" cy="278.1" r="1.15"/>
<circle cx="373.8" cy="308.9" r="1.15"/>
<circle cx="375.9" cy="357.7" r="1.15"/>
<circle cx="336.8" cy="353.1" r="1.15"/>
<circle cx="385.6" cy="404.7" r="1.15"/>
<circle cx="366.7" cy="353.5" r="1.15"/>
<circle cx="343.9" cy="282.4" r="1.15"/>
<circle cx="345.3" cy="235.6" r="1.15"/>
<circle cx="385.1" cy="343.7" r="1.15"/>
<circle cx="354.9" cy="242.6" r="1.15"/>
<circle cx="408.8" cy="214.2" r="1.15"/>
<circle cx="380.3" cy="248.1" r="1.15"/>
<circle cx="400.6" cy="222.1" r="1.15"/>
<circle cx="356.6" cy="296.7" r="1.15"/>
<circle cx="370.3" cy="316.6" r="1.15"/>
<circle cx="335" cy="283.2" r="1.15"/>
<circle cx="396.4" cy="253.3" r="1.15"/>
<circle cx="352.4" cy="274.8" r="1.15"/>
<circle cx="369.4" cy="286.5" r="1.15"/>
<circle cx="413.5" cy="259.9" r="1.15"/>
<circle cx="339.8" cy="332.2" r="1.15"/>
<circle cx="338.7" cy="260.2" r="1.15"/>
<circle cx="337.6" cy="379.9" r="1.15"/>
<circle cx="357.2" cy="232.1" r="1.15"/>
<circle cx="360.7" cy="233.4" r="1.15"/>
<circle cx="351.1" cy="192.4" r="1.15"/>
<circle cx="350.8" cy="333" r="1.15"/>
<circle cx="411.5" cy="318.6" r="1.15"/>
<circle cx="371.1" cy="338.5" r="1.15"/>
<circle cx="387.4" cy="357.1" r="1.15"/>
<circle cx="345.3" cy="394.9" r="1.15"/>
<circle cx="330.3" cy="259.9" r="1.15"/>
<circle cx="371.2" cy="303.7" r="1.15"/>
<circle cx="334.4" cy="299.9" r="1.15"/>
<circle cx="400.3" cy="372" r="1.15"/>
<circle cx="334.5" cy="287.7" r="1.15"/>
<circle cx="402" cy="206.2" r="1.15"/>
<circle cx="399.4" cy="287.2" r="1.15"/>
<circle cx="352.5" cy="257.7" r="1.15"/>
<circle cx="380.9" cy="344.9" r="1.15"/>
<circle cx="372" cy="247.2" r="1.15"/>
<circle cx="394.3" cy="295.4" r="1.15"/>
<circle cx="363.4" cy="288.9" r="1.15"/>
<circle cx="405" cy="278.3" r="1.15"/>
<circle cx="355.2" cy="304.8" r="1.15"/>
<circle cx="409" cy="264.2" r="1.15"/>
<circle cx="379.5" cy="298.7" r="1.15"/>
<circle cx="333.2" cy="312.8" r="1.15"/>
<circle cx="354.4" cy="340.8" r="1.15"/>
<circle cx="387.1" cy="344.2" r="1.15"/>
<circle cx="356.5" cy="256.4" r="1.15"/>
<circle cx="352.4" cy="246.7" r="1.15"/>
<circle cx="367.9" cy="298.2" r="1.15"/>
<circle cx="416" cy="301.9" r="1.15"/>
<circle cx="364.9" cy="318.6" r="1.15"/>
<circle cx="341.2" cy="285.7" r="1.15"/>
<circle cx="367.3" cy="232.7" r="1.15"/>
<circle cx="395.1" cy="281.9" r="1.15"/>
<circle cx="345" cy="316.8" r="1.15"/>
<circle cx="362.7" cy="247.2" r="1.15"/>
<circle cx="331" cy="260.2" r="1.15"/>
<circle cx="375" cy="370.9" r="1.15"/>
<circle cx="326.6" cy="313.5" r="1.15"/>
<circle cx="356.8" cy="238.7" r="1.15"/>
<circle cx="372.2" cy="275.8" r="1.15"/>
<circle cx="394.7" cy="295.3" r="1.15"/>
<circle cx="407.2" cy="274.4" r="1.15"/>
<circle cx="395.6" cy="343.7" r="1.15"/>
<circle cx="381" cy="343.4" r="1.15"/>
<circle cx="328.2" cy="297.7" r="1.15"/>
<circle cx="381.9" cy="287.3" r="1.15"/>
<circle cx="414.4" cy="222" r="1.15"/>
<circle cx="346.1" cy="297.1" r="1.15"/>
<circle cx="409.6" cy="279.1" r="1.15"/>
<circle cx="404.7" cy="224.8" r="1.15"/>
<circle cx="404.1" cy="318.2" r="1.15"/>
<circle cx="365.9" cy="304.2" r="1.15"/>
<circle cx="342.9" cy="290.6" r="1.15"/>
<circle cx="415.1" cy="280.4" r="1.15"/>
<circle cx="355" cy="285" r="1.15"/>
<circle cx="351.4" cy="261.7" r="1.15"/>
<circle cx="334.3" cy="344.6" r="1.15"/>
<circle cx="354.5" cy="350.1" r="1.15"/>
<circle cx="395" cy="296.5" r="1.15"/>
<circle cx="395.1" cy="363.8" r="1.15"/>
<circle cx="365.6" cy="223.7" r="1.15"/>
<circle cx="417" cy="327.7" r="1.15"/>
<circle cx="401.9" cy="318.1" r="1.15"/>
<circle cx="392.5" cy="267.3" r="1.15"/>
<circle cx="339.6" cy="279.6" r="1.15"/>
<circle cx="327.9" cy="268.9" r="1.15"/>
<circle cx="328.5" cy="295.1" r="1.15"/>
<circle cx="326.7" cy="351.4" r="1.15"/>
<circle cx="407.2" cy="301.3" r="1.15"/>
<circle cx="372.1" cy="323.3" r="1.15"/>
<circle cx="418.7" cy="368" r="1.15"/>
<circle cx="366" cy="307.7" r="1.15"/>
<circle cx="338.1" cy="253.4" r="1.15"/>
<circle cx="359.8" cy="335.6" r="1.15"/>
<circle cx="405.9" cy="327.5" r="1.15"/>
<circle cx="373" cy="328.4" r="1.15"/>
<circle cx="381.9" cy="262.7" r="1.15"/>
<circle cx="388.3" cy="384.9" r="1.15"/>
<circle cx="330.7" cy="275.5" r="1.15"/>
<circle cx="343.4" cy="291.4" r="1.15"/>
<circle cx="346.6" cy="300.4" r="1.15"/>
<circle cx="341.6" cy="336.9" r="1.15"/>
<circle cx="333.1" cy="307.8" r="1.15"/>
<circle cx="336.8" cy="212.2" r="1.15"/>
<circle cx="390.6" cy="287" r="1.15"/>
<circle cx="332.9" cy="314" r="1.15"/>
<circle cx="385.5" cy="260.3" r="1.15"/>
<circle cx="345" cy="351.2" r="1.15"/>
<circle cx="395.7" cy="247.8" r="1.15"/>
<circle cx="344" cy="301.4" r="1.15"/>
<circle cx="373.7" cy="186.8" r="1.15"/>
<circle cx="412.9" cy="199.6" r="1.15"/>
<circle cx="329.5" cy="270.6" r="1.15"/>
<circle cx="339.5" cy="277.5" r="1.15"/>
<circle cx="414.9" cy="314" r="1.15"/>
<circle cx="401.1" cy="271.1" r="1.15"/>
<circle cx="347.1" cy="264.6" r="1.15"/>
<circle cx="345.5" cy="356.1" r="1.15"/>
<circle cx="400.7" cy="362.5" r="1.15"/>
<circle cx="335.9" cy="273.1" r="1.15"/>
<circle cx="380.8" cy="321.7" r="1.15"/>
<circle cx="417.7" cy="290.1" r="1.15"/>
<circle cx="367.5" cy="292" r="1.15"/>
<circle cx="356.9" cy="290.2" r="1.15"/>
<circle cx="334" cy="308" r="1.15"/>
<circle cx="344.8" cy="270.5" r="1.15"/>
<circle cx="345.7" cy="234.7" r="1.15"/>
<circle cx="417.4" cy="226.5" r="1.15"/>
<circle cx="397.3" cy="313.4" r="1.15"/>
<circle cx="388.9" cy="292.6" r="1.15"/>
<circle cx="329.2" cy="294.1" r="1.15"/>
<circle cx="371.6" cy="363.2" r="1.15"/>
<circle cx="352.7" cy="365.6" r="1.15"/>
<circle cx="345.3" cy="303.6" r="1.15"/>
<circle cx="389" cy="278.2" r="1.15"/>
<circle cx="329.5" cy="264.7" r="1.15"/>
<circle cx="374.4" cy="327.2" r="1.15"/>
<circle cx="370.6" cy="270.3" r="1.15"/>
<circle cx="366.8" cy="304" r="1.15"/>
<circle cx="328.8" cy="318.2" r="1.15"/>
<circle cx="335" cy="256" r="1.15"/>
<circle cx="343.1" cy="372.9" r="1.15"/>
<circle cx="405.1" cy="399.7" r="1.15"/>
<circle cx="376.3" cy="214.9" r="1.15"/>
<circle cx="379.9" cy="300.9" r="1.15"/>
<circle cx="410.7" cy="264.9" r="1.15"/>
<circle cx="395.9" cy="303.5" r="1.15"/>
<circle cx="374.8" cy="329.4" r="1.15"/>
<circle cx="381.3" cy="349.5" r="1.15"/>
<circle cx="342.4" cy="377.9" r="1.15"/>
<circle cx="378.6" cy="290.7" r="1.15"/>
<circle cx="393.7" cy="345" r="1.15"/>
<circle cx="378.4" cy="304.4" r="1.15"/>
<circle cx="384" cy="287.1" r="1.15"/>
<circle cx="333.8" cy="302.3" r="1.15"/>
<circle cx="335.1" cy="295.5" r="1.15"/>
<circle cx="412.3" cy="234.6" r="1.15"/>
<circle cx="363.5" cy="286.8" r="1.15"/>
<circle cx="378.1" cy="288.8" r="1.15"/>
<circle cx="418.8" cy="306.6" r="1.15"/>
<circle cx="366.8" cy="236.7" r="1.15"/>
<circle cx="390.7" cy="243.4" r="1.15"/>
<circle cx="376.9" cy="324.9" r="1.15"/>
<circle cx="356.8" cy="282.5" r="1.15"/>
<circle cx="329.4" cy="305.3" r="1.15"/>
<circle cx="328" cy="318.4" r="1.15"/>
<circle cx="378.5" cy="338.6" r="1.15"/>
<circle cx="378.5" cy="220.7" r="1.15"/>
<circle cx="404.6" cy="275.1" r="1.15"/>
<circle cx="351.5" cy="391.3" r="1.15"/>
<circle cx="343.4" cy="252.8" r="1.15"/>
<circle cx="379.9" cy="221.9" r="1.15"/>
<circle cx="340.4" cy="293.6" r="1.15"/>
<circle cx="377.3" cy="301.4" r="1.15"/>
<circle cx="330.4" cy="292" r="1.15"/>
<circle cx="378.5" cy="258.2" r="1.15"/>
<circle cx="329.2" cy="322.8" r="1.15"/>
<circle cx="366.8" cy="281.3" r="1.15"/>
<circle cx="355.3" cy="364.5" r="1.15"/>
<circle cx="339.7" cy="247.9" r="1.15"/>
<circle cx="398.5" cy="348.2" r="1.15"/>
<circle cx="353.1" cy="315.4" r="1.15"/>
<circle cx="413.8" cy="281.4" r="1.15"/>
<circle cx="400.9" cy="255.1" r="1.15"/>
<circle cx="415.8" cy="330.5" r="1.15"/>
<circle cx="384" cy="329" r="1.15"/>
<circle cx="412.7" cy="233.7" r="1.15"/>
<circle cx="346.8" cy="327.1" r="1.15"/>
<circle cx="361.1" cy="335.2" r="1.15"/>
<circle cx="360.5" cy="321.7" r="1.15"/>
<circle cx="332.8" cy="269.9" r="1.15"/>
<circle cx="328.4" cy="269" r="1.15"/>
<circle cx="406.9" cy="255.5" r="1.15"/>
<circle cx="415.6" cy="280.9" r="1.15"/>
<circle cx="333.1" cy="317.6" r="1.15"/>
<circle cx="327.8" cy="279.8" r="1.15"/>
<circle cx="327.5" cy="266.4" r="1.15"/>
<circle cx="332.4" cy="349.6" r="1.15"/>
<circle cx="394.8" cy="326.3" r="1.15"/>
<circle cx="363.6" cy="300.6" r="1.15"/>
<circle cx="358.6" cy="228.1" r="1.15"/>
<circle cx="365" cy="313" r="1.15"/>
<circle cx="411.9" cy="296.6" r="1.15"/>
<circle cx="378.5" cy="297.5" r="1.15"/>
<circle cx="399.7" cy="283.1" r="1.15"/>
<circle cx="396.9" cy="271.1" r="1.15"/>
<circle cx="337.4" cy="343.7" r="1.15"/>
<circle cx="395.7" cy="423.1" r="1.15"/>
<circle cx="359.9" cy="265.3" r="1.15"/>
<circle cx="410.5" cy="390.7" r="1.15"/>
<circle cx="349" cy="285.9" r="1.15"/>
<circle cx="354.4" cy="281.1" r="1.15"/>
<circle cx="397" cy="268.3" r="1.15"/>
<circle cx="365.5" cy="344.6" r="1.15"/>
<circle cx="392" cy="284.7" r="1.15"/>
<circle cx="397.8" cy="269.6" r="1.15"/>
<circle cx="416.9" cy="268.8" r="1.15"/>
<circle cx="412.2" cy="244.6" r="1.15"/>
<circle cx="388.2" cy="342.5" r="1.15"/>
<circle cx="348.3" cy="321.8" r="1.15"/>
<circle cx="377.7" cy="311.1" r="1.15"/>
<circle cx="344.3" cy="301.1" r="1.15"/>
<circle cx="340.9" cy="254.5" r="1.15"/>
<circle cx="368.8" cy="262.7" r="1.15"/>
<circle cx="334.3" cy="294.3" r="1.15"/>
<circle cx="417.5" cy="222.5" r="1.15"/>
<circle cx="382.6" cy="272.3" r="1.15"/>
<circle cx="398.6" cy="349.2" r="1.15"/>
<circle cx="359.8" cy="242.2" r="1.15"/>
<circle cx="384.4" cy="355.5" r="1.15"/>
<circle cx="361.9" cy="354.2" r="1.15"/>
<circle cx="367" cy="317.2" r="1.15"/>
<circle cx="375.5" cy="319.6" r="1.15"/>
<circle cx="336.1" cy="303.9" r="1.15"/>
<circle cx="389.6" cy="299" r="1.15"/>
<circle cx="377.8" cy="333.8" r="1.15"/>
<circle cx="362" cy="331.6" r="1.15"/>
<circle cx="393.2" cy="270.1" r="1.15"/>
<circle cx="330.5" cy="286.6" r="1.15"/>
<circle cx="339" cy="309.5" r="1.15"/>
<circle cx="387.6" cy="335.2" r="1.15"/>
<circle cx="352.8" cy="298.4" r="1.15"/>
<circle cx="340.5" cy="342.8" r="1.15"/>
<circle cx="327.8" cy="356.4" r="1.15"/>
<circle cx="390.9" cy="255.4" r="1.15"/>
<circle cx="361" cy="269.3" r="1.15"/>
<circle cx="328.3" cy="314.3" r="1.15"/>
<circle cx="395.7" cy="229.4" r="1.15"/>
<circle cx="337.5" cy="303.7" r="1.15"/>
<circle cx="382" cy="270.6" r="1.15"/>
<circle cx="347.7" cy="277.4" r="1.15"/>
<circle cx="348.9" cy="293.6" r="1.15"/>
<circle cx="388.7" cy="293" r="1.15"/>
<circle cx="386.6" cy="231.8" r="1.15"/>
<circle cx="405.6" cy="258.4" r="1.15"/>
<circle cx="376.1" cy="379.4" r="1.15"/>
<circle cx="354" cy="272.2" r="1.15"/>
<circle cx="409" cy="394.2" r="1.15"/>
<circle cx="338.1" cy="343.2" r="1.15"/>
<circle cx="336.8" cy="278.5" r="1.15"/>
<circle cx="342.9" cy="345.2" r="1.15"/>
<circle cx="374.3" cy="243.5" r="1.15"/>
<circle cx="356.6" cy="313.7" r="1.15"/>
<circle cx="363.9" cy="271.9" r="1.15"/>
<circle cx="381.3" cy="284.8" r="1.15"/>
<circle cx="354.5" cy="262.7" r="1.15"/>
<circle cx="337.4" cy="240.1" r="1.15"/>
<circle cx="391.6" cy="361.2" r="1.15"/>
<circle cx="418.2" cy="299.8" r="1.15"/>
<circle cx="374" cy="288.7" r="1.15"/>
<circle cx="393.9" cy="252" r="1.15"/>
<circle cx="338.2" cy="273.3" r="1.15"/>
<circle cx="340.3" cy="309.3" r="1.15"/>
<circle cx="417.9" cy="356.9" r="1.15"/>
<circle cx="348.1" cy="367.3" r="1.15"/>
<circle cx="367.7" cy="337.4" r="1.15"/>
<circle cx="371.9" cy="289.6" r="1.15"/>
<circle cx="405.1" cy="290.6" r="1.15"/>
<circle cx="416.4" cy="234.6" r="1.15"/>
<circle cx="371.7" cy="284.6" r="1.15"/>
<circle cx="402.3" cy="263.5" r="1.15"/>
<circle cx="382.6" cy="358.1" r="1.15"/>
<circle cx="407.5" cy="286.7" r="1.15"/>
<circle cx="408.6" cy="319.4" r="1.15"/>
<circle cx="347.8" cy="323.6" r="1.15"/>
<circle cx="388.3" cy="243.3" r="1.15"/>
<circle cx="351.6" cy="298.3" r="1.15"/>
<circle cx="409.5" cy="301.2" r="1.15"/>
<circle cx="349.8" cy="297.6" r="1.15"/>
<circle cx="355.5" cy="356.7" r="1.15"/>
<circle cx="394.6" cy="368.6" r="1.15"/>
<circle cx="403.9" cy="214.8" r="1.15"/>
<circle cx="411.4" cy="295.3" r="1.15"/>
<circle cx="400.7" cy="298.2" r="1.15"/>
<circle cx="347.9" cy="288.1" r="1.15"/>
<circle cx="327.4" cy="317.6" r="1.15"/>
<circle cx="331.5" cy="310.1" r="1.15"/>
<circle cx="388.6" cy="335.6" r="1.15"/>
<circle cx="393.3" cy="283.2" r="1.15"/>
<circle cx="414.5" cy="304.7" r="1.15"/>
<circle cx="368.8" cy="252.8" r="1.15"/>
<circle cx="391.5" cy="230" r="1.15"/>
<circle cx="333.1" cy="344.6" r="1.15"/>
<circle cx="399.5" cy="268.2" r="1.15"/>
<circle cx="419.2" cy="316" r="1.15"/>
<circle cx="337.8" cy="203.5" r="1.15"/>
<circle cx="357.3" cy="288.8" r="1.15"/>
<circle cx="383.7" cy="255.2" r="1.15"/>
<circle cx="357.8" cy="319.2" r="1.15"/>
<circle cx="384.4" cy="242.8" r="1.15"/>
<circle cx="335.3" cy="330" r="1.15"/>
<circle cx="365.7" cy="352.3" r="1.15"/>
<circle cx="390" cy="404.6" r="1.15"/>
<circle cx="335.7" cy="300.5" r="1.15"/>
<circle cx="333.5" cy="315.9" r="1.15"/>
<circle cx="409.1" cy="290.6" r="1.15"/>
<circle cx="355.6" cy="338.4" r="1.15"/>
<circle cx="359.6" cy="299.8" r="1.15"/>
<circle cx="345.5" cy="300.2" r="1.15"/>
<circle cx="361.1" cy="346.3" r="1.15"/>
<circle cx="333.9" cy="214.8" r="1.15"/>
<circle cx="348.2" cy="201.6" r="1.15"/>
<circle cx="339" cy="286.1" r="1.15"/>
<circle cx="335.3" cy="274.2" r="1.15"/>
<circle cx="361" cy="269.2" r="1.15"/>
<circle cx="380.6" cy="266.3" r="1.15"/>
<circle cx="408.6" cy="332.6" r="1.15"/>
<circle cx="340.7" cy="285.1" r="1.15"/>
<circle cx="334.9" cy="219" r="1.15"/>
<circle cx="329.3" cy="304.9" r="1.15"/>
<circle cx="412.3" cy="308.5" r="1.15"/>
<circle cx="338.5" cy="337.2" r="1.15"/>
<circle cx="369.3" cy="315.6" r="1.15"/>
<circle cx="339.8" cy="392" r="1.15"/>
<circle cx="371.2" cy="298.8" r="1.15"/>
<circle cx="343.1" cy="249.9" r="1.15"/>
<circle cx="383.5" cy="282.5" r="1.15"/>
<circle cx="373.3" cy="289.4" r="1.15"/>
<circle cx="352.8" cy="294.1" r="1.15"/>
<circle cx="356.9" cy="293.9" r="1.15"/>
<circle cx="411.5" cy="342.5" r="1.15"/>
<circle cx="414.2" cy="379" r="1.15"/>
<circle cx="363.2" cy="215.4" r="1.15"/>
<circle cx="345.3" cy="274.1" r="1.15"/>
<circle cx="375.2" cy="392.1" r="1.15"/>
<circle cx="329.4" cy="225.8" r="1.15"/>
<circle cx="395.4" cy="314.5" r="1.15"/>
<circle cx="366.2" cy="253.8" r="1.15"/>
<circle cx="385.8" cy="301.4" r="1.15"/>
<circle cx="407.6" cy="324.6" r="1.15"/>
<circle cx="332" cy="259.5" r="1.15"/>
<circle cx="399.8" cy="311.5" r="1.15"/>
<circle cx="387.3" cy="404.4" r="1.15"/>
<circle cx="386.8" cy="271.9" r="1.15"/>
<circle cx="410.5" cy="300.2" r="1.15"/>
<circle cx="362.2" cy="299.5" r="1.15"/>
<circle cx="377" cy="310.5" r="1.15"/>
<circle cx="341.5" cy="277.9" r="1.15"/>
<circle cx="357.9" cy="230.3" r="1.15"/>
<circle cx="405.7" cy="252.3" r="1.15"/>
<circle cx="334.7" cy="282.8" r="1.15"/>
<circle cx="370.1" cy="292.1" r="1.15"/>
<circle cx="368.1" cy="328.8" r="1.15"/>
<circle cx="381.7" cy="218" r="1.15"/>
<circle cx="351.5" cy="381.5" r="1.15"/>
<circle cx="410" cy="340.1" r="1.15"/>
<circle cx="373.1" cy="303.5" r="1.15"/>
<circle cx="390.2" cy="290.3" r="1.15"/>
<circle cx="353.1" cy="284.3" r="1.15"/>
<circle cx="369.7" cy="314" r="1.15"/>
<circle cx="360" cy="212.8" r="1.15"/>
<circle cx="414.2" cy="241.5" r="1.15"/>
<circle cx="385" cy="378.6" r="1.15"/>
<circle cx="373.2" cy="338" r="1.15"/>
<circle cx="411.6" cy="356.1" r="1.15"/>
<circle cx="404.2" cy="233.6" r="1.15"/>
<circle cx="340.7" cy="315.3" r="1.15"/>
<circle cx="397.6" cy="364.6" r="1.15"/>
<circle cx="352.9" cy="309" r="1.15"/>
<circle cx="382.7" cy="353.4" r="1.15"/>
<circle cx="331.7" cy="294.1" r="1.15"/>
<circle cx="346.1" cy="265.5" r="1.15"/>
<circle cx="368" cy="346.4" r="1.15"/>
<circle cx="415.6" cy="285.8" r="1.15"/>
<circle cx="383.4" cy="282.1" r="1.15"/>
<circle cx="343.3" cy="327.4" r="1.15"/>
<circle cx="373.8" cy="274.3" r="1.15"/>
<circle cx="332.6" cy="324.7" r="1.15"/>
<circle cx="366.2" cy="266.8" r="1.15"/>
<circle cx="378" cy="301.7" r="1.15"/>
<circle cx="330" cy="315.2" r="1.15"/>
<circle cx="326.5" cy="233.4" r="1.15"/>
<circle cx="339.8" cy="252.1" r="1.15"/>
<circle cx="351" cy="308.9" r="1.15"/>
<circle cx="330.5" cy="434.4" r="1.15"/>
<circle cx="408.3" cy="284" r="1.15"/>
<circle cx="369.6" cy="318" r="1.15"/>
<circle cx="376.9" cy="278.4" r="1.15"/>
<circle cx="361.2" cy="296.1" r="1.15"/>
<circle cx="392.2" cy="309.1" r="1.15"/>
<circle cx="368.8" cy="312" r="1.15"/>
<circle cx="334.8" cy="234.8" r="1.15"/>
<circle cx="411.9" cy="230.8" r="1.15"/>
<circle cx="354.5" cy="239.3" r="1.15"/>
<circle cx="365.6" cy="347.1" r="1.15"/>
<circle cx="410.6" cy="313.7" r="1.15"/>
<circle cx="354.6" cy="289.9" r="1.15"/>
<circle cx="404.9" cy="383.3" r="1.15"/>
<circle cx="380.4" cy="251.4" r="1.15"/>
<circle cx="373.9" cy="346.7" r="1.15"/>
<circle cx="386.4" cy="254.9" r="1.15"/>
<circle cx="415.5" cy="323.2" r="1.15"/>
<circle cx="415.6" cy="281.2" r="1.15"/>
<circle cx="404.9" cy="375.8" r="1.15"/>
<circle cx="401.3" cy="411.1" r="1.15"/>
<circle cx="330.7" cy="333.5" r="1.15"/>
<circle cx="376.3" cy="361.4" r="1.15"/>
<circle cx="409.8" cy="359.4" r="1.15"/>
<circle cx="382.2" cy="322.6" r="1.15"/>
<circle cx="366.8" cy="289.3" r="1.15"/>
<circle cx="411.3" cy="266.2" r="1.15"/>
<circle cx="345.1" cy="343.7" r="1.15"/>
<circle cx="356" cy="368.6" r="1.15"/>
<circle cx="347" cy="308" r="1.15"/>
<circle cx="344.9" cy="351.7" r="1.15"/>
<circle cx="373.6" cy="358.3" r="1.15"/>
<circle cx="371.2" cy="324.8" r="1.15"/>
<circle cx="354.9" cy="255.4" r="1.15"/>
<circle cx="337.9" cy="292.6" r="1.15"/>
<circle cx="411.9" cy="397.8" r="1.15"/>
<circle cx="375.8" cy="218.3" r="1.15"/>
<circle cx="368.1" cy="364.3" r="1.15"/>
</g>
<g fill="#b97292" stroke="#b97292" fill-opacity="0.34" stroke-opacity="0.45" stroke-width=".8">
<circle cx="450.7" cy="362.6" r="1.15"/>
<circle cx="455.5" cy="350.7" r="1.15"/>
<circle cx="521.3" cy="298.9" r="1.15"/>
<circle cx="510.8" cy="222.5" r="1.15"/>
<circle cx="481.1" cy="250.6" r="1.15"/>
<circle cx="516.4" cy="357.5" r="1.15"/>
<circle cx="496.6" cy="390" r="1.15"/>
<circle cx="444.7" cy="280.8" r="1.15"/>
<circle cx="493.7" cy="367.7" r="1.15"/>
<circle cx="517.6" cy="347.3" r="1.15"/>
<circle cx="490.7" cy="325" r="1.15"/>
<circle cx="487.8" cy="341.3" r="1.15"/>
<circle cx="453.7" cy="335.1" r="1.15"/>
<circle cx="530.1" cy="306.1" r="1.15"/>
<circle cx="447.7" cy="250.5" r="1.15"/>
<circle cx="455.7" cy="326.1" r="1.15"/>
<circle cx="462.2" cy="293.8" r="1.15"/>
<circle cx="483.8" cy="275" r="1.15"/>
<circle cx="533.6" cy="272.4" r="1.15"/>
<circle cx="452.1" cy="300.2" r="1.15"/>
<circle cx="510.6" cy="330.8" r="1.15"/>
<circle cx="510.9" cy="299.3" r="1.15"/>
<circle cx="446.6" cy="364.5" r="1.15"/>
<circle cx="446.9" cy="299.8" r="1.15"/>
<circle cx="530.8" cy="237.4" r="1.15"/>
<circle cx="511.4" cy="268.3" r="1.15"/>
<circle cx="459.1" cy="436" r="1.15"/>
<circle cx="476.3" cy="270.2" r="1.15"/>
<circle cx="494.6" cy="269.7" r="1.15"/>
<circle cx="462.6" cy="311.8" r="1.15"/>
<circle cx="523" cy="263.6" r="1.15"/>
<circle cx="529.8" cy="264.9" r="1.15"/>
<circle cx="520.8" cy="302.7" r="1.15"/>
<circle cx="473.4" cy="307.6" r="1.15"/>
<circle cx="457.6" cy="350.2" r="1.15"/>
<circle cx="457.8" cy="247.9" r="1.15"/>
<circle cx="448.8" cy="399.4" r="1.15"/>
<circle cx="464.3" cy="278.7" r="1.15"/>
<circle cx="468.1" cy="313.1" r="1.15"/>
<circle cx="459.3" cy="292.9" r="1.15"/>
<circle cx="482.3" cy="315.3" r="1.15"/>
<circle cx="451.7" cy="299" r="1.15"/>
<circle cx="520.9" cy="336.8" r="1.15"/>
<circle cx="518.5" cy="339.3" r="1.15"/>
<circle cx="527.8" cy="218.2" r="1.15"/>
<circle cx="506.9" cy="311.5" r="1.15"/>
<circle cx="518.3" cy="232.5" r="1.15"/>
<circle cx="500.2" cy="259.8" r="1.15"/>
<circle cx="454.8" cy="286.3" r="1.15"/>
<circle cx="528.5" cy="281.2" r="1.15"/>
<circle cx="533.5" cy="297.4" r="1.15"/>
<circle cx="498.4" cy="250.9" r="1.15"/>
<circle cx="533.4" cy="300.3" r="1.15"/>
<circle cx="492.4" cy="313.2" r="1.15"/>
<circle cx="523.9" cy="264.3" r="1.15"/>
<circle cx="506.9" cy="295.9" r="1.15"/>
<circle cx="529.7" cy="270.9" r="1.15"/>
<circle cx="494" cy="324.7" r="1.15"/>
<circle cx="496.2" cy="297.9" r="1.15"/>
<circle cx="473.9" cy="251.1" r="1.15"/>
<circle cx="475.5" cy="251.4" r="1.15"/>
<circle cx="451.9" cy="346" r="1.15"/>
<circle cx="447.7" cy="300.7" r="1.15"/>
<circle cx="465.9" cy="345.2" r="1.15"/>
<circle cx="457.2" cy="259.4" r="1.15"/>
<circle cx="515.3" cy="339.6" r="1.15"/>
<circle cx="502.2" cy="379.1" r="1.15"/>
<circle cx="512.2" cy="349.6" r="1.15"/>
<circle cx="502.4" cy="351.3" r="1.15"/>
<circle cx="508.1" cy="186.3" r="1.15"/>
<circle cx="485.6" cy="323.5" r="1.15"/>
<circle cx="478.7" cy="261.8" r="1.15"/>
<circle cx="485.4" cy="330.6" r="1.15"/>
<circle cx="532.7" cy="278.3" r="1.15"/>
<circle cx="531.4" cy="239" r="1.15"/>
<circle cx="514.2" cy="253.4" r="1.15"/>
<circle cx="519.5" cy="234" r="1.15"/>
<circle cx="533.1" cy="252.4" r="1.15"/>
<circle cx="469.4" cy="306.3" r="1.15"/>
<circle cx="500.9" cy="273" r="1.15"/>
<circle cx="483.3" cy="289.3" r="1.15"/>
<circle cx="524.4" cy="318.8" r="1.15"/>
<circle cx="512.1" cy="197.2" r="1.15"/>
<circle cx="531.6" cy="340.7" r="1.15"/>
<circle cx="486.9" cy="354.7" r="1.15"/>
<circle cx="531.3" cy="320.1" r="1.15"/>
<circle cx="464.6" cy="244.9" r="1.15"/>
<circle cx="528.8" cy="313.9" r="1.15"/>
<circle cx="512.1" cy="283.7" r="1.15"/>
<circle cx="535.7" cy="328.6" r="1.15"/>
<circle cx="450.8" cy="239.3" r="1.15"/>
<circle cx="451" cy="280" r="1.15"/>
<circle cx="452.8" cy="291.2" r="1.15"/>
<circle cx="509.5" cy="229.4" r="1.15"/>
<circle cx="512.8" cy="333.4" r="1.15"/>
<circle cx="503" cy="227.4" r="1.15"/>
<circle cx="535.1" cy="255.4" r="1.15"/>
<circle cx="522" cy="350.2" r="1.15"/>
<circle cx="494.5" cy="302.4" r="1.15"/>
<circle cx="505.6" cy="271.7" r="1.15"/>
<circle cx="533.9" cy="343.6" r="1.15"/>
<circle cx="517.9" cy="333.3" r="1.15"/>
<circle cx="528.8" cy="229.1" r="1.15"/>
<circle cx="523" cy="219.2" r="1.15"/>
<circle cx="467" cy="266.3" r="1.15"/>
<circle cx="526.4" cy="288.3" r="1.15"/>
<circle cx="470.4" cy="339.2" r="1.15"/>
<circle cx="523.6" cy="258" r="1.15"/>
<circle cx="513.6" cy="317.1" r="1.15"/>
<circle cx="464.5" cy="291.3" r="1.15"/>
<circle cx="531.1" cy="287.1" r="1.15"/>
<circle cx="463.1" cy="254.1" r="1.15"/>
<circle cx="472.4" cy="267.4" r="1.15"/>
<circle cx="490.5" cy="393.6" r="1.15"/>
<circle cx="468.2" cy="320.7" r="1.15"/>
<circle cx="514.7" cy="248.2" r="1.15"/>
<circle cx="503" cy="233.5" r="1.15"/>
<circle cx="513.7" cy="257.1" r="1.15"/>
<circle cx="481.5" cy="246.4" r="1.15"/>
<circle cx="491" cy="343.3" r="1.15"/>
<circle cx="513" cy="295.4" r="1.15"/>
<circle cx="490.2" cy="288.3" r="1.15"/>
<circle cx="473.1" cy="249.7" r="1.15"/>
<circle cx="478" cy="287.5" r="1.15"/>
<circle cx="508.7" cy="316.3" r="1.15"/>
<circle cx="455.2" cy="248.4" r="1.15"/>
<circle cx="536.2" cy="289.7" r="1.15"/>
<circle cx="530.2" cy="264" r="1.15"/>
<circle cx="523.3" cy="367.8" r="1.15"/>
<circle cx="464.8" cy="287" r="1.15"/>
<circle cx="528.3" cy="266.9" r="1.15"/>
<circle cx="449.2" cy="225.6" r="1.15"/>
<circle cx="502.2" cy="287.9" r="1.15"/>
<circle cx="449.7" cy="365.5" r="1.15"/>
<circle cx="513.9" cy="351.3" r="1.15"/>
<circle cx="460.7" cy="241" r="1.15"/>
<circle cx="533.9" cy="245.9" r="1.15"/>
<circle cx="460.2" cy="301.8" r="1.15"/>
<circle cx="460.7" cy="331.7" r="1.15"/>
<circle cx="476.8" cy="243" r="1.15"/>
<circle cx="533.3" cy="316.7" r="1.15"/>
<circle cx="455.8" cy="295.5" r="1.15"/>
<circle cx="448.9" cy="361.1" r="1.15"/>
<circle cx="491.6" cy="413.9" r="1.15"/>
<circle cx="465.1" cy="283.6" r="1.15"/>
<circle cx="526.4" cy="209.2" r="1.15"/>
<circle cx="524.5" cy="307.6" r="1.15"/>
<circle cx="532.4" cy="350.8" r="1.15"/>
<circle cx="531.9" cy="232.2" r="1.15"/>
<circle cx="486.5" cy="339.5" r="1.15"/>
</g>
<g fill="#8c2341" stroke="#8c2341" fill-opacity="0.38" stroke-opacity="0.5" stroke-width=".8">
<circle cx="630.3" cy="273.3" r="1.15"/>
<circle cx="628.5" cy="255.1" r="1.15"/>
<circle cx="578.5" cy="326.8" r="1.15"/>
<circle cx="565.4" cy="189.9" r="1.15"/>
<circle cx="640.1" cy="280.3" r="1.15"/>
<circle cx="638.2" cy="338.8" r="1.15"/>
<circle cx="625.7" cy="359.8" r="1.15"/>
<circle cx="584.5" cy="286.4" r="1.15"/>
<circle cx="624.8" cy="294" r="1.15"/>
<circle cx="652.4" cy="263.6" r="1.15"/>
<circle cx="630.5" cy="356.5" r="1.15"/>
<circle cx="561.8" cy="293.3" r="1.15"/>
<circle cx="629" cy="272.9" r="1.15"/>
<circle cx="583.3" cy="250.3" r="1.15"/>
<circle cx="562.9" cy="365.4" r="1.15"/>
<circle cx="593.4" cy="317.9" r="1.15"/>
<circle cx="647.1" cy="325.4" r="1.15"/>
<circle cx="567.8" cy="297.4" r="1.15"/>
<circle cx="631" cy="304.8" r="1.15"/>
<circle cx="603.3" cy="288.5" r="1.15"/>
<circle cx="575.7" cy="331.3" r="1.15"/>
<circle cx="649.6" cy="275" r="1.15"/>
<circle cx="587.6" cy="358.1" r="1.15"/>
<circle cx="625.1" cy="295.2" r="1.15"/>
<circle cx="653.9" cy="203.2" r="1.15"/>
<circle cx="594.8" cy="336.5" r="1.15"/>
<circle cx="582.6" cy="217.6" r="1.15"/>
<circle cx="577.4" cy="237.4" r="1.15"/>
<circle cx="623.4" cy="313.4" r="1.15"/>
<circle cx="610" cy="272.7" r="1.15"/>
<circle cx="563.5" cy="267.9" r="1.15"/>
<circle cx="629.9" cy="334.7" r="1.15"/>
<circle cx="582.6" cy="382.5" r="1.15"/>
<circle cx="595.3" cy="305.2" r="1.15"/>
<circle cx="640.4" cy="349.7" r="1.15"/>
<circle cx="647.6" cy="269.9" r="1.15"/>
<circle cx="603.5" cy="366.2" r="1.15"/>
<circle cx="643.2" cy="205.1" r="1.15"/>
<circle cx="621.1" cy="192" r="1.15"/>
<circle cx="646" cy="325.8" r="1.15"/>
<circle cx="628.7" cy="380.4" r="1.15"/>
<circle cx="580.7" cy="279.9" r="1.15"/>
<circle cx="605.6" cy="316.4" r="1.15"/>
<circle cx="638.2" cy="298.6" r="1.15"/>
<circle cx="600.5" cy="361.8" r="1.15"/>
<circle cx="601.7" cy="356.4" r="1.15"/>
<circle cx="625.4" cy="271.8" r="1.15"/>
<circle cx="640.2" cy="351.1" r="1.15"/>
<circle cx="611.2" cy="380.5" r="1.15"/>
<circle cx="623.2" cy="272.8" r="1.15"/>
<circle cx="604.9" cy="269.3" r="1.15"/>
<circle cx="608.4" cy="308.5" r="1.15"/>
<circle cx="586.7" cy="339.9" r="1.15"/>
<circle cx="604.6" cy="224.9" r="1.15"/>
<circle cx="627.2" cy="310.2" r="1.15"/>
<circle cx="632.8" cy="266.2" r="1.15"/>
<circle cx="571.1" cy="352.2" r="1.15"/>
<circle cx="587.3" cy="353.8" r="1.15"/>
<circle cx="588.6" cy="285.6" r="1.15"/>
<circle cx="600.7" cy="229.2" r="1.15"/>
<circle cx="601.6" cy="338.8" r="1.15"/>
<circle cx="589.5" cy="319.6" r="1.15"/>
<circle cx="644.6" cy="311.7" r="1.15"/>
<circle cx="581.8" cy="234.9" r="1.15"/>
<circle cx="625.6" cy="295.7" r="1.15"/>
<circle cx="616.5" cy="277.5" r="1.15"/>
<circle cx="630.7" cy="255.3" r="1.15"/>
<circle cx="654.1" cy="263.4" r="1.15"/>
<circle cx="576.3" cy="223.3" r="1.15"/>
<circle cx="649.1" cy="350.1" r="1.15"/>
<circle cx="620" cy="281.3" r="1.15"/>
<circle cx="573" cy="278.1" r="1.15"/>
<circle cx="635.2" cy="346.3" r="1.15"/>
<circle cx="608.6" cy="288.1" r="1.15"/>
<circle cx="613" cy="282.8" r="1.15"/>
<circle cx="631.6" cy="309.8" r="1.15"/>
<circle cx="577.7" cy="322.3" r="1.15"/>
<circle cx="593.3" cy="239.8" r="1.15"/>
<circle cx="640.8" cy="282.1" r="1.15"/>
<circle cx="578.3" cy="296.6" r="1.15"/>
</g>
<circle cx="126.5" cy="156.5" r="1.15" fill="#3c48b9" stroke="#3c48b9" fill-opacity="0.32" stroke-opacity="0.42" stroke-width=".8"/>
<circle cx="228.5" cy="118.5" r="1.15" fill="#8c92ce" stroke="#8c92ce" fill-opacity="0.32" stroke-opacity="0.42" stroke-width=".8"/>
<circle cx="250" cy="168.5" r="1.15" fill="#8c92ce" stroke="#8c92ce" fill-opacity="0.32" stroke-opacity="0.42" stroke-width=".8"/>
<circle cx="454.5" cy="173" r="1.15" fill="#b97292" stroke="#b97292" fill-opacity="0.34" stroke-opacity="0.45" stroke-width=".8"/>
<circle cx="509.5" cy="428.5" r="1.15" fill="#b97292" stroke="#b97292" fill-opacity="0.34" stroke-opacity="0.45" stroke-width=".8"/>
<line x1="138.3" y1="190.8" x2="138.3" y2="277" stroke="#333" stroke-width="1.6"/>
<line x1="138.3" y1="335.3" x2="138.3" y2="420" stroke="#333" stroke-width="1.6"/>
<rect x="94.2" y="277" width="88.3" height="58.3" fill="none" stroke="#2a2a2a" stroke-width="1.8"/>
<line x1="94.2" y1="305.2" x2="182.5" y2="305.2" stroke="#262626" stroke-width="3"/>
<line x1="255.7" y1="189" x2="255.7" y2="273.1" stroke="#333" stroke-width="1.6"/>
<line x1="255.7" y1="335" x2="255.7" y2="421.5" stroke="#333" stroke-width="1.6"/>
<rect x="211.5" y="273.1" width="88.3" height="61.9" fill="none" stroke="#2a2a2a" stroke-width="1.8"/>
<line x1="211.5" y1="305.5" x2="299.8" y2="305.5" stroke="#262626" stroke-width="3"/>
<line x1="372.8" y1="186.2" x2="372.8" y2="272.4" stroke="#333" stroke-width="1.6"/>
<line x1="372.8" y1="331.4" x2="372.8" y2="417.8" stroke="#333" stroke-width="1.6"/>
<rect x="328.7" y="272.4" width="88.3" height="59" fill="none" stroke="#2a2a2a" stroke-width="1.8"/>
<line x1="328.7" y1="301.3" x2="416.9" y2="301.3" stroke="#262626" stroke-width="3"/>
<line x1="490.4" y1="173.1" x2="490.4" y2="266.3" stroke="#333" stroke-width="1.6"/>
<line x1="490.4" y1="329.3" x2="490.4" y2="410.4" stroke="#333" stroke-width="1.6"/>
<rect x="446.2" y="266.3" width="88.3" height="63" fill="none" stroke="#2a2a2a" stroke-width="1.8"/>
<line x1="446.2" y1="292" x2="534.5" y2="292" stroke="#262626" stroke-width="3"/>
<line x1="607.6" y1="192.5" x2="607.6" y2="269.3" stroke="#333" stroke-width="1.6"/>
<line x1="607.6" y1="325.7" x2="607.6" y2="381" stroke="#333" stroke-width="1.6"/>
<rect x="563.5" y="269.3" width="88.3" height="56.4" fill="none" stroke="#2a2a2a" stroke-width="1.8"/>
<line x1="563.5" y1="293.8" x2="651.8" y2="293.8" stroke="#262626" stroke-width="3"/>
<path d="M490.4 33.6V24.0H607.6V33.6" fill="none" stroke="#606060" stroke-width="1.1"/>
<path d="M138.3 72.4V63.0H607.6V72.4" fill="none" stroke="#606060" stroke-width="1.1"/>
<path d="M138.3 111.6V102.1H490.4V111.6" fill="none" stroke="#606060" stroke-width="1.1"/>
<path d="M369.00 54.60L369.00 51.85M369.00 54.60L371.62 53.75M369.00 54.60L370.62 56.82M369.00 54.60L367.38 56.82M369.00 54.60L366.38 53.75" stroke="#111" stroke-width="1.3" stroke-linecap="round" fill="none"/><circle cx="369.0" cy="54.6" r="1.0" fill="#111"/>
<path d="M309.00 95.30L309.00 92.55M309.00 95.30L311.62 94.45M309.00 95.30L310.62 97.52M309.00 95.30L307.38 97.52M309.00 95.30L306.38 94.45" stroke="#111" stroke-width="1.3" stroke-linecap="round" fill="none"/><circle cx="309.0" cy="95.3" r="1.0" fill="#111"/>
<path d="M317.50 95.30L317.50 92.55M317.50 95.30L320.12 94.45M317.50 95.30L319.12 97.52M317.50 95.30L315.88 97.52M317.50 95.30L314.88 94.45" stroke="#111" stroke-width="1.3" stroke-linecap="round" fill="none"/><circle cx="317.5" cy="95.3" r="1.0" fill="#111"/>
<text x="552.7" y="21" font-family="Liberation Sans" font-size="15.5" fill="#111" text-anchor="middle">ns</text>
<line x1="68.0" y1="3.4" x2="677.5" y2="3.4" stroke="#555" stroke-width="1.1"/>
<line x1="677.5" y1="3.4" x2="677.5" y2="465.3" stroke="#555" stroke-width="1.1"/>
<line x1="68.0" y1="3.4" x2="68.0" y2="465.3" stroke="#555" stroke-width="1.1"/>
<line x1="68.0" y1="465.3" x2="677.5" y2="465.3" stroke="#444" stroke-width="1.1"/>
<line x1="65.6" y1="458.8" x2="68.0" y2="458.8" stroke="#333" stroke-width="1.1"/>
<polygon points="62.60,463.70 62.60,453.35 61.58,453.35 58.80,455.16 58.80,456.55 60.99,455.31 60.99,463.70" fill="#4d4d4d"/>
<line x1="65.6" y1="375.2" x2="68.0" y2="375.2" stroke="#333" stroke-width="1.1"/>
<text x="64.6" y="379.6" font-family="Liberation Sans" font-size="15" fill="#4d4d4d" text-anchor="end">2</text>
<line x1="65.6" y1="291.6" x2="68.0" y2="291.6" stroke="#333" stroke-width="1.1"/>
<text x="63.6" y="295.5" font-family="Liberation Sans" font-size="15" fill="#4d4d4d" text-anchor="end">3</text>
<line x1="65.6" y1="208" x2="68.0" y2="208" stroke="#333" stroke-width="1.1"/>
<text x="64.6" y="211.6" font-family="Liberation Sans" font-size="15" fill="#4d4d4d" text-anchor="end">4</text>
<line x1="65.6" y1="124.4" x2="68.0" y2="124.4" stroke="#333" stroke-width="1.1"/>
<text x="63.6" y="129.3" font-family="Liberation Sans" font-size="15" fill="#4d4d4d" text-anchor="end">5</text>
<line x1="65.6" y1="40.8" x2="68.0" y2="40.8" stroke="#333" stroke-width="1.1"/>
<text x="65.6" y="43.4" font-family="Liberation Sans" font-size="15" fill="#4d4d4d" text-anchor="end">6</text>
<line x1="138.3" y1="465.3" x2="138.3" y2="468" stroke="#333" stroke-width="1.1"/>
<text x="131.8" y="481" font-family="Liberation Sans" font-weight="bold" font-size="13.5" fill="#404040" textLength="12.5" lengthAdjust="spacingAndGlyphs">Q1</text>
<line x1="255.7" y1="465.3" x2="255.7" y2="468" stroke="#333" stroke-width="1.1"/>
<text x="248.7" y="481" font-family="Liberation Sans" font-weight="bold" font-size="13.5" fill="#404040" textLength="13.5" lengthAdjust="spacingAndGlyphs">Q2</text>
<line x1="373" y1="465.3" x2="373" y2="468" stroke="#333" stroke-width="1.1"/>
<text x="365.9" y="481" font-family="Liberation Sans" font-weight="bold" font-size="13.5" fill="#404040" textLength="13.9" lengthAdjust="spacingAndGlyphs">Q3</text>
<line x1="490.6" y1="465.3" x2="490.6" y2="468" stroke="#333" stroke-width="1.1"/>
<text x="475.1" y="482.2" font-family="Liberation Sans" font-weight="bold" font-size="12.5" fill="#404040" textLength="34.9" lengthAdjust="spacingAndGlyphs">Top 5%</text>
<line x1="607.8" y1="465.3" x2="607.8" y2="468" stroke="#333" stroke-width="1.1"/>
<text x="597.9" y="482.3" font-family="Liberation Sans" font-weight="bold" font-size="13.5" fill="#404040" textLength="25.3" lengthAdjust="spacingAndGlyphs">ASD</text>
<text x="283.1" y="498.4" font-family="Liberation Sans" font-size="17" fill="#1a1a1a" textLength="155" lengthAdjust="spacingAndGlyphs">Categories of SSRS</text>
<text transform="translate(47,227.7) rotate(-90) scale(1,1.15)" font-family="Liberation Sans" font-size="18.6" fill="#1a1a1a" stroke="#1a1a1a" stroke-width="0.2" text-anchor="middle">PRS for ASD</text>
<text transform="translate(2.2,20.7) scale(0.96,1)" font-family="Liberation Sans" font-weight="bold" font-size="28.2" fill="#111">A</text>
<line x1="84.3" y1="513.8" x2="84.3" y2="1015.4" stroke="#efefef" stroke-width="1"/>
<line x1="216.7" y1="513.8" x2="216.7" y2="1015.4" stroke="#efefef" stroke-width="1"/>
<line x1="349" y1="513.8" x2="349" y2="1015.4" stroke="#efefef" stroke-width="1"/>
<line x1="481.2" y1="513.8" x2="481.2" y2="1015.4" stroke="#efefef" stroke-width="1"/>
<line x1="613.6" y1="513.8" x2="613.6" y2="1015.4" stroke="#efefef" stroke-width="1"/>
<line x1="70.6" y1="954.4" x2="683.2" y2="954.4" stroke="#efefef" stroke-width="1"/>
<line x1="70.6" y1="837.2" x2="683.2" y2="837.2" stroke="#efefef" stroke-width="1"/>
<line x1="70.6" y1="720" x2="683.2" y2="720" stroke="#efefef" stroke-width="1"/>
<line x1="70.6" y1="602.8" x2="683.2" y2="602.8" stroke="#efefef" stroke-width="1"/>
<line x1="150.5" y1="513.8" x2="150.5" y2="1015.4" stroke="#e8e8e8" stroke-width="1.4"/>
<line x1="282.8" y1="513.8" x2="282.8" y2="1015.4" stroke="#e8e8e8" stroke-width="1.4"/>
<line x1="415.1" y1="513.8" x2="415.1" y2="1015.4" stroke="#e8e8e8" stroke-width="1.4"/>
<line x1="547.4" y1="513.8" x2="547.4" y2="1015.4" stroke="#e8e8e8" stroke-width="1.4"/>
<line x1="679.7" y1="513.8" x2="679.7" y2="1015.4" stroke="#e8e8e8" stroke-width="1.4"/>
<line x1="70.6" y1="1013" x2="683.2" y2="1013" stroke="#e8e8e8" stroke-width="1.4"/>
<line x1="70.6" y1="895.8" x2="683.2" y2="895.8" stroke="#e8e8e8" stroke-width="1.4"/>
<line x1="70.6" y1="778.6" x2="683.2" y2="778.6" stroke="#e8e8e8" stroke-width="1.4"/>
<line x1="70.6" y1="661.4" x2="683.2" y2="661.4" stroke="#e8e8e8" stroke-width="1.4"/>
<g fill-opacity=".57" stroke-opacity=".6" stroke-width="1">
<circle class="c9" cx="473.5" cy="813.6" r="2.1"/>
<circle class="c3" cx="362" cy="784" r="2.1"/>
<circle class="c7" cx="376.9" cy="759.5" r="2.1"/>
<circle class="c1" cx="275.5" cy="881.7" r="2.1"/>
<circle class="c2" cx="305.1" cy="837.9" r="2.1"/>
<circle class="c0" cx="112.2" cy="742.9" r="2.1"/>
<circle class="c3" cx="327.8" cy="802.3" r="2.1"/>
<circle class="c3" cx="323.8" cy="719.2" r="2.1"/>
<circle class="c0" cx="132.4" cy="741.1" r="2.1"/>
<circle class="c1" cx="200.2" cy="878.5" r="2.1"/>
<circle class="c0" cx="109.4" cy="811.4" r="2.1"/>
<circle class="c3" cx="321.1" cy="693.2" r="2.1"/>
<circle class="c2" cx="320.9" cy="871" r="2.1"/>
<circle class="c0" cx="134" cy="753.7" r="2.1"/>
<circle class="c3" cx="286.1" cy="860.7" r="2.1"/>
<circle class="c24" cx="574.4" cy="868.7" r="2.1"/>
<circle class="c15" cx="561.1" cy="797.6" r="2.1"/>
<circle class="c1" cx="221.7" cy="772.7" r="2.1"/>
<circle class="c0" cx="177.8" cy="826.5" r="2.1"/>
<circle class="c0" cx="193.5" cy="852.2" r="2.1"/>
<circle class="c24" cx="559" cy="864.9" r="2.1"/>
<circle class="c0" cx="169.2" cy="733.5" r="2.1"/>
<circle class="c8" cx="402.7" cy="782.8" r="2.1"/>
<circle class="c5" cx="347.9" cy="710.9" r="2.1"/>
<circle class="c6" cx="357.4" cy="811.2" r="2.1"/>
<circle class="c1" cx="283.5" cy="839.3" r="2.1"/>
<circle class="c0" cx="140.3" cy="863.9" r="2.1"/>
<circle class="c0" cx="154.3" cy="729.7" r="2.1"/>
<circle class="c3" cx="364.2" cy="788.9" r="2.1"/>
<circle class="c3" cx="322.5" cy="831.8" r="2.1"/>
<circle class="c2" cx="297.8" cy="813.8" r="2.1"/>
<circle class="c2" cx="251.1" cy="682.4" r="2.1"/>
<circle class="c1" cx="266.8" cy="759" r="2.1"/>
<circle class="c10" cx="510.3" cy="726.3" r="2.1"/>
<circle class="c14" cx="465.1" cy="771.9" r="2.1"/>
<circle class="c0" cx="101.4" cy="772.6" r="2.1"/>
<circle class="c7" cx="453.1" cy="784" r="2.1"/>
<circle class="c0" cx="121.2" cy="810.7" r="2.1"/>
<circle class="c1" cx="250.3" cy="940.3" r="2.1"/>
<circle class="c3" cx="354.1" cy="807.6" r="2.1"/>
<circle class="c9" cx="421.2" cy="787.6" r="2.1"/>
<circle class="c0" cx="187.7" cy="724" r="2.1"/>
<circle class="c0" cx="102.1" cy="794.8" r="2.1"/>
<circle class="c0" cx="194.3" cy="818.5" r="2.1"/>
<circle class="c4" cx="371.2" cy="749.7" r="2.1"/>
<circle class="c6" cx="376.7" cy="735.2" r="2.1"/>
<circle class="c3" cx="324.3" cy="842.2" r="2.1"/>
<circle class="c5" cx="388.6" cy="839.1" r="2.1"/>
<circle class="c6" cx="411" cy="776.4" r="2.1"/>
<circle class="c4" cx="349.4" cy="824.4" r="2.1"/>
<circle class="c0" cx="187.4" cy="854.6" r="2.1"/>
<circle class="c1" cx="249.4" cy="734.7" r="2.1"/>
<circle class="c0" cx="163.1" cy="927.3" r="2.1"/>
<circle class="c17" cx="485.5" cy="709.5" r="2.1"/>
<circle class="c1" cx="274.7" cy="807.9" r="2.1"/>
<circle class="c2" cx="262.3" cy="781.7" r="2.1"/>
<circle class="c0" cx="128.3" cy="907.8" r="2.1"/>
<circle class="c6" cx="453.5" cy="672.8" r="2.1"/>
<circle class="c1" cx="287.5" cy="779.3" r="2.1"/>
<circle class="c5" cx="384.6" cy="711.1" r="2.1"/>
<circle class="c7" cx="448.6" cy="816.8" r="2.1"/>
<circle class="c1" cx="222.3" cy="821.8" r="2.1"/>
<circle class="c3" cx="328.2" cy="655.6" r="2.1"/>
<circle class="c1" cx="191.5" cy="685.7" r="2.1"/>
<circle class="c9" cx="440.8" cy="710.4" r="2.1"/>
<circle class="c2" cx="274.4" cy="849.8" r="2.1"/>
<circle class="c3" cx="359.8" cy="777.6" r="2.1"/>
<circle class="c0" cx="121.7" cy="888.5" r="2.1"/>
<circle class="c1" cx="196.7" cy="826.1" r="2.1"/>
<circle class="c1" cx="252.8" cy="709.9" r="2.1"/>
<circle class="c0" cx="150.6" cy="829.2" r="2.1"/>
<circle class="c0" cx="144.2" cy="750.1" r="2.1"/>
<circle class="c0" cx="177.3" cy="806.6" r="2.1"/>
<circle class="c6" cx="422.4" cy="803" r="2.1"/>
<circle class="c4" cx="397.1" cy="777.8" r="2.1"/>
<circle class="c3" cx="373.8" cy="854" r="2.1"/>
<circle class="c3" cx="288.5" cy="947.6" r="2.1"/>
<circle class="c5" cx="391.9" cy="787.1" r="2.1"/>
<circle class="c1" cx="282.2" cy="801.9" r="2.1"/>
<circle class="c0" cx="100.8" cy="747.8" r="2.1"/>
<circle class="c0" cx="121.7" cy="844.1" r="2.1"/>
<circle class="c0" cx="109.3" cy="742.9" r="2.1"/>
<circle class="c0" cx="110.7" cy="892.5" r="2.1"/>
<circle class="c6" cx="427.1" cy="850" r="2.1"/>
<circle class="c2" cx="348.2" cy="959.1" r="2.1"/>
<circle class="c7" cx="397.1" cy="826.3" r="2.1"/>
<circle class="c0" cx="190.7" cy="822.1" r="2.1"/>
<circle class="c1" cx="236.7" cy="841.8" r="2.1"/>
<circle class="c4" cx="394.4" cy="740.3" r="2.1"/>
<circle class="c6" cx="369.1" cy="767.4" r="2.1"/>
<circle class="c2" cx="306.8" cy="790.7" r="2.1"/>
<circle class="c9" cx="498.6" cy="773.9" r="2.1"/>
<circle class="c8" cx="484.7" cy="756.8" r="2.1"/>
<circle class="c3" cx="313.4" cy="835.6" r="2.1"/>
<circle class="c2" cx="290.5" cy="745.6" r="2.1"/>
<circle class="c0" cx="188.6" cy="722.5" r="2.1"/>
<circle class="c2" cx="254.2" cy="740.8" r="2.1"/>
<circle class="c0" cx="165.1" cy="757.8" r="2.1"/>
<circle class="c0" cx="106.8" cy="864.6" r="2.1"/>
<circle class="c0" cx="115.5" cy="816.9" r="2.1"/>
<circle class="c3" cx="386.1" cy="815.3" r="2.1"/>
<circle class="c6" cx="401.2" cy="800.9" r="2.1"/>
<circle class="c0" cx="106.5" cy="826.7" r="2.1"/>
<circle class="c0" cx="131.4" cy="743.9" r="2.1"/>
<circle class="c3" cx="347.4" cy="764.5" r="2.1"/>
<circle class="c10" cx="429.4" cy="798.7" r="2.1"/>
<circle class="c0" cx="118.2" cy="781.1" r="2.1"/>
<circle class="c2" cx="332.3" cy="819.4" r="2.1"/>
<circle class="c0" cx="153.6" cy="819.3" r="2.1"/>
<circle class="c0" cx="103.2" cy="845.9" r="2.1"/>
<circle class="c6" cx="410.2" cy="799.4" r="2.1"/>
<circle class="c0" cx="168.2" cy="772.6" r="2.1"/>
<circle class="c1" cx="242.6" cy="724.9" r="2.1"/>
<circle class="c5" cx="348.7" cy="890.4" r="2.1"/>
<circle class="c0" cx="141.3" cy="795" r="2.1"/>
<circle class="c2" cx="268.3" cy="771.7" r="2.1"/>
<circle class="c0" cx="143.8" cy="824.9" r="2.1"/>
<circle class="c1" cx="248.4" cy="786.3" r="2.1"/>
<circle class="c14" cx="499.1" cy="668.6" r="2.1"/>
<circle class="c0" cx="123.9" cy="731.4" r="2.1"/>
<circle class="c6" cx="391.7" cy="767.6" r="2.1"/>
<circle class="c0" cx="150.3" cy="803.5" r="2.1"/>
<circle class="c3" cx="354.8" cy="789.3" r="2.1"/>
<circle class="c4" cx="368.3" cy="724.7" r="2.1"/>
<circle class="c5" cx="350.1" cy="826.9" r="2.1"/>
<circle class="c8" cx="393.3" cy="962.7" r="2.1"/>
<circle class="c0" cx="121.1" cy="757.6" r="2.1"/>
<circle class="c1" cx="231.2" cy="721" r="2.1"/>
<circle class="c19" cx="511.5" cy="859" r="2.1"/>
<circle class="c3" cx="346.2" cy="786.3" r="2.1"/>
<circle class="c8" cx="410.9" cy="808.8" r="2.1"/>
<circle class="c0" cx="164.1" cy="890" r="2.1"/>
<circle class="c29" cx="554.1" cy="822.6" r="2.1"/>
<circle class="c10" cx="418.8" cy="846.4" r="2.1"/>
<circle class="c0" cx="149.3" cy="862" r="2.1"/>
<circle class="c1" cx="293.6" cy="774.9" r="2.1"/>
<circle class="c2" cx="328.9" cy="812.9" r="2.1"/>
<circle class="c2" cx="348.4" cy="840.9" r="2.1"/>
<circle class="c0" cx="202.8" cy="688.1" r="2.1"/>
<circle class="c5" cx="436.4" cy="847.3" r="2.1"/>
<circle class="c0" cx="186" cy="673.1" r="2.1"/>
<circle class="c2" cx="272.4" cy="849" r="2.1"/>
<circle class="c0" cx="127.5" cy="910.5" r="2.1"/>
<circle class="c5" cx="340.7" cy="758.5" r="2.1"/>
<circle class="c5" cx="365.5" cy="771.2" r="2.1"/>
<circle class="c4" cx="319.4" cy="869.5" r="2.1"/>
<circle class="c8" cx="438.9" cy="794" r="2.1"/>
<circle class="c0" cx="128.5" cy="701.8" r="2.1"/>
<circle class="c4" cx="312.6" cy="846.4" r="2.1"/>
<circle class="c0" cx="107.1" cy="674.2" r="2.1"/>
<circle class="c5" cx="402.7" cy="790.3" r="2.1"/>
<circle class="c3" cx="354.5" cy="817.9" r="2.1"/>
<circle class="c7" cx="421.4" cy="758.6" r="2.1"/>
<circle class="c0" cx="125.2" cy="822.4" r="2.1"/>
<circle class="c3" cx="366.5" cy="741.8" r="2.1"/>
<circle class="c0" cx="114.8" cy="791" r="2.1"/>
<circle class="c3" cx="288.1" cy="788.2" r="2.1"/>
<circle class="c18" cx="534.8" cy="751.3" r="2.1"/>
<circle class="c0" cx="156.6" cy="750.3" r="2.1"/>
<circle class="c1" cx="201.8" cy="789.5" r="2.1"/>
<circle class="c18" cx="538.5" cy="834" r="2.1"/>
<circle class="c0" cx="99.6" cy="801.1" r="2.1"/>
<circle class="c0" cx="145.2" cy="762.5" r="2.1"/>
<circle class="c4" cx="355.8" cy="765.3" r="2.1"/>
<circle class="c1" cx="200.9" cy="784.6" r="2.1"/>
<circle class="c3" cx="377.4" cy="726.3" r="2.1"/>
<circle class="c3" cx="300" cy="694.9" r="2.1"/>
<circle class="c0" cx="153.2" cy="835.8" r="2.1"/>
<circle class="c2" cx="313.8" cy="751.2" r="2.1"/>
<circle class="c0" cx="109.5" cy="851.8" r="2.1"/>
<circle class="c4" cx="414.7" cy="816.4" r="2.1"/>
<circle class="c6" cx="435.3" cy="829.5" r="2.1"/>
<circle class="c2" cx="295.1" cy="839.2" r="2.1"/>
<circle class="c1" cx="285.7" cy="744.2" r="2.1"/>
<circle class="c4" cx="376.4" cy="710.8" r="2.1"/>
<circle class="c2" cx="318.8" cy="838.4" r="2.1"/>
<circle class="c1" cx="267.2" cy="886.3" r="2.1"/>
<circle class="c1" cx="253.1" cy="799.5" r="2.1"/>
<circle class="c1" cx="214" cy="825.5" r="2.1"/>
<circle class="c2" cx="320.1" cy="793" r="2.1"/>
<circle class="c0" cx="139" cy="798.5" r="2.1"/>
<circle class="c12" cx="467.6" cy="941" r="2.1"/>
<circle class="c2" cx="315.5" cy="714.9" r="2.1"/>
<circle class="c3" cx="342" cy="870.3" r="2.1"/>
<circle class="c1" cx="278.8" cy="740.3" r="2.1"/>
<circle class="c1" cx="273.4" cy="777.1" r="2.1"/>
<circle class="c2" cx="296.7" cy="805.5" r="2.1"/>
<circle class="c0" cx="121.3" cy="849.7" r="2.1"/>
<circle class="c5" cx="438" cy="904.2" r="2.1"/>
<circle class="c4" cx="342.9" cy="665.9" r="2.1"/>
<circle class="c0" cx="155.1" cy="877.9" r="2.1"/>
<circle class="c1" cx="256.4" cy="665.6" r="2.1"/>
<circle class="c0" cx="144.2" cy="775.4" r="2.1"/>
<circle class="c5" cx="353.4" cy="768.7" r="2.1"/>
<circle class="c0" cx="167.8" cy="793" r="2.1"/>
<circle class="c1" cx="217.2" cy="735.6" r="2.1"/>
<circle class="c0" cx="136.2" cy="830.7" r="2.1"/>
<circle class="c9" cx="497.7" cy="846.9" r="2.1"/>
<circle class="c4" cx="358.1" cy="838.4" r="2.1"/>
<circle class="c0" cx="117.3" cy="848.3" r="2.1"/>
<circle class="c22" cx="613.8" cy="750.8" r="2.1"/>
<circle class="c5" cx="376.8" cy="860.7" r="2.1"/>
<circle class="c0" cx="108.5" cy="848.3" r="2.1"/>
<circle class="c0" cx="154.7" cy="725.6" r="2.1"/>
<circle class="c3" cx="293.1" cy="823.7" r="2.1"/>
<circle class="c6" cx="397.4" cy="792.7" r="2.1"/>
<circle class="c2" cx="249.3" cy="816.8" r="2.1"/>
<circle class="c0" cx="185.7" cy="784.8" r="2.1"/>
<circle class="c0" cx="128.4" cy="705.7" r="2.1"/>
<circle class="c0" cx="126.6" cy="721.9" r="2.1"/>
<circle class="c7" cx="424.7" cy="884.9" r="2.1"/>
<circle class="c2" cx="328.8" cy="819.1" r="2.1"/>
<circle class="c0" cx="199.6" cy="826.7" r="2.1"/>
<circle class="c1" cx="215.2" cy="805.8" r="2.1"/>
<circle class="c4" cx="373.5" cy="842.8" r="2.1"/>
<circle class="c2" cx="261.9" cy="695.3" r="2.1"/>
<circle class="c3" cx="345.7" cy="662.6" r="2.1"/>
<circle class="c5" cx="377.4" cy="779.2" r="2.1"/>
<circle class="c0" cx="188.4" cy="773.7" r="2.1"/>
<circle class="c2" cx="259.3" cy="786.8" r="2.1"/>
<circle class="c5" cx="337.4" cy="765.4" r="2.1"/>
<circle class="c0" cx="121.1" cy="808" r="2.1"/>
<circle class="c1" cx="217.4" cy="830.1" r="2.1"/>
<circle class="c2" cx="323.7" cy="819.5" r="2.1"/>
<circle class="c0" cx="148.4" cy="904.8" r="2.1"/>
<circle class="c0" cx="106.7" cy="787.1" r="2.1"/>
<circle class="c0" cx="143.7" cy="726.4" r="2.1"/>
<circle class="c1" cx="193.2" cy="819.5" r="2.1"/>
<circle class="c17" cx="548.9" cy="744.4" r="2.1"/>
<circle class="c4" cx="365.4" cy="815.6" r="2.1"/>
<circle class="c5" cx="409.6" cy="869.5" r="2.1"/>
<circle class="c7" cx="451.2" cy="698.8" r="2.1"/>
<circle class="c3" cx="328.9" cy="822" r="2.1"/>
<circle class="c0" cx="190.2" cy="830.6" r="2.1"/>
<circle class="c13" cx="516.6" cy="763.9" r="2.1"/>
<circle class="c5" cx="372.9" cy="833.3" r="2.1"/>
<circle class="c1" cx="243.1" cy="702.1" r="2.1"/>
<circle class="c5" cx="435.6" cy="716.6" r="2.1"/>
<circle class="c2" cx="302.2" cy="746" r="2.1"/>
<circle class="c0" cx="139.9" cy="755.6" r="2.1"/>
<circle class="c0" cx="109.2" cy="821.6" r="2.1"/>
<circle class="c1" cx="264.4" cy="838.4" r="2.1"/>
<circle class="c3" cx="286.8" cy="787.8" r="2.1"/>
<circle class="c12" cx="478.2" cy="701.9" r="2.1"/>
<circle class="c1" cx="293.7" cy="857.8" r="2.1"/>
<circle class="c0" cx="147.1" cy="730.9" r="2.1"/>
<circle class="c2" cx="270.3" cy="879.2" r="2.1"/>
<circle class="c1" cx="259.5" cy="752.1" r="2.1"/>
<circle class="c12" cx="440" cy="754.7" r="2.1"/>
<circle class="c6" cx="451.9" cy="764.3" r="2.1"/>
<circle class="c8" cx="431.7" cy="782.2" r="2.1"/>
<circle class="c4" cx="319.8" cy="805.9" r="2.1"/>
<circle class="c2" cx="271.5" cy="697" r="2.1"/>
<circle class="c2" cx="309.2" cy="736.5" r="2.1"/>
<circle class="c2" cx="313.6" cy="793.9" r="2.1"/>
<circle class="c0" cx="171.8" cy="872.8" r="2.1"/>
<circle class="c10" cx="428.8" cy="864.8" r="2.1"/>
<circle class="c0" cx="187.9" cy="867.3" r="2.1"/>
<circle class="c13" cx="515" cy="826.5" r="2.1"/>
<circle class="c1" cx="259.4" cy="831.7" r="2.1"/>
<circle class="c2" cx="328.3" cy="771.4" r="2.1"/>
<circle class="c7" cx="412.5" cy="799.3" r="2.1"/>
<circle class="c1" cx="199.5" cy="832.4" r="2.1"/>
<circle class="c0" cx="132.7" cy="815.3" r="2.1"/>
<circle class="c1" cx="272.5" cy="760.6" r="2.1"/>
<circle class="c7" cx="476.2" cy="862.9" r="2.1"/>
<circle class="c11" cx="437.7" cy="770.1" r="2.1"/>
<circle class="c11" cx="508.1" cy="727.1" r="2.1"/>
<circle class="c1" cx="262.6" cy="855.1" r="2.1"/>
<circle class="c3" cx="325" cy="719.9" r="2.1"/>
<circle class="c14" cx="464.5" cy="723.9" r="2.1"/>
<circle class="c5" cx="390.1" cy="728.5" r="2.1"/>
<circle class="c2" cx="314.9" cy="798.1" r="2.1"/>
<circle class="c6" cx="357.6" cy="791.3" r="2.1"/>
<circle class="c0" cx="143.1" cy="759.9" r="2.1"/>
<circle class="c20" cx="507.2" cy="778.1" r="2.1"/>
<circle class="c4" cx="328" cy="771.9" r="2.1"/>
<circle class="c0" cx="125.4" cy="795.8" r="2.1"/>
<circle class="c4" cx="371.5" cy="812.5" r="2.1"/>
<circle class="c3" cx="309.6" cy="759.1" r="2.1"/>
<circle class="c8" cx="478.8" cy="810.8" r="2.1"/>
<circle class="c5" cx="379" cy="732" r="2.1"/>
<circle class="c3" cx="347.9" cy="839.6" r="2.1"/>
<circle class="c2" cx="320.7" cy="777.7" r="2.1"/>
<circle class="c0" cx="121.5" cy="670.3" r="2.1"/>
<circle class="c7" cx="456.6" cy="885.6" r="2.1"/>
<circle class="c0" cx="203.2" cy="885" r="2.1"/>
<circle class="c4" cx="320.9" cy="836.9" r="2.1"/>
<circle class="c2" cx="296.4" cy="933.4" r="2.1"/>
<circle class="c0" cx="162.9" cy="740.9" r="2.1"/>
<circle class="c1" cx="230.2" cy="844.1" r="2.1"/>
<circle class="c15" cx="562.1" cy="698.4" r="2.1"/>
<circle class="c3" cx="286.1" cy="710.2" r="2.1"/>
<circle class="c1" cx="245" cy="825.6" r="2.1"/>
<circle class="c0" cx="148.4" cy="851.6" r="2.1"/>
<circle class="c0" cx="142.4" cy="852.5" r="2.1"/>
<circle class="c2" cx="245.5" cy="648" r="2.1"/>
<circle class="c0" cx="130.8" cy="927.4" r="2.1"/>
<circle class="c3" cx="375.3" cy="808.9" r="2.1"/>
<circle class="c0" cx="203.1" cy="744.1" r="2.1"/>
<circle class="c6" cx="400.6" cy="937.4" r="2.1"/>
<circle class="c0" cx="100" cy="672.8" r="2.1"/>
<circle class="c27" cx="541.2" cy="718.2" r="2.1"/>
<circle class="c1" cx="211.4" cy="731.7" r="2.1"/>
<circle class="c1" cx="213.2" cy="795.9" r="2.1"/>
<circle class="c1" cx="203.6" cy="783.5" r="2.1"/>
<circle class="c2" cx="293.9" cy="672.7" r="2.1"/>
<circle class="c12" cx="519.1" cy="818.1" r="2.1"/>
<circle class="c2" cx="262.5" cy="918.8" r="2.1"/>
<circle class="c0" cx="128.7" cy="742.8" r="2.1"/>
<circle class="c0" cx="99.3" cy="765.8" r="2.1"/>
<circle class="c1" cx="280" cy="845" r="2.1"/>
<circle class="c0" cx="131.8" cy="870.2" r="2.1"/>
<circle class="c1" cx="254.5" cy="728.7" r="2.1"/>
<circle class="c0" cx="104.4" cy="812.6" r="2.1"/>
<circle class="c1" cx="194" cy="783.5" r="2.1"/>
<circle class="c1" cx="280" cy="794.3" r="2.1"/>
<circle class="c6" cx="428.6" cy="790.3" r="2.1"/>
<circle class="c2" cx="293.6" cy="836.8" r="2.1"/>
<circle class="c4" cx="377.1" cy="739.6" r="2.1"/>
<circle class="c2" cx="301.6" cy="789" r="2.1"/>
<circle class="c27" cx="577.8" cy="759" r="2.1"/>
<circle class="c1" cx="269.8" cy="804.4" r="2.1"/>
<circle class="c2" cx="315.5" cy="714.2" r="2.1"/>
<circle class="c3" cx="364.8" cy="774.6" r="2.1"/>
<circle class="c1" cx="232.3" cy="742" r="2.1"/>
<circle class="c23" cx="595.2" cy="862.7" r="2.1"/>
<circle class="c0" cx="130.1" cy="935.8" r="2.1"/>
<circle class="c12" cx="539" cy="754.1" r="2.1"/>
<circle class="c3" cx="317.1" cy="739.3" r="2.1"/>
<circle class="c5" cx="438.6" cy="761.7" r="2.1"/>
<circle class="c9" cx="476.5" cy="747.3" r="2.1"/>
<circle class="c5" cx="426.2" cy="703.5" r="2.1"/>
<circle class="c1" cx="269.1" cy="778.3" r="2.1"/>
<circle class="c1" cx="265.6" cy="816" r="2.1"/>
<circle class="c3" cx="355.9" cy="879.3" r="2.1"/>
<circle class="c4" cx="314.2" cy="798.7" r="2.1"/>
<circle class="c0" cx="139.1" cy="863.9" r="2.1"/>
<circle class="c2" cx="273.6" cy="804.8" r="2.1"/>
<circle class="c1" cx="274.4" cy="929.3" r="2.1"/>
<circle class="c2" cx="282" cy="739.6" r="2.1"/>
<circle class="c9" cx="505" cy="909.7" r="2.1"/>
<circle class="c0" cx="105.6" cy="830.1" r="2.1"/>
<circle class="c0" cx="98.3" cy="801.6" r="2.1"/>
<circle class="c5" cx="389.2" cy="817.1" r="2.1"/>
<circle class="c8" cx="434.5" cy="798.9" r="2.1"/>
<circle class="c3" cx="326.4" cy="795" r="2.1"/>
<circle class="c2" cx="261.5" cy="780" r="2.1"/>
<circle class="c0" cx="153.7" cy="785.1" r="2.1"/>
<circle class="c3" cx="358.2" cy="803.9" r="2.1"/>
<circle class="c3" cx="375.9" cy="745.8" r="2.1"/>
<circle class="c0" cx="171.1" cy="873.6" r="2.1"/>
<circle class="c2" cx="300.2" cy="800.1" r="2.1"/>
<circle class="c2" cx="274.4" cy="768.8" r="2.1"/>
<circle class="c0" cx="98.8" cy="897.7" r="2.1"/>
<circle class="c5" cx="370.8" cy="778.4" r="2.1"/>
<circle class="c0" cx="105.5" cy="784.2" r="2.1"/>
<circle class="c1" cx="287.5" cy="778.9" r="2.1"/>
<circle class="c0" cx="172.3" cy="708.6" r="2.1"/>
<circle class="c17" cx="490.7" cy="914.8" r="2.1"/>
<circle class="c0" cx="111.9" cy="822.8" r="2.1"/>
<circle class="c1" cx="226.7" cy="753" r="2.1"/>
<circle class="c2" cx="260.7" cy="867.9" r="2.1"/>
<circle class="c4" cx="387.1" cy="885.9" r="2.1"/>
<circle class="c1" cx="228.8" cy="858.4" r="2.1"/>
<circle class="c0" cx="194.6" cy="740" r="2.1"/>
<circle class="c2" cx="286" cy="821.1" r="2.1"/>
<circle class="c6" cx="395.2" cy="830.6" r="2.1"/>
<circle class="c2" cx="305.9" cy="867.4" r="2.1"/>
<circle class="c5" cx="399.8" cy="886.1" r="2.1"/>
<circle class="c3" cx="368.4" cy="842" r="2.1"/>
<circle class="c0" cx="120.5" cy="753.7" r="2.1"/>
<circle class="c3" cx="331.5" cy="910.9" r="2.1"/>
<circle class="c0" cx="178.2" cy="711.2" r="2.1"/>
<circle class="c1" cx="262.2" cy="741.4" r="2.1"/>
<circle class="c1" cx="210.5" cy="816.8" r="2.1"/>
<circle class="c1" cx="291.7" cy="820.4" r="2.1"/>
<circle class="c1" cx="252.6" cy="789.7" r="2.1"/>
<circle class="c2" cx="287" cy="697.3" r="2.1"/>
<circle class="c3" cx="314" cy="896.6" r="2.1"/>
<circle class="c4" cx="412" cy="787.7" r="2.1"/>
<circle class="c0" cx="158.5" cy="833" r="2.1"/>
<circle class="c0" cx="154.2" cy="894.3" r="2.1"/>
<circle class="c0" cx="195.4" cy="839.9" r="2.1"/>
<circle class="c1" cx="216.7" cy="783.1" r="2.1"/>
<circle class="c14" cx="560.1" cy="678.4" r="2.1"/>
<circle class="c6" cx="436.2" cy="735.9" r="2.1"/>
<circle class="c0" cx="124.4" cy="781.2" r="2.1"/>
<circle class="c1" cx="189.3" cy="822.7" r="2.1"/>
<circle class="c7" cx="388.1" cy="751.7" r="2.1"/>
<circle class="c0" cx="193.5" cy="838.1" r="2.1"/>
<circle class="c1" cx="283.1" cy="807" r="2.1"/>
<circle class="c2" cx="266.9" cy="688.1" r="2.1"/>
<circle class="c11" cx="531.8" cy="849.3" r="2.1"/>
<circle class="c5" cx="419.8" cy="647.6" r="2.1"/>
<circle class="c0" cx="142.1" cy="785.1" r="2.1"/>
<circle class="c0" cx="163.6" cy="701.5" r="2.1"/>
<circle class="c1" cx="210.4" cy="792.9" r="2.1"/>
<circle class="c3" cx="350.6" cy="745.2" r="2.1"/>
<circle class="c1" cx="275.3" cy="725.8" r="2.1"/>
<circle class="c0" cx="153.9" cy="784.9" r="2.1"/>
<circle class="c3" cx="386.7" cy="899.1" r="2.1"/>
<circle class="c1" cx="265.7" cy="842.8" r="2.1"/>
<circle class="c0" cx="139" cy="790.9" r="2.1"/>
<circle class="c0" cx="113.9" cy="853" r="2.1"/>
<circle class="c0" cx="137" cy="776.6" r="2.1"/>
<circle class="c3" cx="352.9" cy="889.1" r="2.1"/>
<circle class="c5" cx="365.2" cy="811.9" r="2.1"/>
<circle class="c0" cx="127.6" cy="879.4" r="2.1"/>
<circle class="c0" cx="136.9" cy="868.6" r="2.1"/>
<circle class="c1" cx="239.9" cy="676.3" r="2.1"/>
<circle class="c3" cx="309.1" cy="780.1" r="2.1"/>
<circle class="c3" cx="370.5" cy="862.9" r="2.1"/>
<circle class="c13" cx="544.2" cy="810.2" r="2.1"/>
<circle class="c2" cx="318.7" cy="841.8" r="2.1"/>
<circle class="c1" cx="203.2" cy="793.4" r="2.1"/>
<circle class="c0" cx="161.3" cy="809.1" r="2.1"/>
<circle class="c14" cx="492.6" cy="764" r="2.1"/>
<circle class="c2" cx="330.1" cy="750.8" r="2.1"/>
<circle class="c0" cx="195.8" cy="772.3" r="2.1"/>
<circle class="c0" cx="188.4" cy="775" r="2.1"/>
<circle class="c6" cx="452.8" cy="758.5" r="2.1"/>
<circle class="c8" cx="412.9" cy="839.7" r="2.1"/>
<circle class="c7" cx="446.7" cy="795.6" r="2.1"/>
<circle class="c4" cx="311.1" cy="755.2" r="2.1"/>
<circle class="c0" cx="130.5" cy="829.8" r="2.1"/>
<circle class="c4" cx="361.2" cy="850" r="2.1"/>
<circle class="c0" cx="168.2" cy="702.2" r="2.1"/>
<circle class="c0" cx="193.6" cy="854.7" r="2.1"/>
<circle class="c9" cx="447.3" cy="695.9" r="2.1"/>
<circle class="c7" cx="460.8" cy="807.1" r="2.1"/>
<circle class="c1" cx="273" cy="810.9" r="2.1"/>
<circle class="c2" cx="330.5" cy="828.2" r="2.1"/>
<circle class="c1" cx="248.1" cy="897.5" r="2.1"/>
<circle class="c5" cx="425.7" cy="763.5" r="2.1"/>
<circle class="c1" cx="217.9" cy="746.5" r="2.1"/>
<circle class="c0" cx="203.1" cy="786.8" r="2.1"/>
<circle class="c6" cx="365.9" cy="757.2" r="2.1"/>
<circle class="c6" cx="400.1" cy="781.2" r="2.1"/>
<circle class="c0" cx="120.1" cy="794.2" r="2.1"/>
<circle class="c7" cx="382" cy="752.3" r="2.1"/>
<circle class="c1" cx="230.5" cy="710.7" r="2.1"/>
<circle class="c0" cx="102" cy="738.6" r="2.1"/>
<circle class="c1" cx="237.1" cy="730.8" r="2.1"/>
<circle class="c0" cx="176" cy="847.5" r="2.1"/>
<circle class="c0" cx="147.8" cy="837.6" r="2.1"/>
<circle class="c8" cx="476.6" cy="834.9" r="2.1"/>
<circle class="c3" cx="358.7" cy="886.6" r="2.1"/>
<circle class="c7" cx="471.4" cy="721.2" r="2.1"/>
<circle class="c1" cx="231.6" cy="763.6" r="2.1"/>
<circle class="c5" cx="386.7" cy="683.2" r="2.1"/>
<circle class="c6" cx="396.3" cy="744.1" r="2.1"/>
<circle class="c9" cx="461" cy="755.8" r="2.1"/>
<circle class="c0" cx="189.3" cy="778.5" r="2.1"/>
<circle class="c0" cx="160.4" cy="802.1" r="2.1"/>
<circle class="c0" cx="117.4" cy="807.3" r="2.1"/>
<circle class="c4" cx="345" cy="864.3" r="2.1"/>
<circle class="c0" cx="121.4" cy="878.5" r="2.1"/>
<circle class="c7" cx="439" cy="850.1" r="2.1"/>
<circle class="c5" cx="337.7" cy="761.6" r="2.1"/>
<circle class="c17" cx="500.5" cy="780.2" r="2.1"/>
<circle class="c0" cx="154.9" cy="869.8" r="2.1"/>
<circle class="c1" cx="290.3" cy="867.6" r="2.1"/>
<circle class="c0" cx="120.8" cy="852.6" r="2.1"/>
<circle class="c10" cx="476.1" cy="826.1" r="2.1"/>
<circle class="c2" cx="281.5" cy="790.2" r="2.1"/>
<circle class="c2" cx="289.2" cy="820.4" r="2.1"/>
<circle class="c0" cx="132.4" cy="798.3" r="2.1"/>
<circle class="c2" cx="320.1" cy="844.6" r="2.1"/>
<circle class="c0" cx="198.1" cy="778.4" r="2.1"/>
<circle class="c10" cx="464.5" cy="859.8" r="2.1"/>
<circle class="c6" cx="431.5" cy="747.9" r="2.1"/>
<circle class="c0" cx="104.1" cy="791.4" r="2.1"/>
<circle class="c14" cx="482.4" cy="725.1" r="2.1"/>
<circle class="c8" cx="412" cy="817.4" r="2.1"/>
<circle class="c1" cx="239" cy="817.7" r="2.1"/>
<circle class="c0" cx="158.6" cy="768.3" r="2.1"/>
<circle class="c20" cx="532" cy="748.1" r="2.1"/>
<circle class="c2" cx="329.9" cy="773.6" r="2.1"/>
<circle class="c1" cx="257.8" cy="824.5" r="2.1"/>
<circle class="c5" cx="359.4" cy="846.9" r="2.1"/>
<circle class="c8" cx="467" cy="836.7" r="2.1"/>
<circle class="c2" cx="253.6" cy="698.4" r="2.1"/>
<circle class="c3" cx="288" cy="873.7" r="2.1"/>
<circle class="c1" cx="274.4" cy="792" r="2.1"/>
<circle class="c1" cx="237.4" cy="831.2" r="2.1"/>
<circle class="c7" cx="435.1" cy="851.5" r="2.1"/>
<circle class="c1" cx="232.8" cy="761.1" r="2.1"/>
<circle class="c0" cx="157.8" cy="811.7" r="2.1"/>
<circle class="c4" cx="381.7" cy="766.8" r="2.1"/>
<circle class="c2" cx="325.2" cy="819.2" r="2.1"/>
<circle class="c0" cx="104.7" cy="900.6" r="2.1"/>
<circle class="c5" cx="398.2" cy="915.4" r="2.1"/>
<circle class="c0" cx="179.2" cy="877.9" r="2.1"/>
<circle class="c2" cx="252.8" cy="779.6" r="2.1"/>
<circle class="c0" cx="125.2" cy="898.6" r="2.1"/>
<circle class="c2" cx="304.9" cy="731.3" r="2.1"/>
<circle class="c2" cx="263.9" cy="842.9" r="2.1"/>
<circle class="c0" cx="139" cy="778.6" r="2.1"/>
<circle class="c3" cx="377.2" cy="835.8" r="2.1"/>
<circle class="c2" cx="329.2" cy="763.4" r="2.1"/>
<circle class="c0" cx="161.1" cy="814.9" r="2.1"/>
<circle class="c1" cx="233.9" cy="771.4" r="2.1"/>
<circle class="c7" cx="413" cy="752.1" r="2.1"/>
<circle class="c8" cx="398.4" cy="762" r="2.1"/>
<circle class="c1" cx="273.3" cy="710.1" r="2.1"/>
<circle class="c4" cx="363.1" cy="738.8" r="2.1"/>
<circle class="c1" cx="205.5" cy="810.8" r="2.1"/>
<circle class="c1" cx="264.4" cy="848.4" r="2.1"/>
<circle class="c5" cx="390.9" cy="769.5" r="2.1"/>
<circle class="c3" cx="302" cy="717.4" r="2.1"/>
<circle class="c0" cx="135.3" cy="733.7" r="2.1"/>
<circle class="c5" cx="402.2" cy="804.8" r="2.1"/>
<circle class="c8" cx="460" cy="834.8" r="2.1"/>
<circle class="c5" cx="411.1" cy="850.4" r="2.1"/>
<circle class="c1" cx="232.3" cy="704.9" r="2.1"/>
<circle class="c1" cx="213.3" cy="874.9" r="2.1"/>
<circle class="c0" cx="137.1" cy="836.5" r="2.1"/>
<circle class="c1" cx="194.1" cy="928.4" r="2.1"/>
<circle class="c4" cx="396.1" cy="751.3" r="2.1"/>
<circle class="c3" cx="361.2" cy="809.1" r="2.1"/>
<circle class="c1" cx="261.5" cy="863.7" r="2.1"/>
<circle class="c12" cx="534.4" cy="867.7" r="2.1"/>
<circle class="c0" cx="115" cy="775" r="2.1"/>
<circle class="c0" cx="193.3" cy="904.7" r="2.1"/>
<circle class="c3" cx="384.6" cy="785.4" r="2.1"/>
<circle class="c6" cx="399.7" cy="844.7" r="2.1"/>
<circle class="c19" cx="507.6" cy="824.2" r="2.1"/>
<circle class="c0" cx="114.3" cy="851.7" r="2.1"/>
<circle class="c0" cx="181.1" cy="802.8" r="2.1"/>
<circle class="c0" cx="152.4" cy="909" r="2.1"/>
<circle class="c12" cx="442.7" cy="907.4" r="2.1"/>
<circle class="c1" cx="277.9" cy="800" r="2.1"/>
<circle class="c5" cx="388.8" cy="762.3" r="2.1"/>
<circle class="c4" cx="327.8" cy="754.3" r="2.1"/>
<circle class="c4" cx="314.5" cy="856.3" r="2.1"/>
<circle class="c0" cx="101.5" cy="820.6" r="2.1"/>
<circle class="c3" cx="385.3" cy="893.7" r="2.1"/>
<circle class="c10" cx="487.3" cy="684.4" r="2.1"/>
<circle class="c0" cx="192.2" cy="951.3" r="2.1"/>
<circle class="c0" cx="137.8" cy="765.7" r="2.1"/>
<circle class="c17" cx="541.3" cy="876.1" r="2.1"/>
<circle class="c1" cx="291.2" cy="816.7" r="2.1"/>
<circle class="c0" cx="134.9" cy="771.1" r="2.1"/>
<circle class="c1" cx="291.2" cy="865.1" r="2.1"/>
<circle class="c0" cx="180.8" cy="784.1" r="2.1"/>
<circle class="c0" cx="107.8" cy="707.3" r="2.1"/>
<circle class="c2" cx="254.5" cy="811.3" r="2.1"/>
<circle class="c2" cx="266.4" cy="774.3" r="2.1"/>
<circle class="c4" cx="387.4" cy="823.6" r="2.1"/>
<circle class="c0" cx="189.1" cy="814.4" r="2.1"/>
<circle class="c0" cx="97.5" cy="650.1" r="2.1"/>
<circle class="c0" cx="165" cy="679.4" r="2.1"/>
<circle class="c0" cx="108" cy="775.8" r="2.1"/>
<circle class="c3" cx="310" cy="812.4" r="2.1"/>
<circle class="c0" cx="110.4" cy="751.2" r="2.1"/>
<circle class="c2" cx="303.3" cy="678.7" r="2.1"/>
<circle class="c0" cx="122.4" cy="772.6" r="2.1"/>
<circle class="c8" cx="473" cy="783.8" r="2.1"/>
<circle class="c0" cx="132.5" cy="992.6" r="2.1"/>
<circle class="c2" cx="309.6" cy="825.2" r="2.1"/>
<circle class="c0" cx="98.9" cy="758.8" r="2.1"/>
<circle class="c0" cx="170.9" cy="798.5" r="2.1"/>
<circle class="c20" cx="501.1" cy="779.9" r="2.1"/>
<circle class="c6" cx="400.4" cy="723.8" r="2.1"/>
<circle class="c6" cx="367.6" cy="736.1" r="2.1"/>
<circle class="c3" cx="306.5" cy="813" r="2.1"/>
<circle class="c5" cx="379.3" cy="641.1" r="2.1"/>
<circle class="c1" cx="204.5" cy="788.3" r="2.1"/>
<circle class="c20" cx="568.4" cy="731.7" r="2.1"/>
<circle class="c0" cx="190.5" cy="811.4" r="2.1"/>
<circle class="c0" cx="200.8" cy="850.5" r="2.1"/>
<circle class="c1" cx="247.1" cy="761.8" r="2.1"/>
<circle class="c3" cx="341.9" cy="775.1" r="2.1"/>
<circle class="c2" cx="338.9" cy="726.2" r="2.1"/>
<circle class="c0" cx="102.5" cy="830.5" r="2.1"/>
<circle class="c2" cx="334.9" cy="822.2" r="2.1"/>
<circle class="c1" cx="235.1" cy="689" r="2.1"/>
<circle class="c2" cx="245.5" cy="702.3" r="2.1"/>
<circle class="c0" cx="132.4" cy="889.8" r="2.1"/>
<circle class="c1" cx="273" cy="932.9" r="2.1"/>
<circle class="c2" cx="291" cy="799.6" r="2.1"/>
<circle class="c0" cx="158.7" cy="803.3" r="2.1"/>
<circle class="c1" cx="222" cy="753.2" r="2.1"/>
<circle class="c1" cx="207.7" cy="839" r="2.1"/>
<circle class="c2" cx="295.9" cy="787.6" r="2.1"/>
<circle class="c0" cx="136.7" cy="736.2" r="2.1"/>
<circle class="c7" cx="374.7" cy="850.8" r="2.1"/>
<circle class="c7" cx="413.7" cy="817.7" r="2.1"/>
<circle class="c2" cx="315.4" cy="685.4" r="2.1"/>
<circle class="c0" cx="187.9" cy="817.6" r="2.1"/>
<circle class="c4" cx="341.3" cy="815.8" r="2.1"/>
<circle class="c1" cx="261.9" cy="826.8" r="2.1"/>
<circle class="c0" cx="106.1" cy="759" r="2.1"/>
<circle class="c4" cx="415.6" cy="901.2" r="2.1"/>
<circle class="c0" cx="161.3" cy="668.4" r="2.1"/>
<circle class="c2" cx="257.2" cy="893.5" r="2.1"/>
<circle class="c0" cx="185.8" cy="774.2" r="2.1"/>
<circle class="c12" cx="439" cy="839.7" r="2.1"/>
<circle class="c1" cx="227.8" cy="705.8" r="2.1"/>
<circle class="c3" cx="346.1" cy="779.2" r="2.1"/>
<circle class="c1" cx="198.5" cy="842.5" r="2.1"/>
<circle class="c0" cx="188.9" cy="811.4" r="2.1"/>
<circle class="c1" cx="276.7" cy="691.8" r="2.1"/>
<circle class="c0" cx="112.2" cy="755.9" r="2.1"/>
<circle class="c7" cx="463.7" cy="770.6" r="2.1"/>
<circle class="c14" cx="489.7" cy="872.5" r="2.1"/>
<circle class="c0" cx="186.2" cy="778.2" r="2.1"/>
<circle class="c16" cx="516.1" cy="792.3" r="2.1"/>
<circle class="c1" cx="223.8" cy="805.3" r="2.1"/>
<circle class="c11" cx="491.7" cy="786.7" r="2.1"/>
<circle class="c2" cx="347.1" cy="852.9" r="2.1"/>
<circle class="c5" cx="423.9" cy="819.1" r="2.1"/>
<circle class="c2" cx="307.4" cy="885.1" r="2.1"/>
<circle class="c0" cx="106.1" cy="852.8" r="2.1"/>
<circle class="c0" cx="185.6" cy="772" r="2.1"/>
<circle class="c4" cx="322.4" cy="773.9" r="2.1"/>
<circle class="c0" cx="134" cy="784.4" r="2.1"/>
<circle class="c0" cx="169.3" cy="906.3" r="2.1"/>
<circle class="c0" cx="99.2" cy="864.9" r="2.1"/>
<circle class="c1" cx="201.7" cy="858.6" r="2.1"/>
<circle class="c3" cx="300.9" cy="832" r="2.1"/>
<circle class="c6" cx="363.8" cy="703.8" r="2.1"/>
<circle class="c0" cx="161.5" cy="935.6" r="2.1"/>
<circle class="c6" cx="363.4" cy="780.3" r="2.1"/>
<circle class="c12" cx="493.3" cy="706.3" r="2.1"/>
<circle class="c0" cx="185.8" cy="789.6" r="2.1"/>
<circle class="c2" cx="299.9" cy="768.6" r="2.1"/>
<circle class="c14" cx="545" cy="806.2" r="2.1"/>
<circle class="c0" cx="185.8" cy="703.2" r="2.1"/>
<circle class="c0" cx="106.3" cy="824.5" r="2.1"/>
<circle class="c12" cx="539.5" cy="782.3" r="2.1"/>
<circle class="c7" cx="431" cy="761.8" r="2.1"/>
<circle class="c0" cx="118.1" cy="834.6" r="2.1"/>
<circle class="c13" cx="493.8" cy="745.3" r="2.1"/>
<circle class="c3" cx="355.7" cy="783.9" r="2.1"/>
<circle class="c1" cx="274.3" cy="810.6" r="2.1"/>
<circle class="c1" cx="206.1" cy="786.7" r="2.1"/>
<circle class="c17" cx="505.4" cy="784.1" r="2.1"/>
<circle class="c0" cx="188.5" cy="759.5" r="2.1"/>
<circle class="c1" cx="287.5" cy="896.8" r="2.1"/>
<circle class="c6" cx="357.8" cy="738.5" r="2.1"/>
<circle class="c4" cx="377.7" cy="767.9" r="2.1"/>
<circle class="c0" cx="188.6" cy="734.4" r="2.1"/>
<circle class="c0" cx="104.5" cy="819.5" r="2.1"/>
<circle class="c12" cx="441.1" cy="842.1" r="2.1"/>
<circle class="c1" cx="215" cy="641.6" r="2.1"/>
<circle class="c13" cx="523.7" cy="709.2" r="2.1"/>
<circle class="c1" cx="228.6" cy="769.7" r="2.1"/>
<circle class="c9" cx="427.1" cy="895.6" r="2.1"/>
<circle class="c8" cx="431.2" cy="849.5" r="2.1"/>
<circle class="c17" cx="497.2" cy="810.2" r="2.1"/>
<circle class="c1" cx="276.5" cy="806.4" r="2.1"/>
<circle class="c3" cx="383.9" cy="796.6" r="2.1"/>
<circle class="c0" cx="175.9" cy="770.1" r="2.1"/>
<circle class="c2" cx="285.3" cy="833.6" r="2.1"/>
<circle class="c0" cx="189.1" cy="848.1" r="2.1"/>
<circle class="c1" cx="203.2" cy="825.9" r="2.1"/>
<circle class="c1" cx="242.1" cy="800.8" r="2.1"/>
<circle class="c0" cx="137.8" cy="757.7" r="2.1"/>
<circle class="c0" cx="118.8" cy="823" r="2.1"/>
<circle class="c0" cx="134.3" cy="780.2" r="2.1"/>
<circle class="c6" cx="445.7" cy="683.1" r="2.1"/>
<circle class="c3" cx="331.8" cy="869.1" r="2.1"/>
<circle class="c21" cx="597.9" cy="829.7" r="2.1"/>
<circle class="c2" cx="326.7" cy="730.4" r="2.1"/>
<circle class="c2" cx="303.9" cy="674" r="2.1"/>
<circle class="c10" cx="450.7" cy="805.8" r="2.1"/>
<circle class="c1" cx="270" cy="828.9" r="2.1"/>
<circle class="c0" cx="157.9" cy="911.8" r="2.1"/>
<circle class="c1" cx="281.7" cy="874.3" r="2.1"/>
<circle class="c7" cx="426.7" cy="809.4" r="2.1"/>
<circle class="c0" cx="102.9" cy="843.3" r="2.1"/>
<circle class="c0" cx="128.7" cy="819.6" r="2.1"/>
<circle class="c0" cx="202.8" cy="743.7" r="2.1"/>
<circle class="c0" cx="171.6" cy="814.3" r="2.1"/>
<circle class="c14" cx="551.6" cy="803.9" r="2.1"/>
<circle class="c9" cx="458.2" cy="753.9" r="2.1"/>
<circle class="c2" cx="335.1" cy="847.2" r="2.1"/>
<circle class="c0" cx="185.6" cy="868.9" r="2.1"/>
<circle class="c0" cx="172.3" cy="814.3" r="2.1"/>
<circle class="c1" cx="268.1" cy="842.6" r="2.1"/>
<circle class="c0" cx="165.4" cy="848.6" r="2.1"/>
<circle class="c1" cx="268.4" cy="711.3" r="2.1"/>
<circle class="c0" cx="173.4" cy="778.5" r="2.1"/>
<circle class="c3" cx="335" cy="651.4" r="2.1"/>
<circle class="c2" cx="346.6" cy="897.2" r="2.1"/>
<circle class="c11" cx="526.4" cy="810.1" r="2.1"/>
<circle class="c0" cx="155.1" cy="938.9" r="2.1"/>
<circle class="c4" cx="404.7" cy="833.5" r="2.1"/>
<circle class="c0" cx="146.3" cy="705.1" r="2.1"/>
<circle class="c0" cx="167.2" cy="776" r="2.1"/>
<circle class="c11" cx="435.6" cy="852.2" r="2.1"/>
<circle class="c4" cx="415.9" cy="754" r="2.1"/>
<circle class="c3" cx="358.3" cy="840.3" r="2.1"/>
<circle class="c0" cx="190.2" cy="777.6" r="2.1"/>
<circle class="c1" cx="194.7" cy="755.5" r="2.1"/>
<circle class="c6" cx="390.2" cy="821.4" r="2.1"/>
<circle class="c0" cx="123.3" cy="865.5" r="2.1"/>
<circle class="c0" cx="157.1" cy="816.6" r="2.1"/>
<circle class="c0" cx="183.5" cy="797.9" r="2.1"/>
<circle class="c6" cx="381.9" cy="784.5" r="2.1"/>
<circle class="c2" cx="255.6" cy="863.6" r="2.1"/>
<circle class="c6" cx="402.9" cy="750.8" r="2.1"/>
<circle class="c3" cx="375.1" cy="864.9" r="2.1"/>
<circle class="c6" cx="459.8" cy="765.7" r="2.1"/>
<circle class="c2" cx="286.6" cy="876" r="2.1"/>
<circle class="c10" cx="485.6" cy="663.8" r="2.1"/>
<circle class="c4" cx="397.7" cy="814.6" r="2.1"/>
<circle class="c1" cx="279" cy="776" r="2.1"/>
<circle class="c2" cx="262.1" cy="777.8" r="2.1"/>
<circle class="c4" cx="339.9" cy="691.4" r="2.1"/>
<circle class="c8" cx="444.8" cy="762.4" r="2.1"/>
<circle class="c10" cx="430.9" cy="801.6" r="2.1"/>
<circle class="c3" cx="322.1" cy="969.3" r="2.1"/>
<circle class="c4" cx="408.5" cy="902.1" r="2.1"/>
<circle class="c0" cx="124.3" cy="804.7" r="2.1"/>
<circle class="c4" cx="383.3" cy="829.7" r="2.1"/>
<circle class="c3" cx="357.6" cy="773.3" r="2.1"/>
<circle class="c2" cx="322.3" cy="765" r="2.1"/>
<circle class="c1" cx="286" cy="919.9" r="2.1"/>
<circle class="c8" cx="488" cy="889.6" r="2.1"/>
<circle class="c2" cx="324" cy="730.5" r="2.1"/>
<circle class="c0" cx="154.8" cy="830.2" r="2.1"/>
<circle class="c6" cx="398" cy="761.3" r="2.1"/>
<circle class="c1" cx="221.8" cy="738.3" r="2.1"/>
<circle class="c7" cx="379.1" cy="839" r="2.1"/>
<circle class="c2" cx="344.5" cy="922.5" r="2.1"/>
<circle class="c2" cx="295.6" cy="813.3" r="2.1"/>
<circle class="c0" cx="149.5" cy="853.4" r="2.1"/>
<circle class="c0" cx="173.7" cy="778.1" r="2.1"/>
<circle class="c0" cx="193.5" cy="807.7" r="2.1"/>
<circle class="c5" cx="393.8" cy="818.6" r="2.1"/>
<circle class="c9" cx="411.1" cy="851.7" r="2.1"/>
<circle class="c0" cx="114" cy="727.3" r="2.1"/>
<circle class="c5" cx="389.3" cy="896.9" r="2.1"/>
<circle class="c0" cx="141.9" cy="837.3" r="2.1"/>
<circle class="c1" cx="230.9" cy="834.7" r="2.1"/>
<circle class="c0" cx="133.3" cy="742.8" r="2.1"/>
<circle class="c4" cx="329.8" cy="768.7" r="2.1"/>
<circle class="c1" cx="246.3" cy="671.6" r="2.1"/>
<circle class="c1" cx="232.9" cy="680.6" r="2.1"/>
<circle class="c7" cx="399.4" cy="724.1" r="2.1"/>
<circle class="c7" cx="444.3" cy="839.1" r="2.1"/>
<circle class="c6" cx="418.4" cy="850" r="2.1"/>
<circle class="c0" cx="139.9" cy="712.9" r="2.1"/>
<circle class="c27" cx="569.3" cy="768.7" r="2.1"/>
<circle class="c0" cx="117" cy="869.5" r="2.1"/>
<circle class="c0" cx="145.8" cy="747.9" r="2.1"/>
<circle class="c7" cx="476.7" cy="658.4" r="2.1"/>
<circle class="c0" cx="143.2" cy="872.2" r="2.1"/>
<circle class="c5" cx="381.5" cy="751.2" r="2.1"/>
<circle class="c0" cx="192.9" cy="700.9" r="2.1"/>
<circle class="c1" cx="268.9" cy="877.7" r="2.1"/>
<circle class="c1" cx="248.3" cy="786.3" r="2.1"/>
<circle class="c7" cx="409" cy="904.6" r="2.1"/>
<circle class="c1" cx="270.5" cy="739.4" r="2.1"/>
<circle class="c10" cx="478.4" cy="839.4" r="2.1"/>
<circle class="c0" cx="155.8" cy="757.9" r="2.1"/>
<circle class="c6" cx="377" cy="771.7" r="2.1"/>
<circle class="c19" cx="579.9" cy="746.7" r="2.1"/>
<circle class="c1" cx="259.3" cy="736.9" r="2.1"/>
<circle class="c2" cx="288.1" cy="741.5" r="2.1"/>
<circle class="c1" cx="267.4" cy="792" r="2.1"/>
<circle class="c26" cx="590.9" cy="827" r="2.1"/>
<circle class="c7" cx="429.8" cy="806.2" r="2.1"/>
<circle class="c0" cx="192.4" cy="798.1" r="2.1"/>
<circle class="c2" cx="260.2" cy="749.9" r="2.1"/>
<circle class="c2" cx="331.4" cy="805.9" r="2.1"/>
<circle class="c0" cx="189.5" cy="837.9" r="2.1"/>
<circle class="c0" cx="123.7" cy="814.3" r="2.1"/>
<circle class="c0" cx="180.4" cy="690.8" r="2.1"/>
<circle class="c6" cx="379.9" cy="709.5" r="2.1"/>
<circle class="c5" cx="393.4" cy="817.9" r="2.1"/>
<circle class="c8" cx="452.7" cy="727.6" r="2.1"/>
<circle class="c2" cx="248" cy="832.2" r="2.1"/>
<circle class="c12" cx="513.1" cy="931.5" r="2.1"/>
<circle class="c2" cx="342.2" cy="804.9" r="2.1"/>
<circle class="c0" cx="193.6" cy="832.5" r="2.1"/>
<circle class="c0" cx="103.8" cy="824.7" r="2.1"/>
<circle class="c1" cx="215.5" cy="844.3" r="2.1"/>
<circle class="c0" cx="186.8" cy="857.8" r="2.1"/>
<circle class="c0" cx="197.5" cy="620.1" r="2.1"/>
<circle class="c0" cx="203" cy="838.8" r="2.1"/>
<circle class="c0" cx="172.3" cy="748.3" r="2.1"/>
<circle class="c1" cx="288.2" cy="797.5" r="2.1"/>
<circle class="c0" cx="123.3" cy="842.5" r="2.1"/>
<circle class="c0" cx="169.9" cy="730.4" r="2.1"/>
<circle class="c15" cx="489.8" cy="784.2" r="2.1"/>
<circle class="c1" cx="211.6" cy="793.4" r="2.1"/>
<circle class="c0" cx="165.6" cy="868.8" r="2.1"/>
<circle class="c0" cx="191.3" cy="861.7" r="2.1"/>
<circle class="c14" cx="530.3" cy="795.9" r="2.1"/>
<circle class="c1" cx="291.8" cy="838.8" r="2.1"/>
<circle class="c0" cx="174.5" cy="804.1" r="2.1"/>
<circle class="c1" cx="232.4" cy="807.9" r="2.1"/>
<circle class="c19" cx="526.9" cy="804.7" r="2.1"/>
<circle class="c1" cx="199.5" cy="760.1" r="2.1"/>
<circle class="c3" cx="324" cy="866.4" r="2.1"/>
<circle class="c0" cx="202.2" cy="783.1" r="2.1"/>
<circle class="c0" cx="109.5" cy="765.8" r="2.1"/>
<circle class="c0" cx="177.9" cy="664.4" r="2.1"/>
<circle class="c2" cx="303.1" cy="788.4" r="2.1"/>
<circle class="c0" cx="200" cy="798.2" r="2.1"/>
<circle class="c7" cx="477.9" cy="798.5" r="2.1"/>
<circle class="c0" cx="132.5" cy="985.1" r="2.1"/>
<circle class="c2" cx="319.2" cy="813" r="2.1"/>
<circle class="c0" cx="144.2" cy="777.1" r="2.1"/>
<circle class="c1" cx="194.6" cy="831.4" r="2.1"/>
<circle class="c1" cx="252.5" cy="771.1" r="2.1"/>
<circle class="c0" cx="179.4" cy="863.5" r="2.1"/>
<circle class="c1" cx="266.7" cy="888.7" r="2.1"/>
<circle class="c1" cx="252.9" cy="781.4" r="2.1"/>
<circle class="c0" cx="160.2" cy="857.9" r="2.1"/>
<circle class="c14" cx="496" cy="839" r="2.1"/>
<circle class="c0" cx="166.1" cy="810" r="2.1"/>
<circle class="c3" cx="385.3" cy="760" r="2.1"/>
<circle class="c0" cx="180.3" cy="710.5" r="2.1"/>
<circle class="c2" cx="346.9" cy="825.3" r="2.1"/>
<circle class="c0" cx="186.7" cy="798.7" r="2.1"/>
<circle class="c1" cx="261.9" cy="849.6" r="2.1"/>
<circle class="c4" cx="367.1" cy="777.5" r="2.1"/>
<circle class="c7" cx="461.4" cy="764.2" r="2.1"/>
<circle class="c3" cx="375.6" cy="866.4" r="2.1"/>
<circle class="c7" cx="446.3" cy="691.6" r="2.1"/>
<circle class="c5" cx="391.2" cy="731.1" r="2.1"/>
<circle class="c0" cx="148.5" cy="874.1" r="2.1"/>
<circle class="c1" cx="280.1" cy="804.8" r="2.1"/>
<circle class="c3" cx="296.5" cy="789.3" r="2.1"/>
<circle class="c3" cx="339.7" cy="857.2" r="2.1"/>
<circle class="c0" cx="152.2" cy="827" r="2.1"/>
<circle class="c1" cx="280" cy="846.7" r="2.1"/>
<circle class="c1" cx="238.3" cy="885.3" r="2.1"/>
<circle class="c1" cx="285.5" cy="790.5" r="2.1"/>
<circle class="c2" cx="287.3" cy="848.2" r="2.1"/>
<circle class="c6" cx="363.1" cy="859.5" r="2.1"/>
<circle class="c0" cx="199.4" cy="725.5" r="2.1"/>
<circle class="c8" cx="436.3" cy="939.7" r="2.1"/>
<circle class="c0" cx="110.4" cy="785.9" r="2.1"/>
<circle class="c0" cx="180.9" cy="807.1" r="2.1"/>
<circle class="c0" cx="165.5" cy="841.1" r="2.1"/>
<circle class="c1" cx="226.2" cy="829" r="2.1"/>
<circle class="c3" cx="320.8" cy="783.7" r="2.1"/>
<circle class="c3" cx="348" cy="690.4" r="2.1"/>
<circle class="c4" cx="382.9" cy="889.4" r="2.1"/>
<circle class="c26" cx="636.5" cy="767.4" r="2.1"/>
<circle class="c6" cx="408.5" cy="782.6" r="2.1"/>
<circle class="c6" cx="433.3" cy="727.9" r="2.1"/>
<circle class="c1" cx="261.9" cy="774.1" r="2.1"/>
<circle class="c0" cx="180.3" cy="835.9" r="2.1"/>
<circle class="c3" cx="298" cy="765.3" r="2.1"/>
<circle class="c4" cx="413.8" cy="823.1" r="2.1"/>
<circle class="c5" cx="371.4" cy="741.2" r="2.1"/>
<circle class="c4" cx="332.9" cy="674.8" r="2.1"/>
<circle class="c5" cx="351.3" cy="705" r="2.1"/>
<circle class="c0" cx="171.8" cy="718.4" r="2.1"/>
<circle class="c3" cx="336.4" cy="712.5" r="2.1"/>
<circle class="c2" cx="256.9" cy="713.1" r="2.1"/>
<circle class="c2" cx="284.9" cy="759.8" r="2.1"/>
<circle class="c2" cx="303.3" cy="709.2" r="2.1"/>
<circle class="c0" cx="127.2" cy="716.7" r="2.1"/>
<circle class="c0" cx="107.3" cy="734.7" r="2.1"/>
<circle class="c1" cx="270.6" cy="907.3" r="2.1"/>
<circle class="c4" cx="411.4" cy="825.6" r="2.1"/>
<circle class="c0" cx="123.8" cy="810.9" r="2.1"/>
<circle class="c3" cx="330.1" cy="740.2" r="2.1"/>
<circle class="c19" cx="574.7" cy="735.3" r="2.1"/>
<circle class="c4" cx="405.6" cy="890" r="2.1"/>
<circle class="c2" cx="305.4" cy="819.3" r="2.1"/>
<circle class="c4" cx="331.2" cy="893.7" r="2.1"/>
<circle class="c2" cx="253.9" cy="753.6" r="2.1"/>
<circle class="c2" cx="264.8" cy="782.6" r="2.1"/>
<circle class="c1" cx="282.7" cy="758.3" r="2.1"/>
<circle class="c4" cx="394.8" cy="870.1" r="2.1"/>
<circle class="c2" cx="339.2" cy="714" r="2.1"/>
<circle class="c15" cx="518.5" cy="779.5" r="2.1"/>
<circle class="c0" cx="98.7" cy="887.5" r="2.1"/>
<circle class="c0" cx="146.4" cy="771.3" r="2.1"/>
<circle class="c0" cx="152.6" cy="878.2" r="2.1"/>
<circle class="c0" cx="180.3" cy="790.9" r="2.1"/>
<circle class="c7" cx="401.6" cy="738.5" r="2.1"/>
<circle class="c5" cx="392.4" cy="667.1" r="2.1"/>
<circle class="c0" cx="128.8" cy="780.7" r="2.1"/>
<circle class="c2" cx="327.8" cy="818" r="2.1"/>
<circle class="c3" cx="282.4" cy="852.9" r="2.1"/>
<circle class="c0" cx="194.8" cy="972.8" r="2.1"/>
<circle class="c1" cx="214.8" cy="873.5" r="2.1"/>
<circle class="c6" cx="426.2" cy="927.5" r="2.1"/>
<circle class="c4" cx="351.6" cy="834.7" r="2.1"/>
<circle class="c0" cx="112.2" cy="745.2" r="2.1"/>
<circle class="c0" cx="123.8" cy="761" r="2.1"/>
<circle class="c0" cx="161.6" cy="800.1" r="2.1"/>
<circle class="c2" cx="308.8" cy="831.2" r="2.1"/>
<circle class="c3" cx="309.1" cy="724.8" r="2.1"/>
<circle class="c0" cx="175" cy="881.8" r="2.1"/>
<circle class="c1" cx="229.4" cy="820" r="2.1"/>
<circle class="c0" cx="174.8" cy="692.5" r="2.1"/>
<circle class="c22" cx="568.8" cy="741.1" r="2.1"/>
<circle class="c0" cx="127.1" cy="732.2" r="2.1"/>
<circle class="c3" cx="320.1" cy="803.8" r="2.1"/>
<circle class="c25" cx="614.3" cy="779" r="2.1"/>
<circle class="c2" cx="245.8" cy="822.3" r="2.1"/>
<circle class="c0" cx="162.4" cy="862.8" r="2.1"/>
<circle class="c3" cx="307.4" cy="870" r="2.1"/>
<circle class="c1" cx="238.4" cy="829.4" r="2.1"/>
<circle class="c0" cx="141.7" cy="737.6" r="2.1"/>
<circle class="c1" cx="245.3" cy="784.4" r="2.1"/>
<circle class="c0" cx="179.9" cy="821.5" r="2.1"/>
<circle class="c0" cx="195.9" cy="893.9" r="2.1"/>
<circle class="c1" cx="266.6" cy="799.4" r="2.1"/>
<circle class="c2" cx="299.3" cy="881.9" r="2.1"/>
<circle class="c3" cx="340.6" cy="783.6" r="2.1"/>
<circle class="c0" cx="108.9" cy="876.2" r="2.1"/>
<circle class="c1" cx="248.6" cy="844" r="2.1"/>
<circle class="c4" cx="328.5" cy="759.7" r="2.1"/>
<circle class="c6" cx="420.4" cy="877.3" r="2.1"/>
<circle class="c0" cx="198.3" cy="817.8" r="2.1"/>
<circle class="c4" cx="325.7" cy="819.7" r="2.1"/>
<circle class="c29" cx="569.4" cy="863.9" r="2.1"/>
<circle class="c0" cx="113.3" cy="750.5" r="2.1"/>
<circle class="c5" cx="437.4" cy="813.6" r="2.1"/>
<circle class="c0" cx="118.5" cy="823.8" r="2.1"/>
<circle class="c2" cx="325.2" cy="735.9" r="2.1"/>
<circle class="c12" cx="478.1" cy="756.9" r="2.1"/>
<circle class="c5" cx="389.4" cy="715.8" r="2.1"/>
<circle class="c0" cx="172.8" cy="872.5" r="2.1"/>
<circle class="c5" cx="417.3" cy="789" r="2.1"/>
<circle class="c9" cx="454.7" cy="816.4" r="2.1"/>
<circle class="c3" cx="336.4" cy="835.9" r="2.1"/>
<circle class="c0" cx="189.2" cy="834.3" r="2.1"/>
<circle class="c15" cx="558.9" cy="804.8" r="2.1"/>
<circle class="c7" cx="396.5" cy="949.4" r="2.1"/>
<circle class="c25" cx="618.1" cy="800.4" r="2.1"/>
<circle class="c0" cx="132.7" cy="805.7" r="2.1"/>
<circle class="c0" cx="115.8" cy="888.7" r="2.1"/>
<circle class="c2" cx="338.7" cy="816.7" r="2.1"/>
<circle class="c0" cx="112.6" cy="700.2" r="2.1"/>
<circle class="c0" cx="203.3" cy="821.9" r="2.1"/>
<circle class="c1" cx="244.3" cy="722.2" r="2.1"/>
<circle class="c23" cx="587.7" cy="882.3" r="2.1"/>
<circle class="c9" cx="428.2" cy="711.7" r="2.1"/>
<circle class="c0" cx="119.3" cy="795.4" r="2.1"/>
<circle class="c2" cx="321.3" cy="855.7" r="2.1"/>
<circle class="c0" cx="168.2" cy="687.8" r="2.1"/>
<circle class="c10" cx="474.1" cy="849.9" r="2.1"/>
<circle class="c2" cx="343.4" cy="836" r="2.1"/>
<circle class="c4" cx="344.2" cy="835.2" r="2.1"/>
<circle class="c21" cx="607.2" cy="722" r="2.1"/>
<circle class="c5" cx="392.7" cy="792.7" r="2.1"/>
<circle class="c0" cx="167" cy="744.5" r="2.1"/>
<circle class="c3" cx="330.6" cy="736.3" r="2.1"/>
<circle class="c3" cx="363.2" cy="810.2" r="2.1"/>
<circle class="c2" cx="290" cy="673.8" r="2.1"/>
<circle class="c4" cx="391.4" cy="683.9" r="2.1"/>
<circle class="c4" cx="409.3" cy="868.4" r="2.1"/>
<circle class="c0" cx="177.1" cy="785.7" r="2.1"/>
<circle class="c1" cx="248.9" cy="742.7" r="2.1"/>
<circle class="c0" cx="115.2" cy="903.1" r="2.1"/>
<circle class="c0" cx="202.5" cy="901" r="2.1"/>
<circle class="c1" cx="253.3" cy="794" r="2.1"/>
<circle class="c0" cx="122.1" cy="870.8" r="2.1"/>
<circle class="c0" cx="116.2" cy="761.7" r="2.1"/>
<circle class="c7" cx="475.4" cy="796.2" r="2.1"/>
<circle class="c1" cx="284.6" cy="734.5" r="2.1"/>
<circle class="c2" cx="292.2" cy="637.1" r="2.1"/>
<circle class="c0" cx="188.7" cy="869.5" r="2.1"/>
<circle class="c15" cx="535.1" cy="774.6" r="2.1"/>
<circle class="c12" cx="506" cy="806.3" r="2.1"/>
<circle class="c1" cx="285.5" cy="824.5" r="2.1"/>
<circle class="c2" cx="259.6" cy="794.2" r="2.1"/>
<circle class="c0" cx="130.2" cy="819.6" r="2.1"/>
<circle class="c3" cx="330.3" cy="807.5" r="2.1"/>
<circle class="c3" cx="336.9" cy="872.7" r="2.1"/>
<circle class="c1" cx="247.2" cy="872.3" r="2.1"/>
<circle class="c19" cx="511.1" cy="831.8" r="2.1"/>
<circle class="c1" cx="209.3" cy="744.2" r="2.1"/>
<circle class="c0" cx="153.5" cy="781.7" r="2.1"/>
<circle class="c1" cx="238.7" cy="797" r="2.1"/>
<circle class="c4" cx="347.1" cy="755.8" r="2.1"/>
<circle class="c8" cx="461.8" cy="754" r="2.1"/>
<circle class="c1" cx="294.3" cy="906.4" r="2.1"/>
<circle class="c1" cx="282.4" cy="799.2" r="2.1"/>
<circle class="c23" cx="569.7" cy="775.5" r="2.1"/>
<circle class="c0" cx="198.7" cy="772.1" r="2.1"/>
<circle class="c2" cx="251.3" cy="841.3" r="2.1"/>
<circle class="c3" cx="359.6" cy="837.9" r="2.1"/>
<circle class="c0" cx="157.6" cy="727.2" r="2.1"/>
<circle class="c1" cx="245.7" cy="834" r="2.1"/>
<circle class="c9" cx="469.1" cy="776.2" r="2.1"/>
<circle class="c1" cx="255.4" cy="767.2" r="2.1"/>
<circle class="c5" cx="339.3" cy="866.1" r="2.1"/>
<circle class="c0" cx="182.3" cy="733.6" r="2.1"/>
<circle class="c5" cx="384.3" cy="792" r="2.1"/>
<circle class="c0" cx="199.7" cy="810.1" r="2.1"/>
<circle class="c8" cx="485.4" cy="832.3" r="2.1"/>
<circle class="c0" cx="194.1" cy="858.3" r="2.1"/>
<circle class="c0" cx="147.4" cy="820.4" r="2.1"/>
<circle class="c4" cx="356.5" cy="760.1" r="2.1"/>
<circle class="c6" cx="438.6" cy="838.5" r="2.1"/>
<circle class="c0" cx="151.3" cy="838.5" r="2.1"/>
<circle class="c0" cx="201.2" cy="745.8" r="2.1"/>
<circle class="c2" cx="319.3" cy="843.2" r="2.1"/>
<circle class="c0" cx="120" cy="816.7" r="2.1"/>
<circle class="c4" cx="404.3" cy="871.2" r="2.1"/>
<circle class="c13" cx="514.6" cy="767.1" r="2.1"/>
<circle class="c3" cx="302.3" cy="716.7" r="2.1"/>
<circle class="c0" cx="159.4" cy="823.2" r="2.1"/>
<circle class="c1" cx="218.6" cy="717.2" r="2.1"/>
<circle class="c4" cx="316.2" cy="763.4" r="2.1"/>
<circle class="c3" cx="289.5" cy="763.6" r="2.1"/>
<circle class="c1" cx="270.4" cy="811.8" r="2.1"/>
<circle class="c2" cx="270.1" cy="900.7" r="2.1"/>
<circle class="c5" cx="355" cy="775.3" r="2.1"/>
<circle class="c6" cx="360.3" cy="816.6" r="2.1"/>
<circle class="c5" cx="379.7" cy="799.8" r="2.1"/>
<circle class="c0" cx="127.9" cy="790.8" r="2.1"/>
<circle class="c8" cx="396.8" cy="759.6" r="2.1"/>
<circle class="c8" cx="465.4" cy="788.4" r="2.1"/>
<circle class="c5" cx="429.7" cy="776.9" r="2.1"/>
<circle class="c2" cx="283.8" cy="750.3" r="2.1"/>
<circle class="c1" cx="229.8" cy="918.7" r="2.1"/>
<circle class="c1" cx="213.7" cy="734.7" r="2.1"/>
<circle class="c5" cx="379.2" cy="865.6" r="2.1"/>
<circle class="c8" cx="396.6" cy="672.8" r="2.1"/>
<circle class="c1" cx="196.2" cy="815.1" r="2.1"/>
<circle class="c2" cx="279.1" cy="909.6" r="2.1"/>
<circle class="c0" cx="120" cy="744.5" r="2.1"/>
<circle class="c2" cx="289.5" cy="757.9" r="2.1"/>
<circle class="c11" cx="447.5" cy="765.9" r="2.1"/>
<circle class="c4" cx="316.4" cy="832.4" r="2.1"/>
<circle class="c3" cx="377.5" cy="865.5" r="2.1"/>
<circle class="c26" cx="561" cy="793.6" r="2.1"/>
<circle class="c1" cx="233.2" cy="835.8" r="2.1"/>
<circle class="c1" cx="277" cy="842.4" r="2.1"/>
<circle class="c0" cx="176.9" cy="735.7" r="2.1"/>
<circle class="c0" cx="172.7" cy="896.3" r="2.1"/>
<circle class="c0" cx="114.9" cy="732.2" r="2.1"/>
<circle class="c7" cx="401" cy="926.6" r="2.1"/>
<circle class="c2" cx="269.1" cy="811" r="2.1"/>
<circle class="c6" cx="381.9" cy="728.1" r="2.1"/>
<circle class="c8" cx="391" cy="773.9" r="2.1"/>
<circle class="c0" cx="190.6" cy="733.5" r="2.1"/>
<circle class="c0" cx="150.3" cy="732.9" r="2.1"/>
<circle class="c1" cx="222.4" cy="895.1" r="2.1"/>
<circle class="c3" cx="381.9" cy="791.2" r="2.1"/>
<circle class="c7" cx="468.1" cy="816.4" r="2.1"/>
<circle class="c1" cx="201.6" cy="888.7" r="2.1"/>
<circle class="c4" cx="367.2" cy="868.5" r="2.1"/>
<circle class="c4" cx="395" cy="694.7" r="2.1"/>
<circle class="c0" cx="156.8" cy="728.6" r="2.1"/>
<circle class="c0" cx="136.5" cy="849.4" r="2.1"/>
<circle class="c3" cx="308.7" cy="844" r="2.1"/>
<circle class="c9" cx="454.2" cy="784.6" r="2.1"/>
<circle class="c0" cx="162.5" cy="874.4" r="2.1"/>
<circle class="c0" cx="199.9" cy="858.7" r="2.1"/>
<circle class="c0" cx="109.1" cy="747.6" r="2.1"/>
<circle class="c6" cx="413.3" cy="734.2" r="2.1"/>
<circle class="c0" cx="162.2" cy="807.8" r="2.1"/>
<circle class="c2" cx="329.3" cy="808.2" r="2.1"/>
<circle class="c2" cx="307.8" cy="865.2" r="2.1"/>
<circle class="c4" cx="381.6" cy="774.6" r="2.1"/>
<circle class="c4" cx="340.9" cy="917" r="2.1"/>
<circle class="c0" cx="106.8" cy="851.9" r="2.1"/>
<circle class="c0" cx="113" cy="839.1" r="2.1"/>
<circle class="c3" cx="286.6" cy="781.4" r="2.1"/>
<circle class="c0" cx="122.2" cy="852.6" r="2.1"/>
<circle class="c4" cx="363.4" cy="896.5" r="2.1"/>
<circle class="c0" cx="155.1" cy="731.7" r="2.1"/>
<circle class="c2" cx="254.5" cy="816.3" r="2.1"/>
<circle class="c4" cx="329.9" cy="819.9" r="2.1"/>
<circle class="c10" cx="445.1" cy="808.9" r="2.1"/>
<circle class="c0" cx="119.7" cy="779.5" r="2.1"/>
<circle class="c1" cx="205" cy="778.8" r="2.1"/>
<circle class="c1" cx="238.3" cy="871" r="2.1"/>
<circle class="c2" cx="262.5" cy="812.8" r="2.1"/>
<circle class="c5" cx="346.8" cy="869.9" r="2.1"/>
<circle class="c1" cx="192.7" cy="863.7" r="2.1"/>
<circle class="c7" cx="461.4" cy="840.5" r="2.1"/>
<circle class="c12" cx="519.6" cy="835.2" r="2.1"/>
<circle class="c1" cx="234.9" cy="785" r="2.1"/>
<circle class="c0" cx="103.8" cy="739.3" r="2.1"/>
<circle class="c3" cx="283.8" cy="831" r="2.1"/>
<circle class="c0" cx="176.4" cy="881.8" r="2.1"/>
<circle class="c0" cx="124" cy="723.3" r="2.1"/>
<circle class="c0" cx="113.2" cy="900.4" r="2.1"/>
<circle class="c9" cx="412.4" cy="867.7" r="2.1"/>
<circle class="c0" cx="146.7" cy="793.1" r="2.1"/>
<circle class="c3" cx="330" cy="794.5" r="2.1"/>
<circle class="c1" cx="285.7" cy="831" r="2.1"/>
<circle class="c0" cx="115.5" cy="791.7" r="2.1"/>
<circle class="c0" cx="113.4" cy="824.2" r="2.1"/>
<circle class="c3" cx="330.3" cy="801.9" r="2.1"/>
<circle class="c10" cx="448.2" cy="719.7" r="2.1"/>
<circle class="c11" cx="428.1" cy="830.8" r="2.1"/>
<circle class="c1" cx="191.4" cy="870.5" r="2.1"/>
<circle class="c1" cx="217.4" cy="907.8" r="2.1"/>
<circle class="c2" cx="330.4" cy="709.3" r="2.1"/>
<circle class="c4" cx="339.7" cy="935" r="2.1"/>
<circle class="c3" cx="298.1" cy="788.7" r="2.1"/>
<circle class="c3" cx="302.1" cy="848.2" r="2.1"/>
<circle class="c0" cx="193.2" cy="755.4" r="2.1"/>
<circle class="c15" cx="498.6" cy="859.8" r="2.1"/>
<circle class="c0" cx="169.8" cy="765.8" r="2.1"/>
<circle class="c0" cx="103.3" cy="781.3" r="2.1"/>
<circle class="c18" cx="542.4" cy="713" r="2.1"/>
<circle class="c0" cx="178.9" cy="850.7" r="2.1"/>
<circle class="c3" cx="347.4" cy="790.6" r="2.1"/>
<circle class="c4" cx="358.3" cy="787.1" r="2.1"/>
<circle class="c0" cx="162.9" cy="870.2" r="2.1"/>
<circle class="c1" cx="214.3" cy="765" r="2.1"/>
<circle class="c5" cx="419.8" cy="862.8" r="2.1"/>
<circle class="c4" cx="369.3" cy="755.6" r="2.1"/>
<circle class="c4" cx="377.2" cy="869.5" r="2.1"/>
<circle class="c9" cx="485.9" cy="826.4" r="2.1"/>
<circle class="c4" cx="341.8" cy="917.2" r="2.1"/>
<circle class="c2" cx="296.8" cy="801.7" r="2.1"/>
<circle class="c0" cx="200.2" cy="805.8" r="2.1"/>
<circle class="c9" cx="430.7" cy="766.3" r="2.1"/>
<circle class="c6" cx="384.2" cy="785" r="2.1"/>
<circle class="c0" cx="158.1" cy="773.5" r="2.1"/>
<circle class="c0" cx="147.2" cy="805.9" r="2.1"/>
<circle class="c5" cx="360.4" cy="708" r="2.1"/>
<circle class="c1" cx="205.6" cy="910.9" r="2.1"/>
<circle class="c1" cx="213" cy="800.8" r="2.1"/>
<circle class="c2" cx="293.7" cy="772.3" r="2.1"/>
<circle class="c1" cx="226.6" cy="792.4" r="2.1"/>
<circle class="c3" cx="333.6" cy="766.7" r="2.1"/>
<circle class="c0" cx="144" cy="799.1" r="2.1"/>
<circle class="c0" cx="154.8" cy="759.2" r="2.1"/>
<circle class="c0" cx="181.3" cy="777.2" r="2.1"/>
<circle class="c4" cx="359.7" cy="804.3" r="2.1"/>
<circle class="c0" cx="196.9" cy="904.4" r="2.1"/>
<circle class="c0" cx="141.3" cy="720.2" r="2.1"/>
<circle class="c0" cx="169.9" cy="850" r="2.1"/>
<circle class="c0" cx="140.4" cy="742.6" r="2.1"/>
<circle class="c1" cx="237.9" cy="796" r="2.1"/>
<circle class="c0" cx="201.9" cy="794" r="2.1"/>
<circle class="c0" cx="194.6" cy="926.1" r="2.1"/>
<circle class="c1" cx="198.9" cy="689.1" r="2.1"/>
<circle class="c8" cx="455.3" cy="800.9" r="2.1"/>
<circle class="c5" cx="378.8" cy="724.1" r="2.1"/>
<circle class="c5" cx="374.6" cy="840.2" r="2.1"/>
<circle class="c1" cx="202.1" cy="831.8" r="2.1"/>
<circle class="c6" cx="412.1" cy="791.8" r="2.1"/>
<circle class="c5" cx="366.2" cy="880.7" r="2.1"/>
<circle class="c4" cx="359.7" cy="795.9" r="2.1"/>
<circle class="c0" cx="119.8" cy="857.2" r="2.1"/>
<circle class="c6" cx="434.7" cy="839.3" r="2.1"/>
<circle class="c5" cx="401.6" cy="850.6" r="2.1"/>
<circle class="c5" cx="435.8" cy="792.4" r="2.1"/>
<circle class="c2" cx="250" cy="712" r="2.1"/>
<circle class="c3" cx="308.9" cy="798.6" r="2.1"/>
<circle class="c1" cx="204.3" cy="770" r="2.1"/>
<circle class="c10" cx="455.4" cy="830.1" r="2.1"/>
<circle class="c11" cx="527.1" cy="801" r="2.1"/>
<circle class="c7" cx="465.6" cy="797.5" r="2.1"/>
<circle class="c0" cx="152.4" cy="854.3" r="2.1"/>
<circle class="c7" cx="475.1" cy="830.8" r="2.1"/>
<circle class="c1" cx="219.9" cy="881.8" r="2.1"/>
<circle class="c3" cx="321.7" cy="728.3" r="2.1"/>
<circle class="c5" cx="365" cy="783.4" r="2.1"/>
<circle class="c11" cx="455.2" cy="791.3" r="2.1"/>
<circle class="c15" cx="485.4" cy="831.5" r="2.1"/>
<circle class="c5" cx="352.2" cy="833.2" r="2.1"/>
<circle class="c8" cx="399.7" cy="758" r="2.1"/>
<circle class="c1" cx="231.5" cy="979.6" r="2.1"/>
<circle class="c0" cx="159.9" cy="793.6" r="2.1"/>
<circle class="c4" cx="368.7" cy="801.1" r="2.1"/>
<circle class="c0" cx="137.1" cy="733.4" r="2.1"/>
<circle class="c0" cx="172.8" cy="839.5" r="2.1"/>
<circle class="c3" cx="377.9" cy="740.7" r="2.1"/>
<circle class="c1" cx="243.7" cy="771.1" r="2.1"/>
<circle class="c16" cx="522.7" cy="681.3" r="2.1"/>
<circle class="c0" cx="104.8" cy="815.4" r="2.1"/>
<circle class="c0" cx="125.9" cy="649.4" r="2.1"/>
<circle class="c0" cx="151.2" cy="851.4" r="2.1"/>
<circle class="c0" cx="155.7" cy="958" r="2.1"/>
<circle class="c0" cx="153.8" cy="887.7" r="2.1"/>
<circle class="c7" cx="445.5" cy="730.3" r="2.1"/>
<circle class="c0" cx="200.5" cy="741.1" r="2.1"/>
<circle class="c7" cx="373.7" cy="788.8" r="2.1"/>
<circle class="c0" cx="126.7" cy="806.6" r="2.1"/>
<circle class="c3" cx="327.1" cy="745.5" r="2.1"/>
<circle class="c7" cx="390.3" cy="793.6" r="2.1"/>
<circle class="c13" cx="503.9" cy="827" r="2.1"/>
<circle class="c1" cx="207" cy="819.6" r="2.1"/>
<circle class="c1" cx="201.2" cy="896.9" r="2.1"/>
<circle class="c7" cx="400.1" cy="774.5" r="2.1"/>
<circle class="c0" cx="156.5" cy="761.3" r="2.1"/>
<circle class="c1" cx="294.3" cy="843.9" r="2.1"/>
<circle class="c1" cx="257.4" cy="839.7" r="2.1"/>
<circle class="c1" cx="222.6" cy="816.2" r="2.1"/>
<circle class="c6" cx="381.3" cy="740.1" r="2.1"/>
<circle class="c0" cx="196.3" cy="928.9" r="2.1"/>
<circle class="c6" cx="414.2" cy="753.8" r="2.1"/>
<circle class="c3" cx="295.6" cy="827.6" r="2.1"/>
<circle class="c0" cx="164.5" cy="778.4" r="2.1"/>
<circle class="c1" cx="213" cy="814.1" r="2.1"/>
<circle class="c4" cx="385.7" cy="909.5" r="2.1"/>
<circle class="c1" cx="280.6" cy="765.6" r="2.1"/>
<circle class="c0" cx="130.9" cy="693.7" r="2.1"/>
<circle class="c3" cx="372.8" cy="790.8" r="2.1"/>
<circle class="c1" cx="271.7" cy="735.5" r="2.1"/>
<circle class="c0" cx="169.1" cy="814" r="2.1"/>
<circle class="c0" cx="180.3" cy="729.8" r="2.1"/>
<circle class="c2" cx="281.3" cy="776.3" r="2.1"/>
<circle class="c28" cx="629.6" cy="787.6" r="2.1"/>
<circle class="c0" cx="103.7" cy="770.9" r="2.1"/>
<circle class="c14" cx="479" cy="750.5" r="2.1"/>
<circle class="c15" cx="549.5" cy="828.1" r="2.1"/>
<circle class="c1" cx="228.6" cy="817.4" r="2.1"/>
<circle class="c0" cx="170" cy="840.6" r="2.1"/>
<circle class="c3" cx="356.9" cy="705.7" r="2.1"/>
<circle class="c0" cx="182.4" cy="903.9" r="2.1"/>
<circle class="c6" cx="386" cy="820.4" r="2.1"/>
<circle class="c1" cx="206.4" cy="834.1" r="2.1"/>
<circle class="c1" cx="219.7" cy="882" r="2.1"/>
<circle class="c0" cx="120.1" cy="826.1" r="2.1"/>
<circle class="c3" cx="297.2" cy="703.6" r="2.1"/>
<circle class="c0" cx="151.2" cy="836.5" r="2.1"/>
<circle class="c14" cx="506.7" cy="743.5" r="2.1"/>
<circle class="c1" cx="215.2" cy="695" r="2.1"/>
<circle class="c22" cx="538.6" cy="705" r="2.1"/>
<circle class="c8" cx="476.2" cy="711.2" r="2.1"/>
<circle class="c3" cx="307.4" cy="760.9" r="2.1"/>
<circle class="c5" cx="361.7" cy="909.7" r="2.1"/>
<circle class="c1" cx="263.7" cy="766.1" r="2.1"/>
<circle class="c4" cx="320" cy="822.4" r="2.1"/>
<circle class="c1" cx="197.5" cy="772.6" r="2.1"/>
<circle class="c1" cx="282.5" cy="702.5" r="2.1"/>
<circle class="c1" cx="266.4" cy="711.4" r="2.1"/>
<circle class="c24" cx="622.2" cy="779.2" r="2.1"/>
<circle class="c8" cx="423.6" cy="727.9" r="2.1"/>
<circle class="c0" cx="149.8" cy="691.3" r="2.1"/>
<circle class="c1" cx="211.9" cy="780.1" r="2.1"/>
<circle class="c2" cx="291.1" cy="706.6" r="2.1"/>
<circle class="c0" cx="200.6" cy="690.9" r="2.1"/>
<circle class="c8" cx="426.4" cy="734.5" r="2.1"/>
<circle class="c6" cx="377.3" cy="846.8" r="2.1"/>
<circle class="c0" cx="103.8" cy="852.7" r="2.1"/>
<circle class="c3" cx="369.7" cy="755.7" r="2.1"/>
<circle class="c1" cx="281.7" cy="813.2" r="2.1"/>
<circle class="c9" cx="458.1" cy="803.7" r="2.1"/>
<circle class="c11" cx="430.4" cy="716.8" r="2.1"/>
<circle class="c6" cx="383.3" cy="757.5" r="2.1"/>
<circle class="c0" cx="136.2" cy="777" r="2.1"/>
<circle class="c12" cx="443.3" cy="825" r="2.1"/>
<circle class="c3" cx="379.1" cy="853.2" r="2.1"/>
<circle class="c3" cx="358.9" cy="857.1" r="2.1"/>
<circle class="c0" cx="119.4" cy="762.9" r="2.1"/>
<circle class="c0" cx="114" cy="846.3" r="2.1"/>
<circle class="c11" cx="521.2" cy="874.1" r="2.1"/>
<circle class="c2" cx="287.2" cy="722.6" r="2.1"/>
<circle class="c7" cx="440.7" cy="888.7" r="2.1"/>
<circle class="c0" cx="138.6" cy="773.2" r="2.1"/>
<circle class="c4" cx="322.5" cy="826.6" r="2.1"/>
<circle class="c1" cx="243.1" cy="873.2" r="2.1"/>
<circle class="c3" cx="284.8" cy="735" r="2.1"/>
<circle class="c4" cx="403.6" cy="895.7" r="2.1"/>
<circle class="c0" cx="162.4" cy="732.7" r="2.1"/>
<circle class="c7" cx="417.9" cy="868.5" r="2.1"/>
<circle class="c3" cx="352.3" cy="843.6" r="2.1"/>
<circle class="c1" cx="212.6" cy="863.6" r="2.1"/>
<circle class="c1" cx="284.9" cy="811.5" r="2.1"/>
<circle class="c0" cx="124.6" cy="817.8" r="2.1"/>
<circle class="c0" cx="131" cy="787.9" r="2.1"/>
<circle class="c0" cx="111.3" cy="776.2" r="2.1"/>
<circle class="c0" cx="141" cy="765.3" r="2.1"/>
<circle class="c1" cx="288.3" cy="818.5" r="2.1"/>
<circle class="c12" cx="448.5" cy="750.6" r="2.1"/>
<circle class="c0" cx="143" cy="757.4" r="2.1"/>
<circle class="c0" cx="183.6" cy="820.3" r="2.1"/>
<circle class="c5" cx="370.6" cy="749.9" r="2.1"/>
<circle class="c3" cx="361.3" cy="840" r="2.1"/>
<circle class="c7" cx="437.7" cy="874" r="2.1"/>
<circle class="c4" cx="322.7" cy="799.3" r="2.1"/>
<circle class="c1" cx="280.8" cy="789.1" r="2.1"/>
<circle class="c2" cx="331.2" cy="832.6" r="2.1"/>
<circle class="c2" cx="299.5" cy="812.7" r="2.1"/>
<circle class="c2" cx="274.7" cy="739.7" r="2.1"/>
<circle class="c3" cx="341.2" cy="786.3" r="2.1"/>
<circle class="c4" cx="390.9" cy="786.8" r="2.1"/>
<circle class="c0" cx="145.1" cy="774.1" r="2.1"/>
<circle class="c1" cx="236.6" cy="790.9" r="2.1"/>
<circle class="c0" cx="168.9" cy="776" r="2.1"/>
<circle class="c10" cx="504.8" cy="840.9" r="2.1"/>
<circle class="c1" cx="272" cy="815.3" r="2.1"/>
<circle class="c0" cx="137.8" cy="820.6" r="2.1"/>
<circle class="c2" cx="254.5" cy="728.5" r="2.1"/>
<circle class="c1" cx="209.8" cy="833.7" r="2.1"/>
<circle class="c11" cx="459.6" cy="799.3" r="2.1"/>
<circle class="c1" cx="200.3" cy="770.1" r="2.1"/>
<circle class="c4" cx="356.4" cy="778.1" r="2.1"/>
<circle class="c1" cx="271.7" cy="764.5" r="2.1"/>
<circle class="c2" cx="326" cy="793.6" r="2.1"/>
<circle class="c2" cx="291.6" cy="792.6" r="2.1"/>
<circle class="c1" cx="294" cy="805.4" r="2.1"/>
<circle class="c7" cx="412.6" cy="814.3" r="2.1"/>
<circle class="c0" cx="178.7" cy="911.1" r="2.1"/>
<circle class="c6" cx="384.3" cy="909.9" r="2.1"/>
<circle class="c7" cx="382.2" cy="730.5" r="2.1"/>
<circle class="c4" cx="315.8" cy="773.7" r="2.1"/>
<circle class="c0" cx="181" cy="778.3" r="2.1"/>
<circle class="c0" cx="199.7" cy="781.8" r="2.1"/>
<circle class="c0" cx="166.5" cy="749.9" r="2.1"/>
<circle class="c6" cx="374.8" cy="773.4" r="2.1"/>
<circle class="c12" cx="487" cy="745.3" r="2.1"/>
<circle class="c3" cx="325.3" cy="754.1" r="2.1"/>
<circle class="c1" cx="227" cy="840.3" r="2.1"/>
<circle class="c3" cx="292.7" cy="809.3" r="2.1"/>
<circle class="c4" cx="373.3" cy="833.9" r="2.1"/>
<circle class="c6" cx="392.1" cy="792.5" r="2.1"/>
<circle class="c3" cx="356" cy="810.8" r="2.1"/>
<circle class="c6" cx="375.2" cy="734.9" r="2.1"/>
<circle class="c3" cx="336.8" cy="848.4" r="2.1"/>
<circle class="c1" cx="198.7" cy="650.9" r="2.1"/>
<circle class="c7" cx="446" cy="878.4" r="2.1"/>
<circle class="c0" cx="124" cy="696" r="2.1"/>
<circle class="c1" cx="281.1" cy="763.8" r="2.1"/>
<circle class="c1" cx="238.6" cy="821.8" r="2.1"/>
<circle class="c4" cx="345.8" cy="806.7" r="2.1"/>
<circle class="c5" cx="384.6" cy="748.4" r="2.1"/>
<circle class="c5" cx="339.9" cy="776.5" r="2.1"/>
<circle class="c1" cx="289.4" cy="735.4" r="2.1"/>
<circle class="c0" cx="167" cy="806.5" r="2.1"/>
<circle class="c1" cx="213.7" cy="836.9" r="2.1"/>
<circle class="c4" cx="338.4" cy="810.1" r="2.1"/>
<circle class="c4" cx="346.5" cy="852.5" r="2.1"/>
<circle class="c2" cx="295.7" cy="690.2" r="2.1"/>
<circle class="c0" cx="188.7" cy="767.4" r="2.1"/>
<circle class="c3" cx="340.6" cy="869.8" r="2.1"/>
<circle class="c1" cx="288.1" cy="815.6" r="2.1"/>
<circle class="c7" cx="390.3" cy="782.8" r="2.1"/>
<circle class="c1" cx="270.9" cy="822.1" r="2.1"/>
<circle class="c0" cx="199.4" cy="735.2" r="2.1"/>
<circle class="c0" cx="110.5" cy="740.9" r="2.1"/>
<circle class="c0" cx="183.1" cy="921" r="2.1"/>
<circle class="c19" cx="537.3" cy="838.7" r="2.1"/>
<circle class="c1" cx="218.1" cy="743.1" r="2.1"/>
<circle class="c13" cx="460.2" cy="735.9" r="2.1"/>
<circle class="c4" cx="353.6" cy="857.9" r="2.1"/>
<circle class="c4" cx="393.5" cy="746.2" r="2.1"/>
<circle class="c0" cx="115.6" cy="830.3" r="2.1"/>
<circle class="c2" cx="323.1" cy="758.3" r="2.1"/>
<circle class="c2" cx="311.8" cy="697" r="2.1"/>
<circle class="c0" cx="113.4" cy="794.5" r="2.1"/>
<circle class="c0" cx="192.4" cy="766.7" r="2.1"/>
<circle class="c0" cx="147.3" cy="850.8" r="2.1"/>
<circle class="c0" cx="163.1" cy="842.9" r="2.1"/>
<circle class="c0" cx="102.1" cy="894.9" r="2.1"/>
<circle class="c0" cx="143.7" cy="775.3" r="2.1"/>
<circle class="c2" cx="251.5" cy="776.2" r="2.1"/>
<circle class="c0" cx="173.2" cy="905.6" r="2.1"/>
<circle class="c4" cx="375.6" cy="820.6" r="2.1"/>
<circle class="c3" cx="347.6" cy="832.4" r="2.1"/>
<circle class="c2" cx="272.6" cy="890.2" r="2.1"/>
<circle class="c0" cx="149.3" cy="835.9" r="2.1"/>
<circle class="c0" cx="164.2" cy="822.8" r="2.1"/>
<circle class="c7" cx="466.2" cy="825.4" r="2.1"/>
<circle class="c2" cx="265.8" cy="726.4" r="2.1"/>
<circle class="c0" cx="175.9" cy="848.9" r="2.1"/>
<circle class="c1" cx="213.9" cy="846" r="2.1"/>
<circle class="c0" cx="201.5" cy="843.7" r="2.1"/>
<circle class="c9" cx="475.6" cy="793.2" r="2.1"/>
<circle class="c1" cx="231.9" cy="725.7" r="2.1"/>
<circle class="c4" cx="324.9" cy="659.5" r="2.1"/>
<circle class="c5" cx="438.6" cy="935.1" r="2.1"/>
<circle class="c7" cx="465.9" cy="824.5" r="2.1"/>
<circle class="c1" cx="208.8" cy="839.9" r="2.1"/>
<circle class="c1" cx="291.8" cy="848.6" r="2.1"/>
<circle class="c0" cx="196.6" cy="847.8" r="2.1"/>
<circle class="c8" cx="439.3" cy="754.5" r="2.1"/>
<circle class="c5" cx="389.3" cy="793.3" r="2.1"/>
<circle class="c1" cx="231.8" cy="837.7" r="2.1"/>
<circle class="c13" cx="519.4" cy="871.8" r="2.1"/>
<circle class="c0" cx="112.9" cy="777" r="2.1"/>
<circle class="c0" cx="102.6" cy="730.6" r="2.1"/>
<circle class="c0" cx="149.9" cy="760.9" r="2.1"/>
<circle class="c0" cx="121.6" cy="837.4" r="2.1"/>
<circle class="c3" cx="351" cy="895.6" r="2.1"/>
<circle class="c26" cx="587.9" cy="767.2" r="2.1"/>
<circle class="c13" cx="472.4" cy="671.8" r="2.1"/>
<circle class="c11" cx="434.3" cy="748.6" r="2.1"/>
<circle class="c0" cx="158.8" cy="786.4" r="2.1"/>
<circle class="c2" cx="271.9" cy="824.6" r="2.1"/>
<circle class="c1" cx="221.7" cy="835.3" r="2.1"/>
<circle class="c3" cx="353.3" cy="827.7" r="2.1"/>
<circle class="c3" cx="380.1" cy="866.6" r="2.1"/>
<circle class="c12" cx="494.5" cy="772.4" r="2.1"/>
<circle class="c0" cx="121.5" cy="790.4" r="2.1"/>
<circle class="c3" cx="377.4" cy="782.3" r="2.1"/>
<circle class="c4" cx="330.1" cy="823.8" r="2.1"/>
<circle class="c0" cx="119" cy="840.9" r="2.1"/>
<circle class="c3" cx="317" cy="902.6" r="2.1"/>
<circle class="c0" cx="134.5" cy="777.8" r="2.1"/>
<circle class="c10" cx="421.9" cy="757.7" r="2.1"/>
<circle class="c12" cx="530.1" cy="886.3" r="2.1"/>
<circle class="c8" cx="406.4" cy="826.5" r="2.1"/>
<circle class="c3" cx="333.7" cy="803.4" r="2.1"/>
<circle class="c0" cx="173.5" cy="781.8" r="2.1"/>
<circle class="c0" cx="103.2" cy="775.2" r="2.1"/>
<circle class="c3" cx="385.1" cy="702.1" r="2.1"/>
<circle class="c0" cx="194" cy="810.9" r="2.1"/>
<circle class="c5" cx="420" cy="906.2" r="2.1"/>
<circle class="c1" cx="258.5" cy="806.1" r="2.1"/>
<circle class="c0" cx="98.8" cy="708.8" r="2.1"/>
<circle class="c3" cx="381.8" cy="774.1" r="2.1"/>
<circle class="c6" cx="457.4" cy="782.3" r="2.1"/>
<circle class="c0" cx="193.8" cy="829.5" r="2.1"/>
<circle class="c0" cx="124.9" cy="857.8" r="2.1"/>
<circle class="c0" cx="109.1" cy="777.5" r="2.1"/>
<circle class="c0" cx="157.8" cy="735.4" r="2.1"/>
<circle class="c2" cx="308" cy="727.3" r="2.1"/>
<circle class="c3" cx="299.8" cy="867.7" r="2.1"/>
<circle class="c1" cx="204.3" cy="757.1" r="2.1"/>
<circle class="c2" cx="244.8" cy="826.1" r="2.1"/>
<circle class="c1" cx="288.1" cy="791.1" r="2.1"/>
<circle class="c1" cx="233.1" cy="768.4" r="2.1"/>
<circle class="c11" cx="504.8" cy="856.6" r="2.1"/>
<circle class="c0" cx="186.6" cy="792.9" r="2.1"/>
<circle class="c4" cx="367.4" cy="704.3" r="2.1"/>
<circle class="c1" cx="283" cy="754.8" r="2.1"/>
<circle class="c5" cx="398.2" cy="796.4" r="2.1"/>
<circle class="c10" cx="518.5" cy="870.3" r="2.1"/>
<circle class="c7" cx="408.7" cy="812.4" r="2.1"/>
<circle class="c5" cx="388.1" cy="821.4" r="2.1"/>
<circle class="c3" cx="355" cy="795.6" r="2.1"/>
<circle class="c0" cx="103.3" cy="904.7" r="2.1"/>
<circle class="c0" cx="165.1" cy="821.5" r="2.1"/>
<circle class="c7" cx="426.5" cy="834.3" r="2.1"/>
<circle class="c5" cx="410.3" cy="792.6" r="2.1"/>
<circle class="c8" cx="442.9" cy="770.4" r="2.1"/>
<circle class="c2" cx="301.4" cy="793" r="2.1"/>
<circle class="c0" cx="108.8" cy="734.5" r="2.1"/>
<circle class="c1" cx="215.8" cy="795.5" r="2.1"/>
<circle class="c0" cx="149.8" cy="805.7" r="2.1"/>
<circle class="c4" cx="376.9" cy="920" r="2.1"/>
<circle class="c0" cx="192.5" cy="966.9" r="2.1"/>
<circle class="c2" cx="302.8" cy="790.5" r="2.1"/>
<circle class="c2" cx="246.8" cy="850.7" r="2.1"/>
<circle class="c13" cx="546.2" cy="793.6" r="2.1"/>
<circle class="c0" cx="125.3" cy="690.7" r="2.1"/>
<circle class="c1" cx="262.3" cy="791.6" r="2.1"/>
<circle class="c0" cx="145.7" cy="830.1" r="2.1"/>
<circle class="c3" cx="322.3" cy="715.5" r="2.1"/>
<circle class="c0" cx="160.2" cy="824.9" r="2.1"/>
<circle class="c11" cx="478" cy="736.8" r="2.1"/>
<circle class="c5" cx="366.8" cy="745" r="2.1"/>
<circle class="c1" cx="294.6" cy="817.7" r="2.1"/>
<circle class="c13" cx="534.9" cy="834.8" r="2.1"/>
<circle class="c2" cx="284.1" cy="795.4" r="2.1"/>
<circle class="c2" cx="277.1" cy="821.5" r="2.1"/>
<circle class="c2" cx="337" cy="734.7" r="2.1"/>
<circle class="c1" cx="194.9" cy="816.2" r="2.1"/>
<circle class="c8" cx="430.2" cy="757.3" r="2.1"/>
<circle class="c0" cx="175.1" cy="743.5" r="2.1"/>
<circle class="c1" cx="193.9" cy="821.2" r="2.1"/>
<circle class="c0" cx="203.2" cy="748.8" r="2.1"/>
<circle class="c4" cx="414.4" cy="768.6" r="2.1"/>
<circle class="c2" cx="257.7" cy="703" r="2.1"/>
<circle class="c1" cx="276.1" cy="791.6" r="2.1"/>
<circle class="c2" cx="263.3" cy="828.3" r="2.1"/>
<circle class="c4" cx="336" cy="849.3" r="2.1"/>
<circle class="c7" cx="393.4" cy="877.1" r="2.1"/>
<circle class="c14" cx="505.9" cy="826.3" r="2.1"/>
<circle class="c1" cx="291.8" cy="750.8" r="2.1"/>
<circle class="c9" cx="471.5" cy="748.6" r="2.1"/>
<circle class="c0" cx="156.5" cy="808.7" r="2.1"/>
<circle class="c1" cx="231" cy="870.1" r="2.1"/>
<circle class="c4" cx="345.3" cy="796.6" r="2.1"/>
<circle class="c0" cx="169.9" cy="762.6" r="2.1"/>
<circle class="c2" cx="252.7" cy="856.9" r="2.1"/>
<circle class="c13" cx="455.3" cy="801.9" r="2.1"/>
<circle class="c2" cx="326.2" cy="885.4" r="2.1"/>
<circle class="c3" cx="316.4" cy="808.9" r="2.1"/>
<circle class="c0" cx="183" cy="880.5" r="2.1"/>
<circle class="c1" cx="264.2" cy="797.9" r="2.1"/>
<circle class="c1" cx="231.7" cy="851.8" r="2.1"/>
<circle class="c11" cx="434.2" cy="822.9" r="2.1"/>
<circle class="c1" cx="256.6" cy="847.8" r="2.1"/>
<circle class="c9" cx="480.8" cy="835.8" r="2.1"/>
<circle class="c0" cx="105.7" cy="791.5" r="2.1"/>
<circle class="c1" cx="267" cy="797.7" r="2.1"/>
<circle class="c0" cx="127.2" cy="798.2" r="2.1"/>
<circle class="c0" cx="165.8" cy="713.2" r="2.1"/>
<circle class="c9" cx="454.7" cy="742.3" r="2.1"/>
<circle class="c2" cx="252" cy="834.8" r="2.1"/>
<circle class="c2" cx="343.7" cy="786.6" r="2.1"/>
<circle class="c0" cx="134.9" cy="815" r="2.1"/>
<circle class="c8" cx="404.8" cy="693.2" r="2.1"/>
<circle class="c13" cx="526.1" cy="787.3" r="2.1"/>
<circle class="c8" cx="490.9" cy="858" r="2.1"/>
<circle class="c3" cx="298.9" cy="752.7" r="2.1"/>
<circle class="c0" cx="189" cy="653.8" r="2.1"/>
<circle class="c0" cx="177.5" cy="809.1" r="2.1"/>
<circle class="c0" cx="156.8" cy="870.5" r="2.1"/>
<circle class="c0" cx="110.5" cy="784.3" r="2.1"/>
<circle class="c6" cx="355.3" cy="828.4" r="2.1"/>
<circle class="c5" cx="357" cy="799.9" r="2.1"/>
<circle class="c0" cx="186.2" cy="752.4" r="2.1"/>
<circle class="c2" cx="334.9" cy="822.6" r="2.1"/>
<circle class="c1" cx="254" cy="766.6" r="2.1"/>
<circle class="c0" cx="201.8" cy="761.4" r="2.1"/>
<circle class="c3" cx="386" cy="801.8" r="2.1"/>
<circle class="c0" cx="194.4" cy="763.6" r="2.1"/>
<circle class="c0" cx="193.5" cy="712.8" r="2.1"/>
<circle class="c3" cx="314.9" cy="765.7" r="2.1"/>
<circle class="c1" cx="287.3" cy="762.1" r="2.1"/>
<circle class="c1" cx="204.1" cy="761.3" r="2.1"/>
<circle class="c2" cx="256.1" cy="741.1" r="2.1"/>
<circle class="c11" cx="489.2" cy="698.9" r="2.1"/>
<circle class="c1" cx="253.5" cy="784.5" r="2.1"/>
<circle class="c0" cx="101.6" cy="744" r="2.1"/>
<circle class="c0" cx="176.4" cy="843.6" r="2.1"/>
<circle class="c5" cx="345.5" cy="750.9" r="2.1"/>
<circle class="c1" cx="258.9" cy="898.4" r="2.1"/>
<circle class="c0" cx="198.9" cy="947.2" r="2.1"/>
<circle class="c1" cx="211.8" cy="820.2" r="2.1"/>
<circle class="c0" cx="194" cy="738.8" r="2.1"/>
<circle class="c4" cx="412" cy="821.6" r="2.1"/>
<circle class="c1" cx="257.8" cy="808.6" r="2.1"/>
<circle class="c3" cx="337.1" cy="803.6" r="2.1"/>
<circle class="c1" cx="251.5" cy="937.3" r="2.1"/>
<circle class="c5" cx="385.9" cy="826.7" r="2.1"/>
<circle class="c0" cx="145.8" cy="727.4" r="2.1"/>
<circle class="c23" cx="545.9" cy="642" r="2.1"/>
<circle class="c15" cx="518.8" cy="786.7" r="2.1"/>
<circle class="c6" cx="378.7" cy="796" r="2.1"/>
<circle class="c1" cx="258.2" cy="730.6" r="2.1"/>
<circle class="c0" cx="107.1" cy="760.7" r="2.1"/>
<circle class="c5" cx="438.8" cy="747.7" r="2.1"/>
<circle class="c3" cx="377.3" cy="750.9" r="2.1"/>
<circle class="c2" cx="279.2" cy="788.6" r="2.1"/>
<circle class="c4" cx="363.9" cy="783.7" r="2.1"/>
<circle class="c10" cx="505.5" cy="801" r="2.1"/>
<circle class="c16" cx="486" cy="821.6" r="2.1"/>
<circle class="c1" cx="277.6" cy="903.7" r="2.1"/>
<circle class="c0" cx="163.3" cy="786" r="2.1"/>
<circle class="c3" cx="353.2" cy="787.8" r="2.1"/>
<circle class="c0" cx="168.3" cy="715" r="2.1"/>
<circle class="c2" cx="325.1" cy="856.4" r="2.1"/>
<circle class="c0" cx="181.5" cy="762.7" r="2.1"/>
<circle class="c2" cx="327.6" cy="704" r="2.1"/>
<circle class="c0" cx="119.5" cy="890.1" r="2.1"/>
<circle class="c0" cx="195.7" cy="872.9" r="2.1"/>
<circle class="c0" cx="167.7" cy="955.2" r="2.1"/>
<circle class="c0" cx="146.4" cy="796.6" r="2.1"/>
<circle class="c4" cx="369.3" cy="889.1" r="2.1"/>
<circle class="c0" cx="108.3" cy="795.9" r="2.1"/>
<circle class="c0" cx="100.7" cy="847.7" r="2.1"/>
<circle class="c23" cx="536" cy="755.6" r="2.1"/>
<circle class="c7" cx="476.5" cy="787.2" r="2.1"/>
<circle class="c3" cx="365.7" cy="754.8" r="2.1"/>
<circle class="c0" cx="180.5" cy="777.9" r="2.1"/>
<circle class="c1" cx="273.1" cy="765.4" r="2.1"/>
<circle class="c5" cx="351.2" cy="819.5" r="2.1"/>
<circle class="c21" cx="608.9" cy="812.2" r="2.1"/>
<circle class="c0" cx="117.2" cy="812" r="2.1"/>
<circle class="c0" cx="184.9" cy="775.1" r="2.1"/>
<circle class="c0" cx="143" cy="903.2" r="2.1"/>
<circle class="c7" cx="392.4" cy="875" r="2.1"/>
<circle class="c6" cx="410.1" cy="666.6" r="2.1"/>
<circle class="c0" cx="153.4" cy="800.2" r="2.1"/>
<circle class="c1" cx="263.8" cy="726.4" r="2.1"/>
<circle class="c0" cx="197.4" cy="887.4" r="2.1"/>
<circle class="c8" cx="484.9" cy="756.3" r="2.1"/>
<circle class="c0" cx="142.9" cy="773.4" r="2.1"/>
<circle class="c16" cx="484.5" cy="796.2" r="2.1"/>
<circle class="c0" cx="124.7" cy="882.1" r="2.1"/>
<circle class="c2" cx="315.9" cy="798.9" r="2.1"/>
<circle class="c8" cx="404.2" cy="854.2" r="2.1"/>
<circle class="c2" cx="273.5" cy="718.9" r="2.1"/>
<circle class="c0" cx="174.7" cy="802.9" r="2.1"/>
<circle class="c9" cx="436.1" cy="858.1" r="2.1"/>
<circle class="c8" cx="456.4" cy="795.1" r="2.1"/>
<circle class="c7" cx="477.6" cy="849.8" r="2.1"/>
<circle class="c0" cx="187.6" cy="759.9" r="2.1"/>
<circle class="c0" cx="154.5" cy="808.3" r="2.1"/>
<circle class="c5" cx="397.7" cy="802.6" r="2.1"/>
<circle class="c3" cx="355.9" cy="765.8" r="2.1"/>
<circle class="c3" cx="317.2" cy="780.6" r="2.1"/>
<circle class="c2" cx="270.8" cy="855.5" r="2.1"/>
<circle class="c0" cx="186.8" cy="796.7" r="2.1"/>
<circle class="c0" cx="113.4" cy="825.1" r="2.1"/>
<circle class="c2" cx="342.8" cy="887.8" r="2.1"/>
<circle class="c2" cx="292" cy="819.3" r="2.1"/>
<circle class="c4" cx="343" cy="761.9" r="2.1"/>
<circle class="c9" cx="467.7" cy="768.1" r="2.1"/>
<circle class="c2" cx="300.2" cy="765" r="2.1"/>
<circle class="c2" cx="245.2" cy="732.9" r="2.1"/>
<circle class="c2" cx="348.3" cy="775.6" r="2.1"/>
<circle class="c0" cx="107.5" cy="729" r="2.1"/>
<circle class="c2" cx="313.5" cy="833.3" r="2.1"/>
<circle class="c0" cx="169.2" cy="748.7" r="2.1"/>
<circle class="c5" cx="387.6" cy="705.5" r="2.1"/>
<circle class="c1" cx="223.8" cy="756.6" r="2.1"/>
<circle class="c1" cx="280" cy="792.6" r="2.1"/>
<circle class="c0" cx="131.9" cy="794.2" r="2.1"/>
<circle class="c4" cx="344.5" cy="791.2" r="2.1"/>
<circle class="c0" cx="187.8" cy="777.3" r="2.1"/>
<circle class="c0" cx="130.9" cy="873.6" r="2.1"/>
<circle class="c22" cx="594.3" cy="705.4" r="2.1"/>
<circle class="c0" cx="129.3" cy="761.3" r="2.1"/>
<circle class="c0" cx="100.7" cy="701.9" r="2.1"/>
<circle class="c4" cx="330.6" cy="858.5" r="2.1"/>
<circle class="c28" cx="555.2" cy="848.4" r="2.1"/>
<circle class="c1" cx="264.1" cy="771.7" r="2.1"/>
<circle class="c3" cx="313.1" cy="736.2" r="2.1"/>
<circle class="c4" cx="369.6" cy="832.2" r="2.1"/>
<circle class="c3" cx="293.2" cy="803.6" r="2.1"/>
<circle class="c1" cx="242.8" cy="761" r="2.1"/>
<circle class="c0" cx="189.1" cy="783.8" r="2.1"/>
<circle class="c2" cx="243.5" cy="675.9" r="2.1"/>
<circle class="c1" cx="217.2" cy="792.6" r="2.1"/>
<circle class="c0" cx="170.3" cy="814.6" r="2.1"/>
<circle class="c29" cx="656" cy="698.6" r="2.1"/>
<circle class="c4" cx="394.8" cy="861.2" r="2.1"/>
<circle class="c7" cx="455.4" cy="773.4" r="2.1"/>
<circle class="c11" cx="489.6" cy="798.1" r="2.1"/>
<circle class="c1" cx="254.1" cy="904.4" r="2.1"/>
<circle class="c0" cx="179.3" cy="757.6" r="2.1"/>
<circle class="c7" cx="445.4" cy="749.1" r="2.1"/>
<circle class="c5" cx="404.4" cy="708.5" r="2.1"/>
<circle class="c2" cx="334" cy="740.8" r="2.1"/>
<circle class="c1" cx="191.3" cy="795.7" r="2.1"/>
<circle class="c6" cx="389.1" cy="872.2" r="2.1"/>
<circle class="c0" cx="103.8" cy="824.4" r="2.1"/>
<circle class="c2" cx="329.7" cy="678.7" r="2.1"/>
<circle class="c11" cx="505.4" cy="728.8" r="2.1"/>
<circle class="c0" cx="177.8" cy="840.5" r="2.1"/>
<circle class="c2" cx="345.2" cy="775" r="2.1"/>
<circle class="c8" cx="485" cy="748.6" r="2.1"/>
<circle class="c1" cx="250.8" cy="833.9" r="2.1"/>
<circle class="c0" cx="183" cy="838.4" r="2.1"/>
<circle class="c4" cx="369.1" cy="827.3" r="2.1"/>
<circle class="c0" cx="164.9" cy="828.1" r="2.1"/>
<circle class="c4" cx="326.9" cy="842.5" r="2.1"/>
<circle class="c20" cx="529.8" cy="816.1" r="2.1"/>
<circle class="c5" cx="361.5" cy="749.8" r="2.1"/>
<circle class="c5" cx="399" cy="831.8" r="2.1"/>
<circle class="c0" cx="117.7" cy="754.5" r="2.1"/>
<circle class="c8" cx="422.7" cy="758.2" r="2.1"/>
<circle class="c16" cx="515.4" cy="839" r="2.1"/>
<circle class="c5" cx="412.3" cy="842.3" r="2.1"/>
<circle class="c2" cx="273.8" cy="821.1" r="2.1"/>
<circle class="c8" cx="478.5" cy="831.9" r="2.1"/>
<circle class="c4" cx="330.7" cy="691.9" r="2.1"/>
<circle class="c1" cx="254.7" cy="824" r="2.1"/>
<circle class="c1" cx="220.1" cy="840.7" r="2.1"/>
<circle class="c1" cx="223.9" cy="851.2" r="2.1"/>
<circle class="c5" cx="360.3" cy="796.2" r="2.1"/>
<circle class="c1" cx="288.4" cy="872.2" r="2.1"/>
<circle class="c2" cx="273.8" cy="814" r="2.1"/>
<circle class="c3" cx="353.3" cy="755.6" r="2.1"/>
<circle class="c0" cx="203" cy="797.6" r="2.1"/>
<circle class="c5" cx="367.5" cy="703.8" r="2.1"/>
<circle class="c18" cx="579.8" cy="793" r="2.1"/>
<circle class="c2" cx="307.1" cy="862.5" r="2.1"/>
<circle class="c0" cx="154.1" cy="795.7" r="2.1"/>
<circle class="c4" cx="318" cy="787.9" r="2.1"/>
<circle class="c3" cx="345.2" cy="749" r="2.1"/>
<circle class="c10" cx="416" cy="688.2" r="2.1"/>
<circle class="c0" cx="142.2" cy="772.4" r="2.1"/>
<circle class="c0" cx="120.6" cy="837.3" r="2.1"/>
<circle class="c1" cx="210.9" cy="775.2" r="2.1"/>
<circle class="c2" cx="296.3" cy="709.8" r="2.1"/>
<circle class="c6" cx="441.3" cy="735.6" r="2.1"/>
<circle class="c2" cx="293.8" cy="810.7" r="2.1"/>
<circle class="c3" cx="340.7" cy="890.1" r="2.1"/>
<circle class="c1" cx="229.8" cy="763.4" r="2.1"/>
<circle class="c2" cx="319.8" cy="835.1" r="2.1"/>
<circle class="c1" cx="295.1" cy="701.3" r="2.1"/>
<circle class="c17" cx="503.4" cy="733.4" r="2.1"/>
<circle class="c0" cx="130.8" cy="723" r="2.1"/>
<circle class="c6" cx="359.4" cy="790.9" r="2.1"/>
<circle class="c5" cx="356.6" cy="775.8" r="2.1"/>
<circle class="c5" cx="408.4" cy="700.8" r="2.1"/>
<circle class="c0" cx="169" cy="819.3" r="2.1"/>
<circle class="c19" cx="541" cy="785.3" r="2.1"/>
<circle class="c23" cx="563.4" cy="817.9" r="2.1"/>
<circle class="c1" cx="277.6" cy="724.8" r="2.1"/>
<circle class="c0" cx="151.1" cy="756.4" r="2.1"/>
<circle class="c4" cx="313.4" cy="814.9" r="2.1"/>
<circle class="c8" cx="458.9" cy="680.5" r="2.1"/>
<circle class="c0" cx="146.8" cy="840.7" r="2.1"/>
<circle class="c4" cx="341" cy="907.9" r="2.1"/>
<circle class="c1" cx="255" cy="758" r="2.1"/>
<circle class="c6" cx="396.3" cy="743.1" r="2.1"/>
<circle class="c5" cx="412.1" cy="856" r="2.1"/>
<circle class="c0" cx="194.9" cy="734.1" r="2.1"/>
<circle class="c1" cx="278.1" cy="784" r="2.1"/>
<circle class="c4" cx="368.1" cy="825.1" r="2.1"/>
<circle class="c0" cx="105.5" cy="793.7" r="2.1"/>
<circle class="c4" cx="322" cy="770" r="2.1"/>
<circle class="c0" cx="113" cy="818.8" r="2.1"/>
<circle class="c0" cx="198" cy="862.2" r="2.1"/>
<circle class="c0" cx="120.7" cy="783.6" r="2.1"/>
<circle class="c0" cx="161.9" cy="913.6" r="2.1"/>
<circle class="c0" cx="157.5" cy="847.7" r="2.1"/>
<circle class="c4" cx="339.9" cy="913.6" r="2.1"/>
<circle class="c4" cx="347.3" cy="850.3" r="2.1"/>
<circle class="c5" cx="393.1" cy="785.9" r="2.1"/>
<circle class="c16" cx="571.7" cy="900.3" r="2.1"/>
<circle class="c7" cx="449.6" cy="833.9" r="2.1"/>
<circle class="c5" cx="339.6" cy="777.9" r="2.1"/>
<circle class="c3" cx="335.1" cy="757" r="2.1"/>
<circle class="c2" cx="311.5" cy="789.8" r="2.1"/>
<circle class="c0" cx="181.9" cy="753.2" r="2.1"/>
<circle class="c10" cx="484.5" cy="779.1" r="2.1"/>
<circle class="c2" cx="291.9" cy="757.6" r="2.1"/>
<circle class="c0" cx="170.9" cy="787.9" r="2.1"/>
<circle class="c1" cx="241.3" cy="722.9" r="2.1"/>
<circle class="c0" cx="128.9" cy="830.5" r="2.1"/>
<circle class="c1" cx="264.8" cy="749" r="2.1"/>
<circle class="c1" cx="231.4" cy="894.6" r="2.1"/>
<circle class="c0" cx="185" cy="832.5" r="2.1"/>
<circle class="c0" cx="183.5" cy="805.5" r="2.1"/>
<circle class="c0" cx="172.1" cy="869.4" r="2.1"/>
<circle class="c1" cx="244.1" cy="762.8" r="2.1"/>
<circle class="c2" cx="265.2" cy="836.1" r="2.1"/>
<circle class="c11" cx="522.8" cy="834.7" r="2.1"/>
<circle class="c2" cx="308.8" cy="744.7" r="2.1"/>
<circle class="c1" cx="242.4" cy="850.4" r="2.1"/>
<circle class="c8" cx="470.9" cy="764.4" r="2.1"/>
<circle class="c0" cx="159.3" cy="791.3" r="2.1"/>
<circle class="c0" cx="173.1" cy="895.3" r="2.1"/>
<circle class="c4" cx="356.8" cy="848.2" r="2.1"/>
<circle class="c1" cx="219.2" cy="851.6" r="2.1"/>
<circle class="c4" cx="329.7" cy="861.3" r="2.1"/>
<circle class="c2" cx="254.4" cy="793.2" r="2.1"/>
<circle class="c0" cx="171.1" cy="914.2" r="2.1"/>
<circle class="c1" cx="219.4" cy="760.4" r="2.1"/>
<circle class="c2" cx="250.9" cy="889" r="2.1"/>
<circle class="c6" cx="368.4" cy="755.6" r="2.1"/>
<circle class="c4" cx="416" cy="765.9" r="2.1"/>
<circle class="c0" cx="164.2" cy="770.2" r="2.1"/>
<circle class="c11" cx="491.2" cy="870.7" r="2.1"/>
<circle class="c3" cx="374.3" cy="824.6" r="2.1"/>
<circle class="c0" cx="199.2" cy="745.4" r="2.1"/>
<circle class="c2" cx="254.9" cy="829.1" r="2.1"/>
<circle class="c9" cx="404.6" cy="744.6" r="2.1"/>
<circle class="c5" cx="342.4" cy="869.7" r="2.1"/>
<circle class="c7" cx="471.7" cy="788.3" r="2.1"/>
<circle class="c6" cx="386.4" cy="752.7" r="2.1"/>
<circle class="c1" cx="283.4" cy="795.3" r="2.1"/>
<circle class="c1" cx="283.8" cy="939.2" r="2.1"/>
<circle class="c0" cx="107.2" cy="788.4" r="2.1"/>
<circle class="c0" cx="195.1" cy="730" r="2.1"/>
<circle class="c0" cx="140.3" cy="845.8" r="2.1"/>
<circle class="c1" cx="212.9" cy="762.9" r="2.1"/>
<circle class="c8" cx="457.6" cy="932.9" r="2.1"/>
<circle class="c4" cx="405.5" cy="801.3" r="2.1"/>
<circle class="c6" cx="371.7" cy="782.6" r="2.1"/>
<circle class="c6" cx="401.5" cy="842.1" r="2.1"/>
<circle class="c5" cx="386.9" cy="719.2" r="2.1"/>
<circle class="c3" cx="331.5" cy="775.8" r="2.1"/>
<circle class="c3" cx="381.3" cy="779.2" r="2.1"/>
<circle class="c4" cx="365.8" cy="690.8" r="2.1"/>
<circle class="c3" cx="312.6" cy="754" r="2.1"/>
<circle class="c0" cx="195.7" cy="789.4" r="2.1"/>
<circle class="c8" cx="461.3" cy="799.7" r="2.1"/>
<circle class="c0" cx="191.3" cy="855.4" r="2.1"/>
<circle class="c1" cx="261.5" cy="707.4" r="2.1"/>
<circle class="c0" cx="180" cy="794.8" r="2.1"/>
<circle class="c0" cx="156.1" cy="823.9" r="2.1"/>
<circle class="c0" cx="203.3" cy="898.9" r="2.1"/>
<circle class="c0" cx="117.6" cy="774.4" r="2.1"/>
<circle class="c3" cx="376.8" cy="825.1" r="2.1"/>
<circle class="c10" cx="488.2" cy="739.6" r="2.1"/>
<circle class="c1" cx="293.4" cy="773" r="2.1"/>
<circle class="c0" cx="202.5" cy="848.8" r="2.1"/>
<circle class="c3" cx="285.5" cy="822.5" r="2.1"/>
<circle class="c7" cx="423.7" cy="809.8" r="2.1"/>
<circle class="c3" cx="346.5" cy="798.2" r="2.1"/>
<circle class="c16" cx="545.8" cy="695.7" r="2.1"/>
<circle class="c0" cx="124.6" cy="900" r="2.1"/>
<circle class="c2" cx="281.1" cy="774.5" r="2.1"/>
<circle class="c0" cx="152.8" cy="818" r="2.1"/>
<circle class="c2" cx="285.3" cy="753.5" r="2.1"/>
<circle class="c4" cx="333.3" cy="820.9" r="2.1"/>
<circle class="c7" cx="459.1" cy="794" r="2.1"/>
<circle class="c2" cx="334.3" cy="836.4" r="2.1"/>
<circle class="c3" cx="284.1" cy="733.8" r="2.1"/>
<circle class="c0" cx="134.6" cy="839.5" r="2.1"/>
<circle class="c3" cx="325.4" cy="818.4" r="2.1"/>
<circle class="c0" cx="121.1" cy="774.4" r="2.1"/>
<circle class="c0" cx="114.4" cy="843.6" r="2.1"/>
<circle class="c0" cx="202.7" cy="887.7" r="2.1"/>
<circle class="c18" cx="566.6" cy="836.8" r="2.1"/>
<circle class="c6" cx="438.8" cy="845.9" r="2.1"/>
<circle class="c0" cx="199" cy="711.9" r="2.1"/>
<circle class="c0" cx="152.4" cy="830.3" r="2.1"/>
<circle class="c5" cx="431.3" cy="832.3" r="2.1"/>
<circle class="c8" cx="432.2" cy="763.6" r="2.1"/>
<circle class="c0" cx="197.2" cy="744.9" r="2.1"/>
<circle class="c3" cx="318.7" cy="664" r="2.1"/>
<circle class="c4" cx="359.5" cy="811.6" r="2.1"/>
<circle class="c0" cx="129.8" cy="895.2" r="2.1"/>
<circle class="c5" cx="389.6" cy="825.7" r="2.1"/>
<circle class="c5" cx="344.2" cy="831.2" r="2.1"/>
<circle class="c11" cx="430.4" cy="670.3" r="2.1"/>
<circle class="c6" cx="460" cy="831" r="2.1"/>
<circle class="c7" cx="467.6" cy="782.3" r="2.1"/>
<circle class="c3" cx="334.4" cy="746.8" r="2.1"/>
<circle class="c4" cx="320.3" cy="835.4" r="2.1"/>
<circle class="c2" cx="265.2" cy="858.6" r="2.1"/>
<circle class="c5" cx="391.6" cy="854.2" r="2.1"/>
<circle class="c0" cx="104.4" cy="846.6" r="2.1"/>
<circle class="c2" cx="270.2" cy="819.1" r="2.1"/>
<circle class="c2" cx="296.9" cy="816.5" r="2.1"/>
<circle class="c1" cx="295" cy="775.6" r="2.1"/>
<circle class="c1" cx="241.1" cy="768.3" r="2.1"/>
<circle class="c0" cx="133" cy="840" r="2.1"/>
<circle class="c6" cx="452.6" cy="771.8" r="2.1"/>
<circle class="c0" cx="112.6" cy="904.1" r="2.1"/>
<circle class="c5" cx="395.6" cy="794.1" r="2.1"/>
<circle class="c0" cx="164.6" cy="877.3" r="2.1"/>
<circle class="c5" cx="407.4" cy="773.8" r="2.1"/>
<circle class="c0" cx="149.3" cy="733.1" r="2.1"/>
<circle class="c1" cx="250.9" cy="717.6" r="2.1"/>
<circle class="c1" cx="269.1" cy="835.2" r="2.1"/>
<circle class="c6" cx="419.7" cy="721.8" r="2.1"/>
<circle class="c3" cx="364.5" cy="712.5" r="2.1"/>
<circle class="c0" cx="118.9" cy="827.1" r="2.1"/>
<circle class="c0" cx="146.9" cy="839.1" r="2.1"/>
<circle class="c3" cx="374.6" cy="855.8" r="2.1"/>
<circle class="c4" cx="386.6" cy="641.6" r="2.1"/>
<circle class="c0" cx="117.9" cy="872" r="2.1"/>
<circle class="c3" cx="296.1" cy="789.8" r="2.1"/>
<circle class="c1" cx="284.6" cy="811.4" r="2.1"/>
<circle class="c0" cx="173.5" cy="967.6" r="2.1"/>
<circle class="c0" cx="195.5" cy="755.1" r="2.1"/>
<circle class="c0" cx="109" cy="893.1" r="2.1"/>
<circle class="c14" cx="550.9" cy="800.8" r="2.1"/>
<circle class="c3" cx="335.6" cy="819.2" r="2.1"/>
<circle class="c0" cx="153.2" cy="744.7" r="2.1"/>
<circle class="c1" cx="293.7" cy="742.6" r="2.1"/>
<circle class="c6" cx="403.7" cy="809.9" r="2.1"/>
<circle class="c0" cx="160" cy="956.6" r="2.1"/>
<circle class="c1" cx="193.4" cy="705.9" r="2.1"/>
<circle class="c10" cx="481.7" cy="856.4" r="2.1"/>
<circle class="c0" cx="117.1" cy="785.1" r="2.1"/>
<circle class="c0" cx="155.2" cy="795.4" r="2.1"/>
<circle class="c0" cx="125.4" cy="742.5" r="2.1"/>
<circle class="c1" cx="192" cy="790.5" r="2.1"/>
<circle class="c12" cx="489.5" cy="619.1" r="2.1"/>
<circle class="c0" cx="157" cy="761.1" r="2.1"/>
<circle class="c19" cx="510.2" cy="776" r="2.1"/>
<circle class="c2" cx="290.9" cy="879" r="2.1"/>
<circle class="c0" cx="189.2" cy="821.9" r="2.1"/>
<circle class="c2" cx="307.5" cy="765.1" r="2.1"/>
<circle class="c1" cx="293" cy="733" r="2.1"/>
<circle class="c0" cx="194.8" cy="860.7" r="2.1"/>
<circle class="c3" cx="342.6" cy="768.2" r="2.1"/>
<circle class="c25" cx="538.5" cy="749.1" r="2.1"/>
<circle class="c0" cx="172.5" cy="919.9" r="2.1"/>
<circle class="c2" cx="251.3" cy="799.4" r="2.1"/>
<circle class="c0" cx="153.1" cy="807.5" r="2.1"/>
<circle class="c15" cx="508.3" cy="779.5" r="2.1"/>
<circle class="c4" cx="355.5" cy="773.3" r="2.1"/>
<circle class="c0" cx="112.4" cy="743.6" r="2.1"/>
<circle class="c0" cx="130.4" cy="795.5" r="2.1"/>
<circle class="c0" cx="196.8" cy="749.4" r="2.1"/>
<circle class="c1" cx="256.5" cy="851.7" r="2.1"/>
<circle class="c8" cx="476.4" cy="724.5" r="2.1"/>
<circle class="c0" cx="148.3" cy="784.3" r="2.1"/>
<circle class="c6" cx="394.8" cy="790" r="2.1"/>
<circle class="c2" cx="293.9" cy="902.3" r="2.1"/>
<circle class="c1" cx="199.4" cy="846.8" r="2.1"/>
<circle class="c3" cx="282.4" cy="851.5" r="2.1"/>
<circle class="c0" cx="110.7" cy="887.9" r="2.1"/>
<circle class="c4" cx="357.1" cy="881.2" r="2.1"/>
<circle class="c3" cx="313" cy="701.6" r="2.1"/>
<circle class="c5" cx="432" cy="843.9" r="2.1"/>
<circle class="c1" cx="279.2" cy="830.5" r="2.1"/>
<circle class="c1" cx="231" cy="724.4" r="2.1"/>
<circle class="c8" cx="466.7" cy="807.5" r="2.1"/>
<circle class="c3" cx="349" cy="731.4" r="2.1"/>
<circle class="c3" cx="338.3" cy="725.5" r="2.1"/>
<circle class="c8" cx="446.4" cy="797.8" r="2.1"/>
<circle class="c9" cx="452.3" cy="749.6" r="2.1"/>
<circle class="c0" cx="178.1" cy="876.9" r="2.1"/>
<circle class="c5" cx="341.4" cy="879.1" r="2.1"/>
<circle class="c4" cx="412.4" cy="740.1" r="2.1"/>
<circle class="c7" cx="423.1" cy="703.3" r="2.1"/>
<circle class="c2" cx="282.7" cy="768.9" r="2.1"/>
<circle class="c1" cx="263.5" cy="536.1" r="2.1"/>
<circle class="c10" cx="513.7" cy="684.8" r="2.1"/>
<circle class="c0" cx="189.2" cy="834.6" r="2.1"/>
<circle class="c12" cx="488.3" cy="925.1" r="2.1"/>
<circle class="c1" cx="294.7" cy="852.8" r="2.1"/>
<circle class="c4" cx="356.6" cy="711.6" r="2.1"/>
<circle class="c0" cx="192.2" cy="781.4" r="2.1"/>
<circle class="c3" cx="311.8" cy="808.9" r="2.1"/>
<circle class="c0" cx="161.2" cy="799.2" r="2.1"/>
<circle class="c0" cx="172.8" cy="645.5" r="2.1"/>
<circle class="c4" cx="325.5" cy="811.4" r="2.1"/>
<circle class="c3" cx="319.2" cy="797.9" r="2.1"/>
<circle class="c18" cx="504.5" cy="849.3" r="2.1"/>
<circle class="c0" cx="185.4" cy="783" r="2.1"/>
<circle class="c0" cx="116.2" cy="795.6" r="2.1"/>
<circle class="c5" cx="381.1" cy="837.9" r="2.1"/>
<circle class="c1" cx="203.8" cy="910.8" r="2.1"/>
<circle class="c2" cx="338.6" cy="772.5" r="2.1"/>
<circle class="c1" cx="206.9" cy="758.3" r="2.1"/>
<circle class="c0" cx="122.1" cy="763.9" r="2.1"/>
<circle class="c6" cx="417.5" cy="733.6" r="2.1"/>
<circle class="c3" cx="386.3" cy="848" r="2.1"/>
<circle class="c4" cx="412" cy="815.8" r="2.1"/>
<circle class="c3" cx="369.8" cy="687.6" r="2.1"/>
<circle class="c5" cx="350.3" cy="772.6" r="2.1"/>
<circle class="c6" cx="459.4" cy="832.8" r="2.1"/>
<circle class="c6" cx="373.9" cy="782" r="2.1"/>
<circle class="c13" cx="467.8" cy="794.9" r="2.1"/>
<circle class="c4" cx="401.2" cy="801.6" r="2.1"/>
<circle class="c2" cx="307.6" cy="746.7" r="2.1"/>
<circle class="c24" cx="584.5" cy="740.2" r="2.1"/>
<circle class="c12" cx="508.7" cy="932.1" r="2.1"/>
<circle class="c1" cx="234.3" cy="807.3" r="2.1"/>
<circle class="c1" cx="256.6" cy="720.7" r="2.1"/>
<circle class="c8" cx="401.8" cy="744.4" r="2.1"/>
<circle class="c0" cx="187.5" cy="826.2" r="2.1"/>
<circle class="c0" cx="158.1" cy="785.4" r="2.1"/>
<circle class="c17" cx="527.5" cy="755.7" r="2.1"/>
<circle class="c3" cx="364.8" cy="779.5" r="2.1"/>
<circle class="c0" cx="168" cy="823.4" r="2.1"/>
<circle class="c4" cx="412.4" cy="802.1" r="2.1"/>
<circle class="c0" cx="147.6" cy="805.7" r="2.1"/>
<circle class="c2" cx="322.1" cy="867.7" r="2.1"/>
<circle class="c8" cx="449.6" cy="713.1" r="2.1"/>
<circle class="c3" cx="365.8" cy="676.7" r="2.1"/>
<circle class="c18" cx="539" cy="776.4" r="2.1"/>
<circle class="c0" cx="111.6" cy="801.7" r="2.1"/>
<circle class="c0" cx="199.8" cy="903.6" r="2.1"/>
<circle class="c2" cx="336.3" cy="736.1" r="2.1"/>
<circle class="c7" cx="419.9" cy="821.8" r="2.1"/>
<circle class="c0" cx="161" cy="768.3" r="2.1"/>
<circle class="c1" cx="283.4" cy="828.7" r="2.1"/>
<circle class="c1" cx="257" cy="797.5" r="2.1"/>
<circle class="c7" cx="473.8" cy="869.9" r="2.1"/>
<circle class="c20" cx="559.8" cy="837" r="2.1"/>
<circle class="c0" cx="146.6" cy="779.6" r="2.1"/>
<circle class="c0" cx="148.7" cy="887.7" r="2.1"/>
<circle class="c0" cx="148.5" cy="763.7" r="2.1"/>
<circle class="c0" cx="197.1" cy="838.5" r="2.1"/>
<circle class="c20" cx="520.5" cy="744.9" r="2.1"/>
<circle class="c5" cx="343.5" cy="806.7" r="2.1"/>
<circle class="c0" cx="179.4" cy="789.1" r="2.1"/>
<circle class="c0" cx="157.1" cy="876.6" r="2.1"/>
<circle class="c4" cx="327.3" cy="738.7" r="2.1"/>
<circle class="c0" cx="171.9" cy="857.6" r="2.1"/>
<circle class="c0" cx="168" cy="848.5" r="2.1"/>
<circle class="c9" cx="418.4" cy="675.5" r="2.1"/>
<circle class="c0" cx="153.3" cy="752.8" r="2.1"/>
<circle class="c0" cx="100.3" cy="941.8" r="2.1"/>
<circle class="c0" cx="128.2" cy="855.5" r="2.1"/>
<circle class="c0" cx="145.1" cy="846.2" r="2.1"/>
<circle class="c1" cx="289.1" cy="820" r="2.1"/>
<circle class="c0" cx="106.5" cy="693.1" r="2.1"/>
<circle class="c3" cx="319.9" cy="839.2" r="2.1"/>
<circle class="c0" cx="191.8" cy="810.7" r="2.1"/>
<circle class="c6" cx="454.7" cy="848.1" r="2.1"/>
<circle class="c5" cx="403.1" cy="780.7" r="2.1"/>
<circle class="c0" cx="157.9" cy="837.6" r="2.1"/>
<circle class="c2" cx="294.7" cy="742.8" r="2.1"/>
<circle class="c10" cx="486.2" cy="787.3" r="2.1"/>
<circle class="c8" cx="436" cy="726.4" r="2.1"/>
<circle class="c0" cx="101" cy="853.9" r="2.1"/>
<circle class="c0" cx="203" cy="737.9" r="2.1"/>
<circle class="c5" cx="424.7" cy="805.9" r="2.1"/>
<circle class="c1" cx="280.6" cy="807" r="2.1"/>
<circle class="c3" cx="347.2" cy="827.5" r="2.1"/>
<circle class="c0" cx="102.6" cy="753.8" r="2.1"/>
<circle class="c0" cx="120.8" cy="822.4" r="2.1"/>
<circle class="c1" cx="271.6" cy="769.7" r="2.1"/>
<circle class="c0" cx="107" cy="808" r="2.1"/>
<circle class="c3" cx="293.1" cy="799.6" r="2.1"/>
<circle class="c17" cx="508.9" cy="762.9" r="2.1"/>
<circle class="c14" cx="513.4" cy="744.1" r="2.1"/>
<circle class="c1" cx="274" cy="827.5" r="2.1"/>
<circle class="c0" cx="187.3" cy="824.3" r="2.1"/>
<circle class="c1" cx="208.7" cy="654.9" r="2.1"/>
<circle class="c19" cx="505.3" cy="789.9" r="2.1"/>
<circle class="c0" cx="100" cy="773.2" r="2.1"/>
<circle class="c0" cx="177.8" cy="834.4" r="2.1"/>
<circle class="c0" cx="134" cy="764.9" r="2.1"/>
<circle class="c4" cx="353.7" cy="887.9" r="2.1"/>
<circle class="c6" cx="393.7" cy="785.7" r="2.1"/>
<circle class="c5" cx="395.5" cy="843.4" r="2.1"/>
<circle class="c1" cx="213.1" cy="853.5" r="2.1"/>
<circle class="c0" cx="160.8" cy="830.3" r="2.1"/>
<circle class="c16" cx="570.1" cy="838.1" r="2.1"/>
<circle class="c0" cx="144.5" cy="795.6" r="2.1"/>
<circle class="c6" cx="380.7" cy="757.5" r="2.1"/>
<circle class="c4" cx="406.9" cy="694.9" r="2.1"/>
<circle class="c0" cx="144.6" cy="782.3" r="2.1"/>
<circle class="c0" cx="151.5" cy="866.5" r="2.1"/>
<circle class="c0" cx="142.2" cy="824.6" r="2.1"/>
<circle class="c0" cx="161.6" cy="948.3" r="2.1"/>
<circle class="c0" cx="119.6" cy="818.4" r="2.1"/>
<circle class="c3" cx="334.2" cy="816.2" r="2.1"/>
<circle class="c2" cx="284.2" cy="902.3" r="2.1"/>
<circle class="c2" cx="277.3" cy="935.1" r="2.1"/>
<circle class="c8" cx="472.8" cy="861.4" r="2.1"/>
<circle class="c0" cx="150.8" cy="899.9" r="2.1"/>
<circle class="c11" cx="436.9" cy="705.1" r="2.1"/>
<circle class="c0" cx="193.7" cy="799" r="2.1"/>
<circle class="c7" cx="455.4" cy="803.7" r="2.1"/>
<circle class="c1" cx="266.5" cy="804.1" r="2.1"/>
<circle class="c0" cx="196.4" cy="705.4" r="2.1"/>
<circle class="c0" cx="117.2" cy="746.3" r="2.1"/>
<circle class="c6" cx="387.4" cy="852" r="2.1"/>
<circle class="c0" cx="164.7" cy="665.7" r="2.1"/>
<circle class="c10" cx="418.2" cy="765.8" r="2.1"/>
<circle class="c6" cx="409.2" cy="782.9" r="2.1"/>
<circle class="c4" cx="360" cy="688.9" r="2.1"/>
<circle class="c0" cx="106.6" cy="831.8" r="2.1"/>
<circle class="c10" cx="438.7" cy="849.6" r="2.1"/>
<circle class="c5" cx="360.1" cy="818.3" r="2.1"/>
<circle class="c1" cx="194" cy="851.6" r="2.1"/>
<circle class="c8" cx="449.6" cy="818.1" r="2.1"/>
<circle class="c2" cx="315" cy="840" r="2.1"/>
<circle class="c0" cx="136.2" cy="771.1" r="2.1"/>
<circle class="c4" cx="351.5" cy="828.8" r="2.1"/>
<circle class="c2" cx="344.7" cy="709.9" r="2.1"/>
<circle class="c0" cx="108.2" cy="808.2" r="2.1"/>
<circle class="c4" cx="323.6" cy="838.7" r="2.1"/>
<circle class="c0" cx="168.9" cy="773.7" r="2.1"/>
<circle class="c0" cx="131.5" cy="760.4" r="2.1"/>
<circle class="c23" cx="577.9" cy="741" r="2.1"/>
<circle class="c0" cx="191.9" cy="801.9" r="2.1"/>
<circle class="c0" cx="113" cy="731.6" r="2.1"/>
<circle class="c0" cx="142.2" cy="764.9" r="2.1"/>
<circle class="c2" cx="295.4" cy="771.4" r="2.1"/>
<circle class="c0" cx="202" cy="806.9" r="2.1"/>
<circle class="c1" cx="240.7" cy="872" r="2.1"/>
<circle class="c6" cx="448.2" cy="741.8" r="2.1"/>
<circle class="c5" cx="402.1" cy="810.3" r="2.1"/>
<circle class="c3" cx="343.7" cy="764.7" r="2.1"/>
<circle class="c3" cx="324.2" cy="752.7" r="2.1"/>
<circle class="c5" cx="373.9" cy="748.3" r="2.1"/>
<circle class="c14" cx="496.9" cy="717.3" r="2.1"/>
<circle class="c2" cx="324.9" cy="743.6" r="2.1"/>
<circle class="c2" cx="253.6" cy="947.2" r="2.1"/>
<circle class="c0" cx="124.1" cy="792.3" r="2.1"/>
<circle class="c2" cx="253.9" cy="815.5" r="2.1"/>
<circle class="c0" cx="141.1" cy="865" r="2.1"/>
<circle class="c0" cx="185.9" cy="810.4" r="2.1"/>
<circle class="c3" cx="359.2" cy="873.2" r="2.1"/>
<circle class="c2" cx="281.7" cy="879.5" r="2.1"/>
<circle class="c1" cx="234.9" cy="838.7" r="2.1"/>
<circle class="c0" cx="139.7" cy="773.8" r="2.1"/>
<circle class="c2" cx="267.3" cy="745.7" r="2.1"/>
<circle class="c0" cx="137.1" cy="651.6" r="2.1"/>
<circle class="c0" cx="114.6" cy="774.8" r="2.1"/>
<circle class="c2" cx="282.8" cy="840.3" r="2.1"/>
<circle class="c5" cx="343.9" cy="746.6" r="2.1"/>
<circle class="c0" cx="147.1" cy="742" r="2.1"/>
<circle class="c21" cx="569.7" cy="753.5" r="2.1"/>
<circle class="c1" cx="286.7" cy="765.4" r="2.1"/>
<circle class="c0" cx="100.2" cy="739.2" r="2.1"/>
<circle class="c3" cx="341.5" cy="930" r="2.1"/>
<circle class="c1" cx="192.9" cy="931.9" r="2.1"/>
<circle class="c4" cx="331.8" cy="776" r="2.1"/>
<circle class="c3" cx="308.2" cy="842.8" r="2.1"/>
<circle class="c0" cx="99.2" cy="730.4" r="2.1"/>
<circle class="c17" cx="556.3" cy="726.7" r="2.1"/>
<circle class="c10" cx="484.1" cy="798.3" r="2.1"/>
<circle class="c3" cx="293.2" cy="850.4" r="2.1"/>
<circle class="c1" cx="226.8" cy="832.5" r="2.1"/>
<circle class="c7" cx="417.9" cy="787.1" r="2.1"/>
<circle class="c2" cx="346.3" cy="762.6" r="2.1"/>
<circle class="c0" cx="142.5" cy="862.8" r="2.1"/>
<circle class="c6" cx="434.9" cy="741" r="2.1"/>
<circle class="c9" cx="434.4" cy="767.3" r="2.1"/>
<circle class="c3" cx="371" cy="757.7" r="2.1"/>
<circle class="c2" cx="280.7" cy="733" r="2.1"/>
<circle class="c2" cx="342.2" cy="822.7" r="2.1"/>
<circle class="c2" cx="345" cy="704.1" r="2.1"/>
<circle class="c10" cx="488.4" cy="710.3" r="2.1"/>
<circle class="c0" cx="125.1" cy="780.6" r="2.1"/>
<circle class="c9" cx="502.2" cy="839.9" r="2.1"/>
<circle class="c5" cx="416.5" cy="776.4" r="2.1"/>
<circle class="c2" cx="318" cy="840.8" r="2.1"/>
<circle class="c0" cx="187" cy="839" r="2.1"/>
<circle class="c1" cx="262.6" cy="948.3" r="2.1"/>
<circle class="c2" cx="294.7" cy="828.9" r="2.1"/>
<circle class="c0" cx="169.8" cy="804.7" r="2.1"/>
<circle class="c5" cx="364.2" cy="810.8" r="2.1"/>
<circle class="c7" cx="450.5" cy="798.8" r="2.1"/>
<circle class="c5" cx="387.9" cy="844.4" r="2.1"/>
<circle class="c0" cx="149.1" cy="741.8" r="2.1"/>
<circle class="c1" cx="237.5" cy="777.7" r="2.1"/>
<circle class="c17" cx="525" cy="710.1" r="2.1"/>
<circle class="c8" cx="393.5" cy="816.5" r="2.1"/>
<circle class="c2" cx="303.2" cy="780.1" r="2.1"/>
<circle class="c3" cx="337.1" cy="690" r="2.1"/>
<circle class="c3" cx="378.6" cy="827.2" r="2.1"/>
<circle class="c8" cx="404.7" cy="762.7" r="2.1"/>
<circle class="c5" cx="387.6" cy="775.8" r="2.1"/>
<circle class="c3" cx="304.4" cy="836.1" r="2.1"/>
<circle class="c0" cx="181.4" cy="785" r="2.1"/>
<circle class="c6" cx="398.5" cy="750.6" r="2.1"/>
<circle class="c2" cx="256.8" cy="828.5" r="2.1"/>
<circle class="c18" cx="560.4" cy="680.7" r="2.1"/>
<circle class="c0" cx="100.9" cy="716.3" r="2.1"/>
<circle class="c4" cx="325.3" cy="740.5" r="2.1"/>
<circle class="c9" cx="441.4" cy="869.1" r="2.1"/>
<circle class="c2" cx="315.6" cy="942.2" r="2.1"/>
<circle class="c2" cx="313.9" cy="794.3" r="2.1"/>
<circle class="c1" cx="218.8" cy="755.5" r="2.1"/>
<circle class="c3" cx="343.6" cy="865.5" r="2.1"/>
<circle class="c6" cx="411.2" cy="758.7" r="2.1"/>
<circle class="c5" cx="411.2" cy="821" r="2.1"/>
<circle class="c13" cx="539.3" cy="824.7" r="2.1"/>
<circle class="c11" cx="465.9" cy="750.1" r="2.1"/>
<circle class="c0" cx="113" cy="909.7" r="2.1"/>
<circle class="c1" cx="284" cy="734.3" r="2.1"/>
<circle class="c7" cx="388.6" cy="846.1" r="2.1"/>
<circle class="c4" cx="400.1" cy="794.3" r="2.1"/>
<circle class="c1" cx="220" cy="708.3" r="2.1"/>
<circle class="c4" cx="320.9" cy="664.5" r="2.1"/>
<circle class="c0" cx="184.9" cy="813.8" r="2.1"/>
<circle class="c0" cx="177.9" cy="797.2" r="2.1"/>
<circle class="c3" cx="332.4" cy="852" r="2.1"/>
<circle class="c2" cx="314.9" cy="857.9" r="2.1"/>
<circle class="c1" cx="290.3" cy="784.2" r="2.1"/>
<circle class="c6" cx="400.6" cy="677.9" r="2.1"/>
<circle class="c1" cx="278.4" cy="756.9" r="2.1"/>
<circle class="c2" cx="300.5" cy="816.1" r="2.1"/>
<circle class="c1" cx="283.1" cy="752.6" r="2.1"/>
<circle class="c0" cx="101.7" cy="869.7" r="2.1"/>
<circle class="c3" cx="350.9" cy="748.7" r="2.1"/>
<circle class="c0" cx="137.8" cy="930.6" r="2.1"/>
<circle class="c5" cx="417.8" cy="772.9" r="2.1"/>
<circle class="c5" cx="426.6" cy="842.1" r="2.1"/>
<circle class="c1" cx="252.5" cy="820.4" r="2.1"/>
<circle class="c4" cx="382.7" cy="855.1" r="2.1"/>
<circle class="c4" cx="372.7" cy="808.4" r="2.1"/>
<circle class="c6" cx="380.3" cy="726.7" r="2.1"/>
<circle class="c0" cx="98.9" cy="843" r="2.1"/>
<circle class="c15" cx="509.6" cy="832.2" r="2.1"/>
<circle class="c3" cx="343.8" cy="761.5" r="2.1"/>
<circle class="c0" cx="125.2" cy="770.6" r="2.1"/>
<circle class="c1" cx="203.7" cy="864.6" r="2.1"/>
<circle class="c5" cx="391.4" cy="836.1" r="2.1"/>
<circle class="c4" cx="400.5" cy="818.8" r="2.1"/>
<circle class="c4" cx="407.2" cy="786.5" r="2.1"/>
<circle class="c2" cx="307.1" cy="722.5" r="2.1"/>
<circle class="c1" cx="280.1" cy="760.9" r="2.1"/>
<circle class="c5" cx="376.3" cy="761.9" r="2.1"/>
<circle class="c3" cx="370.2" cy="805.2" r="2.1"/>
<circle class="c16" cx="554.8" cy="790.5" r="2.1"/>
<circle class="c0" cx="99.8" cy="827.1" r="2.1"/>
<circle class="c0" cx="147" cy="717.7" r="2.1"/>
<circle class="c0" cx="172.8" cy="857.8" r="2.1"/>
<circle class="c4" cx="414" cy="866.6" r="2.1"/>
<circle class="c16" cx="506.2" cy="715" r="2.1"/>
<circle class="c1" cx="230.1" cy="826.6" r="2.1"/>
<circle class="c2" cx="342.3" cy="867.9" r="2.1"/>
<circle class="c2" cx="253.2" cy="825.5" r="2.1"/>
<circle class="c20" cx="513" cy="823.9" r="2.1"/>
<circle class="c3" cx="360.9" cy="748.5" r="2.1"/>
<circle class="c9" cx="427.2" cy="802.4" r="2.1"/>
<circle class="c0" cx="126.7" cy="709.8" r="2.1"/>
<circle class="c4" cx="360.6" cy="717.2" r="2.1"/>
<circle class="c24" cx="524.3" cy="880.3" r="2.1"/>
<circle class="c0" cx="186.4" cy="858.5" r="2.1"/>
<circle class="c0" cx="174.5" cy="839.7" r="2.1"/>
<circle class="c1" cx="243.1" cy="780" r="2.1"/>
<circle class="c0" cx="185.4" cy="705.3" r="2.1"/>
<circle class="c3" cx="361.7" cy="750" r="2.1"/>
<circle class="c1" cx="255.8" cy="815.9" r="2.1"/>
<circle class="c1" cx="214.3" cy="836.7" r="2.1"/>
<circle class="c3" cx="285.4" cy="833.5" r="2.1"/>
<circle class="c2" cx="284.6" cy="855.2" r="2.1"/>
<circle class="c1" cx="195.7" cy="735.9" r="2.1"/>
<circle class="c1" cx="277.1" cy="685.2" r="2.1"/>
<circle class="c0" cx="113.6" cy="886.8" r="2.1"/>
<circle class="c6" cx="441.4" cy="755.9" r="2.1"/>
<circle class="c0" cx="132.5" cy="807.7" r="2.1"/>
<circle class="c1" cx="192.9" cy="873.1" r="2.1"/>
<circle class="c9" cx="427.4" cy="901" r="2.1"/>
<circle class="c0" cx="194.4" cy="810.3" r="2.1"/>
<circle class="c1" cx="191.7" cy="697.1" r="2.1"/>
<circle class="c4" cx="312.1" cy="800.6" r="2.1"/>
<circle class="c0" cx="110.6" cy="805.5" r="2.1"/>
<circle class="c3" cx="341.7" cy="753.9" r="2.1"/>
<circle class="c8" cx="431.9" cy="809.7" r="2.1"/>
<circle class="c0" cx="112.7" cy="872.7" r="2.1"/>
<circle class="c1" cx="251.8" cy="763.3" r="2.1"/>
<circle class="c3" cx="307.8" cy="868.8" r="2.1"/>
<circle class="c0" cx="166.3" cy="734.2" r="2.1"/>
<circle class="c1" cx="258.7" cy="831.7" r="2.1"/>
<circle class="c1" cx="282.8" cy="855.9" r="2.1"/>
<circle class="c1" cx="212.7" cy="832.1" r="2.1"/>
<circle class="c29" cx="609.5" cy="945.6" r="2.1"/>
<circle class="c1" cx="270.8" cy="834.7" r="2.1"/>
<circle class="c1" cx="273.9" cy="737.2" r="2.1"/>
<circle class="c4" cx="359.2" cy="857.6" r="2.1"/>
<circle class="c2" cx="251" cy="854.5" r="2.1"/>
<circle class="c0" cx="197.2" cy="874.9" r="2.1"/>
<circle class="c0" cx="112.8" cy="835.5" r="2.1"/>
<circle class="c0" cx="145.7" cy="866.5" r="2.1"/>
<circle class="c1" cx="195.8" cy="801.9" r="2.1"/>
<circle class="c2" cx="269.7" cy="789" r="2.1"/>
<circle class="c1" cx="274.8" cy="846.7" r="2.1"/>
<circle class="c1" cx="276.8" cy="856.1" r="2.1"/>
<circle class="c1" cx="206.7" cy="720.4" r="2.1"/>
<circle class="c4" cx="332.8" cy="792.1" r="2.1"/>
<circle class="c3" cx="351.2" cy="807.7" r="2.1"/>
<circle class="c2" cx="271.6" cy="783.2" r="2.1"/>
<circle class="c8" cx="453.4" cy="758.9" r="2.1"/>
<circle class="c4" cx="329.2" cy="796.3" r="2.1"/>
<circle class="c4" cx="321.6" cy="888.5" r="2.1"/>
<circle class="c9" cx="417.2" cy="855" r="2.1"/>
<circle class="c0" cx="145.7" cy="921.7" r="2.1"/>
<circle class="c25" cx="627.8" cy="771.6" r="2.1"/>
<circle class="c0" cx="100.7" cy="826.9" r="2.1"/>
<circle class="c0" cx="170.4" cy="892.3" r="2.1"/>
<circle class="c2" cx="257.2" cy="859.3" r="2.1"/>
<circle class="c1" cx="194.4" cy="786.8" r="2.1"/>
<circle class="c4" cx="408.2" cy="759" r="2.1"/>
<circle class="c0" cx="121.3" cy="814.8" r="2.1"/>
<circle class="c7" cx="418.7" cy="848.1" r="2.1"/>
<circle class="c3" cx="305.7" cy="782.3" r="2.1"/>
<circle class="c0" cx="139.6" cy="795.5" r="2.1"/>
<circle class="c2" cx="308.1" cy="801.2" r="2.1"/>
<circle class="c11" cx="469.8" cy="797.7" r="2.1"/>
<circle class="c0" cx="145.3" cy="760.9" r="2.1"/>
<circle class="c4" cx="369.6" cy="775.2" r="2.1"/>
<circle class="c0" cx="145.2" cy="733.5" r="2.1"/>
<circle class="c0" cx="139" cy="757.8" r="2.1"/>
<circle class="c1" cx="245.5" cy="783.5" r="2.1"/>
<circle class="c0" cx="142.9" cy="835" r="2.1"/>
<circle class="c5" cx="378.9" cy="800.6" r="2.1"/>
<circle class="c3" cx="286.1" cy="835.2" r="2.1"/>
<circle class="c0" cx="199.3" cy="840.2" r="2.1"/>
<circle class="c1" cx="244.2" cy="682.6" r="2.1"/>
<circle class="c2" cx="268.6" cy="859" r="2.1"/>
<circle class="c2" cx="313" cy="761.8" r="2.1"/>
<circle class="c0" cx="170" cy="964.6" r="2.1"/>
<circle class="c0" cx="101" cy="754.4" r="2.1"/>
<circle class="c0" cx="104.8" cy="734.5" r="2.1"/>
<circle class="c4" cx="348.6" cy="854.9" r="2.1"/>
<circle class="c0" cx="104.9" cy="826.5" r="2.1"/>
<circle class="c2" cx="325" cy="821.5" r="2.1"/>
<circle class="c0" cx="190" cy="842.3" r="2.1"/>
<circle class="c5" cx="340.2" cy="895.5" r="2.1"/>
<circle class="c1" cx="197.6" cy="704.7" r="2.1"/>
<circle class="c8" cx="389.3" cy="806.4" r="2.1"/>
<circle class="c0" cx="159" cy="769.4" r="2.1"/>
<circle class="c1" cx="201.5" cy="749.7" r="2.1"/>
<circle class="c21" cx="609.8" cy="711.6" r="2.1"/>
<circle class="c0" cx="148.1" cy="855.4" r="2.1"/>
<circle class="c15" cx="517.8" cy="911.7" r="2.1"/>
<circle class="c8" cx="431.1" cy="752.8" r="2.1"/>
<circle class="c0" cx="170.3" cy="770.4" r="2.1"/>
<circle class="c0" cx="193.9" cy="825.9" r="2.1"/>
<circle class="c0" cx="189.4" cy="771.9" r="2.1"/>
<circle class="c0" cx="161.1" cy="833.9" r="2.1"/>
<circle class="c7" cx="451.7" cy="806.6" r="2.1"/>
<circle class="c1" cx="288.4" cy="676.3" r="2.1"/>
<circle class="c0" cx="166.2" cy="776.4" r="2.1"/>
<circle class="c6" cx="360.2" cy="824.8" r="2.1"/>
<circle class="c19" cx="548" cy="920.6" r="2.1"/>
<circle class="c1" cx="257.2" cy="834.9" r="2.1"/>
<circle class="c1" cx="252.2" cy="778.5" r="2.1"/>
<circle class="c15" cx="525.2" cy="712.1" r="2.1"/>
<circle class="c4" cx="372" cy="765.2" r="2.1"/>
<circle class="c3" cx="316" cy="711.4" r="2.1"/>
<circle class="c0" cx="197.9" cy="815.9" r="2.1"/>
<circle class="c0" cx="138.1" cy="826.6" r="2.1"/>
<circle class="c0" cx="190" cy="785.2" r="2.1"/>
<circle class="c2" cx="275.4" cy="778.2" r="2.1"/>
<circle class="c0" cx="137.7" cy="767.3" r="2.1"/>
<circle class="c0" cx="118.9" cy="861.7" r="2.1"/>
<circle class="c3" cx="331.3" cy="733.8" r="2.1"/>
<circle class="c0" cx="158.9" cy="829.5" r="2.1"/>
<circle class="c0" cx="170.3" cy="811.5" r="2.1"/>
<circle class="c3" cx="331" cy="867" r="2.1"/>
<circle class="c2" cx="321.3" cy="776.6" r="2.1"/>
<circle class="c8" cx="469.8" cy="824.9" r="2.1"/>
<circle class="c1" cx="215.6" cy="787.9" r="2.1"/>
<circle class="c2" cx="246.6" cy="755.6" r="2.1"/>
<circle class="c1" cx="196.6" cy="775.1" r="2.1"/>
<circle class="c1" cx="243.9" cy="838.6" r="2.1"/>
<circle class="c0" cx="108.8" cy="761" r="2.1"/>
<circle class="c0" cx="182.8" cy="817.3" r="2.1"/>
<circle class="c2" cx="305.6" cy="745.1" r="2.1"/>
<circle class="c3" cx="285.6" cy="799.2" r="2.1"/>
<circle class="c7" cx="419.5" cy="784.2" r="2.1"/>
<circle class="c1" cx="281.2" cy="854.6" r="2.1"/>
<circle class="c7" cx="419.8" cy="809.5" r="2.1"/>
<circle class="c2" cx="302.4" cy="783.3" r="2.1"/>
<circle class="c4" cx="338.2" cy="800.4" r="2.1"/>
<circle class="c1" cx="233.5" cy="741.3" r="2.1"/>
<circle class="c0" cx="164.9" cy="781.3" r="2.1"/>
<circle class="c0" cx="161.5" cy="798" r="2.1"/>
<circle class="c1" cx="255.3" cy="858.4" r="2.1"/>
<circle class="c0" cx="148.3" cy="844.3" r="2.1"/>
<circle class="c2" cx="247.7" cy="865.4" r="2.1"/>
<circle class="c0" cx="112.7" cy="770.7" r="2.1"/>
<circle class="c2" cx="281.6" cy="756" r="2.1"/>
<circle class="c6" cx="417.2" cy="723.2" r="2.1"/>
<circle class="c3" cx="326.2" cy="706.8" r="2.1"/>
<circle class="c0" cx="185" cy="859.6" r="2.1"/>
<circle class="c7" cx="460.5" cy="776.7" r="2.1"/>
<circle class="c11" cx="476.1" cy="807.3" r="2.1"/>
<circle class="c5" cx="438.9" cy="833.9" r="2.1"/>
<circle class="c1" cx="190.8" cy="695.9" r="2.1"/>
<circle class="c1" cx="218.2" cy="820.8" r="2.1"/>
<circle class="c1" cx="231.9" cy="709.1" r="2.1"/>
<circle class="c2" cx="294.7" cy="768.7" r="2.1"/>
<circle class="c0" cx="144.4" cy="839.3" r="2.1"/>
<circle class="c7" cx="472.9" cy="845.8" r="2.1"/>
<circle class="c1" cx="195" cy="662.3" r="2.1"/>
<circle class="c11" cx="526.9" cy="816.2" r="2.1"/>
<circle class="c4" cx="384.1" cy="715.9" r="2.1"/>
<circle class="c5" cx="387.5" cy="841.5" r="2.1"/>
<circle class="c10" cx="456.6" cy="788.2" r="2.1"/>
<circle class="c3" cx="350.2" cy="813.9" r="2.1"/>
<circle class="c12" cx="524.3" cy="792.2" r="2.1"/>
<circle class="c4" cx="386" cy="771.4" r="2.1"/>
<circle class="c0" cx="111.3" cy="794.9" r="2.1"/>
<circle class="c2" cx="278" cy="799.1" r="2.1"/>
<circle class="c0" cx="201.6" cy="860.6" r="2.1"/>
<circle class="c3" cx="291.4" cy="726.8" r="2.1"/>
<circle class="c5" cx="424.7" cy="787.1" r="2.1"/>
<circle class="c3" cx="324.3" cy="801.9" r="2.1"/>
<circle class="c1" cx="288.6" cy="804.8" r="2.1"/>
<circle class="c2" cx="269.7" cy="726.6" r="2.1"/>
<circle class="c3" cx="320.1" cy="690.4" r="2.1"/>
<circle class="c0" cx="134.9" cy="792.7" r="2.1"/>
<circle class="c20" cx="578.5" cy="786.2" r="2.1"/>
<circle class="c2" cx="266" cy="822.7" r="2.1"/>
<circle class="c0" cx="173.5" cy="910.2" r="2.1"/>
<circle class="c1" cx="248.3" cy="668.4" r="2.1"/>
<circle class="c2" cx="273.3" cy="763.1" r="2.1"/>
<circle class="c6" cx="370.3" cy="855.9" r="2.1"/>
<circle class="c0" cx="187.2" cy="709.6" r="2.1"/>
<circle class="c2" cx="338.3" cy="819.4" r="2.1"/>
<circle class="c3" cx="283.1" cy="814.9" r="2.1"/>
<circle class="c2" cx="347.1" cy="774.4" r="2.1"/>
<circle class="c1" cx="243.7" cy="979.9" r="2.1"/>
<circle class="c6" cx="438.3" cy="793.7" r="2.1"/>
<circle class="c5" cx="439.2" cy="752.6" r="2.1"/>
<circle class="c1" cx="291" cy="759.8" r="2.1"/>
<circle class="c29" cx="588.1" cy="798.6" r="2.1"/>
<circle class="c21" cx="573.5" cy="972.6" r="2.1"/>
<circle class="c5" cx="421.1" cy="924.6" r="2.1"/>
<circle class="c2" cx="306.9" cy="822" r="2.1"/>
<circle class="c0" cx="147.5" cy="803.4" r="2.1"/>
<circle class="c1" cx="192.7" cy="765.1" r="2.1"/>
<circle class="c1" cx="195.3" cy="793.6" r="2.1"/>
<circle class="c2" cx="264.1" cy="885.5" r="2.1"/>
<circle class="c2" cx="259.1" cy="940.3" r="2.1"/>
<circle class="c5" cx="360.9" cy="803.4" r="2.1"/>
<circle class="c22" cx="615.6" cy="679.2" r="2.1"/>
<circle class="c0" cx="199.4" cy="849.6" r="2.1"/>
<circle class="c6" cx="359" cy="854.4" r="2.1"/>
<circle class="c0" cx="102.6" cy="879.3" r="2.1"/>
<circle class="c4" cx="337.2" cy="740.4" r="2.1"/>
<circle class="c1" cx="241.9" cy="751" r="2.1"/>
<circle class="c0" cx="111.8" cy="796.2" r="2.1"/>
<circle class="c2" cx="285.6" cy="964.5" r="2.1"/>
<circle class="c7" cx="392.8" cy="747.6" r="2.1"/>
<circle class="c1" cx="285.4" cy="858.4" r="2.1"/>
<circle class="c0" cx="127.7" cy="745.5" r="2.1"/>
<circle class="c0" cx="162.9" cy="817.4" r="2.1"/>
<circle class="c6" cx="400.7" cy="742.8" r="2.1"/>
<circle class="c0" cx="194.4" cy="829.1" r="2.1"/>
<circle class="c0" cx="201.6" cy="739.8" r="2.1"/>
<circle class="c1" cx="247" cy="719.3" r="2.1"/>
<circle class="c2" cx="326.6" cy="761.4" r="2.1"/>
<circle class="c1" cx="230.8" cy="655.7" r="2.1"/>
<circle class="c8" cx="439.8" cy="747.8" r="2.1"/>
<circle class="c0" cx="122.9" cy="778.4" r="2.1"/>
<circle class="c1" cx="237.1" cy="783" r="2.1"/>
<circle class="c4" cx="331.2" cy="703.7" r="2.1"/>
<circle class="c4" cx="333.4" cy="757.2" r="2.1"/>
<circle class="c11" cx="528" cy="791.6" r="2.1"/>
<circle class="c4" cx="405.6" cy="846.9" r="2.1"/>
<circle class="c3" cx="329.7" cy="776.6" r="2.1"/>
<circle class="c10" cx="429.1" cy="834.8" r="2.1"/>
<circle class="c1" cx="207.4" cy="784.6" r="2.1"/>
<circle class="c0" cx="97.7" cy="703.1" r="2.1"/>
<circle class="c2" cx="297.1" cy="803.3" r="2.1"/>
<circle class="c15" cx="512.6" cy="807.2" r="2.1"/>
<circle class="c2" cx="248.2" cy="857.9" r="2.1"/>
<circle class="c3" cx="377.3" cy="813.1" r="2.1"/>
<circle class="c0" cx="159.8" cy="795.2" r="2.1"/>
<circle class="c4" cx="393.9" cy="649" r="2.1"/>
<circle class="c0" cx="175.9" cy="830.1" r="2.1"/>
<circle class="c0" cx="187.4" cy="748.2" r="2.1"/>
<circle class="c4" cx="350.5" cy="833.1" r="2.1"/>
<circle class="c0" cx="118.7" cy="785.5" r="2.1"/>
<circle class="c3" cx="329.3" cy="771.9" r="2.1"/>
<circle class="c15" cx="470.9" cy="897.9" r="2.1"/>
<circle class="c0" cx="116" cy="841.1" r="2.1"/>
<circle class="c0" cx="190.7" cy="810.3" r="2.1"/>
<circle class="c0" cx="185.1" cy="753.9" r="2.1"/>
<circle class="c1" cx="286.8" cy="764.7" r="2.1"/>
<circle class="c5" cx="365.5" cy="745.6" r="2.1"/>
<circle class="c3" cx="353.8" cy="739.6" r="2.1"/>
<circle class="c15" cx="478.9" cy="876.1" r="2.1"/>
<circle class="c7" cx="424.5" cy="776" r="2.1"/>
<circle class="c1" cx="236.9" cy="800.6" r="2.1"/>
<circle class="c0" cx="147.8" cy="778.5" r="2.1"/>
<circle class="c8" cx="424.3" cy="813.9" r="2.1"/>
<circle class="c2" cx="284" cy="802.3" r="2.1"/>
<circle class="c2" cx="290.6" cy="770" r="2.1"/>
<circle class="c4" cx="365.1" cy="810" r="2.1"/>
<circle class="c0" cx="200.4" cy="883.7" r="2.1"/>
<circle class="c0" cx="149.8" cy="760.4" r="2.1"/>
<circle class="c11" cx="427.1" cy="779.3" r="2.1"/>
<circle class="c4" cx="410.9" cy="760.6" r="2.1"/>
<circle class="c1" cx="256.4" cy="796.2" r="2.1"/>
<circle class="c2" cx="328" cy="901.5" r="2.1"/>
<circle class="c1" cx="198.5" cy="808.2" r="2.1"/>
<circle class="c0" cx="117.8" cy="793.7" r="2.1"/>
<circle class="c1" cx="277.7" cy="804.1" r="2.1"/>
<circle class="c1" cx="239.4" cy="842.4" r="2.1"/>
<circle class="c0" cx="176" cy="893.2" r="2.1"/>
<circle class="c0" cx="114.6" cy="743.6" r="2.1"/>
<circle class="c0" cx="197" cy="770.1" r="2.1"/>
<circle class="c6" cx="416.3" cy="757.2" r="2.1"/>
<circle class="c3" cx="292.4" cy="822.5" r="2.1"/>
<circle class="c0" cx="168" cy="856.9" r="2.1"/>
<circle class="c0" cx="153" cy="848" r="2.1"/>
<circle class="c6" cx="423.6" cy="726.3" r="2.1"/>
<circle class="c0" cx="136.6" cy="739.4" r="2.1"/>
<circle class="c0" cx="171.9" cy="724.5" r="2.1"/>
<circle class="c3" cx="371.8" cy="819.5" r="2.1"/>
<circle class="c1" cx="259.5" cy="768.2" r="2.1"/>
<circle class="c12" cx="527.4" cy="770.9" r="2.1"/>
<circle class="c1" cx="273.9" cy="789.4" r="2.1"/>
<circle class="c1" cx="283.3" cy="702" r="2.1"/>
<circle class="c2" cx="271" cy="858.9" r="2.1"/>
<circle class="c8" cx="393.7" cy="806.3" r="2.1"/>
<circle class="c0" cx="182.9" cy="802.6" r="2.1"/>
<circle class="c3" cx="296.9" cy="712.9" r="2.1"/>
<circle class="c2" cx="291.1" cy="772.2" r="2.1"/>
<circle class="c2" cx="325.7" cy="867.4" r="2.1"/>
<circle class="c0" cx="158.1" cy="753.7" r="2.1"/>
<circle class="c10" cx="425.7" cy="776" r="2.1"/>
<circle class="c2" cx="255.9" cy="771.9" r="2.1"/>
<circle class="c18" cx="489.6" cy="714.4" r="2.1"/>
<circle class="c0" cx="183.2" cy="931.7" r="2.1"/>
<circle class="c3" cx="305.1" cy="691.2" r="2.1"/>
<circle class="c2" cx="252.7" cy="898.9" r="2.1"/>
<circle class="c1" cx="235.4" cy="854.1" r="2.1"/>
<circle class="c0" cx="169.9" cy="806" r="2.1"/>
<circle class="c7" cx="406.4" cy="918.6" r="2.1"/>
<circle class="c2" cx="300.2" cy="732.7" r="2.1"/>
<circle class="c0" cx="198.9" cy="719.9" r="2.1"/>
<circle class="c0" cx="182.5" cy="751.4" r="2.1"/>
<circle class="c2" cx="277.5" cy="606.1" r="2.1"/>
<circle class="c2" cx="293" cy="797.1" r="2.1"/>
<circle class="c0" cx="150.7" cy="821.8" r="2.1"/>
<circle class="c2" cx="292.7" cy="772.9" r="2.1"/>
<circle class="c2" cx="298.6" cy="776.9" r="2.1"/>
<circle class="c0" cx="149.6" cy="799.1" r="2.1"/>
<circle class="c9" cx="497.4" cy="781.5" r="2.1"/>
<circle class="c1" cx="257.4" cy="793.5" r="2.1"/>
<circle class="c7" cx="377.3" cy="770.9" r="2.1"/>
<circle class="c4" cx="356" cy="720.2" r="2.1"/>
<circle class="c1" cx="268.4" cy="710.2" r="2.1"/>
<circle class="c4" cx="330.1" cy="825.2" r="2.1"/>
<circle class="c1" cx="256" cy="738.5" r="2.1"/>
<circle class="c0" cx="201.8" cy="824.2" r="2.1"/>
<circle class="c0" cx="201.4" cy="675.9" r="2.1"/>
<circle class="c2" cx="255.6" cy="701.9" r="2.1"/>
<circle class="c0" cx="136.9" cy="871.1" r="2.1"/>
<circle class="c0" cx="180.5" cy="794.8" r="2.1"/>
<circle class="c1" cx="234.4" cy="706.4" r="2.1"/>
<circle class="c18" cx="546.9" cy="848.3" r="2.1"/>
<circle class="c1" cx="189.7" cy="797.6" r="2.1"/>
<circle class="c2" cx="265" cy="696.3" r="2.1"/>
<circle class="c1" cx="219.3" cy="826.6" r="2.1"/>
<circle class="c5" cx="415.7" cy="707.7" r="2.1"/>
<circle class="c2" cx="327.6" cy="838.5" r="2.1"/>
<circle class="c5" cx="433.9" cy="841.6" r="2.1"/>
<circle class="c0" cx="129.8" cy="764.2" r="2.1"/>
<circle class="c0" cx="139.8" cy="815.5" r="2.1"/>
<circle class="c7" cx="436.5" cy="769.2" r="2.1"/>
<circle class="c14" cx="550.8" cy="709.8" r="2.1"/>
<circle class="c0" cx="157.4" cy="791.7" r="2.1"/>
<circle class="c0" cx="187.7" cy="679.7" r="2.1"/>
<circle class="c0" cx="196.7" cy="703.3" r="2.1"/>
<circle class="c2" cx="308.9" cy="835.6" r="2.1"/>
<circle class="c1" cx="260.6" cy="766.3" r="2.1"/>
<circle class="c6" cx="434.7" cy="715.4" r="2.1"/>
<circle class="c10" cx="495.6" cy="776.8" r="2.1"/>
<circle class="c0" cx="136.4" cy="772.8" r="2.1"/>
<circle class="c0" cx="121.2" cy="792.6" r="2.1"/>
<circle class="c5" cx="339.2" cy="844.6" r="2.1"/>
<circle class="c0" cx="181.3" cy="774.1" r="2.1"/>
<circle class="c0" cx="168.6" cy="785.3" r="2.1"/>
<circle class="c3" cx="382.9" cy="699.6" r="2.1"/>
<circle class="c0" cx="116.7" cy="872.2" r="2.1"/>
<circle class="c6" cx="374.5" cy="836.4" r="2.1"/>
<circle class="c2" cx="330.1" cy="651.2" r="2.1"/>
<circle class="c21" cx="546.1" cy="719.4" r="2.1"/>
<circle class="c0" cx="174.4" cy="753" r="2.1"/>
<circle class="c2" cx="329.2" cy="761" r="2.1"/>
<circle class="c1" cx="276.1" cy="843" r="2.1"/>
<circle class="c6" cx="408.7" cy="656.9" r="2.1"/>
<circle class="c4" cx="340.4" cy="799.1" r="2.1"/>
<circle class="c3" cx="306.8" cy="870.5" r="2.1"/>
<circle class="c18" cx="545.7" cy="857.9" r="2.1"/>
<circle class="c1" cx="211.4" cy="822.7" r="2.1"/>
<circle class="c0" cx="109.8" cy="844" r="2.1"/>
<circle class="c4" cx="319.4" cy="938.1" r="2.1"/>
<circle class="c0" cx="117.1" cy="773.2" r="2.1"/>
<circle class="c3" cx="342.8" cy="702.7" r="2.1"/>
<circle class="c0" cx="132" cy="858.8" r="2.1"/>
<circle class="c0" cx="141.8" cy="802.2" r="2.1"/>
<circle class="c0" cx="141.4" cy="736.7" r="2.1"/>
<circle class="c1" cx="203.6" cy="796.7" r="2.1"/>
<circle class="c6" cx="448.3" cy="740.3" r="2.1"/>
<circle class="c9" cx="423.3" cy="816.3" r="2.1"/>
<circle class="c0" cx="112.7" cy="850.7" r="2.1"/>
<circle class="c2" cx="296.8" cy="792" r="2.1"/>
<circle class="c0" cx="168.5" cy="798.5" r="2.1"/>
<circle class="c0" cx="200.2" cy="751.3" r="2.1"/>
<circle class="c0" cx="109.6" cy="816.5" r="2.1"/>
<circle class="c5" cx="399.4" cy="811.8" r="2.1"/>
<circle class="c0" cx="118.7" cy="820.9" r="2.1"/>
<circle class="c2" cx="279.6" cy="780.1" r="2.1"/>
<circle class="c6" cx="381.1" cy="921.4" r="2.1"/>
<circle class="c0" cx="199" cy="635.1" r="2.1"/>
<circle class="c1" cx="251.4" cy="849.4" r="2.1"/>
<circle class="c3" cx="382.9" cy="795.3" r="2.1"/>
<circle class="c5" cx="398.5" cy="734.6" r="2.1"/>
<circle class="c3" cx="381.3" cy="771.7" r="2.1"/>
<circle class="c9" cx="478.9" cy="832.8" r="2.1"/>
<circle class="c0" cx="147.4" cy="832.3" r="2.1"/>
<circle class="c2" cx="314.3" cy="923.6" r="2.1"/>
<circle class="c4" cx="321.9" cy="696.1" r="2.1"/>
<circle class="c2" cx="320.1" cy="788.9" r="2.1"/>
<circle class="c2" cx="259.1" cy="799.8" r="2.1"/>
<circle class="c9" cx="487" cy="834.4" r="2.1"/>
<circle class="c0" cx="151.6" cy="857.3" r="2.1"/>
<circle class="c5" cx="403.7" cy="758.8" r="2.1"/>
<circle class="c3" cx="300.4" cy="716.5" r="2.1"/>
<circle class="c0" cx="102.1" cy="724.8" r="2.1"/>
<circle class="c4" cx="380.4" cy="832.1" r="2.1"/>
<circle class="c0" cx="171.6" cy="895.4" r="2.1"/>
<circle class="c6" cx="377.6" cy="813.3" r="2.1"/>
<circle class="c2" cx="332.4" cy="811.3" r="2.1"/>
<circle class="c3" cx="358.8" cy="765.1" r="2.1"/>
<circle class="c1" cx="266.2" cy="740.3" r="2.1"/>
<circle class="c1" cx="194.4" cy="765.8" r="2.1"/>
<circle class="c10" cx="467.3" cy="758.9" r="2.1"/>
<circle class="c0" cx="117.2" cy="876.6" r="2.1"/>
<circle class="c3" cx="322.4" cy="873.6" r="2.1"/>
<circle class="c13" cx="550.4" cy="838.3" r="2.1"/>
<circle class="c0" cx="120.6" cy="867.2" r="2.1"/>
<circle class="c2" cx="339.4" cy="779.6" r="2.1"/>
<circle class="c5" cx="420.5" cy="799.7" r="2.1"/>
<circle class="c1" cx="279.7" cy="808.3" r="2.1"/>
<circle class="c1" cx="207.6" cy="745.9" r="2.1"/>
<circle class="c5" cx="429.7" cy="866" r="2.1"/>
<circle class="c0" cx="170" cy="805.4" r="2.1"/>
<circle class="c0" cx="127.3" cy="875.4" r="2.1"/>
<circle class="c1" cx="284.4" cy="725.7" r="2.1"/>
<circle class="c1" cx="239.9" cy="716.8" r="2.1"/>
<circle class="c2" cx="301.2" cy="693.5" r="2.1"/>
<circle class="c0" cx="122.7" cy="728.2" r="2.1"/>
<circle class="c6" cx="381.2" cy="807.9" r="2.1"/>
<circle class="c0" cx="111.1" cy="882.1" r="2.1"/>
<circle class="c0" cx="153.8" cy="784.1" r="2.1"/>
<circle class="c5" cx="407.1" cy="714.2" r="2.1"/>
<circle class="c0" cx="106.6" cy="732.6" r="2.1"/>
<circle class="c0" cx="135.5" cy="761.2" r="2.1"/>
<circle class="c0" cx="196.7" cy="721.6" r="2.1"/>
<circle class="c2" cx="336.1" cy="709.1" r="2.1"/>
<circle class="c0" cx="195.9" cy="823.7" r="2.1"/>
<circle class="c7" cx="379.3" cy="765.5" r="2.1"/>
<circle class="c3" cx="326.1" cy="735.6" r="2.1"/>
<circle class="c5" cx="426.3" cy="863.2" r="2.1"/>
<circle class="c1" cx="198.7" cy="762.3" r="2.1"/>
<circle class="c3" cx="303.7" cy="827.8" r="2.1"/>
<circle class="c4" cx="326.9" cy="837.1" r="2.1"/>
<circle class="c4" cx="385.1" cy="727.1" r="2.1"/>
<circle class="c2" cx="307" cy="840.6" r="2.1"/>
<circle class="c1" cx="193.8" cy="725" r="2.1"/>
<circle class="c4" cx="360.4" cy="828" r="2.1"/>
<circle class="c0" cx="160" cy="820.4" r="2.1"/>
<circle class="c3" cx="369.4" cy="862.8" r="2.1"/>
<circle class="c0" cx="177.8" cy="758.5" r="2.1"/>
<circle class="c3" cx="311.1" cy="752.8" r="2.1"/>
<circle class="c16" cx="576.6" cy="889.2" r="2.1"/>
<circle class="c4" cx="397.4" cy="890.2" r="2.1"/>
<circle class="c6" cx="372.7" cy="788.4" r="2.1"/>
<circle class="c17" cx="582.3" cy="941" r="2.1"/>
<circle class="c0" cx="136.6" cy="807.8" r="2.1"/>
<circle class="c0" cx="106" cy="795.2" r="2.1"/>
<circle class="c27" cx="624.7" cy="774.2" r="2.1"/>
<circle class="c14" cx="528.8" cy="713.4" r="2.1"/>
<circle class="c4" cx="410.8" cy="826.6" r="2.1"/>
<circle class="c0" cx="196.4" cy="798.2" r="2.1"/>
<circle class="c2" cx="265.2" cy="896.9" r="2.1"/>
<circle class="c2" cx="251.9" cy="784.7" r="2.1"/>
<circle class="c2" cx="318" cy="908.6" r="2.1"/>
<circle class="c2" cx="256.7" cy="847.6" r="2.1"/>
<circle class="c0" cx="104.4" cy="787.9" r="2.1"/>
<circle class="c1" cx="237.8" cy="850" r="2.1"/>
<circle class="c7" cx="467.7" cy="758.2" r="2.1"/>
<circle class="c6" cx="414.9" cy="718.9" r="2.1"/>
<circle class="c0" cx="184.3" cy="802.2" r="2.1"/>
<circle class="c0" cx="171.3" cy="693.3" r="2.1"/>
<circle class="c4" cx="392.8" cy="874" r="2.1"/>
<circle class="c2" cx="255.4" cy="822.3" r="2.1"/>
<circle class="c4" cx="340" cy="763.6" r="2.1"/>
<circle class="c0" cx="127" cy="883.2" r="2.1"/>
<circle class="c0" cx="185.8" cy="826" r="2.1"/>
<circle class="c2" cx="339" cy="701.6" r="2.1"/>
<circle class="c5" cx="439.1" cy="862.7" r="2.1"/>
<circle class="c1" cx="255.6" cy="767.5" r="2.1"/>
<circle class="c1" cx="284.9" cy="724.2" r="2.1"/>
<circle class="c13" cx="470.6" cy="654.7" r="2.1"/>
<circle class="c6" cx="385.4" cy="812.2" r="2.1"/>
<circle class="c3" cx="352.1" cy="726.3" r="2.1"/>
<circle class="c2" cx="301.9" cy="809.4" r="2.1"/>
<circle class="c16" cx="521.8" cy="830.4" r="2.1"/>
<circle class="c9" cx="437.7" cy="903.9" r="2.1"/>
<circle class="c2" cx="311.6" cy="738.4" r="2.1"/>
<circle class="c3" cx="380.8" cy="728.6" r="2.1"/>
<circle class="c0" cx="182.2" cy="743.6" r="2.1"/>
<circle class="c0" cx="109.1" cy="870.2" r="2.1"/>
<circle class="c2" cx="243.2" cy="808.3" r="2.1"/>
<circle class="c1" cx="224.8" cy="811.2" r="2.1"/>
<circle class="c0" cx="156.9" cy="885.8" r="2.1"/>
<circle class="c0" cx="99.5" cy="868.3" r="2.1"/>
<circle class="c10" cx="497.7" cy="761.2" r="2.1"/>
<circle class="c13" cx="461.4" cy="764.1" r="2.1"/>
<circle class="c3" cx="307.6" cy="781.7" r="2.1"/>
<circle class="c0" cx="115" cy="779" r="2.1"/>
<circle class="c3" cx="281.9" cy="902.8" r="2.1"/>
<circle class="c1" cx="291.9" cy="862.6" r="2.1"/>
<circle class="c4" cx="331.4" cy="868.4" r="2.1"/>
<circle class="c3" cx="322.8" cy="719.1" r="2.1"/>
<circle class="c0" cx="172.3" cy="768.9" r="2.1"/>
<circle class="c4" cx="378.1" cy="790.5" r="2.1"/>
<circle class="c7" cx="477.4" cy="778.3" r="2.1"/>
<circle class="c7" cx="416.4" cy="649.4" r="2.1"/>
<circle class="c6" cx="384.8" cy="787.6" r="2.1"/>
<circle class="c0" cx="155" cy="828.1" r="2.1"/>
<circle class="c0" cx="123.2" cy="777.9" r="2.1"/>
<circle class="c6" cx="426.5" cy="756.8" r="2.1"/>
<circle class="c9" cx="504.5" cy="766.8" r="2.1"/>
<circle class="c4" cx="375" cy="818.6" r="2.1"/>
<circle class="c0" cx="123.5" cy="774.6" r="2.1"/>
<circle class="c4" cx="412.6" cy="747.6" r="2.1"/>
<circle class="c5" cx="389.4" cy="815.4" r="2.1"/>
<circle class="c12" cx="479.6" cy="744.5" r="2.1"/>
<circle class="c3" cx="354.1" cy="802.3" r="2.1"/>
<circle class="c6" cx="453.8" cy="729.7" r="2.1"/>
<circle class="c0" cx="174.1" cy="749.9" r="2.1"/>
<circle class="c3" cx="309.8" cy="739" r="2.1"/>
<circle class="c3" cx="310.4" cy="723.4" r="2.1"/>
<circle class="c0" cx="188.3" cy="853.9" r="2.1"/>
<circle class="c7" cx="400" cy="796.5" r="2.1"/>
<circle class="c0" cx="145.6" cy="857" r="2.1"/>
<circle class="c1" cx="206" cy="768.5" r="2.1"/>
<circle class="c2" cx="267.2" cy="769.5" r="2.1"/>
<circle class="c0" cx="99" cy="750.2" r="2.1"/>
<circle class="c3" cx="385.8" cy="652.3" r="2.1"/>
<circle class="c19" cx="593" cy="644.7" r="2.1"/>
<circle class="c1" cx="261.6" cy="802.7" r="2.1"/>
<circle class="c0" cx="168" cy="840.7" r="2.1"/>
<circle class="c5" cx="351.3" cy="756" r="2.1"/>
<circle class="c5" cx="380.5" cy="846.7" r="2.1"/>
<circle class="c1" cx="257.2" cy="876.3" r="2.1"/>
<circle class="c1" cx="200.1" cy="714.7" r="2.1"/>
<circle class="c14" cx="556.1" cy="785.2" r="2.1"/>
<circle class="c3" cx="357.5" cy="800.2" r="2.1"/>
<circle class="c0" cx="102.8" cy="820.5" r="2.1"/>
<circle class="c13" cx="471.3" cy="779.4" r="2.1"/>
<circle class="c8" cx="406.3" cy="748.9" r="2.1"/>
<circle class="c2" cx="293.5" cy="879.3" r="2.1"/>
<circle class="c5" cx="421.1" cy="881.9" r="2.1"/>
<circle class="c3" cx="297.1" cy="788.2" r="2.1"/>
<circle class="c0" cx="161.4" cy="811.7" r="2.1"/>
<circle class="c2" cx="334.2" cy="848.5" r="2.1"/>
<circle class="c6" cx="424.2" cy="830.9" r="2.1"/>
<circle class="c1" cx="283.1" cy="762.6" r="2.1"/>
<circle class="c0" cx="150.4" cy="768.6" r="2.1"/>
<circle class="c0" cx="138.5" cy="805.2" r="2.1"/>
<circle class="c4" cx="365.2" cy="800.2" r="2.1"/>
<circle class="c0" cx="182.8" cy="779.5" r="2.1"/>
<circle class="c2" cx="297" cy="796.1" r="2.1"/>
<circle class="c6" cx="408.9" cy="756.5" r="2.1"/>
<circle class="c4" cx="366.6" cy="884.6" r="2.1"/>
<circle class="c8" cx="452.8" cy="775.5" r="2.1"/>
<circle class="c4" cx="348.3" cy="810.9" r="2.1"/>
<circle class="c1" cx="208.1" cy="755.1" r="2.1"/>
<circle class="c2" cx="254.4" cy="749.4" r="2.1"/>
<circle class="c1" cx="237.9" cy="869" r="2.1"/>
<circle class="c2" cx="269.2" cy="728.3" r="2.1"/>
<circle class="c5" cx="361.3" cy="813.5" r="2.1"/>
<circle class="c0" cx="98.3" cy="721" r="2.1"/>
<circle class="c0" cx="126.6" cy="877.1" r="2.1"/>
<circle class="c0" cx="118.8" cy="723" r="2.1"/>
<circle class="c7" cx="454.3" cy="909" r="2.1"/>
<circle class="c1" cx="210.3" cy="828.9" r="2.1"/>
<circle class="c0" cx="175.9" cy="821.1" r="2.1"/>
<circle class="c9" cx="491.1" cy="826.4" r="2.1"/>
<circle class="c1" cx="234.2" cy="836.8" r="2.1"/>
<circle class="c3" cx="282" cy="848.6" r="2.1"/>
<circle class="c0" cx="126.5" cy="764.6" r="2.1"/>
<circle class="c3" cx="353.8" cy="915" r="2.1"/>
<circle class="c0" cx="102.8" cy="913.6" r="2.1"/>
<circle class="c0" cx="111.9" cy="859.8" r="2.1"/>
<circle class="c1" cx="280.6" cy="954.3" r="2.1"/>
<circle class="c0" cx="187.2" cy="805.9" r="2.1"/>
<circle class="c0" cx="128.2" cy="871.7" r="2.1"/>
<circle class="c2" cx="296.9" cy="839.8" r="2.1"/>
<circle class="c1" cx="265.2" cy="719.1" r="2.1"/>
<circle class="c1" cx="285.8" cy="718.7" r="2.1"/>
<circle class="c0" cx="132.8" cy="650" r="2.1"/>
<circle class="c5" cx="429.5" cy="777.8" r="2.1"/>
<circle class="c3" cx="296.3" cy="714.3" r="2.1"/>
<circle class="c15" cx="544.9" cy="789.4" r="2.1"/>
<circle class="c8" cx="431.4" cy="725.8" r="2.1"/>
<circle class="c5" cx="422" cy="825.3" r="2.1"/>
<circle class="c0" cx="123.3" cy="767.1" r="2.1"/>
<circle class="c8" cx="445" cy="786.3" r="2.1"/>
<circle class="c0" cx="158.5" cy="914" r="2.1"/>
<circle class="c0" cx="162.5" cy="828.3" r="2.1"/>
<circle class="c6" cx="449.8" cy="711.1" r="2.1"/>
<circle class="c2" cx="306.1" cy="858.7" r="2.1"/>
<circle class="c0" cx="172.1" cy="761.4" r="2.1"/>
<circle class="c2" cx="313.6" cy="834.3" r="2.1"/>
<circle class="c1" cx="272.9" cy="766" r="2.1"/>
<circle class="c5" cx="423.9" cy="834.9" r="2.1"/>
<circle class="c22" cx="524.7" cy="662.4" r="2.1"/>
<circle class="c2" cx="333.1" cy="908" r="2.1"/>
<circle class="c1" cx="277.9" cy="877.1" r="2.1"/>
<circle class="c4" cx="391" cy="649.1" r="2.1"/>
<circle class="c6" cx="373" cy="756.9" r="2.1"/>
<circle class="c0" cx="158.2" cy="771.1" r="2.1"/>
<circle class="c16" cx="554" cy="778.6" r="2.1"/>
<circle class="c21" cx="592.2" cy="844.9" r="2.1"/>
<circle class="c0" cx="118" cy="829" r="2.1"/>
<circle class="c0" cx="138.3" cy="762.9" r="2.1"/>
<circle class="c9" cx="414" cy="770.2" r="2.1"/>
<circle class="c4" cx="403.3" cy="790.4" r="2.1"/>
<circle class="c1" cx="229.9" cy="783.1" r="2.1"/>
<circle class="c0" cx="132.4" cy="818.6" r="2.1"/>
<circle class="c4" cx="350.7" cy="844.3" r="2.1"/>
<circle class="c0" cx="151.1" cy="814.4" r="2.1"/>
<circle class="c0" cx="151.1" cy="779.8" r="2.1"/>
<circle class="c4" cx="329.5" cy="858.1" r="2.1"/>
<circle class="c3" cx="375.3" cy="685" r="2.1"/>
<circle class="c15" cx="562.2" cy="726.8" r="2.1"/>
<circle class="c16" cx="542.6" cy="805.6" r="2.1"/>
<circle class="c2" cx="246.1" cy="879.2" r="2.1"/>
<circle class="c4" cx="358.4" cy="745.8" r="2.1"/>
<circle class="c5" cx="356.4" cy="740.6" r="2.1"/>
<circle class="c1" cx="208.3" cy="871.6" r="2.1"/>
<circle class="c7" cx="429.5" cy="751.6" r="2.1"/>
<circle class="c7" cx="383.2" cy="717.9" r="2.1"/>
<circle class="c0" cx="108.9" cy="724.8" r="2.1"/>
<circle class="c0" cx="126.9" cy="907.1" r="2.1"/>
<circle class="c25" cx="623.7" cy="722.9" r="2.1"/>
<circle class="c10" cx="466.1" cy="755.8" r="2.1"/>
<circle class="c0" cx="159.1" cy="842.9" r="2.1"/>
<circle class="c4" cx="352.9" cy="755.8" r="2.1"/>
<circle class="c1" cx="207.2" cy="816.1" r="2.1"/>
<circle class="c2" cx="328.9" cy="811.6" r="2.1"/>
<circle class="c0" cx="122.9" cy="900.3" r="2.1"/>
<circle class="c0" cx="198.4" cy="832.7" r="2.1"/>
<circle class="c3" cx="383.3" cy="793" r="2.1"/>
<circle class="c2" cx="334.5" cy="784.9" r="2.1"/>
<circle class="c2" cx="283.4" cy="812.9" r="2.1"/>
<circle class="c0" cx="190.6" cy="964.5" r="2.1"/>
<circle class="c7" cx="408.5" cy="753.5" r="2.1"/>
<circle class="c2" cx="299.7" cy="718.4" r="2.1"/>
<circle class="c5" cx="343.2" cy="711.7" r="2.1"/>
<circle class="c0" cx="194.4" cy="702.7" r="2.1"/>
<circle class="c0" cx="135.6" cy="779.7" r="2.1"/>
<circle class="c4" cx="324.1" cy="807.1" r="2.1"/>
<circle class="c3" cx="342" cy="802.4" r="2.1"/>
<circle class="c1" cx="220.2" cy="819.8" r="2.1"/>
<circle class="c13" cx="495.8" cy="787.3" r="2.1"/>
<circle class="c10" cx="510.2" cy="968.6" r="2.1"/>
<circle class="c0" cx="177.3" cy="757.8" r="2.1"/>
<circle class="c2" cx="265" cy="663.7" r="2.1"/>
<circle class="c13" cx="501" cy="613.1" r="2.1"/>
<circle class="c2" cx="279" cy="804" r="2.1"/>
<circle class="c0" cx="203.3" cy="758.6" r="2.1"/>
<circle class="c1" cx="265.1" cy="752.1" r="2.1"/>
<circle class="c2" cx="288.8" cy="759.3" r="2.1"/>
<circle class="c0" cx="118.8" cy="806.7" r="2.1"/>
<circle class="c0" cx="190.1" cy="677.4" r="2.1"/>
<circle class="c22" cx="598.8" cy="720.7" r="2.1"/>
<circle class="c2" cx="311.7" cy="807" r="2.1"/>
<circle class="c10" cx="466.4" cy="730.7" r="2.1"/>
<circle class="c4" cx="407.8" cy="836.8" r="2.1"/>
<circle class="c6" cx="366.3" cy="761.7" r="2.1"/>
<circle class="c1" cx="260.1" cy="804.8" r="2.1"/>
<circle class="c0" cx="117.9" cy="790.4" r="2.1"/>
<circle class="c6" cx="427.3" cy="816" r="2.1"/>
<circle class="c0" cx="153.9" cy="729.1" r="2.1"/>
<circle class="c0" cx="176.6" cy="772.5" r="2.1"/>
<circle class="c0" cx="146.8" cy="767" r="2.1"/>
<circle class="c0" cx="109.1" cy="765" r="2.1"/>
<circle class="c0" cx="152.4" cy="902.5" r="2.1"/>
<circle class="c0" cx="143.6" cy="801.9" r="2.1"/>
<circle class="c0" cx="196.4" cy="806.3" r="2.1"/>
<circle class="c0" cx="129.1" cy="768.4" r="2.1"/>
<circle class="c1" cx="198.9" cy="853.6" r="2.1"/>
<circle class="c0" cx="181.2" cy="803.6" r="2.1"/>
<circle class="c6" cx="357.2" cy="757.1" r="2.1"/>
<circle class="c1" cx="247.3" cy="803.9" r="2.1"/>
<circle class="c0" cx="100.6" cy="862.7" r="2.1"/>
<circle class="c0" cx="147.6" cy="843.3" r="2.1"/>
<circle class="c1" cx="227.2" cy="785.4" r="2.1"/>
<circle class="c0" cx="113.4" cy="853.8" r="2.1"/>
<circle class="c12" cx="450" cy="781.2" r="2.1"/>
<circle class="c0" cx="185.2" cy="797.9" r="2.1"/>
<circle class="c1" cx="210.8" cy="794.3" r="2.1"/>
<circle class="c5" cx="345.6" cy="753.2" r="2.1"/>
<circle class="c2" cx="258.4" cy="813.1" r="2.1"/>
<circle class="c7" cx="388.4" cy="829.6" r="2.1"/>
<circle class="c6" cx="435.2" cy="818.2" r="2.1"/>
<circle class="c1" cx="229.2" cy="838.7" r="2.1"/>
<circle class="c0" cx="141.5" cy="813.4" r="2.1"/>
<circle class="c2" cx="308.6" cy="801.5" r="2.1"/>
<circle class="c2" cx="299.3" cy="804.2" r="2.1"/>
<circle class="c3" cx="288.6" cy="846.5" r="2.1"/>
<circle class="c2" cx="300.9" cy="751.9" r="2.1"/>
<circle class="c0" cx="182.2" cy="841.5" r="2.1"/>
<circle class="c5" cx="418.5" cy="738.8" r="2.1"/>
<circle class="c1" cx="253.2" cy="773.5" r="2.1"/>
<circle class="c1" cx="275.3" cy="786.7" r="2.1"/>
<circle class="c2" cx="283.1" cy="723.4" r="2.1"/>
<circle class="c8" cx="417.6" cy="838.3" r="2.1"/>
<circle class="c0" cx="182.4" cy="772" r="2.1"/>
<circle class="c0" cx="149.2" cy="780.7" r="2.1"/>
<circle class="c4" cx="362.2" cy="806.7" r="2.1"/>
<circle class="c1" cx="269.8" cy="801.9" r="2.1"/>
<circle class="c2" cx="271.5" cy="832.1" r="2.1"/>
<circle class="c0" cx="110.1" cy="672.7" r="2.1"/>
<circle class="c0" cx="107" cy="826.5" r="2.1"/>
<circle class="c0" cx="124.4" cy="790.7" r="2.1"/>
<circle class="c3" cx="341.6" cy="803" r="2.1"/>
<circle class="c3" cx="381.1" cy="822.3" r="2.1"/>
<circle class="c0" cx="98.5" cy="772.8" r="2.1"/>
<circle class="c0" cx="198.5" cy="732.4" r="2.1"/>
<circle class="c1" cx="276.8" cy="709" r="2.1"/>
<circle class="c0" cx="165.6" cy="936.9" r="2.1"/>
<circle class="c4" cx="373.9" cy="767.8" r="2.1"/>
<circle class="c0" cx="143.4" cy="710.2" r="2.1"/>
<circle class="c8" cx="481.6" cy="777" r="2.1"/>
<circle class="c5" cx="364.2" cy="763.9" r="2.1"/>
<circle class="c4" cx="354.7" cy="799.1" r="2.1"/>
<circle class="c7" cx="462.6" cy="781.2" r="2.1"/>
<circle class="c0" cx="200.6" cy="831.2" r="2.1"/>
<circle class="c13" cx="465.2" cy="839.9" r="2.1"/>
<circle class="c0" cx="143.9" cy="740.1" r="2.1"/>
<circle class="c2" cx="325.7" cy="855.5" r="2.1"/>
<circle class="c0" cx="113.9" cy="786.2" r="2.1"/>
<circle class="c2" cx="280.6" cy="713.9" r="2.1"/>
<circle class="c3" cx="381.8" cy="818.5" r="2.1"/>
<circle class="c2" cx="332.9" cy="845.5" r="2.1"/>
<circle class="c5" cx="338.8" cy="662.4" r="2.1"/>
<circle class="c8" cx="463.3" cy="776.2" r="2.1"/>
<circle class="c1" cx="208" cy="735.2" r="2.1"/>
<circle class="c2" cx="314.7" cy="762.1" r="2.1"/>
<circle class="c6" cx="408.1" cy="890" r="2.1"/>
<circle class="c1" cx="227.5" cy="866.7" r="2.1"/>
<circle class="c3" cx="290.6" cy="756.7" r="2.1"/>
<circle class="c3" cx="369.9" cy="957.4" r="2.1"/>
<circle class="c3" cx="371.8" cy="789.2" r="2.1"/>
<circle class="c1" cx="252.2" cy="835.6" r="2.1"/>
<circle class="c0" cx="187.8" cy="867.1" r="2.1"/>
<circle class="c3" cx="323.2" cy="771.9" r="2.1"/>
<circle class="c2" cx="263.2" cy="798.9" r="2.1"/>
<circle class="c1" cx="222.1" cy="784.6" r="2.1"/>
<circle class="c4" cx="389" cy="763.8" r="2.1"/>
<circle class="c5" cx="340.5" cy="815" r="2.1"/>
<circle class="c0" cx="178.5" cy="700.1" r="2.1"/>
<circle class="c3" cx="364.2" cy="762.6" r="2.1"/>
<circle class="c2" cx="328.9" cy="913.4" r="2.1"/>
<circle class="c0" cx="160.7" cy="718" r="2.1"/>
<circle class="c1" cx="236.5" cy="846.6" r="2.1"/>
<circle class="c1" cx="247.3" cy="683.1" r="2.1"/>
<circle class="c4" cx="388.6" cy="789.4" r="2.1"/>
<circle class="c29" cx="643.5" cy="690.6" r="2.1"/>
<circle class="c16" cx="560.4" cy="880.5" r="2.1"/>
<circle class="c3" cx="330.7" cy="753.3" r="2.1"/>
<circle class="c2" cx="252.1" cy="747" r="2.1"/>
<circle class="c2" cx="340.2" cy="756.9" r="2.1"/>
<circle class="c4" cx="362.6" cy="825.1" r="2.1"/>
<circle class="c0" cx="183.5" cy="790.9" r="2.1"/>
<circle class="c0" cx="122.5" cy="855.6" r="2.1"/>
<circle class="c0" cx="183.1" cy="825.2" r="2.1"/>
<circle class="c0" cx="118.1" cy="776.7" r="2.1"/>
<circle class="c5" cx="411.8" cy="809" r="2.1"/>
<circle class="c0" cx="152.8" cy="790.8" r="2.1"/>
<circle class="c7" cx="377.8" cy="772.8" r="2.1"/>
<circle class="c4" cx="400.7" cy="843.6" r="2.1"/>
<circle class="c3" cx="298.6" cy="934" r="2.1"/>
<circle class="c4" cx="410.5" cy="814.6" r="2.1"/>
<circle class="c1" cx="220.9" cy="750.8" r="2.1"/>
<circle class="c3" cx="312.6" cy="867.6" r="2.1"/>
<circle class="c15" cx="515.5" cy="970.6" r="2.1"/>
<circle class="c0" cx="178.1" cy="824" r="2.1"/>
<circle class="c10" cx="443.3" cy="678.7" r="2.1"/>
<circle class="c3" cx="294.4" cy="711.4" r="2.1"/>
<circle class="c0" cx="123.9" cy="895.9" r="2.1"/>
<circle class="c3" cx="348.4" cy="913.6" r="2.1"/>
<circle class="c0" cx="100.7" cy="792.7" r="2.1"/>
<circle class="c2" cx="250.8" cy="678.7" r="2.1"/>
<circle class="c3" cx="382.7" cy="839.4" r="2.1"/>
<circle class="c2" cx="250.4" cy="724.3" r="2.1"/>
<circle class="c12" cx="478.6" cy="870.7" r="2.1"/>
<circle class="c0" cx="201.9" cy="695.5" r="2.1"/>
<circle class="c2" cx="248.9" cy="706.1" r="2.1"/>
<circle class="c13" cx="545.7" cy="788" r="2.1"/>
<circle class="c2" cx="280" cy="787.2" r="2.1"/>
<circle class="c6" cx="456.3" cy="748.6" r="2.1"/>
<circle class="c0" cx="126.1" cy="798.9" r="2.1"/>
<circle class="c2" cx="325.5" cy="812.6" r="2.1"/>
<circle class="c2" cx="347.7" cy="886.7" r="2.1"/>
<circle class="c0" cx="159.3" cy="733" r="2.1"/>
<circle class="c2" cx="288" cy="742.2" r="2.1"/>
<circle class="c0" cx="184.5" cy="816.6" r="2.1"/>
<circle class="c8" cx="490.4" cy="808.4" r="2.1"/>
<circle class="c4" cx="391.3" cy="816.9" r="2.1"/>
<circle class="c0" cx="144.1" cy="863.8" r="2.1"/>
<circle class="c0" cx="109.6" cy="878.7" r="2.1"/>
<circle class="c0" cx="112.8" cy="833.6" r="2.1"/>
<circle class="c1" cx="278.4" cy="812.5" r="2.1"/>
<circle class="c1" cx="256.7" cy="809.7" r="2.1"/>
<circle class="c2" cx="345.3" cy="746.4" r="2.1"/>
<circle class="c7" cx="395.9" cy="776.6" r="2.1"/>
<circle class="c1" cx="219.9" cy="773.4" r="2.1"/>
<circle class="c0" cx="193.9" cy="851" r="2.1"/>
<circle class="c18" cx="579.8" cy="842.7" r="2.1"/>
<circle class="c7" cx="374.3" cy="874.7" r="2.1"/>
<circle class="c0" cx="115.2" cy="757.8" r="2.1"/>
<circle class="c3" cx="324.1" cy="719.7" r="2.1"/>
<circle class="c14" cx="474.6" cy="812" r="2.1"/>
<circle class="c0" cx="179.5" cy="675.6" r="2.1"/>
<circle class="c2" cx="314.4" cy="747.7" r="2.1"/>
<circle class="c5" cx="431.7" cy="721" r="2.1"/>
<circle class="c0" cx="155.7" cy="763.8" r="2.1"/>
<circle class="c4" cx="316.9" cy="816.5" r="2.1"/>
<circle class="c24" cx="565.8" cy="882.8" r="2.1"/>
<circle class="c1" cx="277.4" cy="681.3" r="2.1"/>
<circle class="c0" cx="182.9" cy="894.1" r="2.1"/>
<circle class="c0" cx="176.3" cy="929.9" r="2.1"/>
<circle class="c3" cx="319.5" cy="883.9" r="2.1"/>
<circle class="c8" cx="469.3" cy="754.2" r="2.1"/>
<circle class="c18" cx="511.1" cy="941.8" r="2.1"/>
<circle class="c2" cx="343.1" cy="818.6" r="2.1"/>
<circle class="c1" cx="289.8" cy="884.7" r="2.1"/>
<circle class="c0" cx="97.5" cy="986.1" r="2.1"/>
<circle class="c0" cx="98.3" cy="793.3" r="2.1"/>
<circle class="c7" cx="374.6" cy="712" r="2.1"/>
<circle class="c1" cx="193.8" cy="783" r="2.1"/>
<circle class="c1" cx="280.1" cy="717.4" r="2.1"/>
<circle class="c0" cx="145" cy="832.5" r="2.1"/>
<circle class="c0" cx="110" cy="780" r="2.1"/>
<circle class="c9" cx="403.6" cy="845.1" r="2.1"/>
<circle class="c1" cx="256.4" cy="736.4" r="2.1"/>
<circle class="c17" cx="575.2" cy="631.4" r="2.1"/>
<circle class="c3" cx="355.4" cy="801.3" r="2.1"/>
<circle class="c2" cx="302.4" cy="818.3" r="2.1"/>
<circle class="c1" cx="196.1" cy="765.6" r="2.1"/>
<circle class="c0" cx="150.4" cy="721.7" r="2.1"/>
<circle class="c9" cx="504" cy="751.9" r="2.1"/>
<circle class="c1" cx="235.7" cy="791.8" r="2.1"/>
<circle class="c4" cx="330.4" cy="815.9" r="2.1"/>
<circle class="c1" cx="248.5" cy="822.4" r="2.1"/>
<circle class="c7" cx="426.2" cy="752.4" r="2.1"/>
<circle class="c0" cx="172.2" cy="794.9" r="2.1"/>
<circle class="c0" cx="128.3" cy="855.3" r="2.1"/>
<circle class="c0" cx="183.6" cy="806.2" r="2.1"/>
<circle class="c5" cx="370" cy="828.2" r="2.1"/>
<circle class="c0" cx="144.8" cy="749.7" r="2.1"/>
<circle class="c0" cx="171.3" cy="754.9" r="2.1"/>
<circle class="c1" cx="280.3" cy="713.3" r="2.1"/>
<circle class="c2" cx="320.5" cy="831.8" r="2.1"/>
<circle class="c7" cx="410.5" cy="872" r="2.1"/>
<circle class="c9" cx="508" cy="793.2" r="2.1"/>
<circle class="c0" cx="188.9" cy="770.6" r="2.1"/>
<circle class="c0" cx="180.8" cy="950.8" r="2.1"/>
<circle class="c0" cx="167.2" cy="805" r="2.1"/>
<circle class="c5" cx="399.3" cy="685.5" r="2.1"/>
<circle class="c2" cx="336.5" cy="791.8" r="2.1"/>
<circle class="c0" cx="155" cy="961.8" r="2.1"/>
<circle class="c0" cx="159.1" cy="878.8" r="2.1"/>
<circle class="c0" cx="130.1" cy="901.9" r="2.1"/>
<circle class="c9" cx="414.3" cy="764.7" r="2.1"/>
<circle class="c1" cx="260.7" cy="902.7" r="2.1"/>
<circle class="c0" cx="186.7" cy="825" r="2.1"/>
<circle class="c0" cx="137.4" cy="860.5" r="2.1"/>
<circle class="c6" cx="443" cy="763.8" r="2.1"/>
<circle class="c3" cx="318.7" cy="843.3" r="2.1"/>
<circle class="c0" cx="134.2" cy="753.1" r="2.1"/>
<circle class="c0" cx="167.6" cy="905.4" r="2.1"/>
<circle class="c1" cx="274.3" cy="753" r="2.1"/>
<circle class="c0" cx="146.2" cy="828.7" r="2.1"/>
<circle class="c10" cx="516" cy="809.6" r="2.1"/>
<circle class="c3" cx="288.9" cy="718.1" r="2.1"/>
<circle class="c28" cx="624.5" cy="744.2" r="2.1"/>
<circle class="c0" cx="107.1" cy="733.2" r="2.1"/>
<circle class="c2" cx="292.3" cy="810.1" r="2.1"/>
<circle class="c20" cx="518.3" cy="773.8" r="2.1"/>
<circle class="c0" cx="145.3" cy="805.8" r="2.1"/>
<circle class="c0" cx="148.9" cy="846.9" r="2.1"/>
<circle class="c0" cx="99.4" cy="825.1" r="2.1"/>
<circle class="c16" cx="551.4" cy="802.5" r="2.1"/>
<circle class="c8" cx="389.5" cy="744.5" r="2.1"/>
<circle class="c0" cx="202.6" cy="788.5" r="2.1"/>
<circle class="c0" cx="143.9" cy="776" r="2.1"/>
<circle class="c3" cx="305.8" cy="798.4" r="2.1"/>
<circle class="c0" cx="183.8" cy="827.4" r="2.1"/>
<circle class="c0" cx="119.4" cy="787.9" r="2.1"/>
<circle class="c0" cx="132.6" cy="737.4" r="2.1"/>
<circle class="c0" cx="104.8" cy="777" r="2.1"/>
<circle class="c2" cx="298.2" cy="843.3" r="2.1"/>
<circle class="c1" cx="232.3" cy="736.2" r="2.1"/>
<circle class="c1" cx="245.8" cy="734.6" r="2.1"/>
<circle class="c0" cx="161.1" cy="913.1" r="2.1"/>
<circle class="c0" cx="119.2" cy="708.6" r="2.1"/>
<circle class="c2" cx="245.3" cy="759.4" r="2.1"/>
<circle class="c8" cx="463.8" cy="679.2" r="2.1"/>
<circle class="c9" cx="469.3" cy="774.3" r="2.1"/>
<circle class="c0" cx="150.7" cy="829.8" r="2.1"/>
<circle class="c2" cx="296.4" cy="849.8" r="2.1"/>
<circle class="c1" cx="240.2" cy="779.3" r="2.1"/>
<circle class="c9" cx="458.8" cy="777.8" r="2.1"/>
<circle class="c1" cx="244" cy="750" r="2.1"/>
<circle class="c1" cx="206.5" cy="804.7" r="2.1"/>
<circle class="c5" cx="376.7" cy="776" r="2.1"/>
<circle class="c2" cx="243.3" cy="881.4" r="2.1"/>
<circle class="c8" cx="454.8" cy="807.8" r="2.1"/>
<circle class="c1" cx="282" cy="877.7" r="2.1"/>
<circle class="c2" cx="276.9" cy="815.6" r="2.1"/>
<circle class="c6" cx="362.4" cy="799.9" r="2.1"/>
<circle class="c6" cx="448.4" cy="797.6" r="2.1"/>
<circle class="c0" cx="126" cy="801.8" r="2.1"/>
<circle class="c1" cx="253.8" cy="878.6" r="2.1"/>
<circle class="c6" cx="398.2" cy="809.5" r="2.1"/>
<circle class="c1" cx="253.2" cy="967.3" r="2.1"/>
<circle class="c0" cx="190.7" cy="818" r="2.1"/>
<circle class="c4" cx="367.5" cy="770.4" r="2.1"/>
<circle class="c0" cx="200.9" cy="718.5" r="2.1"/>
<circle class="c6" cx="432.4" cy="711.3" r="2.1"/>
<circle class="c0" cx="194.2" cy="726.8" r="2.1"/>
<circle class="c0" cx="166.9" cy="864.4" r="2.1"/>
<circle class="c1" cx="258.5" cy="793.5" r="2.1"/>
<circle class="c5" cx="417.8" cy="734.2" r="2.1"/>
<circle class="c6" cx="396.3" cy="715.7" r="2.1"/>
<circle class="c4" cx="338.1" cy="919.6" r="2.1"/>
<circle class="c4" cx="404.3" cy="783" r="2.1"/>
<circle class="c1" cx="205.6" cy="831.8" r="2.1"/>
<circle class="c2" cx="311.6" cy="811.2" r="2.1"/>
<circle class="c9" cx="480.6" cy="774.9" r="2.1"/>
<circle class="c3" cx="290.1" cy="733" r="2.1"/>
<circle class="c8" cx="425.6" cy="800.8" r="2.1"/>
<circle class="c2" cx="300.9" cy="677.8" r="2.1"/>
<circle class="c0" cx="163.9" cy="771.5" r="2.1"/>
<circle class="c6" cx="430.1" cy="789.1" r="2.1"/>
<circle class="c0" cx="131" cy="904.9" r="2.1"/>
<circle class="c4" cx="320.1" cy="769.4" r="2.1"/>
<circle class="c0" cx="180.6" cy="747.6" r="2.1"/>
<circle class="c2" cx="305.1" cy="845.9" r="2.1"/>
<circle class="c0" cx="172.3" cy="875.3" r="2.1"/>
<circle class="c4" cx="414.6" cy="880.6" r="2.1"/>
<circle class="c4" cx="395.9" cy="851.7" r="2.1"/>
<circle class="c0" cx="188" cy="821" r="2.1"/>
<circle class="c3" cx="362" cy="714.1" r="2.1"/>
<circle class="c0" cx="202.5" cy="676.3" r="2.1"/>
<circle class="c5" cx="406.1" cy="872.2" r="2.1"/>
<circle class="c0" cx="200.1" cy="872.2" r="2.1"/>
<circle class="c0" cx="112.1" cy="723" r="2.1"/>
<circle class="c3" cx="287.2" cy="850.1" r="2.1"/>
<circle class="c3" cx="328.6" cy="714.6" r="2.1"/>
<circle class="c4" cx="351.4" cy="740.8" r="2.1"/>
<circle class="c4" cx="390.4" cy="706.4" r="2.1"/>
<circle class="c11" cx="499" cy="784.5" r="2.1"/>
<circle class="c13" cx="462.8" cy="774.3" r="2.1"/>
<circle class="c3" cx="373.3" cy="850.5" r="2.1"/>
<circle class="c5" cx="398.7" cy="741.2" r="2.1"/>
<circle class="c7" cx="442.2" cy="802.1" r="2.1"/>
<circle class="c0" cx="108.9" cy="809.6" r="2.1"/>
<circle class="c0" cx="179.4" cy="796.4" r="2.1"/>
<circle class="c2" cx="339.9" cy="777.2" r="2.1"/>
<circle class="c0" cx="127" cy="792" r="2.1"/>
<circle class="c9" cx="405.7" cy="799.8" r="2.1"/>
<circle class="c0" cx="193.9" cy="845.2" r="2.1"/>
<circle class="c1" cx="288.8" cy="802.6" r="2.1"/>
<circle class="c2" cx="328.7" cy="759.3" r="2.1"/>
<circle class="c2" cx="272.9" cy="873.6" r="2.1"/>
</g>
<line x1="150.5" y1="801.6" x2="601.6" y2="786" stroke="#3a36a6" stroke-width="1.5"/>
<line x1="70.6" y1="513.8" x2="683.2" y2="513.8" stroke="#555" stroke-width="1.1"/>
<line x1="683.2" y1="513.8" x2="683.2" y2="1015.4" stroke="#555" stroke-width="1.1"/>
<line x1="70.6" y1="513.8" x2="70.6" y2="1015.4" stroke="#444" stroke-width="1.1"/>
<line x1="70.6" y1="1015.4" x2="683.2" y2="1015.4" stroke="#444" stroke-width="1.1"/>
<line x1="66.2" y1="1013" x2="70.6" y2="1013" stroke="#333" stroke-width="1.1"/>
<polygon points="60.90,1018.20 60.90,1007.85 59.67,1007.85 56.34,1009.66 56.34,1011.05 58.97,1009.81 58.97,1018.20" fill="#4d4d4d"/>
<line x1="66.2" y1="895.8" x2="70.6" y2="895.8" stroke="#333" stroke-width="1.1"/>
<text transform="translate(61.5,901) scale(1.2,1)" font-family="Liberation Sans" font-size="15" fill="#4d4d4d" text-anchor="end">2</text>
<line x1="66.2" y1="778.6" x2="70.6" y2="778.6" stroke="#333" stroke-width="1.1"/>
<text transform="translate(61.5,783.8) scale(1.2,1)" font-family="Liberation Sans" font-size="15" fill="#4d4d4d" text-anchor="end">3</text>
<text transform="translate(61.5,666.6) scale(1.2,1)" font-family="Liberation Sans" font-size="15" fill="#4d4d4d" text-anchor="end">4</text>
<line x1="66.2" y1="544.2" x2="70.6" y2="544.2" stroke="#333" stroke-width="1.1"/>
<text transform="translate(61.5,549.4) scale(1.2,1)" font-family="Liberation Sans" font-size="15" fill="#4d4d4d" text-anchor="end">5</text>
<line x1="150.5" y1="1015.4" x2="150.5" y2="1019.6" stroke="#333" stroke-width="1.1"/>
<text transform="translate(150.5,1036.1) scale(1.2,1)" font-family="Liberation Sans" font-size="15" fill="#4d4d4d" text-anchor="middle">0</text>
<line x1="282.8" y1="1012.4" x2="282.8" y2="1015.4" stroke="#333" stroke-width="1.3"/>
<polygon points="284.00,1036.10 284.00,1025.75 282.77,1025.75 279.44,1027.56 279.44,1028.95 282.07,1027.70 282.07,1036.10" fill="#4d4d4d"/>
<line x1="415.1" y1="1012.4" x2="415.1" y2="1015.4" stroke="#333" stroke-width="1.3"/>
<text transform="translate(415.1,1036.1) scale(1.2,1)" font-family="Liberation Sans" font-size="15" fill="#4d4d4d" text-anchor="middle">2</text>
<line x1="547.4" y1="1012.4" x2="547.4" y2="1015.4" stroke="#333" stroke-width="1.3"/>
<text transform="translate(546.2,1036.1) scale(1.2,1)" font-family="Liberation Sans" font-size="15" fill="#4d4d4d" text-anchor="middle">3</text>
<line x1="678.6" y1="1012.4" x2="678.6" y2="1015.4" stroke="#333" stroke-width="1.3"/>
<text transform="translate(675.5,1036.1) scale(1.2,1)" font-family="Liberation Sans" font-size="15" fill="#4d4d4d" text-anchor="middle">4</text>
<text x="237.7" y="1058" font-family="Liberation Sans" font-size="16.5" fill="#1a1a1a" textLength="248" lengthAdjust="spacingAndGlyphs">Log-transformed Total SSRS Score</text>
<text transform="translate(39.4,749.9) rotate(-90) scale(1,1.21)" font-family="Liberation Sans" font-size="17.9" fill="#1a1a1a" stroke="#1a1a1a" stroke-width="0.2" text-anchor="middle">PRS for ASD</text>
<text x="2.3" y="533.9" font-family="Liberation Sans" font-weight="bold" font-size="28.2" fill="#111">B</text>
<text x="491.1" y="543.9" font-family="Liberation Sans" font-weight="bold" font-size="16" fill="#111" textLength="142.8" lengthAdjust="spacingAndGlyphs">Pearson’s r = 0.008</text>
<text x="491.1" y="563.8" font-family="Liberation Sans" font-weight="bold" font-size="16" fill="#111" textLength="175.8" lengthAdjust="spacingAndGlyphs">Spearman’s rho = 0.059</text>
</svg></body></html>
